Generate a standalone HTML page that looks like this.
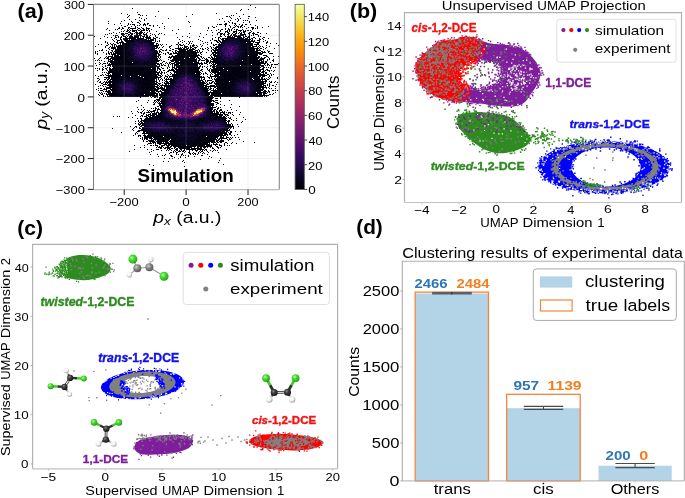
<!DOCTYPE html>
<html><head><meta charset="utf-8"><style>
html,body{margin:0;padding:0;background:#fff;overflow:hidden}
svg{display:block;filter:blur(0.35px)}
text{font-family:"Liberation Sans",sans-serif}
</style></head><body>
<svg width="685" height="498" viewBox="0 0 685 498" font-family="'Liberation Sans', sans-serif">
<rect width="685" height="498" fill="#fff"/>
<g id="densityA">
<g shape-rendering="crispEdges"><path fill="#02020e" d="M250 5h1v1h-1zM255 7h1v1h-1zM132 8h1v1h-1zM241 9h1v1h-1zM248 9h1v1h-1zM240 10h1v1h-1zM158 11h1v1h-1zM137 12h1v1h-1zM121 13h1v1h-1zM216 13h1v1h-1zM236 13h1v1h-1zM127 14h1v1h-1zM138 14h2v1h-2zM192 14h1v1h-1zM243 14h1v1h-1zM129 15h1v1h-1zM140 15h1v1h-1zM142 15h1v1h-1zM146 15h1v1h-1zM231 15h1v1h-1zM233 15h1v1h-1zM128 16h1v1h-1zM155 16h1v1h-1zM186 16h1v1h-1zM226 16h2v1h-2zM229 16h1v1h-1zM239 16h1v1h-1zM248 16h2v1h-2zM127 17h1v1h-1zM139 17h1v1h-1zM230 17h1v1h-1zM255 17h1v1h-1zM141 18h1v1h-1zM146 18h1v1h-1zM168 18h1v1h-1zM222 18h1v1h-1zM231 18h1v1h-1zM237 18h1v1h-1zM240 18h1v1h-1zM248 18h1v1h-1zM129 19h1v1h-1zM135 19h1v1h-1zM144 19h1v1h-1zM219 19h1v1h-1zM235 19h1v1h-1zM238 19h1v1h-1zM124 20h1v1h-1zM139 20h1v1h-1zM144 20h1v1h-1zM230 20h1v1h-1zM238 20h1v1h-1zM243 20h1v1h-1zM245 20h1v1h-1zM247 20h1v1h-1zM256 20h1v1h-1zM108 21h1v1h-1zM121 21h1v1h-1zM131 21h1v1h-1zM140 21h1v1h-1zM188 21h1v1h-1zM224 21h1v1h-1zM228 21h1v1h-1zM237 21h1v1h-1zM249 21h1v1h-1zM132 22h1v1h-1zM137 22h2v1h-2zM189 22h1v1h-1zM229 22h1v1h-1zM232 22h1v1h-1zM243 22h1v1h-1zM249 22h1v1h-1zM108 23h1v1h-1zM120 23h1v1h-1zM128 23h1v1h-1zM139 23h1v1h-1zM144 23h1v1h-1zM147 23h2v1h-2zM162 23h1v1h-1zM225 23h2v1h-2zM232 23h1v1h-1zM234 23h2v1h-2zM114 24h1v1h-1zM128 24h1v1h-1zM130 24h1v1h-1zM132 24h3v1h-3zM140 24h1v1h-1zM143 24h3v1h-3zM147 24h1v1h-1zM217 24h1v1h-1zM219 24h3v1h-3zM224 24h3v1h-3zM235 24h1v1h-1zM239 24h1v1h-1zM242 24h1v1h-1zM245 24h2v1h-2zM250 24h1v1h-1zM121 25h1v1h-1zM127 25h1v1h-1zM134 25h1v1h-1zM137 25h1v1h-1zM139 25h1v1h-1zM143 25h1v1h-1zM145 25h1v1h-1zM149 25h2v1h-2zM153 25h1v1h-1zM157 25h1v1h-1zM225 25h1v1h-1zM229 25h1v1h-1zM234 25h1v1h-1zM236 25h1v1h-1zM241 25h2v1h-2zM255 25h1v1h-1zM124 26h2v1h-2zM131 26h1v1h-1zM135 26h1v1h-1zM153 26h1v1h-1zM164 26h1v1h-1zM190 26h1v1h-1zM212 26h1v1h-1zM216 26h1v1h-1zM225 26h1v1h-1zM230 26h1v1h-1zM235 26h1v1h-1zM237 26h2v1h-2zM240 26h2v1h-2zM244 26h1v1h-1zM257 26h1v1h-1zM268 26h1v1h-1zM119 27h1v1h-1zM122 27h1v1h-1zM128 27h2v1h-2zM135 27h1v1h-1zM137 27h1v1h-1zM141 27h1v1h-1zM146 27h1v1h-1zM159 27h1v1h-1zM208 27h1v1h-1zM213 27h2v1h-2zM230 27h1v1h-1zM233 27h2v1h-2zM238 27h1v1h-1zM240 27h1v1h-1zM242 27h1v1h-1zM248 27h1v1h-1zM251 27h3v1h-3zM257 27h1v1h-1zM262 27h1v1h-1zM107 28h1v1h-1zM118 28h2v1h-2zM122 28h2v1h-2zM128 28h1v1h-1zM130 28h6v1h-6zM138 28h2v1h-2zM142 28h2v1h-2zM146 28h4v1h-4zM164 28h1v1h-1zM208 28h1v1h-1zM225 28h1v1h-1zM228 28h1v1h-1zM232 28h1v1h-1zM246 28h1v1h-1zM252 28h2v1h-2zM255 28h1v1h-1zM257 28h1v1h-1zM106 29h1v1h-1zM115 29h1v1h-1zM117 29h1v1h-1zM121 29h1v1h-1zM127 29h1v1h-1zM129 29h1v1h-1zM132 29h1v1h-1zM137 29h1v1h-1zM140 29h1v1h-1zM143 29h2v1h-2zM146 29h1v1h-1zM148 29h1v1h-1zM151 29h1v1h-1zM178 29h1v1h-1zM218 29h1v1h-1zM221 29h2v1h-2zM225 29h1v1h-1zM228 29h2v1h-2zM231 29h1v1h-1zM234 29h1v1h-1zM236 29h2v1h-2zM242 29h1v1h-1zM252 29h1v1h-1zM109 30h1v1h-1zM124 30h1v1h-1zM127 30h2v1h-2zM130 30h1v1h-1zM132 30h5v1h-5zM138 30h2v1h-2zM141 30h4v1h-4zM146 30h2v1h-2zM149 30h1v1h-1zM172 30h1v1h-1zM207 30h1v1h-1zM211 30h1v1h-1zM216 30h1v1h-1zM220 30h1v1h-1zM227 30h1v1h-1zM229 30h1v1h-1zM231 30h1v1h-1zM236 30h1v1h-1zM238 30h4v1h-4zM243 30h1v1h-1zM245 30h1v1h-1zM247 30h2v1h-2zM250 30h1v1h-1zM121 31h1v1h-1zM123 31h1v1h-1zM126 31h2v1h-2zM129 31h1v1h-1zM132 31h3v1h-3zM136 31h1v1h-1zM140 31h2v1h-2zM149 31h1v1h-1zM156 31h1v1h-1zM220 31h1v1h-1zM225 31h3v1h-3zM229 31h1v1h-1zM233 31h4v1h-4zM240 31h1v1h-1zM243 31h3v1h-3zM251 31h1v1h-1zM113 32h1v1h-1zM119 32h1v1h-1zM128 32h3v1h-3zM135 32h3v1h-3zM139 32h4v1h-4zM144 32h1v1h-1zM147 32h1v1h-1zM212 32h1v1h-1zM218 32h2v1h-2zM225 32h1v1h-1zM227 32h2v1h-2zM233 32h2v1h-2zM236 32h1v1h-1zM239 32h1v1h-1zM241 32h1v1h-1zM243 32h2v1h-2zM249 32h2v1h-2zM253 32h1v1h-1zM257 32h2v1h-2zM109 33h1v1h-1zM111 33h1v1h-1zM116 33h1v1h-1zM121 33h3v1h-3zM125 33h3v1h-3zM130 33h3v1h-3zM134 33h1v1h-1zM136 33h6v1h-6zM143 33h1v1h-1zM146 33h1v1h-1zM150 33h1v1h-1zM159 33h1v1h-1zM161 33h1v1h-1zM176 33h1v1h-1zM189 33h1v1h-1zM200 33h1v1h-1zM217 33h1v1h-1zM220 33h3v1h-3zM224 33h1v1h-1zM228 33h2v1h-2zM232 33h1v1h-1zM235 33h2v1h-2zM238 33h1v1h-1zM240 33h2v1h-2zM244 33h1v1h-1zM248 33h2v1h-2zM252 33h3v1h-3zM260 33h1v1h-1zM266 33h1v1h-1zM105 34h1v1h-1zM107 34h1v1h-1zM121 34h4v1h-4zM128 34h2v1h-2zM131 34h2v1h-2zM136 34h2v1h-2zM139 34h2v1h-2zM143 34h4v1h-4zM152 34h1v1h-1zM154 34h1v1h-1zM158 34h1v1h-1zM164 34h1v1h-1zM206 34h1v1h-1zM217 34h1v1h-1zM220 34h2v1h-2zM223 34h2v1h-2zM227 34h2v1h-2zM231 34h1v1h-1zM233 34h3v1h-3zM240 34h6v1h-6zM249 34h1v1h-1zM253 34h1v1h-1zM255 34h3v1h-3zM113 35h1v1h-1zM115 35h3v1h-3zM122 35h2v1h-2zM126 35h1v1h-1zM128 35h1v1h-1zM130 35h2v1h-2zM134 35h8v1h-8zM144 35h1v1h-1zM146 35h2v1h-2zM150 35h1v1h-1zM155 35h1v1h-1zM212 35h1v1h-1zM220 35h1v1h-1zM224 35h1v1h-1zM228 35h1v1h-1zM230 35h2v1h-2zM233 35h4v1h-4zM238 35h6v1h-6zM245 35h1v1h-1zM249 35h1v1h-1zM251 35h1v1h-1zM253 35h1v1h-1zM258 35h1v1h-1zM94 36h1v1h-1zM104 36h1v1h-1zM115 36h1v1h-1zM118 36h1v1h-1zM121 36h1v1h-1zM123 36h3v1h-3zM127 36h1v1h-1zM129 36h4v1h-4zM134 36h5v1h-5zM140 36h1v1h-1zM142 36h3v1h-3zM146 36h2v1h-2zM149 36h1v1h-1zM155 36h1v1h-1zM182 36h1v1h-1zM187 36h1v1h-1zM199 36h1v1h-1zM220 36h2v1h-2zM225 36h1v1h-1zM227 36h4v1h-4zM232 36h1v1h-1zM234 36h7v1h-7zM243 36h1v1h-1zM245 36h2v1h-2zM248 36h2v1h-2zM258 36h1v1h-1zM260 36h1v1h-1zM107 37h1v1h-1zM111 37h1v1h-1zM115 37h2v1h-2zM118 37h1v1h-1zM120 37h2v1h-2zM125 37h2v1h-2zM129 37h10v1h-10zM140 37h1v1h-1zM143 37h1v1h-1zM145 37h6v1h-6zM153 37h1v1h-1zM156 37h2v1h-2zM177 37h1v1h-1zM189 37h1v1h-1zM203 37h1v1h-1zM215 37h1v1h-1zM218 37h2v1h-2zM227 37h8v1h-8zM237 37h5v1h-5zM243 37h2v1h-2zM247 37h3v1h-3zM253 37h2v1h-2zM263 37h2v1h-2zM100 38h1v1h-1zM114 38h1v1h-1zM120 38h1v1h-1zM123 38h13v1h-13zM137 38h7v1h-7zM146 38h5v1h-5zM153 38h3v1h-3zM159 38h1v1h-1zM212 38h1v1h-1zM218 38h1v1h-1zM220 38h1v1h-1zM222 38h22v1h-22zM245 38h3v1h-3zM249 38h1v1h-1zM251 38h2v1h-2zM255 38h1v1h-1zM259 38h1v1h-1zM262 38h1v1h-1zM268 38h1v1h-1zM112 39h1v1h-1zM116 39h1v1h-1zM120 39h2v1h-2zM123 39h5v1h-5zM129 39h1v1h-1zM131 39h3v1h-3zM135 39h1v1h-1zM145 39h2v1h-2zM148 39h1v1h-1zM150 39h4v1h-4zM155 39h1v1h-1zM179 39h1v1h-1zM198 39h1v1h-1zM212 39h1v1h-1zM218 39h1v1h-1zM221 39h3v1h-3zM225 39h3v1h-3zM238 39h13v1h-13zM252 39h1v1h-1zM259 39h2v1h-2zM263 39h1v1h-1zM113 40h1v1h-1zM117 40h3v1h-3zM121 40h1v1h-1zM124 40h10v1h-10zM148 40h6v1h-6zM155 40h1v1h-1zM159 40h1v1h-1zM182 40h1v1h-1zM200 40h1v1h-1zM210 40h1v1h-1zM214 40h3v1h-3zM218 40h2v1h-2zM222 40h3v1h-3zM240 40h1v1h-1zM242 40h8v1h-8zM251 40h2v1h-2zM254 40h1v1h-1zM257 40h3v1h-3zM265 40h1v1h-1zM105 41h1v1h-1zM114 41h1v1h-1zM117 41h1v1h-1zM121 41h2v1h-2zM125 41h4v1h-4zM130 41h1v1h-1zM148 41h1v1h-1zM150 41h2v1h-2zM155 41h1v1h-1zM157 41h1v1h-1zM159 41h1v1h-1zM180 41h1v1h-1zM184 41h1v1h-1zM188 41h1v1h-1zM190 41h1v1h-1zM192 41h1v1h-1zM202 41h1v1h-1zM216 41h2v1h-2zM219 41h2v1h-2zM222 41h1v1h-1zM241 41h1v1h-1zM243 41h12v1h-12zM259 41h1v1h-1zM263 41h1v1h-1zM267 41h1v1h-1zM105 42h1v1h-1zM107 42h1v1h-1zM116 42h2v1h-2zM119 42h5v1h-5zM126 42h3v1h-3zM150 42h5v1h-5zM178 42h1v1h-1zM182 42h1v1h-1zM189 42h1v1h-1zM205 42h1v1h-1zM207 42h1v1h-1zM211 42h1v1h-1zM217 42h2v1h-2zM220 42h2v1h-2zM245 42h1v1h-1zM247 42h4v1h-4zM253 42h1v1h-1zM255 42h5v1h-5zM266 42h2v1h-2zM107 43h1v1h-1zM110 43h1v1h-1zM113 43h1v1h-1zM117 43h2v1h-2zM120 43h1v1h-1zM122 43h5v1h-5zM128 43h1v1h-1zM152 43h2v1h-2zM156 43h2v1h-2zM178 43h1v1h-1zM186 43h1v1h-1zM189 43h1v1h-1zM191 43h1v1h-1zM203 43h1v1h-1zM211 43h1v1h-1zM219 43h1v1h-1zM246 43h7v1h-7zM257 43h2v1h-2zM266 43h1v1h-1zM270 43h1v1h-1zM276 43h1v1h-1zM98 44h1v1h-1zM101 44h1v1h-1zM108 44h1v1h-1zM111 44h2v1h-2zM114 44h2v1h-2zM120 44h1v1h-1zM122 44h5v1h-5zM128 44h1v1h-1zM151 44h1v1h-1zM153 44h1v1h-1zM156 44h1v1h-1zM158 44h1v1h-1zM160 44h1v1h-1zM162 44h1v1h-1zM166 44h1v1h-1zM176 44h2v1h-2zM179 44h2v1h-2zM183 44h1v1h-1zM188 44h1v1h-1zM193 44h1v1h-1zM200 44h1v1h-1zM207 44h1v1h-1zM213 44h1v1h-1zM215 44h2v1h-2zM218 44h2v1h-2zM247 44h6v1h-6zM254 44h5v1h-5zM106 45h2v1h-2zM112 45h1v1h-1zM114 45h1v1h-1zM116 45h1v1h-1zM118 45h7v1h-7zM126 45h1v1h-1zM153 45h6v1h-6zM161 45h1v1h-1zM171 45h1v1h-1zM178 45h1v1h-1zM180 45h3v1h-3zM184 45h1v1h-1zM190 45h1v1h-1zM192 45h3v1h-3zM196 45h1v1h-1zM202 45h1v1h-1zM213 45h2v1h-2zM218 45h1v1h-1zM243 45h1v1h-1zM247 45h1v1h-1zM249 45h4v1h-4zM256 45h1v1h-1zM259 45h1v1h-1zM266 45h1v1h-1zM278 45h1v1h-1zM95 46h1v1h-1zM105 46h1v1h-1zM110 46h1v1h-1zM112 46h1v1h-1zM114 46h1v1h-1zM116 46h9v1h-9zM154 46h4v1h-4zM163 46h1v1h-1zM169 46h2v1h-2zM178 46h1v1h-1zM184 46h4v1h-4zM190 46h1v1h-1zM192 46h2v1h-2zM197 46h1v1h-1zM201 46h1v1h-1zM210 46h1v1h-1zM216 46h2v1h-2zM246 46h2v1h-2zM249 46h2v1h-2zM252 46h5v1h-5zM258 46h1v1h-1zM260 46h1v1h-1zM262 46h1v1h-1zM269 46h1v1h-1zM105 47h1v1h-1zM109 47h1v1h-1zM111 47h5v1h-5zM117 47h10v1h-10zM154 47h1v1h-1zM156 47h2v1h-2zM159 47h1v1h-1zM162 47h1v1h-1zM169 47h1v1h-1zM178 47h1v1h-1zM180 47h1v1h-1zM182 47h1v1h-1zM184 47h3v1h-3zM188 47h1v1h-1zM190 47h2v1h-2zM194 47h3v1h-3zM207 47h1v1h-1zM211 47h1v1h-1zM213 47h1v1h-1zM215 47h3v1h-3zM244 47h1v1h-1zM247 47h7v1h-7zM257 47h1v1h-1zM259 47h1v1h-1zM263 47h1v1h-1zM266 47h1v1h-1zM108 48h1v1h-1zM111 48h5v1h-5zM117 48h9v1h-9zM154 48h3v1h-3zM158 48h1v1h-1zM170 48h1v1h-1zM175 48h7v1h-7zM183 48h2v1h-2zM186 48h3v1h-3zM190 48h1v1h-1zM192 48h2v1h-2zM195 48h1v1h-1zM200 48h1v1h-1zM202 48h1v1h-1zM205 48h1v1h-1zM208 48h1v1h-1zM211 48h1v1h-1zM214 48h3v1h-3zM248 48h11v1h-11zM260 48h2v1h-2zM265 48h1v1h-1zM274 48h1v1h-1zM102 49h1v1h-1zM109 49h1v1h-1zM113 49h1v1h-1zM115 49h9v1h-9zM160 49h2v1h-2zM166 49h1v1h-1zM172 49h2v1h-2zM178 49h10v1h-10zM189 49h6v1h-6zM198 49h1v1h-1zM202 49h2v1h-2zM207 49h1v1h-1zM212 49h2v1h-2zM215 49h2v1h-2zM245 49h3v1h-3zM250 49h1v1h-1zM252 49h3v1h-3zM256 49h2v1h-2zM259 49h1v1h-1zM263 49h1v1h-1zM99 50h1v1h-1zM101 50h2v1h-2zM106 50h1v1h-1zM111 50h2v1h-2zM115 50h7v1h-7zM123 50h1v1h-1zM125 50h1v1h-1zM155 50h2v1h-2zM159 50h1v1h-1zM162 50h2v1h-2zM165 50h2v1h-2zM169 50h2v1h-2zM175 50h2v1h-2zM179 50h7v1h-7zM187 50h6v1h-6zM195 50h3v1h-3zM199 50h1v1h-1zM208 50h1v1h-1zM211 50h1v1h-1zM213 50h4v1h-4zM247 50h1v1h-1zM249 50h6v1h-6zM256 50h5v1h-5zM267 50h1v1h-1zM95 51h1v1h-1zM97 51h1v1h-1zM108 51h1v1h-1zM112 51h1v1h-1zM114 51h9v1h-9zM124 51h2v1h-2zM156 51h2v1h-2zM159 51h2v1h-2zM172 51h1v1h-1zM175 51h1v1h-1zM177 51h19v1h-19zM197 51h1v1h-1zM199 51h1v1h-1zM202 51h1v1h-1zM211 51h1v1h-1zM214 51h2v1h-2zM248 51h1v1h-1zM250 51h8v1h-8zM261 51h2v1h-2zM264 51h1v1h-1zM268 51h2v1h-2zM95 52h1v1h-1zM103 52h1v1h-1zM108 52h1v1h-1zM110 52h2v1h-2zM113 52h1v1h-1zM115 52h12v1h-12zM156 52h2v1h-2zM159 52h1v1h-1zM161 52h1v1h-1zM167 52h2v1h-2zM173 52h1v1h-1zM175 52h2v1h-2zM178 52h21v1h-21zM200 52h2v1h-2zM206 52h1v1h-1zM212 52h5v1h-5zM246 52h15v1h-15zM262 52h4v1h-4zM268 52h1v1h-1zM95 53h1v1h-1zM97 53h1v1h-1zM106 53h1v1h-1zM108 53h2v1h-2zM111 53h1v1h-1zM113 53h10v1h-10zM124 53h2v1h-2zM128 53h1v1h-1zM156 53h3v1h-3zM163 53h1v1h-1zM165 53h1v1h-1zM168 53h1v1h-1zM170 53h2v1h-2zM173 53h11v1h-11zM185 53h12v1h-12zM200 53h1v1h-1zM212 53h2v1h-2zM215 53h2v1h-2zM246 53h4v1h-4zM252 53h11v1h-11zM269 53h4v1h-4zM97 54h1v1h-1zM106 54h1v1h-1zM109 54h1v1h-1zM111 54h5v1h-5zM117 54h6v1h-6zM124 54h2v1h-2zM156 54h1v1h-1zM158 54h3v1h-3zM165 54h1v1h-1zM169 54h3v1h-3zM177 54h3v1h-3zM181 54h9v1h-9zM191 54h6v1h-6zM198 54h1v1h-1zM201 54h1v1h-1zM211 54h1v1h-1zM213 54h3v1h-3zM245 54h2v1h-2zM248 54h10v1h-10zM259 54h3v1h-3zM112 55h1v1h-1zM114 55h5v1h-5zM120 55h2v1h-2zM123 55h1v1h-1zM125 55h1v1h-1zM156 55h1v1h-1zM158 55h2v1h-2zM172 55h1v1h-1zM175 55h10v1h-10zM186 55h7v1h-7zM194 55h6v1h-6zM210 55h1v1h-1zM213 55h3v1h-3zM217 55h1v1h-1zM245 55h2v1h-2zM249 55h9v1h-9zM263 55h4v1h-4zM106 56h1v1h-1zM108 56h5v1h-5zM114 56h5v1h-5zM120 56h3v1h-3zM124 56h1v1h-1zM127 56h3v1h-3zM156 56h3v1h-3zM160 56h1v1h-1zM169 56h1v1h-1zM171 56h16v1h-16zM188 56h1v1h-1zM190 56h8v1h-8zM200 56h2v1h-2zM211 56h1v1h-1zM214 56h2v1h-2zM243 56h1v1h-1zM245 56h12v1h-12zM258 56h2v1h-2zM266 56h2v1h-2zM273 56h1v1h-1zM278 56h1v1h-1zM100 57h1v1h-1zM105 57h1v1h-1zM107 57h2v1h-2zM111 57h16v1h-16zM130 57h1v1h-1zM155 57h2v1h-2zM158 57h1v1h-1zM160 57h1v1h-1zM168 57h4v1h-4zM173 57h8v1h-8zM182 57h2v1h-2zM186 57h3v1h-3zM191 57h5v1h-5zM197 57h2v1h-2zM201 57h1v1h-1zM203 57h1v1h-1zM208 57h2v1h-2zM211 57h2v1h-2zM214 57h1v1h-1zM243 57h1v1h-1zM245 57h1v1h-1zM247 57h2v1h-2zM250 57h2v1h-2zM253 57h7v1h-7zM261 57h1v1h-1zM264 57h2v1h-2zM268 57h1v1h-1zM94 58h1v1h-1zM99 58h1v1h-1zM104 58h1v1h-1zM106 58h3v1h-3zM110 58h9v1h-9zM120 58h3v1h-3zM125 58h2v1h-2zM156 58h2v1h-2zM159 58h1v1h-1zM170 58h1v1h-1zM173 58h11v1h-11zM185 58h3v1h-3zM189 58h6v1h-6zM196 58h1v1h-1zM198 58h2v1h-2zM202 58h1v1h-1zM204 58h1v1h-1zM206 58h1v1h-1zM210 58h1v1h-1zM212 58h6v1h-6zM239 58h1v1h-1zM242 58h4v1h-4zM247 58h12v1h-12zM260 58h5v1h-5zM269 58h1v1h-1zM98 59h1v1h-1zM108 59h3v1h-3zM112 59h12v1h-12zM125 59h2v1h-2zM128 59h2v1h-2zM155 59h3v1h-3zM160 59h1v1h-1zM168 59h1v1h-1zM172 59h16v1h-16zM190 59h7v1h-7zM199 59h2v1h-2zM205 59h3v1h-3zM211 59h6v1h-6zM239 59h1v1h-1zM243 59h3v1h-3zM247 59h3v1h-3zM251 59h7v1h-7zM259 59h5v1h-5zM267 59h1v1h-1zM269 59h1v1h-1zM273 59h1v1h-1zM95 60h1v1h-1zM97 60h1v1h-1zM99 60h1v1h-1zM101 60h1v1h-1zM108 60h1v1h-1zM110 60h3v1h-3zM114 60h3v1h-3zM119 60h1v1h-1zM121 60h4v1h-4zM126 60h3v1h-3zM130 60h1v1h-1zM152 60h1v1h-1zM155 60h5v1h-5zM161 60h1v1h-1zM170 60h15v1h-15zM186 60h11v1h-11zM198 60h2v1h-2zM201 60h4v1h-4zM206 60h3v1h-3zM210 60h1v1h-1zM213 60h4v1h-4zM240 60h1v1h-1zM243 60h6v1h-6zM250 60h2v1h-2zM253 60h9v1h-9zM263 60h1v1h-1zM267 60h1v1h-1zM272 60h2v1h-2zM104 61h1v1h-1zM108 61h7v1h-7zM116 61h4v1h-4zM121 61h8v1h-8zM131 61h1v1h-1zM156 61h3v1h-3zM163 61h2v1h-2zM171 61h3v1h-3zM175 61h4v1h-4zM180 61h3v1h-3zM184 61h4v1h-4zM189 61h8v1h-8zM198 61h1v1h-1zM206 61h3v1h-3zM210 61h6v1h-6zM218 61h1v1h-1zM242 61h3v1h-3zM247 61h5v1h-5zM253 61h7v1h-7zM261 61h3v1h-3zM265 61h2v1h-2zM273 61h1v1h-1zM99 62h1v1h-1zM107 62h1v1h-1zM110 62h12v1h-12zM123 62h3v1h-3zM127 62h4v1h-4zM137 62h1v1h-1zM151 62h1v1h-1zM154 62h3v1h-3zM162 62h1v1h-1zM166 62h1v1h-1zM169 62h2v1h-2zM174 62h9v1h-9zM186 62h7v1h-7zM194 62h5v1h-5zM201 62h1v1h-1zM204 62h1v1h-1zM206 62h2v1h-2zM209 62h2v1h-2zM212 62h7v1h-7zM238 62h1v1h-1zM240 62h2v1h-2zM243 62h1v1h-1zM245 62h19v1h-19zM265 62h2v1h-2zM270 62h1v1h-1zM95 63h1v1h-1zM100 63h1v1h-1zM103 63h3v1h-3zM107 63h1v1h-1zM109 63h1v1h-1zM111 63h16v1h-16zM128 63h1v1h-1zM130 63h1v1h-1zM132 63h1v1h-1zM152 63h7v1h-7zM160 63h2v1h-2zM165 63h1v1h-1zM167 63h1v1h-1zM169 63h1v1h-1zM171 63h4v1h-4zM176 63h2v1h-2zM179 63h24v1h-24zM204 63h3v1h-3zM209 63h1v1h-1zM211 63h1v1h-1zM213 63h1v1h-1zM215 63h5v1h-5zM222 63h1v1h-1zM236 63h1v1h-1zM239 63h1v1h-1zM241 63h5v1h-5zM247 63h1v1h-1zM249 63h17v1h-17zM267 63h1v1h-1zM278 63h1v1h-1zM99 64h1v1h-1zM102 64h1v1h-1zM108 64h13v1h-13zM122 64h10v1h-10zM133 64h1v1h-1zM150 64h1v1h-1zM152 64h4v1h-4zM157 64h3v1h-3zM161 64h1v1h-1zM163 64h1v1h-1zM168 64h1v1h-1zM170 64h1v1h-1zM172 64h1v1h-1zM174 64h5v1h-5zM181 64h3v1h-3zM185 64h5v1h-5zM191 64h2v1h-2zM194 64h4v1h-4zM199 64h1v1h-1zM201 64h2v1h-2zM207 64h1v1h-1zM212 64h4v1h-4zM217 64h1v1h-1zM220 64h1v1h-1zM225 64h1v1h-1zM232 64h1v1h-1zM235 64h1v1h-1zM237 64h2v1h-2zM240 64h1v1h-1zM242 64h1v1h-1zM244 64h1v1h-1zM246 64h4v1h-4zM252 64h9v1h-9zM264 64h1v1h-1zM267 64h2v1h-2zM271 64h2v1h-2zM274 64h4v1h-4zM96 65h1v1h-1zM105 65h1v1h-1zM107 65h4v1h-4zM112 65h20v1h-20zM133 65h2v1h-2zM136 65h1v1h-1zM138 65h2v1h-2zM141 65h1v1h-1zM147 65h1v1h-1zM152 65h5v1h-5zM159 65h1v1h-1zM161 65h2v1h-2zM164 65h2v1h-2zM168 65h1v1h-1zM172 65h1v1h-1zM174 65h19v1h-19zM194 65h4v1h-4zM200 65h1v1h-1zM210 65h2v1h-2zM213 65h2v1h-2zM216 65h4v1h-4zM223 65h4v1h-4zM228 65h1v1h-1zM231 65h1v1h-1zM233 65h1v1h-1zM236 65h4v1h-4zM241 65h2v1h-2zM245 65h7v1h-7zM253 65h11v1h-11zM265 65h1v1h-1zM267 65h1v1h-1zM269 65h1v1h-1zM271 65h1v1h-1zM102 66h1v1h-1zM105 66h1v1h-1zM110 66h1v1h-1zM112 66h5v1h-5zM119 66h1v1h-1zM121 66h4v1h-4zM126 66h1v1h-1zM128 66h7v1h-7zM136 66h1v1h-1zM138 66h2v1h-2zM141 66h3v1h-3zM147 66h1v1h-1zM151 66h9v1h-9zM168 66h1v1h-1zM172 66h1v1h-1zM174 66h1v1h-1zM176 66h4v1h-4zM181 66h2v1h-2zM185 66h2v1h-2zM188 66h2v1h-2zM191 66h7v1h-7zM199 66h2v1h-2zM202 66h1v1h-1zM204 66h1v1h-1zM207 66h1v1h-1zM210 66h1v1h-1zM212 66h8v1h-8zM221 66h2v1h-2zM224 66h2v1h-2zM227 66h1v1h-1zM229 66h3v1h-3zM234 66h1v1h-1zM236 66h6v1h-6zM243 66h1v1h-1zM245 66h2v1h-2zM248 66h1v1h-1zM250 66h4v1h-4zM255 66h5v1h-5zM261 66h3v1h-3zM271 66h1v1h-1zM103 67h1v1h-1zM107 67h1v1h-1zM109 67h1v1h-1zM113 67h21v1h-21zM135 67h7v1h-7zM143 67h5v1h-5zM149 67h1v1h-1zM151 67h5v1h-5zM157 67h2v1h-2zM161 67h1v1h-1zM167 67h1v1h-1zM169 67h1v1h-1zM172 67h3v1h-3zM176 67h8v1h-8zM188 67h1v1h-1zM190 67h10v1h-10zM202 67h1v1h-1zM206 67h1v1h-1zM212 67h3v1h-3zM216 67h11v1h-11zM228 67h15v1h-15zM244 67h4v1h-4zM249 67h2v1h-2zM252 67h1v1h-1zM254 67h7v1h-7zM263 67h2v1h-2zM266 67h1v1h-1zM268 67h1v1h-1zM270 67h1v1h-1zM273 67h1v1h-1zM275 67h1v1h-1zM95 68h1v1h-1zM97 68h1v1h-1zM99 68h1v1h-1zM102 68h1v1h-1zM105 68h2v1h-2zM109 68h2v1h-2zM112 68h7v1h-7zM120 68h11v1h-11zM133 68h3v1h-3zM137 68h1v1h-1zM139 68h3v1h-3zM143 68h8v1h-8zM152 68h4v1h-4zM157 68h3v1h-3zM162 68h2v1h-2zM167 68h1v1h-1zM172 68h1v1h-1zM174 68h3v1h-3zM178 68h1v1h-1zM180 68h1v1h-1zM182 68h1v1h-1zM184 68h1v1h-1zM189 68h3v1h-3zM193 68h7v1h-7zM207 68h1v1h-1zM210 68h1v1h-1zM213 68h10v1h-10zM226 68h11v1h-11zM238 68h1v1h-1zM240 68h2v1h-2zM243 68h13v1h-13zM257 68h3v1h-3zM262 68h2v1h-2zM270 68h1v1h-1zM99 69h1v1h-1zM102 69h2v1h-2zM106 69h1v1h-1zM109 69h12v1h-12zM122 69h6v1h-6zM129 69h1v1h-1zM132 69h6v1h-6zM139 69h5v1h-5zM145 69h11v1h-11zM157 69h1v1h-1zM159 69h2v1h-2zM169 69h1v1h-1zM171 69h3v1h-3zM175 69h2v1h-2zM178 69h6v1h-6zM185 69h1v1h-1zM189 69h4v1h-4zM195 69h4v1h-4zM201 69h2v1h-2zM207 69h1v1h-1zM209 69h1v1h-1zM211 69h7v1h-7zM219 69h4v1h-4zM224 69h2v1h-2zM227 69h1v1h-1zM229 69h5v1h-5zM235 69h10v1h-10zM246 69h1v1h-1zM249 69h15v1h-15zM266 69h2v1h-2zM97 70h1v1h-1zM102 70h1v1h-1zM107 70h1v1h-1zM109 70h17v1h-17zM127 70h11v1h-11zM139 70h5v1h-5zM145 70h1v1h-1zM147 70h3v1h-3zM151 70h5v1h-5zM157 70h1v1h-1zM160 70h1v1h-1zM163 70h2v1h-2zM168 70h7v1h-7zM176 70h2v1h-2zM183 70h1v1h-1zM191 70h3v1h-3zM195 70h4v1h-4zM200 70h2v1h-2zM208 70h2v1h-2zM211 70h16v1h-16zM228 70h1v1h-1zM230 70h7v1h-7zM238 70h5v1h-5zM244 70h8v1h-8zM253 70h8v1h-8zM263 70h1v1h-1zM265 70h1v1h-1zM267 70h3v1h-3zM271 70h1v1h-1zM274 70h1v1h-1zM108 71h10v1h-10zM119 71h3v1h-3zM123 71h19v1h-19zM144 71h5v1h-5zM150 71h7v1h-7zM159 71h1v1h-1zM161 71h1v1h-1zM167 71h2v1h-2zM173 71h6v1h-6zM189 71h11v1h-11zM202 71h1v1h-1zM209 71h1v1h-1zM211 71h8v1h-8zM220 71h2v1h-2zM223 71h4v1h-4zM228 71h7v1h-7zM236 71h14v1h-14zM251 71h4v1h-4zM256 71h5v1h-5zM262 71h3v1h-3zM269 71h1v1h-1zM273 71h1v1h-1zM102 72h1v1h-1zM104 72h1v1h-1zM106 72h1v1h-1zM108 72h11v1h-11zM120 72h6v1h-6zM128 72h14v1h-14zM143 72h17v1h-17zM161 72h2v1h-2zM164 72h1v1h-1zM166 72h1v1h-1zM170 72h1v1h-1zM174 72h4v1h-4zM186 72h1v1h-1zM192 72h1v1h-1zM194 72h7v1h-7zM205 72h1v1h-1zM210 72h1v1h-1zM212 72h11v1h-11zM224 72h3v1h-3zM229 72h1v1h-1zM232 72h2v1h-2zM235 72h11v1h-11zM247 72h6v1h-6zM254 72h6v1h-6zM261 72h3v1h-3zM265 72h2v1h-2zM107 73h3v1h-3zM112 73h26v1h-26zM139 73h3v1h-3zM143 73h2v1h-2zM147 73h4v1h-4zM152 73h4v1h-4zM157 73h2v1h-2zM160 73h2v1h-2zM164 73h1v1h-1zM171 73h1v1h-1zM174 73h1v1h-1zM176 73h5v1h-5zM194 73h1v1h-1zM196 73h4v1h-4zM201 73h1v1h-1zM203 73h1v1h-1zM205 73h2v1h-2zM211 73h1v1h-1zM214 73h2v1h-2zM217 73h8v1h-8zM227 73h15v1h-15zM243 73h3v1h-3zM247 73h14v1h-14zM263 73h1v1h-1zM265 73h2v1h-2zM270 73h1v1h-1zM102 74h1v1h-1zM105 74h1v1h-1zM108 74h1v1h-1zM110 74h1v1h-1zM112 74h6v1h-6zM119 74h1v1h-1zM122 74h4v1h-4zM127 74h20v1h-20zM148 74h2v1h-2zM151 74h8v1h-8zM161 74h1v1h-1zM167 74h1v1h-1zM170 74h1v1h-1zM172 74h5v1h-5zM193 74h1v1h-1zM195 74h6v1h-6zM203 74h1v1h-1zM207 74h1v1h-1zM210 74h1v1h-1zM212 74h1v1h-1zM215 74h8v1h-8zM224 74h8v1h-8zM233 74h9v1h-9zM243 74h5v1h-5zM249 74h3v1h-3zM253 74h12v1h-12zM267 74h2v1h-2zM271 74h1v1h-1zM273 74h1v1h-1zM95 75h1v1h-1zM100 75h2v1h-2zM103 75h1v1h-1zM106 75h15v1h-15zM122 75h4v1h-4zM127 75h4v1h-4zM132 75h5v1h-5zM139 75h14v1h-14zM154 75h3v1h-3zM158 75h3v1h-3zM162 75h1v1h-1zM165 75h1v1h-1zM168 75h1v1h-1zM172 75h6v1h-6zM194 75h2v1h-2zM197 75h3v1h-3zM210 75h1v1h-1zM214 75h5v1h-5zM220 75h18v1h-18zM239 75h1v1h-1zM241 75h7v1h-7zM249 75h2v1h-2zM254 75h4v1h-4zM259 75h8v1h-8zM269 75h1v1h-1zM271 75h1v1h-1zM98 76h1v1h-1zM108 76h12v1h-12zM121 76h3v1h-3zM126 76h2v1h-2zM129 76h1v1h-1zM131 76h8v1h-8zM141 76h1v1h-1zM143 76h8v1h-8zM153 76h5v1h-5zM160 76h2v1h-2zM165 76h3v1h-3zM169 76h7v1h-7zM196 76h6v1h-6zM203 76h1v1h-1zM207 76h1v1h-1zM210 76h17v1h-17zM228 76h6v1h-6zM235 76h8v1h-8zM244 76h1v1h-1zM247 76h8v1h-8zM256 76h5v1h-5zM262 76h3v1h-3zM269 76h1v1h-1zM104 77h6v1h-6zM111 77h9v1h-9zM121 77h1v1h-1zM127 77h1v1h-1zM134 77h1v1h-1zM137 77h6v1h-6zM144 77h6v1h-6zM151 77h10v1h-10zM164 77h1v1h-1zM167 77h1v1h-1zM169 77h1v1h-1zM173 77h2v1h-2zM197 77h8v1h-8zM208 77h2v1h-2zM211 77h1v1h-1zM215 77h1v1h-1zM217 77h9v1h-9zM227 77h8v1h-8zM236 77h2v1h-2zM239 77h4v1h-4zM244 77h1v1h-1zM246 77h3v1h-3zM250 77h3v1h-3zM254 77h6v1h-6zM261 77h2v1h-2zM268 77h1v1h-1zM270 77h1v1h-1zM277 77h1v1h-1zM97 78h2v1h-2zM106 78h1v1h-1zM108 78h2v1h-2zM111 78h5v1h-5zM117 78h2v1h-2zM120 78h4v1h-4zM128 78h2v1h-2zM131 78h4v1h-4zM136 78h2v1h-2zM139 78h2v1h-2zM142 78h7v1h-7zM150 78h7v1h-7zM158 78h1v1h-1zM161 78h1v1h-1zM164 78h1v1h-1zM166 78h1v1h-1zM168 78h1v1h-1zM170 78h2v1h-2zM173 78h1v1h-1zM197 78h1v1h-1zM199 78h1v1h-1zM201 78h1v1h-1zM204 78h1v1h-1zM209 78h1v1h-1zM211 78h1v1h-1zM214 78h1v1h-1zM216 78h4v1h-4zM221 78h17v1h-17zM239 78h1v1h-1zM250 78h1v1h-1zM253 78h7v1h-7zM261 78h2v1h-2zM264 78h1v1h-1zM266 78h1v1h-1zM269 78h1v1h-1zM277 78h1v1h-1zM99 79h1v1h-1zM104 79h2v1h-2zM107 79h2v1h-2zM110 79h7v1h-7zM118 79h1v1h-1zM121 79h2v1h-2zM128 79h1v1h-1zM136 79h1v1h-1zM140 79h1v1h-1zM142 79h7v1h-7zM151 79h4v1h-4zM156 79h1v1h-1zM158 79h1v1h-1zM160 79h1v1h-1zM162 79h1v1h-1zM165 79h9v1h-9zM198 79h2v1h-2zM201 79h1v1h-1zM203 79h2v1h-2zM212 79h1v1h-1zM214 79h6v1h-6zM221 79h5v1h-5zM227 79h2v1h-2zM230 79h7v1h-7zM248 79h1v1h-1zM251 79h2v1h-2zM254 79h12v1h-12zM267 79h2v1h-2zM98 80h1v1h-1zM107 80h1v1h-1zM109 80h2v1h-2zM113 80h2v1h-2zM116 80h3v1h-3zM120 80h1v1h-1zM139 80h1v1h-1zM141 80h1v1h-1zM143 80h9v1h-9zM153 80h2v1h-2zM156 80h1v1h-1zM159 80h1v1h-1zM162 80h1v1h-1zM164 80h1v1h-1zM166 80h1v1h-1zM170 80h4v1h-4zM199 80h4v1h-4zM205 80h1v1h-1zM207 80h5v1h-5zM215 80h16v1h-16zM232 80h1v1h-1zM234 80h1v1h-1zM239 80h1v1h-1zM253 80h1v1h-1zM256 80h5v1h-5zM262 80h1v1h-1zM265 80h2v1h-2zM97 81h1v1h-1zM100 81h1v1h-1zM104 81h1v1h-1zM106 81h1v1h-1zM108 81h5v1h-5zM114 81h1v1h-1zM116 81h3v1h-3zM139 81h1v1h-1zM141 81h1v1h-1zM143 81h1v1h-1zM145 81h12v1h-12zM159 81h1v1h-1zM165 81h3v1h-3zM169 81h4v1h-4zM199 81h2v1h-2zM202 81h2v1h-2zM205 81h1v1h-1zM207 81h1v1h-1zM212 81h2v1h-2zM215 81h8v1h-8zM224 81h5v1h-5zM230 81h5v1h-5zM254 81h13v1h-13zM269 81h1v1h-1zM271 81h1v1h-1zM275 81h1v1h-1zM99 82h2v1h-2zM103 82h1v1h-1zM105 82h7v1h-7zM114 82h3v1h-3zM138 82h2v1h-2zM142 82h9v1h-9zM152 82h3v1h-3zM156 82h2v1h-2zM162 82h1v1h-1zM164 82h1v1h-1zM166 82h3v1h-3zM170 82h2v1h-2zM200 82h5v1h-5zM206 82h1v1h-1zM209 82h1v1h-1zM211 82h2v1h-2zM214 82h1v1h-1zM216 82h2v1h-2zM219 82h4v1h-4zM224 82h6v1h-6zM231 82h1v1h-1zM233 82h1v1h-1zM256 82h2v1h-2zM259 82h5v1h-5zM265 82h1v1h-1zM270 82h2v1h-2zM274 82h1v1h-1zM277 82h1v1h-1zM101 83h2v1h-2zM105 83h1v1h-1zM107 83h1v1h-1zM109 83h2v1h-2zM112 83h3v1h-3zM140 83h11v1h-11zM152 83h5v1h-5zM158 83h3v1h-3zM164 83h7v1h-7zM200 83h1v1h-1zM202 83h4v1h-4zM207 83h1v1h-1zM209 83h3v1h-3zM214 83h7v1h-7zM222 83h8v1h-8zM232 83h2v1h-2zM258 83h8v1h-8zM269 83h1v1h-1zM95 84h1v1h-1zM103 84h4v1h-4zM108 84h8v1h-8zM140 84h1v1h-1zM143 84h15v1h-15zM159 84h1v1h-1zM162 84h1v1h-1zM165 84h2v1h-2zM168 84h1v1h-1zM202 84h2v1h-2zM206 84h3v1h-3zM215 84h5v1h-5zM222 84h5v1h-5zM228 84h1v1h-1zM231 84h3v1h-3zM257 84h7v1h-7zM267 84h1v1h-1zM269 84h1v1h-1zM276 84h1v1h-1zM100 85h1v1h-1zM102 85h1v1h-1zM107 85h9v1h-9zM137 85h1v1h-1zM141 85h4v1h-4zM147 85h3v1h-3zM151 85h4v1h-4zM157 85h2v1h-2zM160 85h10v1h-10zM201 85h1v1h-1zM203 85h4v1h-4zM210 85h5v1h-5zM216 85h4v1h-4zM221 85h2v1h-2zM224 85h6v1h-6zM232 85h1v1h-1zM256 85h6v1h-6zM263 85h3v1h-3zM267 85h1v1h-1zM269 85h1v1h-1zM272 85h2v1h-2zM98 86h1v1h-1zM103 86h1v1h-1zM105 86h1v1h-1zM109 86h6v1h-6zM142 86h3v1h-3zM146 86h12v1h-12zM159 86h1v1h-1zM161 86h1v1h-1zM164 86h5v1h-5zM205 86h21v1h-21zM228 86h4v1h-4zM257 86h7v1h-7zM265 86h1v1h-1zM269 86h1v1h-1zM275 86h1v1h-1zM106 87h9v1h-9zM116 87h1v1h-1zM139 87h1v1h-1zM141 87h2v1h-2zM144 87h11v1h-11zM156 87h3v1h-3zM160 87h3v1h-3zM164 87h1v1h-1zM166 87h3v1h-3zM170 87h1v1h-1zM203 87h4v1h-4zM208 87h1v1h-1zM210 87h1v1h-1zM214 87h2v1h-2zM217 87h5v1h-5zM223 87h7v1h-7zM231 87h1v1h-1zM259 87h8v1h-8zM268 87h1v1h-1zM98 88h1v1h-1zM100 88h2v1h-2zM104 88h1v1h-1zM106 88h5v1h-5zM112 88h2v1h-2zM139 88h1v1h-1zM143 88h9v1h-9zM153 88h3v1h-3zM157 88h8v1h-8zM166 88h2v1h-2zM202 88h1v1h-1zM204 88h5v1h-5zM210 88h2v1h-2zM213 88h1v1h-1zM216 88h8v1h-8zM225 88h2v1h-2zM228 88h2v1h-2zM233 88h1v1h-1zM256 88h1v1h-1zM259 88h2v1h-2zM262 88h2v1h-2zM266 88h1v1h-1zM269 88h1v1h-1zM271 88h1v1h-1zM275 88h1v1h-1zM96 89h1v1h-1zM103 89h4v1h-4zM110 89h5v1h-5zM142 89h2v1h-2zM145 89h14v1h-14zM161 89h8v1h-8zM204 89h4v1h-4zM209 89h2v1h-2zM213 89h1v1h-1zM215 89h1v1h-1zM217 89h9v1h-9zM228 89h3v1h-3zM260 89h4v1h-4zM98 90h1v1h-1zM100 90h3v1h-3zM106 90h1v1h-1zM108 90h2v1h-2zM111 90h3v1h-3zM116 90h1v1h-1zM138 90h1v1h-1zM142 90h3v1h-3zM146 90h12v1h-12zM160 90h1v1h-1zM162 90h5v1h-5zM203 90h1v1h-1zM205 90h4v1h-4zM211 90h9v1h-9zM221 90h6v1h-6zM229 90h1v1h-1zM258 90h5v1h-5zM264 90h2v1h-2zM268 90h1v1h-1zM272 90h2v1h-2zM275 90h1v1h-1zM277 90h1v1h-1zM103 91h1v1h-1zM105 91h6v1h-6zM112 91h3v1h-3zM140 91h2v1h-2zM144 91h3v1h-3zM148 91h2v1h-2zM151 91h4v1h-4zM156 91h6v1h-6zM164 91h1v1h-1zM205 91h3v1h-3zM210 91h1v1h-1zM213 91h15v1h-15zM229 91h3v1h-3zM256 91h5v1h-5zM263 91h4v1h-4zM268 91h2v1h-2zM99 92h1v1h-1zM101 92h1v1h-1zM107 92h4v1h-4zM112 92h1v1h-1zM114 92h1v1h-1zM140 92h7v1h-7zM148 92h8v1h-8zM158 92h1v1h-1zM161 92h5v1h-5zM205 92h1v1h-1zM207 92h22v1h-22zM230 92h4v1h-4zM257 92h9v1h-9zM267 92h1v1h-1zM269 92h1v1h-1zM275 92h1v1h-1zM100 93h1v1h-1zM102 93h1v1h-1zM104 93h1v1h-1zM106 93h1v1h-1zM108 93h8v1h-8zM139 93h3v1h-3zM143 93h15v1h-15zM159 93h1v1h-1zM161 93h4v1h-4zM206 93h4v1h-4zM211 93h10v1h-10zM223 93h8v1h-8zM232 93h1v1h-1zM235 93h1v1h-1zM253 93h1v1h-1zM255 93h3v1h-3zM259 93h3v1h-3zM263 93h4v1h-4zM273 93h1v1h-1zM98 94h1v1h-1zM101 94h2v1h-2zM106 94h11v1h-11zM118 94h1v1h-1zM135 94h2v1h-2zM138 94h6v1h-6zM145 94h10v1h-10zM156 94h2v1h-2zM159 94h6v1h-6zM166 94h1v1h-1zM206 94h4v1h-4zM211 94h20v1h-20zM232 94h3v1h-3zM253 94h2v1h-2zM256 94h2v1h-2zM259 94h3v1h-3zM263 94h2v1h-2zM269 94h2v1h-2zM272 94h1v1h-1zM99 95h1v1h-1zM103 95h1v1h-1zM107 95h1v1h-1zM109 95h8v1h-8zM118 95h1v1h-1zM120 95h2v1h-2zM136 95h2v1h-2zM139 95h13v1h-13zM153 95h5v1h-5zM159 95h7v1h-7zM206 95h1v1h-1zM208 95h1v1h-1zM210 95h25v1h-25zM237 95h1v1h-1zM244 95h1v1h-1zM251 95h1v1h-1zM253 95h1v1h-1zM255 95h14v1h-14zM103 96h1v1h-1zM105 96h1v1h-1zM107 96h11v1h-11zM119 96h4v1h-4zM130 96h1v1h-1zM135 96h9v1h-9zM145 96h4v1h-4zM150 96h1v1h-1zM152 96h6v1h-6zM160 96h5v1h-5zM208 96h5v1h-5zM214 96h20v1h-20zM235 96h2v1h-2zM238 96h1v1h-1zM240 96h2v1h-2zM243 96h2v1h-2zM248 96h1v1h-1zM251 96h2v1h-2zM254 96h9v1h-9zM264 96h1v1h-1zM266 96h1v1h-1zM140 97h1v1h-1zM151 97h1v1h-1zM154 97h2v1h-2zM157 97h1v1h-1zM159 97h4v1h-4zM164 97h1v1h-1zM166 97h1v1h-1zM208 97h6v1h-6zM220 97h1v1h-1zM239 97h1v1h-1zM159 98h2v1h-2zM162 98h2v1h-2zM208 98h5v1h-5zM215 98h3v1h-3zM220 98h1v1h-1zM156 99h4v1h-4zM161 99h4v1h-4zM209 99h3v1h-3zM138 100h1v1h-1zM148 100h1v1h-1zM154 100h2v1h-2zM157 100h3v1h-3zM161 100h2v1h-2zM208 100h6v1h-6zM215 100h3v1h-3zM229 100h1v1h-1zM136 101h1v1h-1zM154 101h1v1h-1zM156 101h1v1h-1zM158 101h1v1h-1zM160 101h5v1h-5zM208 101h1v1h-1zM210 101h2v1h-2zM213 101h2v1h-2zM220 101h1v1h-1zM147 102h1v1h-1zM153 102h1v1h-1zM155 102h1v1h-1zM157 102h1v1h-1zM159 102h1v1h-1zM161 102h2v1h-2zM207 102h4v1h-4zM215 102h3v1h-3zM154 103h1v1h-1zM158 103h5v1h-5zM164 103h1v1h-1zM208 103h1v1h-1zM210 103h4v1h-4zM217 103h2v1h-2zM153 104h2v1h-2zM159 104h2v1h-2zM209 104h5v1h-5zM216 104h1v1h-1zM220 104h1v1h-1zM231 104h1v1h-1zM141 105h1v1h-1zM159 105h3v1h-3zM209 105h1v1h-1zM211 105h3v1h-3zM224 105h1v1h-1zM157 106h2v1h-2zM160 106h2v1h-2zM210 106h1v1h-1zM212 106h1v1h-1zM216 106h1v1h-1zM239 106h1v1h-1zM137 107h1v1h-1zM143 107h1v1h-1zM155 107h1v1h-1zM160 107h3v1h-3zM211 107h5v1h-5zM218 107h1v1h-1zM220 107h1v1h-1zM230 107h1v1h-1zM151 108h1v1h-1zM153 108h1v1h-1zM155 108h2v1h-2zM158 108h1v1h-1zM161 108h1v1h-1zM210 108h3v1h-3zM217 108h2v1h-2zM138 109h1v1h-1zM141 109h1v1h-1zM144 109h1v1h-1zM155 109h1v1h-1zM157 109h3v1h-3zM161 109h1v1h-1zM209 109h1v1h-1zM211 109h2v1h-2zM214 109h2v1h-2zM217 109h1v1h-1zM220 109h2v1h-2zM231 109h1v1h-1zM143 110h1v1h-1zM147 110h1v1h-1zM149 110h1v1h-1zM153 110h3v1h-3zM157 110h1v1h-1zM160 110h3v1h-3zM210 110h2v1h-2zM213 110h2v1h-2zM216 110h1v1h-1zM219 110h3v1h-3zM227 110h1v1h-1zM236 110h1v1h-1zM131 111h1v1h-1zM137 111h1v1h-1zM142 111h1v1h-1zM148 111h1v1h-1zM150 111h5v1h-5zM157 111h1v1h-1zM161 111h1v1h-1zM210 111h5v1h-5zM216 111h2v1h-2zM219 111h1v1h-1zM222 111h1v1h-1zM224 111h1v1h-1zM138 112h1v1h-1zM140 112h2v1h-2zM144 112h1v1h-1zM146 112h4v1h-4zM151 112h1v1h-1zM154 112h1v1h-1zM156 112h3v1h-3zM160 112h2v1h-2zM210 112h3v1h-3zM214 112h1v1h-1zM216 112h3v1h-3zM220 112h5v1h-5zM226 112h1v1h-1zM228 112h3v1h-3zM232 112h1v1h-1zM240 112h1v1h-1zM132 113h1v1h-1zM141 113h1v1h-1zM143 113h2v1h-2zM150 113h1v1h-1zM152 113h5v1h-5zM158 113h4v1h-4zM210 113h1v1h-1zM212 113h7v1h-7zM220 113h1v1h-1zM223 113h2v1h-2zM228 113h1v1h-1zM230 113h1v1h-1zM143 114h1v1h-1zM146 114h1v1h-1zM148 114h3v1h-3zM152 114h5v1h-5zM158 114h1v1h-1zM160 114h1v1h-1zM211 114h12v1h-12zM224 114h4v1h-4zM232 114h1v1h-1zM239 114h1v1h-1zM135 115h1v1h-1zM141 115h2v1h-2zM146 115h3v1h-3zM150 115h5v1h-5zM156 115h6v1h-6zM211 115h1v1h-1zM213 115h5v1h-5zM219 115h4v1h-4zM225 115h1v1h-1zM227 115h2v1h-2zM233 115h1v1h-1zM113 116h1v1h-1zM117 116h1v1h-1zM119 116h1v1h-1zM140 116h1v1h-1zM142 116h1v1h-1zM144 116h3v1h-3zM148 116h3v1h-3zM152 116h5v1h-5zM158 116h3v1h-3zM210 116h1v1h-1zM213 116h2v1h-2zM216 116h6v1h-6zM223 116h2v1h-2zM226 116h1v1h-1zM128 117h1v1h-1zM132 117h1v1h-1zM146 117h2v1h-2zM149 117h6v1h-6zM157 117h4v1h-4zM210 117h1v1h-1zM215 117h2v1h-2zM218 117h8v1h-8zM228 117h1v1h-1zM230 117h1v1h-1zM243 117h1v1h-1zM137 118h1v1h-1zM140 118h2v1h-2zM145 118h13v1h-13zM160 118h3v1h-3zM209 118h2v1h-2zM215 118h2v1h-2zM218 118h2v1h-2zM221 118h6v1h-6zM229 118h2v1h-2zM236 118h1v1h-1zM141 119h1v1h-1zM144 119h7v1h-7zM152 119h2v1h-2zM156 119h1v1h-1zM170 119h1v1h-1zM215 119h1v1h-1zM224 119h2v1h-2zM231 119h1v1h-1zM245 119h1v1h-1zM138 120h1v1h-1zM141 120h5v1h-5zM156 120h1v1h-1zM165 120h1v1h-1zM202 120h1v1h-1zM209 120h1v1h-1zM224 120h3v1h-3zM228 120h2v1h-2zM233 120h1v1h-1zM236 120h1v1h-1zM135 121h1v1h-1zM138 121h1v1h-1zM140 121h2v1h-2zM143 121h2v1h-2zM170 121h1v1h-1zM227 121h3v1h-3zM242 121h1v1h-1zM139 122h1v1h-1zM141 122h2v1h-2zM228 122h1v1h-1zM241 122h1v1h-1zM135 123h1v1h-1zM138 123h1v1h-1zM140 123h4v1h-4zM228 123h1v1h-1zM231 123h1v1h-1zM138 124h3v1h-3zM142 124h2v1h-2zM227 124h4v1h-4zM232 124h1v1h-1zM237 124h1v1h-1zM139 125h1v1h-1zM141 125h3v1h-3zM227 125h4v1h-4zM232 125h1v1h-1zM130 126h1v1h-1zM135 126h2v1h-2zM140 126h2v1h-2zM227 126h7v1h-7zM238 126h1v1h-1zM134 127h1v1h-1zM136 127h1v1h-1zM139 127h1v1h-1zM142 127h2v1h-2zM227 127h5v1h-5zM233 127h1v1h-1zM112 128h1v1h-1zM133 128h1v1h-1zM139 128h2v1h-2zM142 128h2v1h-2zM227 128h2v1h-2zM230 128h1v1h-1zM233 128h1v1h-1zM132 129h1v1h-1zM141 129h3v1h-3zM226 129h2v1h-2zM229 129h1v1h-1zM133 130h1v1h-1zM138 130h6v1h-6zM145 130h1v1h-1zM223 130h1v1h-1zM226 130h4v1h-4zM137 131h3v1h-3zM143 131h3v1h-3zM147 131h1v1h-1zM224 131h1v1h-1zM226 131h2v1h-2zM230 131h2v1h-2zM235 131h1v1h-1zM240 131h1v1h-1zM121 132h1v1h-1zM136 132h1v1h-1zM143 132h2v1h-2zM146 132h2v1h-2zM152 132h2v1h-2zM156 132h1v1h-1zM218 132h1v1h-1zM221 132h1v1h-1zM223 132h4v1h-4zM228 132h1v1h-1zM230 132h2v1h-2zM135 133h1v1h-1zM137 133h1v1h-1zM142 133h5v1h-5zM148 133h1v1h-1zM150 133h4v1h-4zM157 133h2v1h-2zM169 133h1v1h-1zM172 133h2v1h-2zM194 133h1v1h-1zM203 133h1v1h-1zM208 133h1v1h-1zM214 133h1v1h-1zM221 133h1v1h-1zM223 133h4v1h-4zM229 133h2v1h-2zM135 134h1v1h-1zM144 134h1v1h-1zM148 134h4v1h-4zM153 134h1v1h-1zM155 134h1v1h-1zM157 134h2v1h-2zM162 134h1v1h-1zM166 134h2v1h-2zM169 134h1v1h-1zM197 134h1v1h-1zM204 134h4v1h-4zM209 134h1v1h-1zM211 134h2v1h-2zM217 134h1v1h-1zM219 134h4v1h-4zM224 134h4v1h-4zM229 134h2v1h-2zM237 134h1v1h-1zM133 135h1v1h-1zM138 135h3v1h-3zM143 135h3v1h-3zM147 135h6v1h-6zM154 135h1v1h-1zM158 135h2v1h-2zM163 135h4v1h-4zM168 135h2v1h-2zM172 135h2v1h-2zM175 135h1v1h-1zM198 135h1v1h-1zM201 135h6v1h-6zM208 135h6v1h-6zM215 135h2v1h-2zM218 135h8v1h-8zM227 135h1v1h-1zM231 135h1v1h-1zM234 135h1v1h-1zM138 136h1v1h-1zM140 136h1v1h-1zM144 136h9v1h-9zM155 136h6v1h-6zM162 136h1v1h-1zM164 136h6v1h-6zM198 136h2v1h-2zM202 136h1v1h-1zM204 136h2v1h-2zM207 136h3v1h-3zM211 136h2v1h-2zM214 136h5v1h-5zM220 136h2v1h-2zM223 136h1v1h-1zM226 136h1v1h-1zM142 137h1v1h-1zM144 137h8v1h-8zM153 137h12v1h-12zM166 137h8v1h-8zM199 137h13v1h-13zM213 137h5v1h-5zM220 137h4v1h-4zM226 137h3v1h-3zM230 137h1v1h-1zM232 137h1v1h-1zM235 137h1v1h-1zM238 137h1v1h-1zM140 138h1v1h-1zM142 138h1v1h-1zM144 138h4v1h-4zM149 138h4v1h-4zM154 138h4v1h-4zM159 138h5v1h-5zM165 138h2v1h-2zM168 138h2v1h-2zM172 138h1v1h-1zM174 138h2v1h-2zM181 138h1v1h-1zM193 138h1v1h-1zM197 138h19v1h-19zM217 138h1v1h-1zM219 138h8v1h-8zM229 138h1v1h-1zM231 138h1v1h-1zM142 139h1v1h-1zM144 139h1v1h-1zM146 139h2v1h-2zM151 139h1v1h-1zM153 139h5v1h-5zM159 139h10v1h-10zM172 139h1v1h-1zM174 139h2v1h-2zM196 139h1v1h-1zM198 139h1v1h-1zM200 139h3v1h-3zM204 139h13v1h-13zM218 139h2v1h-2zM221 139h1v1h-1zM227 139h1v1h-1zM229 139h2v1h-2zM239 139h1v1h-1zM143 140h1v1h-1zM148 140h6v1h-6zM155 140h1v1h-1zM157 140h12v1h-12zM170 140h1v1h-1zM172 140h4v1h-4zM177 140h1v1h-1zM179 140h1v1h-1zM181 140h1v1h-1zM187 140h1v1h-1zM191 140h1v1h-1zM196 140h2v1h-2zM199 140h1v1h-1zM201 140h1v1h-1zM203 140h4v1h-4zM208 140h7v1h-7zM216 140h3v1h-3zM220 140h4v1h-4zM228 140h1v1h-1zM143 141h1v1h-1zM146 141h2v1h-2zM149 141h6v1h-6zM156 141h12v1h-12zM169 141h6v1h-6zM176 141h2v1h-2zM179 141h1v1h-1zM182 141h2v1h-2zM186 141h2v1h-2zM191 141h1v1h-1zM193 141h1v1h-1zM196 141h2v1h-2zM199 141h16v1h-16zM216 141h2v1h-2zM219 141h5v1h-5zM243 141h1v1h-1zM150 142h1v1h-1zM152 142h4v1h-4zM157 142h5v1h-5zM163 142h1v1h-1zM165 142h4v1h-4zM170 142h4v1h-4zM175 142h1v1h-1zM188 142h1v1h-1zM191 142h1v1h-1zM194 142h1v1h-1zM197 142h1v1h-1zM199 142h2v1h-2zM202 142h8v1h-8zM211 142h5v1h-5zM217 142h2v1h-2zM220 142h2v1h-2zM225 142h2v1h-2zM232 142h1v1h-1zM254 142h1v1h-1zM148 143h4v1h-4zM153 143h1v1h-1zM155 143h1v1h-1zM157 143h20v1h-20zM181 143h1v1h-1zM187 143h1v1h-1zM190 143h1v1h-1zM192 143h6v1h-6zM199 143h9v1h-9zM209 143h1v1h-1zM213 143h1v1h-1zM216 143h1v1h-1zM224 143h1v1h-1zM227 143h1v1h-1zM231 143h1v1h-1zM236 143h1v1h-1zM147 144h1v1h-1zM155 144h1v1h-1zM159 144h2v1h-2zM164 144h3v1h-3zM168 144h7v1h-7zM176 144h1v1h-1zM179 144h1v1h-1zM183 144h1v1h-1zM185 144h1v1h-1zM188 144h2v1h-2zM193 144h4v1h-4zM198 144h12v1h-12zM211 144h1v1h-1zM213 144h5v1h-5zM219 144h1v1h-1zM224 144h1v1h-1zM134 145h1v1h-1zM144 145h1v1h-1zM150 145h2v1h-2zM153 145h1v1h-1zM155 145h3v1h-3zM161 145h4v1h-4zM166 145h4v1h-4zM171 145h10v1h-10zM184 145h2v1h-2zM187 145h2v1h-2zM190 145h2v1h-2zM193 145h3v1h-3zM197 145h8v1h-8zM206 145h6v1h-6zM215 145h1v1h-1zM219 145h3v1h-3zM224 145h1v1h-1zM227 145h1v1h-1zM229 145h1v1h-1zM157 146h1v1h-1zM159 146h1v1h-1zM161 146h2v1h-2zM167 146h2v1h-2zM170 146h2v1h-2zM173 146h17v1h-17zM191 146h5v1h-5zM197 146h15v1h-15zM216 146h2v1h-2zM221 146h1v1h-1zM140 147h1v1h-1zM144 147h1v1h-1zM156 147h1v1h-1zM158 147h4v1h-4zM163 147h1v1h-1zM165 147h6v1h-6zM174 147h2v1h-2zM178 147h14v1h-14zM194 147h1v1h-1zM197 147h2v1h-2zM200 147h2v1h-2zM203 147h3v1h-3zM207 147h1v1h-1zM210 147h1v1h-1zM212 147h1v1h-1zM217 147h2v1h-2zM220 147h1v1h-1zM160 148h2v1h-2zM164 148h2v1h-2zM167 148h3v1h-3zM171 148h2v1h-2zM174 148h1v1h-1zM176 148h2v1h-2zM179 148h11v1h-11zM191 148h11v1h-11zM204 148h1v1h-1zM212 148h2v1h-2zM218 148h1v1h-1zM134 149h1v1h-1zM147 149h1v1h-1zM151 149h1v1h-1zM156 149h3v1h-3zM167 149h1v1h-1zM169 149h2v1h-2zM175 149h3v1h-3zM180 149h2v1h-2zM184 149h1v1h-1zM186 149h10v1h-10zM197 149h7v1h-7zM205 149h2v1h-2zM214 149h1v1h-1zM226 149h1v1h-1zM153 150h1v1h-1zM161 150h1v1h-1zM166 150h1v1h-1zM168 150h1v1h-1zM171 150h1v1h-1zM174 150h1v1h-1zM176 150h2v1h-2zM179 150h1v1h-1zM181 150h1v1h-1zM183 150h2v1h-2zM189 150h1v1h-1zM192 150h1v1h-1zM195 150h3v1h-3zM200 150h1v1h-1zM202 150h1v1h-1zM204 150h1v1h-1zM206 150h1v1h-1zM210 150h1v1h-1zM213 150h1v1h-1zM215 150h1v1h-1zM217 150h1v1h-1zM129 151h1v1h-1zM151 151h1v1h-1zM173 151h1v1h-1zM175 151h1v1h-1zM178 151h3v1h-3zM182 151h2v1h-2zM185 151h1v1h-1zM189 151h1v1h-1zM196 151h1v1h-1zM199 151h1v1h-1zM201 151h2v1h-2zM207 151h1v1h-1zM212 151h1v1h-1zM149 152h1v1h-1zM170 152h2v1h-2zM173 152h1v1h-1zM176 152h2v1h-2zM184 152h1v1h-1zM188 152h2v1h-2zM193 152h1v1h-1zM198 152h1v1h-1zM200 152h1v1h-1zM203 152h1v1h-1zM208 152h1v1h-1zM218 152h1v1h-1zM169 153h1v1h-1zM176 153h1v1h-1zM182 153h1v1h-1zM189 153h2v1h-2zM192 153h1v1h-1zM194 153h2v1h-2zM198 153h1v1h-1zM202 153h1v1h-1zM204 153h1v1h-1zM150 154h1v1h-1zM157 154h1v1h-1zM165 154h1v1h-1zM176 154h1v1h-1zM178 154h1v1h-1zM181 154h2v1h-2zM190 154h1v1h-1zM193 154h1v1h-1zM195 154h1v1h-1zM197 154h1v1h-1zM207 154h1v1h-1zM162 155h1v1h-1zM164 155h1v1h-1zM170 155h2v1h-2zM181 155h1v1h-1zM183 155h1v1h-1zM185 155h1v1h-1zM188 155h1v1h-1zM201 155h2v1h-2zM158 156h1v1h-1zM171 156h2v1h-2zM180 156h1v1h-1zM188 156h1v1h-1zM194 156h1v1h-1zM209 156h1v1h-1zM174 157h1v1h-1zM180 157h1v1h-1zM185 157h1v1h-1zM211 157h1v1h-1zM164 158h1v1h-1zM169 158h1v1h-1zM172 158h1v1h-1zM178 158h1v1h-1zM208 158h1v1h-1zM220 158h1v1h-1zM200 159h1v1h-1zM183 160h1v1h-1zM219 160h1v1h-1zM163 161h1v1h-1zM168 161h1v1h-1zM182 161h1v1h-1zM184 162h1v1h-1zM218 162h1v1h-1zM149 164h1v1h-1zM223 164h1v1h-1zM153 165h1v1h-1zM184 166h1v1h-1z"/><path fill="#08051d" d="M134 39h1v1h-1zM136 39h1v1h-1zM138 39h5v1h-5zM144 39h1v1h-1zM230 39h4v1h-4zM235 39h3v1h-3zM136 40h1v1h-1zM138 40h2v1h-2zM145 40h3v1h-3zM225 40h3v1h-3zM229 40h1v1h-1zM231 40h3v1h-3zM237 40h1v1h-1zM239 40h1v1h-1zM241 40h1v1h-1zM129 41h1v1h-1zM131 41h4v1h-4zM142 41h1v1h-1zM144 41h4v1h-4zM149 41h1v1h-1zM223 41h3v1h-3zM237 41h4v1h-4zM242 41h1v1h-1zM129 42h4v1h-4zM134 42h1v1h-1zM149 42h1v1h-1zM222 42h1v1h-1zM224 42h1v1h-1zM235 42h1v1h-1zM240 42h5v1h-5zM127 43h1v1h-1zM129 43h2v1h-2zM132 43h1v1h-1zM148 43h1v1h-1zM151 43h1v1h-1zM221 43h1v1h-1zM240 43h6v1h-6zM127 44h1v1h-1zM129 44h1v1h-1zM135 44h1v1h-1zM150 44h1v1h-1zM152 44h1v1h-1zM220 44h2v1h-2zM241 44h6v1h-6zM125 45h1v1h-1zM127 45h5v1h-5zM133 45h1v1h-1zM152 45h1v1h-1zM219 45h1v1h-1zM240 45h3v1h-3zM244 45h3v1h-3zM248 45h1v1h-1zM125 46h2v1h-2zM128 46h1v1h-1zM152 46h2v1h-2zM218 46h1v1h-1zM242 46h4v1h-4zM248 46h1v1h-1zM127 47h2v1h-2zM153 47h1v1h-1zM218 47h3v1h-3zM241 47h1v1h-1zM243 47h1v1h-1zM245 47h2v1h-2zM126 48h2v1h-2zM130 48h1v1h-1zM218 48h1v1h-1zM242 48h6v1h-6zM124 49h5v1h-5zM130 49h1v1h-1zM153 49h1v1h-1zM217 49h2v1h-2zM244 49h1v1h-1zM248 49h2v1h-2zM251 49h1v1h-1zM122 50h1v1h-1zM124 50h1v1h-1zM126 50h3v1h-3zM130 50h1v1h-1zM151 50h1v1h-1zM154 50h1v1h-1zM217 50h1v1h-1zM241 50h2v1h-2zM244 50h2v1h-2zM248 50h1v1h-1zM123 51h1v1h-1zM126 51h3v1h-3zM155 51h1v1h-1zM218 51h2v1h-2zM243 51h5v1h-5zM249 51h1v1h-1zM127 52h3v1h-3zM155 52h1v1h-1zM217 52h2v1h-2zM240 52h1v1h-1zM243 52h3v1h-3zM123 53h1v1h-1zM126 53h2v1h-2zM129 53h2v1h-2zM152 53h1v1h-1zM154 53h2v1h-2zM184 53h1v1h-1zM241 53h5v1h-5zM250 53h2v1h-2zM123 54h1v1h-1zM126 54h4v1h-4zM132 54h1v1h-1zM155 54h1v1h-1zM180 54h1v1h-1zM190 54h1v1h-1zM240 54h1v1h-1zM242 54h3v1h-3zM247 54h1v1h-1zM122 55h1v1h-1zM124 55h1v1h-1zM126 55h6v1h-6zM154 55h2v1h-2zM185 55h1v1h-1zM193 55h1v1h-1zM216 55h1v1h-1zM241 55h4v1h-4zM247 55h1v1h-1zM119 56h1v1h-1zM123 56h1v1h-1zM125 56h2v1h-2zM130 56h1v1h-1zM152 56h4v1h-4zM187 56h1v1h-1zM189 56h1v1h-1zM216 56h2v1h-2zM219 56h1v1h-1zM239 56h1v1h-1zM241 56h2v1h-2zM244 56h1v1h-1zM127 57h3v1h-3zM131 57h2v1h-2zM154 57h1v1h-1zM181 57h1v1h-1zM184 57h2v1h-2zM190 57h1v1h-1zM216 57h5v1h-5zM240 57h3v1h-3zM244 57h1v1h-1zM246 57h1v1h-1zM249 57h1v1h-1zM252 57h1v1h-1zM119 58h1v1h-1zM123 58h2v1h-2zM127 58h6v1h-6zM152 58h4v1h-4zM188 58h1v1h-1zM219 58h3v1h-3zM237 58h1v1h-1zM240 58h2v1h-2zM246 58h1v1h-1zM124 59h1v1h-1zM127 59h1v1h-1zM130 59h5v1h-5zM139 59h1v1h-1zM150 59h1v1h-1zM154 59h1v1h-1zM188 59h2v1h-2zM217 59h3v1h-3zM222 59h2v1h-2zM235 59h1v1h-1zM237 59h1v1h-1zM240 59h3v1h-3zM246 59h1v1h-1zM250 59h1v1h-1zM117 60h2v1h-2zM120 60h1v1h-1zM125 60h1v1h-1zM129 60h1v1h-1zM131 60h4v1h-4zM136 60h1v1h-1zM143 60h2v1h-2zM148 60h1v1h-1zM151 60h1v1h-1zM153 60h2v1h-2zM185 60h1v1h-1zM217 60h2v1h-2zM223 60h2v1h-2zM230 60h1v1h-1zM234 60h6v1h-6zM241 60h1v1h-1zM249 60h1v1h-1zM252 60h1v1h-1zM115 61h1v1h-1zM120 61h1v1h-1zM129 61h2v1h-2zM132 61h4v1h-4zM137 61h2v1h-2zM140 61h1v1h-1zM144 61h1v1h-1zM149 61h1v1h-1zM151 61h5v1h-5zM183 61h1v1h-1zM188 61h1v1h-1zM216 61h2v1h-2zM219 61h3v1h-3zM224 61h2v1h-2zM229 61h6v1h-6zM236 61h3v1h-3zM240 61h2v1h-2zM245 61h2v1h-2zM252 61h1v1h-1zM122 62h1v1h-1zM126 62h1v1h-1zM131 62h1v1h-1zM133 62h4v1h-4zM138 62h1v1h-1zM144 62h1v1h-1zM146 62h2v1h-2zM149 62h2v1h-2zM152 62h2v1h-2zM183 62h3v1h-3zM219 62h6v1h-6zM226 62h1v1h-1zM229 62h2v1h-2zM232 62h2v1h-2zM235 62h2v1h-2zM239 62h1v1h-1zM242 62h1v1h-1zM244 62h1v1h-1zM127 63h1v1h-1zM129 63h1v1h-1zM131 63h1v1h-1zM133 63h6v1h-6zM140 63h1v1h-1zM142 63h7v1h-7zM150 63h1v1h-1zM178 63h1v1h-1zM220 63h2v1h-2zM223 63h2v1h-2zM227 63h9v1h-9zM237 63h2v1h-2zM240 63h1v1h-1zM246 63h1v1h-1zM248 63h1v1h-1zM121 64h1v1h-1zM132 64h1v1h-1zM134 64h6v1h-6zM141 64h9v1h-9zM151 64h1v1h-1zM180 64h1v1h-1zM184 64h1v1h-1zM190 64h1v1h-1zM193 64h1v1h-1zM218 64h2v1h-2zM221 64h4v1h-4zM226 64h6v1h-6zM233 64h2v1h-2zM236 64h1v1h-1zM239 64h1v1h-1zM241 64h1v1h-1zM243 64h1v1h-1zM245 64h1v1h-1zM250 64h1v1h-1zM132 65h1v1h-1zM135 65h1v1h-1zM137 65h1v1h-1zM140 65h1v1h-1zM142 65h5v1h-5zM148 65h4v1h-4zM193 65h1v1h-1zM220 65h3v1h-3zM227 65h1v1h-1zM229 65h2v1h-2zM232 65h1v1h-1zM234 65h2v1h-2zM243 65h2v1h-2zM252 65h1v1h-1zM117 66h2v1h-2zM120 66h1v1h-1zM125 66h1v1h-1zM127 66h1v1h-1zM135 66h1v1h-1zM137 66h1v1h-1zM140 66h1v1h-1zM144 66h2v1h-2zM148 66h3v1h-3zM180 66h1v1h-1zM183 66h2v1h-2zM187 66h1v1h-1zM190 66h1v1h-1zM220 66h1v1h-1zM223 66h1v1h-1zM226 66h1v1h-1zM228 66h1v1h-1zM232 66h2v1h-2zM235 66h1v1h-1zM242 66h1v1h-1zM244 66h1v1h-1zM247 66h1v1h-1zM249 66h1v1h-1zM254 66h1v1h-1zM134 67h1v1h-1zM142 67h1v1h-1zM148 67h1v1h-1zM150 67h1v1h-1zM184 67h4v1h-4zM189 67h1v1h-1zM227 67h1v1h-1zM243 67h1v1h-1zM248 67h1v1h-1zM251 67h1v1h-1zM253 67h1v1h-1zM119 68h1v1h-1zM131 68h2v1h-2zM136 68h1v1h-1zM138 68h1v1h-1zM142 68h1v1h-1zM179 68h1v1h-1zM181 68h1v1h-1zM183 68h1v1h-1zM185 68h4v1h-4zM192 68h1v1h-1zM224 68h2v1h-2zM237 68h1v1h-1zM239 68h1v1h-1zM242 68h1v1h-1zM256 68h1v1h-1zM121 69h1v1h-1zM128 69h1v1h-1zM130 69h1v1h-1zM138 69h1v1h-1zM144 69h1v1h-1zM177 69h1v1h-1zM184 69h1v1h-1zM186 69h3v1h-3zM193 69h2v1h-2zM218 69h1v1h-1zM223 69h1v1h-1zM226 69h1v1h-1zM228 69h1v1h-1zM234 69h1v1h-1zM245 69h1v1h-1zM247 69h2v1h-2zM126 70h1v1h-1zM138 70h1v1h-1zM144 70h1v1h-1zM146 70h1v1h-1zM150 70h1v1h-1zM178 70h5v1h-5zM184 70h1v1h-1zM186 70h5v1h-5zM194 70h1v1h-1zM229 70h1v1h-1zM237 70h1v1h-1zM243 70h1v1h-1zM252 70h1v1h-1zM118 71h1v1h-1zM122 71h1v1h-1zM142 71h2v1h-2zM149 71h1v1h-1zM179 71h10v1h-10zM222 71h1v1h-1zM227 71h1v1h-1zM235 71h1v1h-1zM255 71h1v1h-1zM119 72h1v1h-1zM126 72h2v1h-2zM142 72h1v1h-1zM178 72h5v1h-5zM184 72h2v1h-2zM187 72h5v1h-5zM193 72h1v1h-1zM223 72h1v1h-1zM227 72h2v1h-2zM230 72h2v1h-2zM234 72h1v1h-1zM246 72h1v1h-1zM253 72h1v1h-1zM138 73h1v1h-1zM142 73h1v1h-1zM145 73h2v1h-2zM151 73h1v1h-1zM181 73h1v1h-1zM184 73h2v1h-2zM187 73h7v1h-7zM225 73h2v1h-2zM242 73h1v1h-1zM246 73h1v1h-1zM118 74h1v1h-1zM120 74h2v1h-2zM126 74h1v1h-1zM147 74h1v1h-1zM150 74h1v1h-1zM177 74h2v1h-2zM180 74h1v1h-1zM184 74h1v1h-1zM187 74h1v1h-1zM191 74h1v1h-1zM223 74h1v1h-1zM232 74h1v1h-1zM242 74h1v1h-1zM248 74h1v1h-1zM252 74h1v1h-1zM126 75h1v1h-1zM131 75h1v1h-1zM137 75h1v1h-1zM153 75h1v1h-1zM178 75h1v1h-1zM192 75h2v1h-2zM196 75h1v1h-1zM238 75h1v1h-1zM240 75h1v1h-1zM248 75h1v1h-1zM251 75h3v1h-3zM120 76h1v1h-1zM124 76h2v1h-2zM128 76h1v1h-1zM139 76h1v1h-1zM142 76h1v1h-1zM151 76h2v1h-2zM176 76h3v1h-3zM180 76h1v1h-1zM193 76h3v1h-3zM227 76h1v1h-1zM234 76h1v1h-1zM243 76h1v1h-1zM245 76h2v1h-2zM255 76h1v1h-1zM120 77h1v1h-1zM122 77h5v1h-5zM128 77h6v1h-6zM135 77h2v1h-2zM150 77h1v1h-1zM175 77h3v1h-3zM194 77h1v1h-1zM196 77h1v1h-1zM226 77h1v1h-1zM238 77h1v1h-1zM243 77h1v1h-1zM245 77h1v1h-1zM249 77h1v1h-1zM253 77h1v1h-1zM116 78h1v1h-1zM119 78h1v1h-1zM124 78h1v1h-1zM126 78h2v1h-2zM135 78h1v1h-1zM138 78h1v1h-1zM141 78h1v1h-1zM149 78h1v1h-1zM174 78h2v1h-2zM177 78h1v1h-1zM195 78h2v1h-2zM198 78h1v1h-1zM220 78h1v1h-1zM238 78h1v1h-1zM240 78h10v1h-10zM251 78h1v1h-1zM117 79h1v1h-1zM119 79h2v1h-2zM123 79h5v1h-5zM131 79h4v1h-4zM137 79h3v1h-3zM141 79h1v1h-1zM149 79h2v1h-2zM174 79h2v1h-2zM196 79h2v1h-2zM220 79h1v1h-1zM226 79h1v1h-1zM229 79h1v1h-1zM237 79h4v1h-4zM242 79h2v1h-2zM245 79h3v1h-3zM249 79h2v1h-2zM112 80h1v1h-1zM115 80h1v1h-1zM119 80h1v1h-1zM121 80h2v1h-2zM128 80h1v1h-1zM130 80h9v1h-9zM140 80h1v1h-1zM142 80h1v1h-1zM152 80h1v1h-1zM174 80h1v1h-1zM197 80h2v1h-2zM231 80h1v1h-1zM233 80h1v1h-1zM235 80h4v1h-4zM242 80h1v1h-1zM244 80h1v1h-1zM247 80h3v1h-3zM252 80h1v1h-1zM254 80h2v1h-2zM113 81h1v1h-1zM115 81h1v1h-1zM119 81h2v1h-2zM126 81h1v1h-1zM130 81h2v1h-2zM134 81h5v1h-5zM140 81h1v1h-1zM142 81h1v1h-1zM144 81h1v1h-1zM173 81h3v1h-3zM197 81h2v1h-2zM223 81h1v1h-1zM235 81h6v1h-6zM248 81h1v1h-1zM250 81h4v1h-4zM112 82h2v1h-2zM117 82h3v1h-3zM121 82h1v1h-1zM124 82h1v1h-1zM132 82h1v1h-1zM135 82h1v1h-1zM137 82h1v1h-1zM140 82h2v1h-2zM151 82h1v1h-1zM172 82h3v1h-3zM198 82h2v1h-2zM218 82h1v1h-1zM223 82h1v1h-1zM230 82h1v1h-1zM232 82h1v1h-1zM234 82h1v1h-1zM236 82h1v1h-1zM252 82h1v1h-1zM254 82h2v1h-2zM258 82h1v1h-1zM115 83h4v1h-4zM120 83h1v1h-1zM135 83h5v1h-5zM151 83h1v1h-1zM171 83h2v1h-2zM199 83h1v1h-1zM201 83h1v1h-1zM221 83h1v1h-1zM230 83h2v1h-2zM234 83h2v1h-2zM251 83h1v1h-1zM254 83h4v1h-4zM117 84h1v1h-1zM135 84h2v1h-2zM138 84h2v1h-2zM141 84h2v1h-2zM170 84h2v1h-2zM173 84h1v1h-1zM199 84h3v1h-3zM220 84h2v1h-2zM227 84h1v1h-1zM229 84h2v1h-2zM234 84h2v1h-2zM254 84h1v1h-1zM256 84h1v1h-1zM116 85h3v1h-3zM138 85h3v1h-3zM145 85h2v1h-2zM150 85h1v1h-1zM170 85h2v1h-2zM198 85h1v1h-1zM200 85h1v1h-1zM202 85h1v1h-1zM220 85h1v1h-1zM223 85h1v1h-1zM230 85h2v1h-2zM233 85h3v1h-3zM254 85h2v1h-2zM115 86h2v1h-2zM139 86h3v1h-3zM145 86h1v1h-1zM169 86h1v1h-1zM171 86h1v1h-1zM199 86h1v1h-1zM201 86h3v1h-3zM226 86h2v1h-2zM232 86h1v1h-1zM252 86h1v1h-1zM254 86h1v1h-1zM115 87h1v1h-1zM117 87h2v1h-2zM137 87h2v1h-2zM140 87h1v1h-1zM143 87h1v1h-1zM169 87h1v1h-1zM201 87h2v1h-2zM222 87h1v1h-1zM230 87h1v1h-1zM232 87h4v1h-4zM253 87h1v1h-1zM256 87h3v1h-3zM114 88h4v1h-4zM120 88h1v1h-1zM137 88h1v1h-1zM140 88h3v1h-3zM152 88h1v1h-1zM168 88h3v1h-3zM203 88h1v1h-1zM224 88h1v1h-1zM227 88h1v1h-1zM230 88h3v1h-3zM234 88h1v1h-1zM257 88h2v1h-2zM115 89h2v1h-2zM138 89h1v1h-1zM140 89h2v1h-2zM144 89h1v1h-1zM203 89h1v1h-1zM226 89h2v1h-2zM231 89h2v1h-2zM234 89h2v1h-2zM251 89h1v1h-1zM254 89h6v1h-6zM114 90h2v1h-2zM117 90h1v1h-1zM135 90h3v1h-3zM139 90h1v1h-1zM141 90h1v1h-1zM145 90h1v1h-1zM167 90h3v1h-3zM204 90h1v1h-1zM220 90h1v1h-1zM227 90h2v1h-2zM230 90h5v1h-5zM255 90h3v1h-3zM115 91h3v1h-3zM135 91h5v1h-5zM142 91h2v1h-2zM147 91h1v1h-1zM165 91h5v1h-5zM204 91h1v1h-1zM228 91h1v1h-1zM232 91h2v1h-2zM252 91h2v1h-2zM113 92h1v1h-1zM115 92h4v1h-4zM136 92h4v1h-4zM147 92h1v1h-1zM166 92h3v1h-3zM204 92h1v1h-1zM206 92h1v1h-1zM229 92h1v1h-1zM234 92h1v1h-1zM236 92h1v1h-1zM253 92h3v1h-3zM116 93h4v1h-4zM121 93h2v1h-2zM126 93h1v1h-1zM132 93h1v1h-1zM134 93h1v1h-1zM136 93h3v1h-3zM142 93h1v1h-1zM165 93h4v1h-4zM205 93h1v1h-1zM222 93h1v1h-1zM231 93h1v1h-1zM233 93h2v1h-2zM236 93h1v1h-1zM250 93h1v1h-1zM254 93h1v1h-1zM258 93h1v1h-1zM117 94h1v1h-1zM119 94h2v1h-2zM122 94h1v1h-1zM124 94h3v1h-3zM128 94h1v1h-1zM134 94h1v1h-1zM137 94h1v1h-1zM165 94h1v1h-1zM167 94h1v1h-1zM204 94h2v1h-2zM231 94h1v1h-1zM235 94h3v1h-3zM239 94h3v1h-3zM248 94h1v1h-1zM250 94h1v1h-1zM252 94h1v1h-1zM255 94h1v1h-1zM117 95h1v1h-1zM119 95h1v1h-1zM123 95h3v1h-3zM127 95h1v1h-1zM129 95h4v1h-4zM134 95h2v1h-2zM138 95h1v1h-1zM152 95h1v1h-1zM204 95h2v1h-2zM207 95h1v1h-1zM235 95h2v1h-2zM239 95h1v1h-1zM241 95h1v1h-1zM243 95h1v1h-1zM247 95h2v1h-2zM250 95h1v1h-1zM252 95h1v1h-1zM254 95h1v1h-1zM118 96h1v1h-1zM123 96h7v1h-7zM131 96h4v1h-4zM144 96h1v1h-1zM165 96h1v1h-1zM206 96h2v1h-2zM234 96h1v1h-1zM237 96h1v1h-1zM239 96h1v1h-1zM242 96h1v1h-1zM245 96h3v1h-3zM249 96h2v1h-2zM253 96h1v1h-1zM163 97h1v1h-1zM165 97h1v1h-1zM167 97h1v1h-1zM207 97h1v1h-1zM164 98h1v1h-1zM206 98h2v1h-2zM165 99h1v1h-1zM205 99h4v1h-4zM163 100h3v1h-3zM207 100h1v1h-1zM206 101h1v1h-1zM209 101h1v1h-1zM163 102h3v1h-3zM163 103h1v1h-1zM209 103h1v1h-1zM162 104h2v1h-2zM207 104h2v1h-2zM162 105h2v1h-2zM208 105h1v1h-1zM210 105h1v1h-1zM162 106h1v1h-1zM163 107h1v1h-1zM209 107h2v1h-2zM162 108h1v1h-1zM209 108h1v1h-1zM162 109h2v1h-2zM210 109h1v1h-1zM208 110h2v1h-2zM162 111h1v1h-1zM209 111h1v1h-1zM162 112h2v1h-2zM209 112h1v1h-1zM162 113h1v1h-1zM209 113h1v1h-1zM211 113h1v1h-1zM159 114h1v1h-1zM161 114h1v1h-1zM207 114h1v1h-1zM209 114h2v1h-2zM162 115h2v1h-2zM203 115h1v1h-1zM208 115h3v1h-3zM212 115h1v1h-1zM157 116h1v1h-1zM161 116h4v1h-4zM206 116h1v1h-1zM209 116h1v1h-1zM211 116h2v1h-2zM215 116h1v1h-1zM155 117h2v1h-2zM161 117h5v1h-5zM205 117h1v1h-1zM207 117h3v1h-3zM211 117h4v1h-4zM217 117h1v1h-1zM158 118h2v1h-2zM163 118h3v1h-3zM167 118h3v1h-3zM198 118h1v1h-1zM200 118h1v1h-1zM203 118h1v1h-1zM205 118h4v1h-4zM211 118h4v1h-4zM217 118h1v1h-1zM220 118h1v1h-1zM151 119h1v1h-1zM154 119h2v1h-2zM157 119h13v1h-13zM171 119h2v1h-2zM174 119h1v1h-1zM194 119h1v1h-1zM197 119h1v1h-1zM199 119h16v1h-16zM216 119h7v1h-7zM146 120h1v1h-1zM148 120h5v1h-5zM157 120h6v1h-6zM166 120h6v1h-6zM173 120h3v1h-3zM177 120h1v1h-1zM180 120h1v1h-1zM186 120h1v1h-1zM188 120h1v1h-1zM194 120h3v1h-3zM198 120h4v1h-4zM203 120h3v1h-3zM211 120h3v1h-3zM215 120h3v1h-3zM220 120h4v1h-4zM145 121h4v1h-4zM155 121h1v1h-1zM157 121h1v1h-1zM159 121h1v1h-1zM161 121h2v1h-2zM165 121h5v1h-5zM171 121h3v1h-3zM175 121h2v1h-2zM178 121h2v1h-2zM182 121h1v1h-1zM185 121h1v1h-1zM189 121h3v1h-3zM195 121h1v1h-1zM197 121h3v1h-3zM201 121h3v1h-3zM205 121h1v1h-1zM207 121h1v1h-1zM209 121h1v1h-1zM218 121h1v1h-1zM220 121h1v1h-1zM222 121h4v1h-4zM144 122h2v1h-2zM147 122h2v1h-2zM152 122h1v1h-1zM165 122h1v1h-1zM167 122h1v1h-1zM173 122h1v1h-1zM175 122h1v1h-1zM177 122h1v1h-1zM182 122h1v1h-1zM184 122h1v1h-1zM186 122h1v1h-1zM191 122h1v1h-1zM193 122h7v1h-7zM204 122h1v1h-1zM222 122h1v1h-1zM224 122h1v1h-1zM166 123h1v1h-1zM172 123h1v1h-1zM176 123h1v1h-1zM178 123h2v1h-2zM182 123h1v1h-1zM196 123h2v1h-2zM225 123h2v1h-2zM144 124h1v1h-1zM170 124h2v1h-2zM174 124h2v1h-2zM177 124h1v1h-1zM182 124h1v1h-1zM188 124h1v1h-1zM196 124h1v1h-1zM198 124h1v1h-1zM223 124h2v1h-2zM226 124h1v1h-1zM174 125h1v1h-1zM185 125h1v1h-1zM195 125h1v1h-1zM197 125h1v1h-1zM201 125h1v1h-1zM144 126h1v1h-1zM148 126h1v1h-1zM178 126h1v1h-1zM226 126h1v1h-1zM144 127h1v1h-1zM174 127h1v1h-1zM194 127h2v1h-2zM226 127h1v1h-1zM144 128h2v1h-2zM147 128h1v1h-1zM224 128h1v1h-1zM144 129h3v1h-3zM174 129h1v1h-1zM180 129h1v1h-1zM188 129h1v1h-1zM194 129h2v1h-2zM223 129h3v1h-3zM144 130h1v1h-1zM146 130h2v1h-2zM151 130h1v1h-1zM168 130h1v1h-1zM173 130h1v1h-1zM176 130h2v1h-2zM195 130h1v1h-1zM218 130h1v1h-1zM220 130h3v1h-3zM224 130h2v1h-2zM146 131h1v1h-1zM148 131h5v1h-5zM154 131h1v1h-1zM156 131h2v1h-2zM163 131h1v1h-1zM169 131h1v1h-1zM171 131h1v1h-1zM174 131h3v1h-3zM179 131h1v1h-1zM182 131h2v1h-2zM185 131h1v1h-1zM195 131h1v1h-1zM199 131h1v1h-1zM202 131h1v1h-1zM204 131h1v1h-1zM216 131h2v1h-2zM219 131h4v1h-4zM148 132h4v1h-4zM154 132h2v1h-2zM158 132h5v1h-5zM165 132h4v1h-4zM171 132h1v1h-1zM174 132h5v1h-5zM182 132h2v1h-2zM186 132h1v1h-1zM191 132h1v1h-1zM193 132h1v1h-1zM195 132h2v1h-2zM200 132h2v1h-2zM203 132h2v1h-2zM206 132h9v1h-9zM216 132h2v1h-2zM219 132h2v1h-2zM222 132h1v1h-1zM147 133h1v1h-1zM149 133h1v1h-1zM154 133h3v1h-3zM159 133h4v1h-4zM164 133h2v1h-2zM167 133h2v1h-2zM171 133h1v1h-1zM175 133h3v1h-3zM179 133h2v1h-2zM182 133h1v1h-1zM186 133h1v1h-1zM190 133h2v1h-2zM193 133h1v1h-1zM195 133h2v1h-2zM198 133h5v1h-5zM204 133h4v1h-4zM209 133h5v1h-5zM215 133h6v1h-6zM222 133h1v1h-1zM152 134h1v1h-1zM154 134h1v1h-1zM156 134h1v1h-1zM159 134h2v1h-2zM163 134h3v1h-3zM168 134h1v1h-1zM170 134h8v1h-8zM183 134h1v1h-1zM187 134h3v1h-3zM192 134h2v1h-2zM196 134h1v1h-1zM198 134h6v1h-6zM208 134h1v1h-1zM210 134h1v1h-1zM213 134h4v1h-4zM218 134h1v1h-1zM153 135h1v1h-1zM155 135h3v1h-3zM160 135h3v1h-3zM167 135h1v1h-1zM170 135h2v1h-2zM174 135h1v1h-1zM176 135h2v1h-2zM180 135h3v1h-3zM189 135h1v1h-1zM191 135h1v1h-1zM193 135h5v1h-5zM199 135h2v1h-2zM207 135h1v1h-1zM214 135h1v1h-1zM217 135h1v1h-1zM153 136h2v1h-2zM161 136h1v1h-1zM170 136h4v1h-4zM175 136h6v1h-6zM183 136h1v1h-1zM191 136h3v1h-3zM195 136h3v1h-3zM200 136h2v1h-2zM203 136h1v1h-1zM210 136h1v1h-1zM213 136h1v1h-1zM165 137h1v1h-1zM174 137h8v1h-8zM183 137h3v1h-3zM188 137h1v1h-1zM190 137h2v1h-2zM194 137h5v1h-5zM212 137h1v1h-1zM158 138h1v1h-1zM164 138h1v1h-1zM167 138h1v1h-1zM170 138h2v1h-2zM173 138h1v1h-1zM176 138h5v1h-5zM182 138h3v1h-3zM186 138h7v1h-7zM195 138h2v1h-2zM158 139h1v1h-1zM169 139h1v1h-1zM171 139h1v1h-1zM173 139h1v1h-1zM177 139h8v1h-8zM186 139h1v1h-1zM188 139h2v1h-2zM193 139h3v1h-3zM197 139h1v1h-1zM199 139h1v1h-1zM203 139h1v1h-1zM171 140h1v1h-1zM176 140h1v1h-1zM178 140h1v1h-1zM180 140h1v1h-1zM182 140h1v1h-1zM184 140h2v1h-2zM188 140h3v1h-3zM192 140h4v1h-4zM198 140h1v1h-1zM200 140h1v1h-1zM202 140h1v1h-1zM207 140h1v1h-1zM175 141h1v1h-1zM178 141h1v1h-1zM180 141h2v1h-2zM184 141h2v1h-2zM188 141h3v1h-3zM192 141h1v1h-1zM194 141h2v1h-2zM198 141h1v1h-1zM174 142h1v1h-1zM176 142h6v1h-6zM183 142h2v1h-2zM186 142h2v1h-2zM189 142h2v1h-2zM192 142h2v1h-2zM195 142h2v1h-2zM198 142h1v1h-1zM201 142h1v1h-1zM177 143h4v1h-4zM182 143h5v1h-5zM188 143h2v1h-2zM191 143h1v1h-1zM198 143h1v1h-1zM175 144h1v1h-1zM177 144h2v1h-2zM180 144h3v1h-3zM184 144h1v1h-1zM186 144h2v1h-2zM190 144h3v1h-3zM197 144h1v1h-1zM181 145h3v1h-3zM189 145h1v1h-1zM192 145h1v1h-1zM196 145h1v1h-1zM190 146h1v1h-1z"/><path fill="#0e092b" d="M137 39h1v1h-1zM143 39h1v1h-1zM228 39h2v1h-2zM234 39h1v1h-1zM137 40h1v1h-1zM141 40h4v1h-4zM228 40h1v1h-1zM230 40h1v1h-1zM234 40h3v1h-3zM238 40h1v1h-1zM135 41h4v1h-4zM141 41h1v1h-1zM143 41h1v1h-1zM226 41h5v1h-5zM235 41h2v1h-2zM133 42h1v1h-1zM137 42h1v1h-1zM139 42h1v1h-1zM141 42h1v1h-1zM145 42h4v1h-4zM223 42h1v1h-1zM231 42h3v1h-3zM238 42h1v1h-1zM139 43h3v1h-3zM144 43h1v1h-1zM149 43h2v1h-2zM222 43h3v1h-3zM227 43h1v1h-1zM233 43h1v1h-1zM236 43h3v1h-3zM131 44h3v1h-3zM148 44h1v1h-1zM222 44h1v1h-1zM233 44h1v1h-1zM237 44h1v1h-1zM134 45h1v1h-1zM150 45h2v1h-2zM220 45h4v1h-4zM127 46h1v1h-1zM129 46h2v1h-2zM219 46h2v1h-2zM239 46h1v1h-1zM241 46h1v1h-1zM129 47h3v1h-3zM150 47h1v1h-1zM152 47h1v1h-1zM221 47h2v1h-2zM239 47h1v1h-1zM128 48h2v1h-2zM131 48h1v1h-1zM151 48h3v1h-3zM219 48h2v1h-2zM240 48h2v1h-2zM131 49h2v1h-2zM150 49h2v1h-2zM154 49h1v1h-1zM219 49h2v1h-2zM239 49h5v1h-5zM129 50h1v1h-1zM131 50h2v1h-2zM152 50h1v1h-1zM218 50h1v1h-1zM236 50h1v1h-1zM238 50h1v1h-1zM240 50h1v1h-1zM243 50h1v1h-1zM246 50h1v1h-1zM129 51h3v1h-3zM152 51h1v1h-1zM217 51h1v1h-1zM220 51h1v1h-1zM235 51h1v1h-1zM130 52h4v1h-4zM238 52h1v1h-1zM241 52h2v1h-2zM131 53h1v1h-1zM133 53h1v1h-1zM153 53h1v1h-1zM217 53h2v1h-2zM221 53h1v1h-1zM240 53h1v1h-1zM130 54h2v1h-2zM133 54h1v1h-1zM150 54h1v1h-1zM152 54h3v1h-3zM219 54h1v1h-1zM241 54h1v1h-1zM132 55h1v1h-1zM134 55h1v1h-1zM152 55h2v1h-2zM219 55h1v1h-1zM221 55h1v1h-1zM239 55h2v1h-2zM131 56h2v1h-2zM134 56h1v1h-1zM151 56h1v1h-1zM218 56h1v1h-1zM220 56h2v1h-2zM235 56h1v1h-1zM237 56h2v1h-2zM133 57h1v1h-1zM136 57h1v1h-1zM150 57h1v1h-1zM152 57h2v1h-2zM221 57h1v1h-1zM224 57h1v1h-1zM234 57h1v1h-1zM238 57h2v1h-2zM133 58h3v1h-3zM137 58h1v1h-1zM139 58h1v1h-1zM142 58h1v1h-1zM149 58h2v1h-2zM218 58h1v1h-1zM225 58h1v1h-1zM228 58h1v1h-1zM233 58h1v1h-1zM235 58h2v1h-2zM238 58h1v1h-1zM135 59h2v1h-2zM138 59h1v1h-1zM151 59h3v1h-3zM220 59h2v1h-2zM234 59h1v1h-1zM236 59h1v1h-1zM238 59h1v1h-1zM135 60h1v1h-1zM137 60h2v1h-2zM140 60h2v1h-2zM145 60h1v1h-1zM147 60h1v1h-1zM149 60h2v1h-2zM219 60h4v1h-4zM225 60h1v1h-1zM228 60h2v1h-2zM231 60h1v1h-1zM233 60h1v1h-1zM136 61h1v1h-1zM139 61h1v1h-1zM141 61h2v1h-2zM145 61h4v1h-4zM150 61h1v1h-1zM223 61h1v1h-1zM226 61h3v1h-3zM235 61h1v1h-1zM239 61h1v1h-1zM139 62h3v1h-3zM143 62h1v1h-1zM145 62h1v1h-1zM148 62h1v1h-1zM225 62h1v1h-1zM227 62h2v1h-2zM231 62h1v1h-1zM234 62h1v1h-1zM237 62h1v1h-1zM139 63h1v1h-1zM141 63h1v1h-1zM149 63h1v1h-1zM151 63h1v1h-1zM225 63h2v1h-2zM140 64h1v1h-1zM146 66h1v1h-1zM131 69h1v1h-1zM185 70h1v1h-1zM183 72h1v1h-1zM182 73h2v1h-2zM186 73h1v1h-1zM179 74h1v1h-1zM181 74h3v1h-3zM188 74h3v1h-3zM192 74h1v1h-1zM194 74h1v1h-1zM179 75h2v1h-2zM184 75h3v1h-3zM188 75h3v1h-3zM179 76h1v1h-1zM182 76h1v1h-1zM189 76h1v1h-1zM191 76h2v1h-2zM178 77h3v1h-3zM187 77h1v1h-1zM192 77h2v1h-2zM195 77h1v1h-1zM235 77h1v1h-1zM125 78h1v1h-1zM130 78h1v1h-1zM176 78h1v1h-1zM188 78h1v1h-1zM193 78h2v1h-2zM129 79h2v1h-2zM135 79h1v1h-1zM176 79h1v1h-1zM195 79h1v1h-1zM241 79h1v1h-1zM244 79h1v1h-1zM124 80h4v1h-4zM129 80h1v1h-1zM176 80h1v1h-1zM195 80h2v1h-2zM240 80h2v1h-2zM243 80h1v1h-1zM245 80h2v1h-2zM250 80h2v1h-2zM121 81h5v1h-5zM128 81h2v1h-2zM132 81h2v1h-2zM196 81h1v1h-1zM242 81h1v1h-1zM245 81h3v1h-3zM249 81h1v1h-1zM120 82h1v1h-1zM122 82h2v1h-2zM125 82h1v1h-1zM127 82h2v1h-2zM133 82h2v1h-2zM136 82h1v1h-1zM175 82h1v1h-1zM195 82h1v1h-1zM197 82h1v1h-1zM235 82h1v1h-1zM237 82h1v1h-1zM239 82h1v1h-1zM241 82h2v1h-2zM244 82h1v1h-1zM248 82h4v1h-4zM253 82h1v1h-1zM119 83h1v1h-1zM121 83h1v1h-1zM132 83h3v1h-3zM175 83h1v1h-1zM193 83h1v1h-1zM197 83h2v1h-2zM236 83h2v1h-2zM240 83h1v1h-1zM244 83h1v1h-1zM252 83h2v1h-2zM116 84h1v1h-1zM118 84h1v1h-1zM121 84h2v1h-2zM134 84h1v1h-1zM137 84h1v1h-1zM172 84h1v1h-1zM197 84h1v1h-1zM242 84h1v1h-1zM251 84h3v1h-3zM255 84h1v1h-1zM119 85h1v1h-1zM135 85h1v1h-1zM173 85h2v1h-2zM199 85h1v1h-1zM236 85h3v1h-3zM252 85h2v1h-2zM118 86h1v1h-1zM135 86h1v1h-1zM137 86h2v1h-2zM170 86h1v1h-1zM172 86h1v1h-1zM200 86h1v1h-1zM233 86h3v1h-3zM250 86h1v1h-1zM253 86h1v1h-1zM255 86h2v1h-2zM119 87h1v1h-1zM121 87h1v1h-1zM136 87h1v1h-1zM171 87h2v1h-2zM200 87h1v1h-1zM236 87h1v1h-1zM238 87h1v1h-1zM254 87h2v1h-2zM119 88h1v1h-1zM134 88h2v1h-2zM138 88h1v1h-1zM172 88h1v1h-1zM200 88h2v1h-2zM236 88h1v1h-1zM251 88h1v1h-1zM254 88h2v1h-2zM117 89h3v1h-3zM134 89h1v1h-1zM136 89h2v1h-2zM139 89h1v1h-1zM169 89h2v1h-2zM200 89h3v1h-3zM233 89h1v1h-1zM236 89h2v1h-2zM239 89h1v1h-1zM252 89h1v1h-1zM118 90h4v1h-4zM134 90h1v1h-1zM140 90h1v1h-1zM197 90h1v1h-1zM202 90h1v1h-1zM235 90h2v1h-2zM239 90h1v1h-1zM253 90h2v1h-2zM118 91h1v1h-1zM122 91h2v1h-2zM132 91h2v1h-2zM202 91h2v1h-2zM234 91h2v1h-2zM254 91h2v1h-2zM119 92h2v1h-2zM122 92h2v1h-2zM134 92h2v1h-2zM201 92h1v1h-1zM203 92h1v1h-1zM235 92h1v1h-1zM237 92h2v1h-2zM240 92h1v1h-1zM245 92h1v1h-1zM248 92h1v1h-1zM251 92h2v1h-2zM120 93h1v1h-1zM125 93h1v1h-1zM127 93h1v1h-1zM129 93h1v1h-1zM135 93h1v1h-1zM202 93h1v1h-1zM204 93h1v1h-1zM237 93h3v1h-3zM247 93h2v1h-2zM251 93h2v1h-2zM121 94h1v1h-1zM123 94h1v1h-1zM129 94h4v1h-4zM174 94h1v1h-1zM202 94h1v1h-1zM238 94h1v1h-1zM242 94h5v1h-5zM249 94h1v1h-1zM251 94h1v1h-1zM122 95h1v1h-1zM126 95h1v1h-1zM128 95h1v1h-1zM133 95h1v1h-1zM166 95h1v1h-1zM238 95h1v1h-1zM240 95h1v1h-1zM242 95h1v1h-1zM246 95h1v1h-1zM249 95h1v1h-1zM166 96h2v1h-2zM204 96h2v1h-2zM205 97h2v1h-2zM165 98h1v1h-1zM204 98h1v1h-1zM166 100h1v1h-1zM204 100h1v1h-1zM165 101h1v1h-1zM205 101h1v1h-1zM207 101h1v1h-1zM206 102h1v1h-1zM165 103h1v1h-1zM204 103h4v1h-4zM164 104h2v1h-2zM164 105h1v1h-1zM207 105h1v1h-1zM163 106h3v1h-3zM209 106h1v1h-1zM208 107h1v1h-1zM163 108h1v1h-1zM208 108h1v1h-1zM208 109h1v1h-1zM163 110h2v1h-2zM164 111h1v1h-1zM166 111h1v1h-1zM207 111h2v1h-2zM164 112h1v1h-1zM166 112h1v1h-1zM207 112h2v1h-2zM163 113h3v1h-3zM162 114h2v1h-2zM165 114h1v1h-1zM206 114h1v1h-1zM208 114h1v1h-1zM164 115h1v1h-1zM204 115h1v1h-1zM206 115h2v1h-2zM165 116h1v1h-1zM168 116h1v1h-1zM207 116h2v1h-2zM166 117h1v1h-1zM168 117h1v1h-1zM203 117h2v1h-2zM166 118h1v1h-1zM170 118h3v1h-3zM196 118h1v1h-1zM199 118h1v1h-1zM201 118h2v1h-2zM204 118h1v1h-1zM176 119h2v1h-2zM179 119h1v1h-1zM182 119h1v1h-1zM195 119h2v1h-2zM198 119h1v1h-1zM223 119h1v1h-1zM147 120h1v1h-1zM153 120h3v1h-3zM163 120h2v1h-2zM172 120h1v1h-1zM176 120h1v1h-1zM178 120h2v1h-2zM181 120h1v1h-1zM183 120h1v1h-1zM189 120h5v1h-5zM197 120h1v1h-1zM206 120h2v1h-2zM210 120h1v1h-1zM214 120h1v1h-1zM218 120h2v1h-2zM149 121h6v1h-6zM156 121h1v1h-1zM160 121h1v1h-1zM163 121h2v1h-2zM174 121h1v1h-1zM177 121h1v1h-1zM183 121h2v1h-2zM186 121h3v1h-3zM192 121h2v1h-2zM200 121h1v1h-1zM204 121h1v1h-1zM206 121h1v1h-1zM208 121h1v1h-1zM210 121h5v1h-5zM219 121h1v1h-1zM221 121h1v1h-1zM151 122h1v1h-1zM154 122h1v1h-1zM156 122h1v1h-1zM162 122h1v1h-1zM164 122h1v1h-1zM168 122h5v1h-5zM174 122h1v1h-1zM176 122h1v1h-1zM178 122h4v1h-4zM183 122h1v1h-1zM187 122h2v1h-2zM190 122h1v1h-1zM192 122h1v1h-1zM200 122h4v1h-4zM205 122h5v1h-5zM211 122h3v1h-3zM215 122h1v1h-1zM217 122h1v1h-1zM221 122h1v1h-1zM225 122h2v1h-2zM144 123h3v1h-3zM148 123h1v1h-1zM164 123h1v1h-1zM167 123h5v1h-5zM173 123h3v1h-3zM180 123h2v1h-2zM184 123h2v1h-2zM189 123h1v1h-1zM191 123h2v1h-2zM194 123h2v1h-2zM198 123h3v1h-3zM202 123h1v1h-1zM204 123h1v1h-1zM206 123h2v1h-2zM224 123h1v1h-1zM165 124h3v1h-3zM169 124h1v1h-1zM172 124h1v1h-1zM176 124h1v1h-1zM179 124h3v1h-3zM183 124h2v1h-2zM186 124h1v1h-1zM189 124h1v1h-1zM192 124h4v1h-4zM197 124h1v1h-1zM199 124h3v1h-3zM203 124h1v1h-1zM205 124h1v1h-1zM210 124h1v1h-1zM222 124h1v1h-1zM144 125h2v1h-2zM147 125h1v1h-1zM149 125h1v1h-1zM170 125h1v1h-1zM172 125h2v1h-2zM178 125h3v1h-3zM184 125h1v1h-1zM190 125h1v1h-1zM193 125h1v1h-1zM196 125h1v1h-1zM198 125h1v1h-1zM202 125h1v1h-1zM225 125h2v1h-2zM145 126h1v1h-1zM147 126h1v1h-1zM160 126h1v1h-1zM169 126h1v1h-1zM175 126h1v1h-1zM177 126h1v1h-1zM179 126h1v1h-1zM181 126h2v1h-2zM184 126h2v1h-2zM188 126h1v1h-1zM191 126h3v1h-3zM197 126h1v1h-1zM199 126h1v1h-1zM202 126h1v1h-1zM225 126h1v1h-1zM145 127h4v1h-4zM167 127h1v1h-1zM171 127h3v1h-3zM175 127h1v1h-1zM177 127h1v1h-1zM179 127h2v1h-2zM182 127h2v1h-2zM185 127h1v1h-1zM187 127h1v1h-1zM189 127h2v1h-2zM192 127h1v1h-1zM197 127h2v1h-2zM201 127h1v1h-1zM209 127h1v1h-1zM224 127h2v1h-2zM146 128h1v1h-1zM148 128h2v1h-2zM155 128h1v1h-1zM168 128h1v1h-1zM172 128h2v1h-2zM175 128h3v1h-3zM179 128h2v1h-2zM182 128h1v1h-1zM185 128h3v1h-3zM190 128h2v1h-2zM193 128h2v1h-2zM198 128h1v1h-1zM201 128h1v1h-1zM222 128h2v1h-2zM225 128h1v1h-1zM147 129h6v1h-6zM165 129h1v1h-1zM168 129h1v1h-1zM175 129h2v1h-2zM178 129h2v1h-2zM181 129h1v1h-1zM183 129h2v1h-2zM187 129h1v1h-1zM196 129h2v1h-2zM202 129h1v1h-1zM209 129h1v1h-1zM218 129h1v1h-1zM220 129h3v1h-3zM149 130h2v1h-2zM152 130h1v1h-1zM155 130h2v1h-2zM158 130h1v1h-1zM160 130h2v1h-2zM163 130h3v1h-3zM169 130h1v1h-1zM171 130h1v1h-1zM174 130h2v1h-2zM178 130h5v1h-5zM186 130h1v1h-1zM189 130h1v1h-1zM191 130h1v1h-1zM194 130h1v1h-1zM197 130h1v1h-1zM199 130h1v1h-1zM201 130h1v1h-1zM203 130h3v1h-3zM207 130h2v1h-2zM210 130h1v1h-1zM215 130h1v1h-1zM158 131h1v1h-1zM160 131h3v1h-3zM164 131h2v1h-2zM168 131h1v1h-1zM170 131h1v1h-1zM177 131h1v1h-1zM180 131h2v1h-2zM188 131h2v1h-2zM191 131h4v1h-4zM196 131h3v1h-3zM200 131h2v1h-2zM203 131h1v1h-1zM206 131h5v1h-5zM213 131h3v1h-3zM218 131h1v1h-1zM223 131h1v1h-1zM157 132h1v1h-1zM163 132h2v1h-2zM169 132h2v1h-2zM172 132h2v1h-2zM179 132h1v1h-1zM181 132h1v1h-1zM184 132h2v1h-2zM188 132h3v1h-3zM192 132h1v1h-1zM197 132h3v1h-3zM202 132h1v1h-1zM205 132h1v1h-1zM215 132h1v1h-1zM163 133h1v1h-1zM166 133h1v1h-1zM174 133h1v1h-1zM178 133h1v1h-1zM181 133h1v1h-1zM183 133h2v1h-2zM187 133h3v1h-3zM192 133h1v1h-1zM197 133h1v1h-1zM161 134h1v1h-1zM178 134h4v1h-4zM184 134h1v1h-1zM186 134h1v1h-1zM190 134h2v1h-2zM194 134h2v1h-2zM178 135h2v1h-2zM184 135h2v1h-2zM187 135h2v1h-2zM190 135h1v1h-1zM174 136h1v1h-1zM181 136h2v1h-2zM184 136h5v1h-5zM190 136h1v1h-1zM194 136h1v1h-1zM182 137h1v1h-1zM186 137h2v1h-2zM192 137h2v1h-2zM185 138h1v1h-1zM194 138h1v1h-1zM176 139h1v1h-1zM185 139h1v1h-1zM187 139h1v1h-1zM190 139h3v1h-3zM183 140h1v1h-1zM186 140h1v1h-1zM182 142h1v1h-1zM185 142h1v1h-1z"/><path fill="#180c3c" d="M134 40h2v1h-2zM140 40h1v1h-1zM139 41h2v1h-2zM231 41h4v1h-4zM138 42h1v1h-1zM143 42h2v1h-2zM225 42h6v1h-6zM234 42h1v1h-1zM236 42h2v1h-2zM239 42h1v1h-1zM133 43h3v1h-3zM137 43h1v1h-1zM142 43h1v1h-1zM146 43h2v1h-2zM225 43h2v1h-2zM228 43h2v1h-2zM231 43h1v1h-1zM234 43h2v1h-2zM239 43h1v1h-1zM130 44h1v1h-1zM134 44h1v1h-1zM139 44h1v1h-1zM145 44h1v1h-1zM147 44h1v1h-1zM149 44h1v1h-1zM228 44h1v1h-1zM235 44h2v1h-2zM238 44h3v1h-3zM132 45h1v1h-1zM136 45h3v1h-3zM142 45h1v1h-1zM144 45h1v1h-1zM146 45h2v1h-2zM149 45h1v1h-1zM238 45h2v1h-2zM131 46h3v1h-3zM142 46h1v1h-1zM144 46h1v1h-1zM147 46h5v1h-5zM221 46h1v1h-1zM238 46h1v1h-1zM240 46h1v1h-1zM132 47h1v1h-1zM149 47h1v1h-1zM151 47h1v1h-1zM240 47h1v1h-1zM242 47h1v1h-1zM136 48h1v1h-1zM224 48h1v1h-1zM239 48h1v1h-1zM129 49h1v1h-1zM148 49h2v1h-2zM152 49h1v1h-1zM221 49h1v1h-1zM236 49h1v1h-1zM150 50h1v1h-1zM153 50h1v1h-1zM219 50h2v1h-2zM239 50h1v1h-1zM133 51h1v1h-1zM151 51h1v1h-1zM153 51h2v1h-2zM239 51h1v1h-1zM241 51h2v1h-2zM143 52h1v1h-1zM152 52h3v1h-3zM220 52h3v1h-3zM236 52h2v1h-2zM239 52h1v1h-1zM132 53h1v1h-1zM135 53h1v1h-1zM138 53h1v1h-1zM150 53h1v1h-1zM219 53h1v1h-1zM223 53h1v1h-1zM237 53h1v1h-1zM239 53h1v1h-1zM151 54h1v1h-1zM217 54h2v1h-2zM220 54h3v1h-3zM236 54h4v1h-4zM133 55h1v1h-1zM145 55h1v1h-1zM148 55h3v1h-3zM218 55h1v1h-1zM220 55h1v1h-1zM228 55h1v1h-1zM235 55h1v1h-1zM237 55h2v1h-2zM133 56h1v1h-1zM135 56h3v1h-3zM139 56h1v1h-1zM141 56h1v1h-1zM147 56h2v1h-2zM222 56h1v1h-1zM224 56h1v1h-1zM236 56h1v1h-1zM240 56h1v1h-1zM134 57h2v1h-2zM146 57h4v1h-4zM151 57h1v1h-1zM222 57h2v1h-2zM225 57h1v1h-1zM227 57h2v1h-2zM230 57h1v1h-1zM232 57h1v1h-1zM235 57h1v1h-1zM237 57h1v1h-1zM136 58h1v1h-1zM140 58h1v1h-1zM144 58h1v1h-1zM146 58h2v1h-2zM151 58h1v1h-1zM223 58h2v1h-2zM226 58h1v1h-1zM232 58h1v1h-1zM234 58h1v1h-1zM140 59h4v1h-4zM145 59h5v1h-5zM227 59h2v1h-2zM230 59h4v1h-4zM139 60h1v1h-1zM146 60h1v1h-1zM226 60h2v1h-2zM232 60h1v1h-1zM143 61h1v1h-1zM222 61h1v1h-1zM142 62h1v1h-1zM185 74h2v1h-2zM181 75h1v1h-1zM183 75h1v1h-1zM187 75h1v1h-1zM191 75h1v1h-1zM183 76h1v1h-1zM185 76h2v1h-2zM190 76h1v1h-1zM182 77h3v1h-3zM191 77h1v1h-1zM178 78h1v1h-1zM177 79h3v1h-3zM193 79h2v1h-2zM123 80h1v1h-1zM175 80h1v1h-1zM180 80h1v1h-1zM194 80h1v1h-1zM127 81h1v1h-1zM177 81h2v1h-2zM187 81h1v1h-1zM194 81h1v1h-1zM241 81h1v1h-1zM243 81h2v1h-2zM126 82h1v1h-1zM130 82h1v1h-1zM193 82h2v1h-2zM196 82h1v1h-1zM238 82h1v1h-1zM240 82h1v1h-1zM243 82h1v1h-1zM245 82h2v1h-2zM122 83h1v1h-1zM124 83h2v1h-2zM129 83h1v1h-1zM131 83h1v1h-1zM173 83h1v1h-1zM238 83h2v1h-2zM241 83h1v1h-1zM245 83h1v1h-1zM248 83h1v1h-1zM250 83h1v1h-1zM124 84h1v1h-1zM194 84h1v1h-1zM196 84h1v1h-1zM198 84h1v1h-1zM236 84h5v1h-5zM246 84h2v1h-2zM250 84h1v1h-1zM121 85h2v1h-2zM134 85h1v1h-1zM136 85h1v1h-1zM172 85h1v1h-1zM178 85h1v1h-1zM197 85h1v1h-1zM246 85h1v1h-1zM248 85h1v1h-1zM251 85h1v1h-1zM117 86h1v1h-1zM119 86h2v1h-2zM134 86h1v1h-1zM136 86h1v1h-1zM177 86h1v1h-1zM179 86h1v1h-1zM197 86h2v1h-2zM236 86h2v1h-2zM239 86h1v1h-1zM248 86h2v1h-2zM120 87h1v1h-1zM133 87h1v1h-1zM135 87h1v1h-1zM173 87h1v1h-1zM178 87h1v1h-1zM197 87h3v1h-3zM237 87h1v1h-1zM240 87h1v1h-1zM251 87h2v1h-2zM118 88h1v1h-1zM136 88h1v1h-1zM171 88h1v1h-1zM173 88h1v1h-1zM235 88h1v1h-1zM237 88h2v1h-2zM240 88h1v1h-1zM250 88h1v1h-1zM252 88h2v1h-2zM120 89h1v1h-1zM133 89h1v1h-1zM135 89h1v1h-1zM171 89h2v1h-2zM194 89h1v1h-1zM199 89h1v1h-1zM242 89h1v1h-1zM249 89h1v1h-1zM253 89h1v1h-1zM122 90h1v1h-1zM124 90h2v1h-2zM130 90h1v1h-1zM133 90h1v1h-1zM170 90h1v1h-1zM198 90h1v1h-1zM201 90h1v1h-1zM237 90h2v1h-2zM240 90h1v1h-1zM250 90h3v1h-3zM119 91h3v1h-3zM126 91h2v1h-2zM131 91h1v1h-1zM134 91h1v1h-1zM170 91h1v1h-1zM172 91h1v1h-1zM178 91h1v1h-1zM197 91h4v1h-4zM236 91h2v1h-2zM239 91h3v1h-3zM243 91h2v1h-2zM246 91h1v1h-1zM250 91h2v1h-2zM121 92h1v1h-1zM124 92h2v1h-2zM129 92h4v1h-4zM169 92h1v1h-1zM172 92h1v1h-1zM202 92h1v1h-1zM239 92h1v1h-1zM241 92h1v1h-1zM243 92h1v1h-1zM247 92h1v1h-1zM250 92h1v1h-1zM128 93h1v1h-1zM130 93h2v1h-2zM169 93h1v1h-1zM171 93h1v1h-1zM240 93h1v1h-1zM243 93h2v1h-2zM246 93h1v1h-1zM249 93h1v1h-1zM127 94h1v1h-1zM133 94h1v1h-1zM168 94h1v1h-1zM172 94h1v1h-1zM247 94h1v1h-1zM167 95h1v1h-1zM170 95h1v1h-1zM202 95h2v1h-2zM245 95h1v1h-1zM203 96h1v1h-1zM169 97h1v1h-1zM177 97h1v1h-1zM202 97h1v1h-1zM204 97h1v1h-1zM166 98h2v1h-2zM203 98h1v1h-1zM205 98h1v1h-1zM166 99h2v1h-2zM171 99h1v1h-1zM198 99h1v1h-1zM204 99h1v1h-1zM167 100h1v1h-1zM172 100h1v1h-1zM206 100h1v1h-1zM166 101h1v1h-1zM168 101h1v1h-1zM204 101h1v1h-1zM166 102h1v1h-1zM202 102h4v1h-4zM175 103h1v1h-1zM167 104h1v1h-1zM205 104h2v1h-2zM165 105h1v1h-1zM172 105h1v1h-1zM206 105h1v1h-1zM207 106h1v1h-1zM164 108h1v1h-1zM164 109h1v1h-1zM206 109h2v1h-2zM207 110h1v1h-1zM163 111h1v1h-1zM206 111h1v1h-1zM165 112h1v1h-1zM204 112h3v1h-3zM168 113h1v1h-1zM206 113h3v1h-3zM166 114h1v1h-1zM168 114h1v1h-1zM165 115h1v1h-1zM168 115h2v1h-2zM205 115h1v1h-1zM198 116h1v1h-1zM201 116h1v1h-1zM203 116h3v1h-3zM167 117h1v1h-1zM170 117h2v1h-2zM174 117h1v1h-1zM199 117h1v1h-1zM201 117h2v1h-2zM206 117h1v1h-1zM173 118h3v1h-3zM177 118h1v1h-1zM180 118h1v1h-1zM184 118h1v1h-1zM193 118h1v1h-1zM195 118h1v1h-1zM197 118h1v1h-1zM173 119h1v1h-1zM175 119h1v1h-1zM180 119h2v1h-2zM183 119h9v1h-9zM193 119h1v1h-1zM182 120h1v1h-1zM184 120h2v1h-2zM187 120h1v1h-1zM208 120h1v1h-1zM158 121h1v1h-1zM180 121h2v1h-2zM194 121h1v1h-1zM196 121h1v1h-1zM215 121h1v1h-1zM217 121h1v1h-1zM149 122h2v1h-2zM153 122h1v1h-1zM155 122h1v1h-1zM160 122h2v1h-2zM163 122h1v1h-1zM166 122h1v1h-1zM185 122h1v1h-1zM189 122h1v1h-1zM210 122h1v1h-1zM214 122h1v1h-1zM218 122h3v1h-3zM223 122h1v1h-1zM149 123h2v1h-2zM152 123h2v1h-2zM156 123h2v1h-2zM160 123h2v1h-2zM165 123h1v1h-1zM177 123h1v1h-1zM183 123h1v1h-1zM186 123h3v1h-3zM190 123h1v1h-1zM193 123h1v1h-1zM201 123h1v1h-1zM203 123h1v1h-1zM205 123h1v1h-1zM210 123h1v1h-1zM212 123h1v1h-1zM215 123h1v1h-1zM218 123h3v1h-3zM222 123h2v1h-2zM145 124h3v1h-3zM149 124h1v1h-1zM151 124h2v1h-2zM168 124h1v1h-1zM173 124h1v1h-1zM178 124h1v1h-1zM191 124h1v1h-1zM202 124h1v1h-1zM204 124h1v1h-1zM206 124h3v1h-3zM212 124h1v1h-1zM214 124h1v1h-1zM219 124h3v1h-3zM225 124h1v1h-1zM146 125h1v1h-1zM150 125h1v1h-1zM155 125h1v1h-1zM161 125h1v1h-1zM165 125h1v1h-1zM171 125h1v1h-1zM175 125h3v1h-3zM181 125h3v1h-3zM187 125h2v1h-2zM191 125h2v1h-2zM194 125h1v1h-1zM199 125h2v1h-2zM205 125h1v1h-1zM209 125h1v1h-1zM224 125h1v1h-1zM149 126h2v1h-2zM155 126h1v1h-1zM159 126h1v1h-1zM164 126h1v1h-1zM167 126h1v1h-1zM170 126h3v1h-3zM174 126h1v1h-1zM180 126h1v1h-1zM186 126h2v1h-2zM189 126h2v1h-2zM194 126h1v1h-1zM196 126h1v1h-1zM198 126h1v1h-1zM200 126h2v1h-2zM217 126h2v1h-2zM222 126h1v1h-1zM224 126h1v1h-1zM150 127h1v1h-1zM157 127h1v1h-1zM164 127h1v1h-1zM166 127h1v1h-1zM169 127h2v1h-2zM184 127h1v1h-1zM186 127h1v1h-1zM188 127h1v1h-1zM191 127h1v1h-1zM193 127h1v1h-1zM196 127h1v1h-1zM199 127h2v1h-2zM202 127h1v1h-1zM205 127h1v1h-1zM207 127h1v1h-1zM210 127h1v1h-1zM212 127h2v1h-2zM218 127h1v1h-1zM223 127h1v1h-1zM150 128h2v1h-2zM162 128h1v1h-1zM164 128h1v1h-1zM167 128h1v1h-1zM169 128h3v1h-3zM174 128h1v1h-1zM178 128h1v1h-1zM183 128h2v1h-2zM188 128h2v1h-2zM192 128h1v1h-1zM195 128h3v1h-3zM199 128h2v1h-2zM202 128h1v1h-1zM205 128h1v1h-1zM207 128h1v1h-1zM212 128h2v1h-2zM221 128h1v1h-1zM226 128h1v1h-1zM155 129h1v1h-1zM157 129h2v1h-2zM160 129h1v1h-1zM164 129h1v1h-1zM169 129h4v1h-4zM177 129h1v1h-1zM182 129h1v1h-1zM185 129h2v1h-2zM190 129h4v1h-4zM198 129h4v1h-4zM203 129h4v1h-4zM210 129h1v1h-1zM148 130h1v1h-1zM153 130h2v1h-2zM157 130h1v1h-1zM162 130h1v1h-1zM166 130h2v1h-2zM170 130h1v1h-1zM172 130h1v1h-1zM183 130h1v1h-1zM187 130h2v1h-2zM193 130h1v1h-1zM196 130h1v1h-1zM198 130h1v1h-1zM200 130h1v1h-1zM202 130h1v1h-1zM206 130h1v1h-1zM212 130h3v1h-3zM216 130h2v1h-2zM219 130h1v1h-1zM153 131h1v1h-1zM155 131h1v1h-1zM159 131h1v1h-1zM166 131h2v1h-2zM172 131h2v1h-2zM178 131h1v1h-1zM186 131h1v1h-1zM190 131h1v1h-1zM205 131h1v1h-1zM211 131h2v1h-2zM180 132h1v1h-1zM187 132h1v1h-1zM194 132h1v1h-1zM170 133h1v1h-1zM185 133h1v1h-1zM182 134h1v1h-1zM185 134h1v1h-1zM183 135h1v1h-1zM186 135h1v1h-1zM192 135h1v1h-1zM189 136h1v1h-1zM189 137h1v1h-1z"/><path fill="#210c4a" d="M135 42h2v1h-2zM140 42h1v1h-1zM142 42h1v1h-1zM131 43h1v1h-1zM136 43h1v1h-1zM143 43h1v1h-1zM145 43h1v1h-1zM230 43h1v1h-1zM232 43h1v1h-1zM136 44h3v1h-3zM141 44h2v1h-2zM146 44h1v1h-1zM223 44h3v1h-3zM229 44h1v1h-1zM231 44h2v1h-2zM135 45h1v1h-1zM139 45h1v1h-1zM145 45h1v1h-1zM148 45h1v1h-1zM224 45h3v1h-3zM228 45h2v1h-2zM232 45h3v1h-3zM236 45h1v1h-1zM134 46h1v1h-1zM136 46h2v1h-2zM146 46h1v1h-1zM222 46h3v1h-3zM133 47h2v1h-2zM146 47h1v1h-1zM225 47h1v1h-1zM234 47h2v1h-2zM237 47h1v1h-1zM132 48h1v1h-1zM148 48h1v1h-1zM221 48h1v1h-1zM226 48h1v1h-1zM234 48h1v1h-1zM237 48h1v1h-1zM133 49h2v1h-2zM223 49h2v1h-2zM237 49h2v1h-2zM133 50h3v1h-3zM141 50h1v1h-1zM147 50h1v1h-1zM221 50h1v1h-1zM237 50h1v1h-1zM132 51h1v1h-1zM136 51h1v1h-1zM147 51h1v1h-1zM221 51h4v1h-4zM236 51h1v1h-1zM238 51h1v1h-1zM240 51h1v1h-1zM134 52h1v1h-1zM148 52h4v1h-4zM219 52h1v1h-1zM234 52h1v1h-1zM134 53h1v1h-1zM143 53h1v1h-1zM146 53h1v1h-1zM148 53h1v1h-1zM151 53h1v1h-1zM220 53h1v1h-1zM224 53h1v1h-1zM234 53h1v1h-1zM238 53h1v1h-1zM135 54h3v1h-3zM149 54h1v1h-1zM223 54h1v1h-1zM226 54h1v1h-1zM228 54h1v1h-1zM139 55h1v1h-1zM142 55h1v1h-1zM146 55h2v1h-2zM151 55h1v1h-1zM222 55h2v1h-2zM225 55h1v1h-1zM229 55h1v1h-1zM234 55h1v1h-1zM236 55h1v1h-1zM142 56h1v1h-1zM144 56h1v1h-1zM150 56h1v1h-1zM223 56h1v1h-1zM225 56h1v1h-1zM234 56h1v1h-1zM137 57h4v1h-4zM144 57h1v1h-1zM229 57h1v1h-1zM231 57h1v1h-1zM233 57h1v1h-1zM236 57h1v1h-1zM138 58h1v1h-1zM143 58h1v1h-1zM145 58h1v1h-1zM148 58h1v1h-1zM222 58h1v1h-1zM227 58h1v1h-1zM229 58h1v1h-1zM231 58h1v1h-1zM137 59h1v1h-1zM224 59h3v1h-3zM229 59h1v1h-1zM142 60h1v1h-1zM182 75h1v1h-1zM181 76h1v1h-1zM184 76h1v1h-1zM181 77h1v1h-1zM186 77h1v1h-1zM189 77h2v1h-2zM179 78h1v1h-1zM181 78h2v1h-2zM190 78h1v1h-1zM192 78h1v1h-1zM182 79h1v1h-1zM187 79h1v1h-1zM192 79h1v1h-1zM177 80h1v1h-1zM179 80h1v1h-1zM192 80h2v1h-2zM176 81h1v1h-1zM182 81h1v1h-1zM191 81h1v1h-1zM193 81h1v1h-1zM195 81h1v1h-1zM129 82h1v1h-1zM131 82h1v1h-1zM176 82h2v1h-2zM180 82h2v1h-2zM192 82h1v1h-1zM247 82h1v1h-1zM123 83h1v1h-1zM126 83h1v1h-1zM128 83h1v1h-1zM130 83h1v1h-1zM174 83h1v1h-1zM176 83h2v1h-2zM179 83h1v1h-1zM242 83h2v1h-2zM246 83h2v1h-2zM119 84h1v1h-1zM125 84h1v1h-1zM129 84h3v1h-3zM133 84h1v1h-1zM174 84h1v1h-1zM195 84h1v1h-1zM245 84h1v1h-1zM248 84h2v1h-2zM123 85h1v1h-1zM125 85h3v1h-3zM132 85h2v1h-2zM175 85h2v1h-2zM194 85h2v1h-2zM239 85h1v1h-1zM242 85h1v1h-1zM244 85h2v1h-2zM247 85h1v1h-1zM250 85h1v1h-1zM125 86h2v1h-2zM133 86h1v1h-1zM173 86h1v1h-1zM175 86h2v1h-2zM180 86h1v1h-1zM196 86h1v1h-1zM238 86h1v1h-1zM241 86h1v1h-1zM244 86h1v1h-1zM251 86h1v1h-1zM123 87h1v1h-1zM126 87h1v1h-1zM131 87h1v1h-1zM134 87h1v1h-1zM176 87h1v1h-1zM193 87h1v1h-1zM195 87h1v1h-1zM249 87h2v1h-2zM123 88h1v1h-1zM131 88h3v1h-3zM174 88h2v1h-2zM180 88h1v1h-1zM196 88h1v1h-1zM198 88h1v1h-1zM241 88h2v1h-2zM248 88h1v1h-1zM121 89h2v1h-2zM124 89h1v1h-1zM127 89h2v1h-2zM132 89h1v1h-1zM173 89h1v1h-1zM177 89h2v1h-2zM197 89h1v1h-1zM238 89h1v1h-1zM240 89h2v1h-2zM243 89h1v1h-1zM250 89h1v1h-1zM123 90h1v1h-1zM127 90h1v1h-1zM132 90h1v1h-1zM191 90h1v1h-1zM196 90h1v1h-1zM200 90h1v1h-1zM245 90h1v1h-1zM249 90h1v1h-1zM125 91h1v1h-1zM128 91h1v1h-1zM174 91h3v1h-3zM179 91h1v1h-1zM184 91h1v1h-1zM238 91h1v1h-1zM242 91h1v1h-1zM248 91h2v1h-2zM133 92h1v1h-1zM170 92h2v1h-2zM177 92h1v1h-1zM189 92h1v1h-1zM194 92h1v1h-1zM198 92h1v1h-1zM200 92h1v1h-1zM242 92h1v1h-1zM244 92h1v1h-1zM249 92h1v1h-1zM123 93h2v1h-2zM133 93h1v1h-1zM170 93h1v1h-1zM175 93h1v1h-1zM194 93h1v1h-1zM200 93h2v1h-2zM203 93h1v1h-1zM241 93h2v1h-2zM245 93h1v1h-1zM169 94h2v1h-2zM180 94h1v1h-1zM186 94h1v1h-1zM189 94h2v1h-2zM193 94h1v1h-1zM195 94h1v1h-1zM198 94h2v1h-2zM201 94h1v1h-1zM203 94h1v1h-1zM168 95h2v1h-2zM171 95h1v1h-1zM192 95h1v1h-1zM199 95h1v1h-1zM201 95h1v1h-1zM169 96h2v1h-2zM179 96h1v1h-1zM198 96h1v1h-1zM201 96h1v1h-1zM168 97h1v1h-1zM170 97h1v1h-1zM173 97h1v1h-1zM181 97h1v1h-1zM200 97h2v1h-2zM203 97h1v1h-1zM168 98h1v1h-1zM173 98h1v1h-1zM193 98h1v1h-1zM196 98h1v1h-1zM200 98h3v1h-3zM168 99h2v1h-2zM201 99h1v1h-1zM170 100h1v1h-1zM193 100h1v1h-1zM199 100h1v1h-1zM203 100h1v1h-1zM205 100h1v1h-1zM167 101h1v1h-1zM172 101h1v1h-1zM174 101h1v1h-1zM199 101h3v1h-3zM203 101h1v1h-1zM167 102h1v1h-1zM169 102h1v1h-1zM177 102h1v1h-1zM196 102h1v1h-1zM199 102h1v1h-1zM166 103h2v1h-2zM169 103h1v1h-1zM195 103h2v1h-2zM203 103h1v1h-1zM173 104h1v1h-1zM175 104h1v1h-1zM199 104h2v1h-2zM167 105h1v1h-1zM173 105h1v1h-1zM175 105h1v1h-1zM205 105h1v1h-1zM172 106h1v1h-1zM178 106h1v1h-1zM194 106h1v1h-1zM208 106h1v1h-1zM164 107h2v1h-2zM177 107h1v1h-1zM194 107h1v1h-1zM207 107h1v1h-1zM195 108h1v1h-1zM207 108h1v1h-1zM178 109h1v1h-1zM165 110h1v1h-1zM183 110h1v1h-1zM205 110h2v1h-2zM165 111h1v1h-1zM180 111h1v1h-1zM167 112h1v1h-1zM187 112h1v1h-1zM166 113h2v1h-2zM204 113h2v1h-2zM164 114h1v1h-1zM202 114h1v1h-1zM166 115h2v1h-2zM200 115h1v1h-1zM166 116h2v1h-2zM169 116h1v1h-1zM169 117h1v1h-1zM197 117h1v1h-1zM178 118h1v1h-1zM181 118h2v1h-2zM186 118h1v1h-1zM192 118h1v1h-1zM178 119h1v1h-1zM192 119h1v1h-1zM216 121h1v1h-1zM146 122h1v1h-1zM157 122h3v1h-3zM216 122h1v1h-1zM147 123h1v1h-1zM151 123h1v1h-1zM154 123h2v1h-2zM158 123h1v1h-1zM162 123h1v1h-1zM208 123h2v1h-2zM214 123h1v1h-1zM217 123h1v1h-1zM148 124h1v1h-1zM150 124h1v1h-1zM153 124h2v1h-2zM157 124h1v1h-1zM159 124h1v1h-1zM161 124h2v1h-2zM164 124h1v1h-1zM185 124h1v1h-1zM187 124h1v1h-1zM211 124h1v1h-1zM156 125h1v1h-1zM160 125h1v1h-1zM163 125h2v1h-2zM166 125h2v1h-2zM169 125h1v1h-1zM186 125h1v1h-1zM189 125h1v1h-1zM207 125h1v1h-1zM210 125h2v1h-2zM213 125h3v1h-3zM220 125h4v1h-4zM146 126h1v1h-1zM151 126h1v1h-1zM153 126h2v1h-2zM156 126h1v1h-1zM158 126h1v1h-1zM168 126h1v1h-1zM173 126h1v1h-1zM183 126h1v1h-1zM195 126h1v1h-1zM214 126h1v1h-1zM220 126h1v1h-1zM223 126h1v1h-1zM151 127h2v1h-2zM155 127h1v1h-1zM162 127h2v1h-2zM168 127h1v1h-1zM178 127h1v1h-1zM203 127h1v1h-1zM215 127h1v1h-1zM220 127h2v1h-2zM152 128h3v1h-3zM157 128h2v1h-2zM166 128h1v1h-1zM181 128h1v1h-1zM203 128h1v1h-1zM208 128h1v1h-1zM210 128h1v1h-1zM215 128h1v1h-1zM218 128h1v1h-1zM220 128h1v1h-1zM153 129h2v1h-2zM156 129h1v1h-1zM161 129h3v1h-3zM167 129h1v1h-1zM173 129h1v1h-1zM217 129h1v1h-1zM219 129h1v1h-1zM159 130h1v1h-1zM184 130h2v1h-2zM190 130h1v1h-1zM192 130h1v1h-1zM211 130h1v1h-1zM187 131h1v1h-1z"/><path fill="#2d0b59" d="M138 43h1v1h-1zM140 44h1v1h-1zM143 44h2v1h-2zM226 44h1v1h-1zM230 44h1v1h-1zM234 44h1v1h-1zM141 45h1v1h-1zM227 45h1v1h-1zM230 45h2v1h-2zM235 45h1v1h-1zM237 45h1v1h-1zM135 46h1v1h-1zM138 46h2v1h-2zM141 46h1v1h-1zM143 46h1v1h-1zM227 46h1v1h-1zM231 46h1v1h-1zM233 46h1v1h-1zM237 46h1v1h-1zM135 47h2v1h-2zM139 47h1v1h-1zM147 47h2v1h-2zM226 47h1v1h-1zM229 47h1v1h-1zM236 47h1v1h-1zM238 47h1v1h-1zM133 48h2v1h-2zM137 48h1v1h-1zM145 48h1v1h-1zM149 48h2v1h-2zM222 48h2v1h-2zM238 48h1v1h-1zM135 49h2v1h-2zM139 49h1v1h-1zM142 49h1v1h-1zM146 49h1v1h-1zM228 49h1v1h-1zM233 49h2v1h-2zM136 50h1v1h-1zM139 50h1v1h-1zM148 50h2v1h-2zM223 50h1v1h-1zM230 50h1v1h-1zM233 50h1v1h-1zM235 50h1v1h-1zM134 51h2v1h-2zM137 51h1v1h-1zM146 51h1v1h-1zM149 51h2v1h-2zM229 51h1v1h-1zM231 51h1v1h-1zM135 52h2v1h-2zM223 52h2v1h-2zM235 52h1v1h-1zM136 53h1v1h-1zM142 53h1v1h-1zM144 53h1v1h-1zM222 53h1v1h-1zM233 53h1v1h-1zM235 53h1v1h-1zM134 54h1v1h-1zM141 54h1v1h-1zM146 54h1v1h-1zM148 54h1v1h-1zM234 54h2v1h-2zM137 55h1v1h-1zM143 55h2v1h-2zM230 55h1v1h-1zM233 55h1v1h-1zM143 56h1v1h-1zM145 56h1v1h-1zM149 56h1v1h-1zM230 56h3v1h-3zM141 57h1v1h-1zM143 57h1v1h-1zM145 57h1v1h-1zM226 57h1v1h-1zM141 58h1v1h-1zM144 59h1v1h-1zM188 76h1v1h-1zM188 77h1v1h-1zM180 78h1v1h-1zM184 78h1v1h-1zM189 78h1v1h-1zM180 79h2v1h-2zM188 79h1v1h-1zM190 79h2v1h-2zM183 80h1v1h-1zM190 80h1v1h-1zM179 81h1v1h-1zM181 81h1v1h-1zM189 81h1v1h-1zM192 81h1v1h-1zM178 82h1v1h-1zM190 82h1v1h-1zM178 83h1v1h-1zM180 83h1v1h-1zM182 83h1v1h-1zM192 83h1v1h-1zM195 83h2v1h-2zM120 84h1v1h-1zM123 84h1v1h-1zM126 84h1v1h-1zM128 84h1v1h-1zM132 84h1v1h-1zM175 84h1v1h-1zM177 84h1v1h-1zM180 84h1v1h-1zM183 84h1v1h-1zM187 84h1v1h-1zM241 84h1v1h-1zM243 84h2v1h-2zM128 85h1v1h-1zM179 85h1v1h-1zM184 85h2v1h-2zM188 85h1v1h-1zM191 85h1v1h-1zM243 85h1v1h-1zM249 85h1v1h-1zM121 86h2v1h-2zM124 86h1v1h-1zM128 86h1v1h-1zM130 86h3v1h-3zM174 86h1v1h-1zM178 86h1v1h-1zM190 86h1v1h-1zM192 86h1v1h-1zM194 86h2v1h-2zM240 86h1v1h-1zM243 86h1v1h-1zM125 87h1v1h-1zM127 87h2v1h-2zM130 87h1v1h-1zM132 87h1v1h-1zM174 87h2v1h-2zM177 87h1v1h-1zM180 87h1v1h-1zM185 87h1v1h-1zM239 87h1v1h-1zM243 87h1v1h-1zM247 87h1v1h-1zM121 88h1v1h-1zM130 88h1v1h-1zM176 88h1v1h-1zM181 88h1v1h-1zM183 88h1v1h-1zM197 88h1v1h-1zM199 88h1v1h-1zM239 88h1v1h-1zM245 88h1v1h-1zM247 88h1v1h-1zM249 88h1v1h-1zM174 89h1v1h-1zM176 89h1v1h-1zM181 89h1v1h-1zM186 89h1v1h-1zM189 89h1v1h-1zM195 89h1v1h-1zM171 90h3v1h-3zM175 90h1v1h-1zM178 90h1v1h-1zM182 90h4v1h-4zM194 90h1v1h-1zM199 90h1v1h-1zM241 90h2v1h-2zM247 90h2v1h-2zM124 91h1v1h-1zM129 91h2v1h-2zM171 91h1v1h-1zM181 91h1v1h-1zM186 91h1v1h-1zM188 91h2v1h-2zM191 91h2v1h-2zM195 91h2v1h-2zM245 91h1v1h-1zM247 91h1v1h-1zM126 92h2v1h-2zM173 92h3v1h-3zM185 92h1v1h-1zM197 92h1v1h-1zM246 92h1v1h-1zM173 93h1v1h-1zM177 93h2v1h-2zM182 93h1v1h-1zM188 93h1v1h-1zM192 93h1v1h-1zM195 93h1v1h-1zM197 93h1v1h-1zM199 93h1v1h-1zM171 94h1v1h-1zM181 94h2v1h-2zM191 94h1v1h-1zM196 94h1v1h-1zM173 95h2v1h-2zM176 95h1v1h-1zM178 95h1v1h-1zM184 95h1v1h-1zM186 95h1v1h-1zM190 95h1v1h-1zM196 95h1v1h-1zM200 95h1v1h-1zM168 96h1v1h-1zM176 96h1v1h-1zM178 96h1v1h-1zM181 96h1v1h-1zM183 96h1v1h-1zM189 96h1v1h-1zM191 96h1v1h-1zM202 96h1v1h-1zM171 97h1v1h-1zM179 97h2v1h-2zM191 97h1v1h-1zM194 97h1v1h-1zM199 97h1v1h-1zM169 98h2v1h-2zM175 98h1v1h-1zM188 98h1v1h-1zM192 98h1v1h-1zM197 98h1v1h-1zM199 98h1v1h-1zM172 99h1v1h-1zM191 99h2v1h-2zM194 99h2v1h-2zM197 99h1v1h-1zM199 99h2v1h-2zM202 99h1v1h-1zM169 100h1v1h-1zM171 100h1v1h-1zM174 100h1v1h-1zM177 100h1v1h-1zM183 100h1v1h-1zM196 100h1v1h-1zM198 100h1v1h-1zM200 100h1v1h-1zM169 101h1v1h-1zM173 101h1v1h-1zM177 101h1v1h-1zM192 101h2v1h-2zM196 101h2v1h-2zM168 102h1v1h-1zM173 102h1v1h-1zM179 102h1v1h-1zM184 102h2v1h-2zM192 102h1v1h-1zM197 102h1v1h-1zM200 102h1v1h-1zM168 103h1v1h-1zM170 103h1v1h-1zM173 103h2v1h-2zM177 103h1v1h-1zM181 103h1v1h-1zM191 103h4v1h-4zM197 103h1v1h-1zM200 103h3v1h-3zM168 104h3v1h-3zM185 104h1v1h-1zM187 104h1v1h-1zM191 104h2v1h-2zM196 104h2v1h-2zM166 105h1v1h-1zM168 105h1v1h-1zM174 105h1v1h-1zM179 105h1v1h-1zM183 105h1v1h-1zM192 105h2v1h-2zM198 105h1v1h-1zM200 105h4v1h-4zM175 106h1v1h-1zM177 106h1v1h-1zM181 106h1v1h-1zM183 106h1v1h-1zM188 106h3v1h-3zM195 106h2v1h-2zM198 106h1v1h-1zM201 106h1v1h-1zM206 106h1v1h-1zM175 107h1v1h-1zM182 107h1v1h-1zM184 107h1v1h-1zM190 107h1v1h-1zM192 107h1v1h-1zM192 108h1v1h-1zM196 108h1v1h-1zM179 109h1v1h-1zM181 109h1v1h-1zM183 109h1v1h-1zM187 109h1v1h-1zM190 109h1v1h-1zM190 110h1v1h-1zM192 110h1v1h-1zM167 111h1v1h-1zM183 111h1v1h-1zM204 111h1v1h-1zM191 112h1v1h-1zM203 114h3v1h-3zM170 115h2v1h-2zM170 116h1v1h-1zM172 116h2v1h-2zM200 116h1v1h-1zM202 116h1v1h-1zM172 117h2v1h-2zM175 117h1v1h-1zM178 117h1v1h-1zM183 117h1v1h-1zM196 117h1v1h-1zM198 117h1v1h-1zM200 117h1v1h-1zM176 118h1v1h-1zM179 118h1v1h-1zM185 118h1v1h-1zM187 118h2v1h-2zM194 118h1v1h-1zM159 123h1v1h-1zM163 123h1v1h-1zM216 123h1v1h-1zM221 123h1v1h-1zM155 124h2v1h-2zM158 124h1v1h-1zM160 124h1v1h-1zM209 124h1v1h-1zM213 124h1v1h-1zM216 124h1v1h-1zM148 125h1v1h-1zM151 125h1v1h-1zM153 125h1v1h-1zM158 125h1v1h-1zM168 125h1v1h-1zM203 125h2v1h-2zM206 125h1v1h-1zM218 125h1v1h-1zM152 126h1v1h-1zM163 126h1v1h-1zM165 126h2v1h-2zM176 126h1v1h-1zM203 126h2v1h-2zM206 126h4v1h-4zM211 126h1v1h-1zM213 126h1v1h-1zM216 126h1v1h-1zM219 126h1v1h-1zM221 126h1v1h-1zM153 127h2v1h-2zM160 127h2v1h-2zM181 127h1v1h-1zM204 127h1v1h-1zM206 127h1v1h-1zM214 127h1v1h-1zM216 127h1v1h-1zM222 127h1v1h-1zM156 128h1v1h-1zM159 128h3v1h-3zM163 128h1v1h-1zM165 128h1v1h-1zM211 128h1v1h-1zM217 128h1v1h-1zM159 129h1v1h-1zM166 129h1v1h-1zM189 129h1v1h-1zM207 129h2v1h-2zM211 129h6v1h-6zM209 130h1v1h-1zM184 131h1v1h-1z"/><path fill="#380962" d="M227 44h1v1h-1zM140 46h1v1h-1zM225 46h1v1h-1zM229 46h1v1h-1zM234 46h1v1h-1zM236 46h1v1h-1zM137 47h1v1h-1zM144 47h1v1h-1zM224 47h1v1h-1zM227 47h1v1h-1zM230 47h1v1h-1zM135 48h1v1h-1zM138 48h2v1h-2zM146 48h2v1h-2zM225 48h1v1h-1zM233 48h1v1h-1zM236 48h1v1h-1zM144 49h1v1h-1zM222 49h1v1h-1zM225 49h3v1h-3zM230 49h1v1h-1zM232 49h1v1h-1zM142 50h1v1h-1zM222 50h1v1h-1zM224 50h3v1h-3zM234 50h1v1h-1zM144 51h1v1h-1zM148 51h1v1h-1zM226 51h2v1h-2zM138 52h1v1h-1zM146 52h2v1h-2zM227 52h2v1h-2zM141 53h1v1h-1zM147 53h1v1h-1zM149 53h1v1h-1zM227 53h2v1h-2zM236 53h1v1h-1zM144 54h1v1h-1zM224 54h1v1h-1zM231 54h2v1h-2zM136 55h1v1h-1zM224 55h1v1h-1zM232 55h1v1h-1zM138 56h1v1h-1zM146 56h1v1h-1zM226 56h4v1h-4zM233 56h1v1h-1zM142 57h1v1h-1zM230 58h1v1h-1zM186 78h1v1h-1zM191 78h1v1h-1zM183 79h1v1h-1zM186 79h1v1h-1zM189 79h1v1h-1zM178 80h1v1h-1zM185 80h2v1h-2zM180 81h1v1h-1zM183 81h3v1h-3zM188 81h1v1h-1zM190 81h1v1h-1zM179 82h1v1h-1zM188 82h1v1h-1zM191 82h1v1h-1zM127 83h1v1h-1zM181 83h1v1h-1zM184 83h1v1h-1zM190 83h2v1h-2zM249 83h1v1h-1zM127 84h1v1h-1zM178 84h1v1h-1zM184 84h1v1h-1zM186 84h1v1h-1zM190 84h1v1h-1zM192 84h1v1h-1zM120 85h1v1h-1zM124 85h1v1h-1zM130 85h2v1h-2zM183 85h1v1h-1zM196 85h1v1h-1zM240 85h2v1h-2zM129 86h1v1h-1zM181 86h2v1h-2zM185 86h2v1h-2zM188 86h1v1h-1zM193 86h1v1h-1zM242 86h1v1h-1zM245 86h3v1h-3zM122 87h1v1h-1zM124 87h1v1h-1zM129 87h1v1h-1zM186 87h1v1h-1zM191 87h1v1h-1zM194 87h1v1h-1zM196 87h1v1h-1zM241 87h2v1h-2zM244 87h2v1h-2zM122 88h1v1h-1zM125 88h1v1h-1zM186 88h2v1h-2zM189 88h1v1h-1zM192 88h1v1h-1zM244 88h1v1h-1zM123 89h1v1h-1zM126 89h1v1h-1zM129 89h1v1h-1zM175 89h1v1h-1zM183 89h1v1h-1zM187 89h1v1h-1zM198 89h1v1h-1zM245 89h2v1h-2zM128 90h1v1h-1zM131 90h1v1h-1zM174 90h1v1h-1zM179 90h1v1h-1zM243 90h1v1h-1zM246 90h1v1h-1zM183 91h1v1h-1zM201 91h1v1h-1zM128 92h1v1h-1zM178 92h1v1h-1zM181 92h1v1h-1zM183 92h1v1h-1zM188 92h1v1h-1zM174 93h1v1h-1zM180 93h1v1h-1zM183 93h1v1h-1zM190 93h1v1h-1zM196 93h1v1h-1zM198 93h1v1h-1zM178 94h1v1h-1zM183 94h2v1h-2zM188 94h1v1h-1zM172 95h1v1h-1zM175 95h1v1h-1zM177 95h1v1h-1zM179 95h1v1h-1zM182 95h2v1h-2zM193 95h1v1h-1zM197 95h1v1h-1zM172 96h1v1h-1zM175 96h1v1h-1zM177 96h1v1h-1zM188 96h1v1h-1zM195 96h2v1h-2zM200 96h1v1h-1zM172 97h1v1h-1zM174 97h1v1h-1zM176 97h1v1h-1zM178 97h1v1h-1zM187 97h1v1h-1zM196 97h1v1h-1zM171 98h2v1h-2zM178 98h3v1h-3zM189 98h2v1h-2zM198 98h1v1h-1zM170 99h1v1h-1zM173 99h2v1h-2zM179 99h1v1h-1zM189 99h1v1h-1zM196 99h1v1h-1zM203 99h1v1h-1zM178 100h1v1h-1zM194 100h1v1h-1zM202 100h1v1h-1zM176 101h1v1h-1zM180 101h1v1h-1zM187 101h1v1h-1zM190 101h1v1h-1zM194 101h1v1h-1zM198 101h1v1h-1zM202 101h1v1h-1zM171 102h1v1h-1zM174 102h1v1h-1zM190 102h1v1h-1zM193 102h3v1h-3zM201 102h1v1h-1zM184 103h2v1h-2zM189 103h1v1h-1zM198 103h1v1h-1zM166 104h1v1h-1zM171 104h2v1h-2zM174 104h1v1h-1zM177 104h4v1h-4zM183 104h1v1h-1zM188 104h1v1h-1zM193 104h1v1h-1zM195 104h1v1h-1zM202 104h1v1h-1zM169 105h3v1h-3zM180 105h1v1h-1zM196 105h2v1h-2zM199 105h1v1h-1zM166 106h1v1h-1zM173 106h2v1h-2zM176 106h1v1h-1zM185 106h1v1h-1zM193 106h1v1h-1zM197 106h1v1h-1zM200 106h1v1h-1zM202 106h1v1h-1zM166 107h1v1h-1zM173 107h2v1h-2zM185 107h1v1h-1zM188 107h1v1h-1zM191 107h1v1h-1zM195 107h2v1h-2zM205 107h2v1h-2zM165 108h1v1h-1zM177 108h1v1h-1zM187 108h1v1h-1zM191 108h1v1h-1zM193 108h2v1h-2zM184 109h1v1h-1zM186 109h1v1h-1zM188 109h2v1h-2zM178 110h1v1h-1zM180 110h1v1h-1zM187 110h1v1h-1zM191 110h1v1h-1zM188 111h1v1h-1zM188 112h2v1h-2zM203 112h1v1h-1zM169 113h1v1h-1zM189 113h1v1h-1zM203 113h1v1h-1zM169 114h1v1h-1zM182 114h1v1h-1zM201 114h1v1h-1zM201 115h1v1h-1zM171 116h1v1h-1zM185 116h1v1h-1zM199 116h1v1h-1zM176 117h1v1h-1zM179 117h1v1h-1zM188 117h1v1h-1zM193 117h3v1h-3zM183 118h1v1h-1zM190 118h2v1h-2zM213 123h1v1h-1zM190 124h1v1h-1zM215 124h1v1h-1zM217 124h2v1h-2zM152 125h1v1h-1zM157 125h1v1h-1zM162 125h1v1h-1zM212 125h1v1h-1zM217 125h1v1h-1zM219 125h1v1h-1zM157 126h1v1h-1zM162 126h1v1h-1zM215 126h1v1h-1zM149 127h1v1h-1zM158 127h1v1h-1zM165 127h1v1h-1zM176 127h1v1h-1zM219 127h1v1h-1zM206 128h1v1h-1zM209 128h1v1h-1zM214 128h1v1h-1zM219 128h1v1h-1z"/><path fill="#440a68" d="M140 45h1v1h-1zM145 46h1v1h-1zM226 46h1v1h-1zM228 46h1v1h-1zM235 46h1v1h-1zM138 47h1v1h-1zM140 47h1v1h-1zM142 47h2v1h-2zM145 47h1v1h-1zM223 47h1v1h-1zM233 47h1v1h-1zM142 48h1v1h-1zM227 48h1v1h-1zM232 48h1v1h-1zM235 48h1v1h-1zM137 49h2v1h-2zM141 49h1v1h-1zM143 49h1v1h-1zM147 49h1v1h-1zM235 49h1v1h-1zM137 50h2v1h-2zM145 50h2v1h-2zM231 50h2v1h-2zM140 51h2v1h-2zM228 51h1v1h-1zM232 51h1v1h-1zM234 51h1v1h-1zM137 52h1v1h-1zM140 52h3v1h-3zM145 52h1v1h-1zM225 52h2v1h-2zM230 52h2v1h-2zM145 53h1v1h-1zM229 53h2v1h-2zM232 53h1v1h-1zM138 54h2v1h-2zM142 54h2v1h-2zM147 54h1v1h-1zM225 54h1v1h-1zM230 54h1v1h-1zM233 54h1v1h-1zM138 55h1v1h-1zM140 55h2v1h-2zM226 55h2v1h-2zM140 56h1v1h-1zM187 76h1v1h-1zM184 79h2v1h-2zM181 80h2v1h-2zM187 80h1v1h-1zM183 83h1v1h-1zM176 84h1v1h-1zM182 84h1v1h-1zM185 84h1v1h-1zM193 84h1v1h-1zM129 85h1v1h-1zM177 85h1v1h-1zM181 85h1v1h-1zM187 85h1v1h-1zM193 85h1v1h-1zM123 86h1v1h-1zM127 86h1v1h-1zM183 86h1v1h-1zM189 86h1v1h-1zM179 87h1v1h-1zM183 87h1v1h-1zM189 87h2v1h-2zM192 87h1v1h-1zM246 87h1v1h-1zM248 87h1v1h-1zM124 88h1v1h-1zM126 88h2v1h-2zM129 88h1v1h-1zM177 88h2v1h-2zM184 88h2v1h-2zM193 88h3v1h-3zM243 88h1v1h-1zM246 88h1v1h-1zM125 89h1v1h-1zM130 89h2v1h-2zM179 89h2v1h-2zM185 89h1v1h-1zM191 89h1v1h-1zM193 89h1v1h-1zM196 89h1v1h-1zM244 89h1v1h-1zM248 89h1v1h-1zM129 90h1v1h-1zM176 90h2v1h-2zM187 90h1v1h-1zM189 90h1v1h-1zM192 90h2v1h-2zM244 90h1v1h-1zM173 91h1v1h-1zM182 91h1v1h-1zM187 91h1v1h-1zM194 91h1v1h-1zM176 92h1v1h-1zM192 92h2v1h-2zM195 92h2v1h-2zM199 92h1v1h-1zM172 93h1v1h-1zM176 93h1v1h-1zM179 93h1v1h-1zM181 93h1v1h-1zM185 93h1v1h-1zM187 93h1v1h-1zM193 93h1v1h-1zM173 94h1v1h-1zM177 94h1v1h-1zM179 94h1v1h-1zM192 94h1v1h-1zM200 94h1v1h-1zM185 95h1v1h-1zM189 95h1v1h-1zM191 95h1v1h-1zM195 95h1v1h-1zM198 95h1v1h-1zM173 96h2v1h-2zM180 96h1v1h-1zM185 96h3v1h-3zM192 96h1v1h-1zM194 96h1v1h-1zM197 96h1v1h-1zM175 97h1v1h-1zM186 97h1v1h-1zM190 97h1v1h-1zM193 97h1v1h-1zM197 97h2v1h-2zM176 98h2v1h-2zM182 98h2v1h-2zM186 98h1v1h-1zM194 98h2v1h-2zM178 99h1v1h-1zM180 99h1v1h-1zM182 99h1v1h-1zM187 99h1v1h-1zM193 99h1v1h-1zM168 100h1v1h-1zM175 100h1v1h-1zM182 100h1v1h-1zM185 100h2v1h-2zM195 100h1v1h-1zM171 101h1v1h-1zM178 101h1v1h-1zM182 101h1v1h-1zM185 101h1v1h-1zM188 101h1v1h-1zM170 102h1v1h-1zM172 102h1v1h-1zM176 102h1v1h-1zM178 102h1v1h-1zM180 102h4v1h-4zM186 102h1v1h-1zM188 102h2v1h-2zM191 102h1v1h-1zM171 103h2v1h-2zM178 103h1v1h-1zM183 103h1v1h-1zM188 103h1v1h-1zM190 103h1v1h-1zM176 104h1v1h-1zM182 104h1v1h-1zM186 104h1v1h-1zM189 104h2v1h-2zM194 104h1v1h-1zM198 104h1v1h-1zM201 104h1v1h-1zM203 104h2v1h-2zM176 105h1v1h-1zM178 105h1v1h-1zM181 105h1v1h-1zM185 105h1v1h-1zM189 105h2v1h-2zM194 105h1v1h-1zM204 105h1v1h-1zM167 106h1v1h-1zM180 106h1v1h-1zM184 106h1v1h-1zM187 106h1v1h-1zM192 106h1v1h-1zM199 106h1v1h-1zM203 106h3v1h-3zM178 107h2v1h-2zM178 108h1v1h-1zM180 108h1v1h-1zM182 108h2v1h-2zM185 108h1v1h-1zM188 108h1v1h-1zM206 108h1v1h-1zM166 109h1v1h-1zM193 109h1v1h-1zM181 110h2v1h-2zM189 110h1v1h-1zM194 110h1v1h-1zM168 111h1v1h-1zM182 111h1v1h-1zM184 111h3v1h-3zM189 111h2v1h-2zM181 112h2v1h-2zM187 113h2v1h-2zM167 114h1v1h-1zM171 114h1v1h-1zM185 114h1v1h-1zM200 114h1v1h-1zM199 115h1v1h-1zM202 115h1v1h-1zM174 116h1v1h-1zM177 116h1v1h-1zM193 116h1v1h-1zM196 116h1v1h-1zM186 117h1v1h-1zM192 117h1v1h-1zM189 118h1v1h-1zM163 124h1v1h-1zM154 125h1v1h-1zM159 125h1v1h-1zM208 125h1v1h-1zM216 125h1v1h-1zM205 126h1v1h-1zM210 126h1v1h-1zM212 126h1v1h-1zM156 127h1v1h-1zM159 127h1v1h-1zM208 127h1v1h-1zM217 127h1v1h-1zM204 128h1v1h-1zM216 128h1v1h-1z"/><path fill="#4f0d6c" d="M143 45h1v1h-1zM230 46h1v1h-1zM232 46h1v1h-1zM141 47h1v1h-1zM228 47h1v1h-1zM231 47h2v1h-2zM143 48h2v1h-2zM228 48h1v1h-1zM230 48h1v1h-1zM140 49h1v1h-1zM145 49h1v1h-1zM143 50h1v1h-1zM227 50h2v1h-2zM225 51h1v1h-1zM237 51h1v1h-1zM229 52h1v1h-1zM232 52h2v1h-2zM137 53h1v1h-1zM140 53h1v1h-1zM225 53h1v1h-1zM140 54h1v1h-1zM145 54h1v1h-1zM229 54h1v1h-1zM135 55h1v1h-1zM185 78h1v1h-1zM184 80h1v1h-1zM188 80h2v1h-2zM186 81h1v1h-1zM182 82h2v1h-2zM187 82h1v1h-1zM189 82h1v1h-1zM185 83h1v1h-1zM189 83h1v1h-1zM179 84h1v1h-1zM180 85h1v1h-1zM184 86h1v1h-1zM128 88h1v1h-1zM179 88h1v1h-1zM182 88h1v1h-1zM188 88h1v1h-1zM190 88h1v1h-1zM184 89h1v1h-1zM192 89h1v1h-1zM126 90h1v1h-1zM186 90h1v1h-1zM188 90h1v1h-1zM190 90h1v1h-1zM195 90h1v1h-1zM180 91h1v1h-1zM185 91h1v1h-1zM190 91h1v1h-1zM193 91h1v1h-1zM180 92h1v1h-1zM182 92h1v1h-1zM191 92h1v1h-1zM185 94h1v1h-1zM197 94h1v1h-1zM171 96h1v1h-1zM182 96h1v1h-1zM184 96h1v1h-1zM190 96h1v1h-1zM193 96h1v1h-1zM199 96h1v1h-1zM185 97h1v1h-1zM195 97h1v1h-1zM174 98h1v1h-1zM185 98h1v1h-1zM191 98h1v1h-1zM177 99h1v1h-1zM181 99h1v1h-1zM186 99h1v1h-1zM188 99h1v1h-1zM173 100h1v1h-1zM176 100h1v1h-1zM184 100h1v1h-1zM187 100h2v1h-2zM191 100h2v1h-2zM197 100h1v1h-1zM201 100h1v1h-1zM170 101h1v1h-1zM175 101h1v1h-1zM179 101h1v1h-1zM181 101h1v1h-1zM184 101h1v1h-1zM186 101h1v1h-1zM189 101h1v1h-1zM191 101h1v1h-1zM195 101h1v1h-1zM175 102h1v1h-1zM187 102h1v1h-1zM198 102h1v1h-1zM176 103h1v1h-1zM199 103h1v1h-1zM177 105h1v1h-1zM182 105h1v1h-1zM184 105h1v1h-1zM188 105h1v1h-1zM171 106h1v1h-1zM169 107h1v1h-1zM176 107h1v1h-1zM181 107h1v1h-1zM186 107h2v1h-2zM200 107h1v1h-1zM175 108h1v1h-1zM179 108h1v1h-1zM181 108h1v1h-1zM184 108h1v1h-1zM186 108h1v1h-1zM197 108h1v1h-1zM165 109h1v1h-1zM176 109h1v1h-1zM180 109h1v1h-1zM182 109h1v1h-1zM185 109h1v1h-1zM192 109h1v1h-1zM194 109h1v1h-1zM205 109h1v1h-1zM166 110h1v1h-1zM186 110h1v1h-1zM188 110h1v1h-1zM178 111h2v1h-2zM191 111h1v1h-1zM205 111h1v1h-1zM168 112h1v1h-1zM186 112h1v1h-1zM181 113h1v1h-1zM183 113h1v1h-1zM202 113h1v1h-1zM188 114h1v1h-1zM172 115h1v1h-1zM176 116h1v1h-1zM182 117h1v1h-1zM187 117h1v1h-1zM189 117h2v1h-2zM211 123h1v1h-1zM161 126h1v1h-1z"/><path fill="#59106e" d="M141 48h1v1h-1zM229 48h1v1h-1zM231 48h1v1h-1zM229 49h1v1h-1zM144 50h1v1h-1zM229 50h1v1h-1zM138 51h2v1h-2zM143 51h1v1h-1zM230 51h1v1h-1zM233 51h1v1h-1zM139 52h1v1h-1zM144 52h1v1h-1zM139 53h1v1h-1zM226 53h1v1h-1zM231 55h1v1h-1zM183 78h1v1h-1zM187 78h1v1h-1zM191 80h1v1h-1zM186 82h1v1h-1zM186 83h2v1h-2zM194 83h1v1h-1zM188 84h1v1h-1zM182 85h1v1h-1zM186 85h1v1h-1zM192 85h1v1h-1zM187 86h1v1h-1zM181 87h2v1h-2zM187 87h2v1h-2zM190 89h1v1h-1zM247 89h1v1h-1zM180 90h1v1h-1zM179 92h1v1h-1zM186 92h2v1h-2zM190 92h1v1h-1zM184 93h1v1h-1zM186 93h1v1h-1zM191 93h1v1h-1zM175 94h2v1h-2zM187 94h1v1h-1zM194 94h1v1h-1zM181 95h1v1h-1zM187 95h2v1h-2zM194 95h1v1h-1zM183 97h2v1h-2zM188 97h2v1h-2zM192 97h1v1h-1zM181 98h1v1h-1zM184 98h1v1h-1zM187 98h1v1h-1zM175 99h1v1h-1zM179 100h2v1h-2zM190 100h1v1h-1zM186 103h1v1h-1zM181 104h1v1h-1zM184 104h1v1h-1zM187 105h1v1h-1zM168 106h2v1h-2zM182 106h1v1h-1zM191 106h1v1h-1zM170 107h2v1h-2zM180 107h1v1h-1zM183 107h1v1h-1zM197 107h2v1h-2zM167 108h1v1h-1zM176 108h1v1h-1zM189 108h2v1h-2zM167 109h1v1h-1zM191 109h1v1h-1zM179 110h1v1h-1zM193 110h1v1h-1zM187 111h1v1h-1zM192 111h1v1h-1zM169 112h1v1h-1zM190 112h1v1h-1zM170 113h1v1h-1zM182 113h1v1h-1zM186 113h1v1h-1zM182 115h1v1h-1zM180 116h3v1h-3zM184 116h1v1h-1zM186 116h4v1h-4zM181 117h1v1h-1zM184 117h1v1h-1zM191 117h1v1h-1zM211 127h1v1h-1z"/><path fill="#64156e" d="M188 83h1v1h-1zM189 84h1v1h-1zM191 84h1v1h-1zM191 86h1v1h-1zM184 87h1v1h-1zM191 88h1v1h-1zM182 89h1v1h-1zM181 90h1v1h-1zM177 91h1v1h-1zM189 93h1v1h-1zM180 95h1v1h-1zM182 97h1v1h-1zM183 99h3v1h-3zM183 101h1v1h-1zM179 103h2v1h-2zM186 105h1v1h-1zM191 105h1v1h-1zM195 105h1v1h-1zM170 106h1v1h-1zM179 106h1v1h-1zM167 107h1v1h-1zM189 107h1v1h-1zM199 107h1v1h-1zM202 107h1v1h-1zM166 108h1v1h-1zM174 108h1v1h-1zM198 108h1v1h-1zM205 108h1v1h-1zM177 109h1v1h-1zM195 109h1v1h-1zM167 110h1v1h-1zM177 110h1v1h-1zM184 110h1v1h-1zM181 111h1v1h-1zM203 111h1v1h-1zM183 112h2v1h-2zM180 113h1v1h-1zM185 113h1v1h-1zM172 114h1v1h-1zM187 114h1v1h-1zM189 114h1v1h-1zM173 115h1v1h-1zM185 115h1v1h-1zM190 115h1v1h-1zM192 115h1v1h-1zM175 116h1v1h-1zM194 116h2v1h-2zM177 117h1v1h-1zM180 117h1v1h-1zM185 117h1v1h-1z"/><path fill="#6d186e" d="M140 48h1v1h-1zM140 50h1v1h-1zM145 51h1v1h-1zM231 53h1v1h-1zM227 54h1v1h-1zM185 77h1v1h-1zM184 82h2v1h-2zM189 85h1v1h-1zM181 100h1v1h-1zM189 100h1v1h-1zM203 107h2v1h-2zM199 108h1v1h-1zM196 109h1v1h-1zM185 110h1v1h-1zM193 111h1v1h-1zM179 112h1v1h-1zM184 113h1v1h-1zM190 113h1v1h-1zM192 113h1v1h-1zM201 113h1v1h-1zM170 114h1v1h-1zM181 114h1v1h-1zM190 114h2v1h-2zM177 115h1v1h-1zM183 115h1v1h-1zM179 116h1v1h-1zM183 116h1v1h-1zM197 116h1v1h-1z"/><path fill="#781c6d" d="M181 84h1v1h-1zM190 99h1v1h-1zM186 106h1v1h-1zM193 107h1v1h-1zM201 107h1v1h-1zM168 108h1v1h-1zM200 108h1v1h-1zM204 109h1v1h-1zM176 110h1v1h-1zM195 110h1v1h-1zM194 111h1v1h-1zM185 112h1v1h-1zM179 113h1v1h-1zM183 114h2v1h-2zM199 114h1v1h-1zM186 115h2v1h-2zM189 115h1v1h-1zM191 115h1v1h-1zM178 116h1v1h-1z"/><path fill="#82206c" d="M231 49h1v1h-1zM142 51h1v1h-1zM188 89h1v1h-1zM182 103h1v1h-1zM187 103h1v1h-1zM172 107h1v1h-1zM172 108h1v1h-1zM203 108h1v1h-1zM174 115h1v1h-1zM181 115h1v1h-1z"/><path fill="#8d2369" d="M190 85h1v1h-1zM175 109h1v1h-1zM169 111h1v1h-1zM178 112h1v1h-1zM180 112h1v1h-1zM186 114h1v1h-1zM184 115h1v1h-1zM188 115h1v1h-1zM197 115h1v1h-1zM190 116h2v1h-2z"/><path fill="#982766" d="M184 92h1v1h-1zM193 112h1v1h-1zM202 112h1v1h-1zM178 113h1v1h-1zM191 113h1v1h-1zM193 113h1v1h-1zM180 115h1v1h-1zM198 115h1v1h-1zM192 116h1v1h-1z"/><path fill="#a22b62" d="M168 107h1v1h-1zM176 111h2v1h-2zM177 112h1v1h-1zM192 112h1v1h-1zM201 112h1v1h-1zM171 113h1v1h-1zM199 113h2v1h-2zM177 114h1v1h-1zM195 115h1v1h-1z"/><path fill="#ad305d" d="M176 99h1v1h-1zM173 108h1v1h-1zM178 114h1v1h-1zM193 114h1v1h-1zM198 114h1v1h-1z"/><path fill="#b63458" d="M169 108h1v1h-1zM203 109h1v1h-1zM204 110h1v1h-1zM170 112h1v1h-1zM197 114h1v1h-1zM194 115h1v1h-1zM196 115h1v1h-1z"/><path fill="#c03a51" d="M171 108h1v1h-1zM168 109h1v1h-1zM169 110h1v1h-1zM202 111h1v1h-1zM179 114h1v1h-1zM192 114h1v1h-1zM178 115h2v1h-2z"/><path fill="#c83f4b" d="M202 108h1v1h-1zM204 108h1v1h-1zM174 109h1v1h-1zM203 110h1v1h-1zM175 115h2v1h-2z"/><path fill="#d24644" d="M201 108h1v1h-1zM202 109h1v1h-1zM195 111h1v1h-1zM200 112h1v1h-1zM172 113h1v1h-1zM173 114h1v1h-1zM180 114h1v1h-1zM196 114h1v1h-1z"/><path fill="#d94d3d" d="M170 109h1v1h-1zM197 109h1v1h-1zM168 110h1v1h-1zM196 110h1v1h-1zM202 110h1v1h-1zM176 113h1v1h-1zM198 113h1v1h-1z"/><path fill="#e15635" d="M172 109h2v1h-2zM173 113h1v1h-1zM177 113h1v1h-1zM176 114h1v1h-1z"/><path fill="#e8602d" d="M170 108h1v1h-1zM170 111h1v1h-1z"/><path fill="#ed6925" d="M194 112h1v1h-1z"/><path fill="#f2741c" d="M199 109h3v1h-3zM174 114h1v1h-1z"/><path fill="#f67e14" d="M198 109h1v1h-1zM195 114h1v1h-1z"/><path fill="#f98b0b" d="M173 110h2v1h-2zM196 113h1v1h-1z"/><path fill="#fb9606" d="M198 110h1v1h-1zM195 112h1v1h-1z"/><path fill="#fca309" d="M197 110h1v1h-1z"/><path fill="#fcb014" d="M169 109h1v1h-1zM171 112h1v1h-1zM194 114h1v1h-1z"/><path fill="#fbbc21" d="M199 110h1v1h-1zM193 115h1v1h-1z"/><path fill="#f9c932" d="M200 110h2v1h-2zM173 111h1v1h-1zM176 112h1v1h-1z"/><path fill="#f6d543" d="M172 110h1v1h-1zM199 112h1v1h-1zM175 114h1v1h-1z"/><path fill="#f3e35a" d="M171 109h1v1h-1zM175 110h1v1h-1zM196 112h1v1h-1z"/><path fill="#f1ed71" d="M196 111h1v1h-1zM197 113h1v1h-1z"/><path fill="#fcffa4" d="M170 110h2v1h-2zM171 111h2v1h-2zM174 111h2v1h-2zM197 111h5v1h-5zM172 112h4v1h-4zM197 112h2v1h-2zM174 113h2v1h-2zM194 113h2v1h-2z"/></g>
</g>
<line x1="124.20" y1="4.4" x2="124.20" y2="189.6" stroke="#b0b0b0" stroke-opacity="0.3" stroke-width="0.6"/>
<line x1="186.10" y1="4.4" x2="186.10" y2="189.6" stroke="#b0b0b0" stroke-opacity="0.3" stroke-width="0.6"/>
<line x1="248.00" y1="4.4" x2="248.00" y2="189.6" stroke="#b0b0b0" stroke-opacity="0.3" stroke-width="0.6"/>
<line x1="93.5" y1="35.24" x2="279.3" y2="35.24" stroke="#b0b0b0" stroke-opacity="0.3" stroke-width="0.6"/>
<line x1="93.5" y1="66.07" x2="279.3" y2="66.07" stroke="#b0b0b0" stroke-opacity="0.3" stroke-width="0.6"/>
<line x1="93.5" y1="96.90" x2="279.3" y2="96.90" stroke="#b0b0b0" stroke-opacity="0.3" stroke-width="0.6"/>
<line x1="93.5" y1="127.73" x2="279.3" y2="127.73" stroke="#b0b0b0" stroke-opacity="0.3" stroke-width="0.6"/>
<line x1="93.5" y1="158.56" x2="279.3" y2="158.56" stroke="#b0b0b0" stroke-opacity="0.3" stroke-width="0.6"/>
<line x1="93.5" y1="4.4" x2="93.5" y2="189.6" stroke="#808080" stroke-width="1.1"/>
<line x1="93.5" y1="4.4" x2="279.3" y2="4.4" stroke="#8a8a8a" stroke-width="1.1"/>
<line x1="279.3" y1="4.4" x2="279.3" y2="189.6" stroke="#8a8a8a" stroke-width="1.1"/>
<line x1="93.5" y1="189.6" x2="279.3" y2="189.6" stroke="#bdbdbd" stroke-width="1.1"/>
<line x1="87.8" y1="4.41" x2="93.5" y2="4.41" stroke="#222" stroke-width="1"/>
<line x1="87.8" y1="35.24" x2="93.5" y2="35.24" stroke="#222" stroke-width="1"/>
<line x1="87.8" y1="66.07" x2="93.5" y2="66.07" stroke="#222" stroke-width="1"/>
<line x1="87.8" y1="96.90" x2="93.5" y2="96.90" stroke="#222" stroke-width="1"/>
<line x1="87.8" y1="127.73" x2="93.5" y2="127.73" stroke="#222" stroke-width="1"/>
<line x1="87.8" y1="158.56" x2="93.5" y2="158.56" stroke="#222" stroke-width="1"/>
<line x1="87.8" y1="189.39" x2="93.5" y2="189.39" stroke="#222" stroke-width="1"/>
<line x1="124.20" y1="189.6" x2="124.20" y2="195.1" stroke="#222" stroke-width="1"/>
<line x1="186.10" y1="189.6" x2="186.10" y2="195.1" stroke="#222" stroke-width="1"/>
<line x1="248.00" y1="189.6" x2="248.00" y2="195.1" stroke="#222" stroke-width="1"/>
<defs><linearGradient id="infg" x1="0" y1="0" x2="0" y2="1"><stop offset="0.00" stop-color="#fcfea4"/><stop offset="0.05" stop-color="#f1ee74"/><stop offset="0.10" stop-color="#f5d745"/><stop offset="0.15" stop-color="#fabd23"/><stop offset="0.20" stop-color="#fba40a"/><stop offset="0.25" stop-color="#f98e08"/><stop offset="0.30" stop-color="#f37719"/><stop offset="0.35" stop-color="#e9622a"/><stop offset="0.40" stop-color="#dc5039"/><stop offset="0.45" stop-color="#cc4148"/><stop offset="0.50" stop-color="#bb3754"/><stop offset="0.55" stop-color="#a72d5f"/><stop offset="0.60" stop-color="#932567"/><stop offset="0.65" stop-color="#7e1e6c"/><stop offset="0.70" stop-color="#6a176e"/><stop offset="0.75" stop-color="#570f6d"/><stop offset="0.80" stop-color="#410967"/><stop offset="0.85" stop-color="#2b0a56"/><stop offset="0.90" stop-color="#160b39"/><stop offset="0.95" stop-color="#06041b"/><stop offset="1.00" stop-color="#000003"/></linearGradient></defs>
<rect x="295.1" y="4.3" width="9.20" height="185.10" fill="url(#infg)" stroke="#555" stroke-width="0.8"/>
<line x1="304.3" y1="189.40" x2="307.1" y2="189.40" stroke="#333" stroke-width="0.9"/>
<line x1="304.3" y1="164.72" x2="307.1" y2="164.72" stroke="#333" stroke-width="0.9"/>
<line x1="304.3" y1="140.04" x2="307.1" y2="140.04" stroke="#333" stroke-width="0.9"/>
<line x1="304.3" y1="115.36" x2="307.1" y2="115.36" stroke="#333" stroke-width="0.9"/>
<line x1="304.3" y1="90.68" x2="307.1" y2="90.68" stroke="#333" stroke-width="0.9"/>
<line x1="304.3" y1="66.00" x2="307.1" y2="66.00" stroke="#333" stroke-width="0.9"/>
<line x1="304.3" y1="41.32" x2="307.1" y2="41.32" stroke="#333" stroke-width="0.9"/>
<line x1="304.3" y1="16.64" x2="307.1" y2="16.64" stroke="#333" stroke-width="0.9"/>
<g id="scatterB"><path d="M476.2 34.2h1.4v1.4h-1.4zM451.0 37.0h1.4v1.4h-1.4zM453.5 37.2h1.4v1.4h-1.4zM458.8 37.3h1.4v1.4h-1.4zM475.4 36.5h1.4v1.4h-1.4zM482.0 38.0h1.4v1.4h-1.4zM478.8 38.4h1.4v1.4h-1.4zM442.1 39.8h1.4v1.4h-1.4zM443.1 39.4h1.4v1.4h-1.4zM487.9 39.9h1.4v1.4h-1.4zM434.8 40.8h1.4v1.4h-1.4zM438.1 40.4h1.4v1.4h-1.4zM489.9 40.8h1.4v1.4h-1.4zM436.8 41.7h1.4v1.4h-1.4zM438.5 42.2h1.4v1.4h-1.4zM497.1 41.9h1.4v1.4h-1.4zM508.2 41.9h1.4v1.4h-1.4zM499.6 42.8h1.4v1.4h-1.4zM507.6 42.6h1.4v1.4h-1.4zM517.2 42.8h1.4v1.4h-1.4zM434.4 44.3h1.4v1.4h-1.4zM501.6 43.5h1.4v1.4h-1.4zM503.3 44.0h1.4v1.4h-1.4zM509.2 43.2h1.4v1.4h-1.4zM509.4 44.4h1.4v1.4h-1.4zM513.2 43.6h1.4v1.4h-1.4zM513.5 43.3h1.4v1.4h-1.4zM432.0 45.0h1.4v1.4h-1.4zM518.1 45.0h1.4v1.4h-1.4zM426.0 46.4h1.4v1.4h-1.4zM520.1 46.3h1.4v1.4h-1.4zM524.3 46.7h1.4v1.4h-1.4zM521.1 47.5h1.4v1.4h-1.4zM428.9 48.4h1.4v1.4h-1.4zM525.0 49.7h1.4v1.4h-1.4zM525.3 51.3h1.4v1.4h-1.4zM526.7 51.5h1.4v1.4h-1.4zM527.8 52.2h1.4v1.4h-1.4zM421.6 52.3h1.4v1.4h-1.4zM529.2 53.6h1.4v1.4h-1.4zM419.4 54.4h1.4v1.4h-1.4zM421.1 54.4h1.4v1.4h-1.4zM417.2 58.1h1.4v1.4h-1.4zM418.4 57.9h1.4v1.4h-1.4zM417.3 61.1h1.4v1.4h-1.4zM415.8 62.2h1.4v1.4h-1.4zM416.3 64.3h1.4v1.4h-1.4zM538.2 64.3h1.4v1.4h-1.4zM416.1 66.2h1.4v1.4h-1.4zM416.1 67.1h1.4v1.4h-1.4zM538.9 67.0h1.4v1.4h-1.4zM540.4 67.1h1.4v1.4h-1.4zM414.0 68.0h1.4v1.4h-1.4zM415.7 68.8h1.4v1.4h-1.4zM541.3 70.0h1.4v1.4h-1.4zM414.9 70.4h1.4v1.4h-1.4zM416.2 71.3h1.4v1.4h-1.4zM416.2 72.5h1.4v1.4h-1.4zM541.2 72.4h1.4v1.4h-1.4zM542.1 72.3h1.4v1.4h-1.4zM540.9 74.4h1.4v1.4h-1.4zM539.4 74.3h1.4v1.4h-1.4zM542.9 74.2h1.4v1.4h-1.4zM412.3 78.1h1.4v1.4h-1.4zM415.4 79.6h1.4v1.4h-1.4zM418.3 80.1h1.4v1.4h-1.4zM538.2 81.4h1.4v1.4h-1.4zM538.3 82.3h1.4v1.4h-1.4zM536.4 83.7h1.4v1.4h-1.4zM419.3 84.4h1.4v1.4h-1.4zM537.2 85.0h1.4v1.4h-1.4zM539.1 84.3h1.4v1.4h-1.4zM421.7 86.2h1.4v1.4h-1.4zM421.9 87.0h1.4v1.4h-1.4zM537.6 86.5h1.4v1.4h-1.4zM536.2 87.7h1.4v1.4h-1.4zM423.4 89.5h1.4v1.4h-1.4zM425.6 90.4h1.4v1.4h-1.4zM532.4 91.9h1.4v1.4h-1.4zM432.4 93.4h1.4v1.4h-1.4zM531.3 93.7h1.4v1.4h-1.4zM532.0 95.1h1.4v1.4h-1.4zM431.2 96.3h1.4v1.4h-1.4zM435.0 95.4h1.4v1.4h-1.4zM429.8 96.8h1.4v1.4h-1.4zM438.3 96.2h1.4v1.4h-1.4zM527.5 96.3h1.4v1.4h-1.4zM528.3 96.3h1.4v1.4h-1.4zM529.6 97.6h1.4v1.4h-1.4zM438.8 99.1h1.4v1.4h-1.4zM442.9 98.2h1.4v1.4h-1.4zM445.8 99.4h1.4v1.4h-1.4zM451.3 101.3h1.4v1.4h-1.4zM452.2 101.1h1.4v1.4h-1.4zM453.6 101.0h1.4v1.4h-1.4zM447.0 101.2h1.4v1.4h-1.4zM455.6 102.3h1.4v1.4h-1.4zM458.7 102.1h1.4v1.4h-1.4zM467.5 101.9h1.4v1.4h-1.4zM449.0 103.4h1.4v1.4h-1.4zM468.8 103.0h1.4v1.4h-1.4zM469.8 102.7h1.4v1.4h-1.4zM471.3 102.9h1.4v1.4h-1.4zM473.3 102.2h1.4v1.4h-1.4zM476.7 102.5h1.4v1.4h-1.4zM477.4 102.9h1.4v1.4h-1.4zM448.2 104.3h1.4v1.4h-1.4zM475.3 103.4h1.4v1.4h-1.4zM521.0 104.3h1.4v1.4h-1.4zM469.3 104.5h1.4v1.4h-1.4zM479.3 104.9h1.4v1.4h-1.4zM489.7 105.2h1.4v1.4h-1.4zM526.2 105.1h1.4v1.4h-1.4zM487.8 105.6h1.4v1.4h-1.4zM493.6 105.4h1.4v1.4h-1.4zM495.7 106.2h1.4v1.4h-1.4zM500.6 106.3h1.4v1.4h-1.4zM472.4 106.6h1.4v1.4h-1.4zM474.7 107.3h1.4v1.4h-1.4zM489.8 106.9h1.4v1.4h-1.4zM510.6 106.5h1.4v1.4h-1.4zM497.3 107.9h1.4v1.4h-1.4zM512.6 109.9h1.4v1.4h-1.4zM492.4 111.2h1.4v1.4h-1.4z" fill="#7e1e9c"/><path d="M459.5 31.5h1.4v1.4h-1.4zM438.3 33.4h1.4v1.4h-1.4zM461.5 35.3h1.4v1.4h-1.4zM465.3 35.5h1.4v1.4h-1.4zM465.6 35.8h1.4v1.4h-1.4zM459.8 37.0h1.4v1.4h-1.4zM472.6 36.6h1.4v1.4h-1.4zM474.2 37.0h1.4v1.4h-1.4zM476.3 36.2h1.4v1.4h-1.4zM447.4 38.1h1.4v1.4h-1.4zM477.9 38.3h1.4v1.4h-1.4zM449.6 38.7h1.4v1.4h-1.4zM440.2 40.0h1.4v1.4h-1.4zM440.9 40.2h1.4v1.4h-1.4zM444.0 39.3h1.4v1.4h-1.4zM440.8 40.4h1.4v1.4h-1.4zM437.1 41.5h1.4v1.4h-1.4zM435.6 42.7h1.4v1.4h-1.4zM430.2 47.5h1.4v1.4h-1.4zM427.2 48.6h1.4v1.4h-1.4zM421.9 53.3h1.4v1.4h-1.4zM422.6 53.0h1.4v1.4h-1.4zM415.4 56.3h1.4v1.4h-1.4zM418.1 58.1h1.4v1.4h-1.4zM417.2 59.8h1.4v1.4h-1.4zM417.4 61.0h1.4v1.4h-1.4zM415.5 62.2h1.4v1.4h-1.4zM417.3 63.0h1.4v1.4h-1.4zM415.3 63.5h1.4v1.4h-1.4zM414.4 65.3h1.4v1.4h-1.4zM415.7 64.4h1.4v1.4h-1.4zM414.8 67.2h1.4v1.4h-1.4zM415.8 69.6h1.4v1.4h-1.4zM412.4 70.5h1.4v1.4h-1.4zM415.2 72.1h1.4v1.4h-1.4zM416.4 75.3h1.4v1.4h-1.4zM417.3 79.0h1.4v1.4h-1.4zM418.0 78.7h1.4v1.4h-1.4zM417.8 79.4h1.4v1.4h-1.4zM419.7 83.0h1.4v1.4h-1.4zM421.2 84.4h1.4v1.4h-1.4zM422.2 86.3h1.4v1.4h-1.4zM426.2 91.3h1.4v1.4h-1.4zM428.3 92.3h1.4v1.4h-1.4zM426.5 93.1h1.4v1.4h-1.4zM427.5 93.3h1.4v1.4h-1.4zM429.7 93.1h1.4v1.4h-1.4zM433.2 95.1h1.4v1.4h-1.4zM436.3 96.2h1.4v1.4h-1.4zM431.3 96.2h1.4v1.4h-1.4zM443.1 98.2h1.4v1.4h-1.4zM448.1 99.9h1.4v1.4h-1.4zM455.7 100.9h1.4v1.4h-1.4zM443.1 102.2h1.4v1.4h-1.4zM453.5 101.9h1.4v1.4h-1.4zM457.4 101.3h1.4v1.4h-1.4zM459.4 101.8h1.4v1.4h-1.4z" fill="#ff0000"/><path d="M416.7 67.7L416.6 66.4L416.8 65.5L417.0 64.8L417.3 64.2L417.7 63.7L418.0 63.0L418.3 62.2L418.5 61.4L418.8 60.6L419.1 59.7L419.5 58.9L420.0 58.1L420.7 57.3L421.4 56.4L422.3 55.5L423.2 54.7L424.1 53.9L425.0 53.1L425.8 52.4L426.6 51.7L427.4 51.1L428.3 50.4L429.1 49.8L430.0 49.1L430.9 48.3L431.9 47.5L432.9 46.7L434.0 45.9L435.0 45.1L436.1 44.4L437.2 43.8L438.4 43.1L439.5 42.6L440.7 42.1L441.9 41.6L443.1 41.2L444.3 40.9L445.5 40.7L446.7 40.5L447.8 40.4L449.0 40.2L450.1 40.1L451.2 40.0L452.2 39.8L453.3 39.7L454.3 39.6L455.3 39.5L456.2 39.3L457.1 39.1L457.9 38.8L458.8 38.5L459.6 38.1L460.4 37.9L461.2 37.6L462.0 37.4L462.7 37.1L463.4 36.9L464.2 36.7L465.1 36.6L466.2 36.6L467.5 36.7L469.0 36.9L470.6 37.2L472.3 37.6L474.1 38.0L476.0 38.5L478.0 39.2L480.1 40.0L482.3 40.9L484.5 41.8L486.8 42.6L489.0 43.2L491.2 43.6L493.5 43.9L495.8 44.0L498.1 44.2L500.4 44.3L502.7 44.5L505.0 44.7L507.4 44.9L509.8 45.1L512.1 45.3L514.3 45.7L516.4 46.2L518.3 46.9L520.1 47.8L521.8 48.8L523.5 49.9L525.0 51.0L526.6 52.2L528.2 53.5L529.7 54.8L531.2 56.2L532.6 57.6L533.9 59.2L535.1 60.7L536.2 62.3L537.3 64.1L538.3 65.9L539.1 67.6L539.8 69.4L540.3 71.0L540.5 72.5L540.6 74.0L540.4 75.4L540.2 76.7L539.8 78.1L539.4 79.5L538.9 80.9L538.2 82.4L537.5 83.8L536.7 85.3L535.9 86.7L535.1 88.0L534.3 89.3L533.4 90.5L532.5 91.7L531.6 92.8L530.8 93.9L530.0 95.0L529.3 96.1L528.7 97.1L528.1 98.2L527.4 99.2L526.8 100.1L526.0 101.0L525.2 101.8L524.3 102.6L523.3 103.3L522.3 103.9L521.2 104.5L520.0 105.0L518.8 105.4L517.5 105.8L516.2 106.1L514.7 106.3L513.0 106.4L511.0 106.5L508.6 106.5L505.8 106.4L502.8 106.2L499.7 106.0L496.8 105.8L494.0 105.5L491.4 105.2L489.0 104.9L486.6 104.5L484.3 104.1L482.1 103.8L480.0 103.5L478.1 103.3L476.4 103.1L474.8 102.9L473.2 102.8L471.6 102.7L470.0 102.5L468.3 102.3L466.6 102.2L464.9 102.0L463.2 101.8L461.6 101.6L460.0 101.5L458.6 101.4L457.3 101.3L456.0 101.3L454.7 101.2L453.3 101.1L451.7 100.8L449.8 100.4L447.7 100.0L445.5 99.5L443.2 98.9L441.0 98.2L438.9 97.4L436.9 96.5L434.9 95.6L433.0 94.6L431.1 93.5L429.3 92.3L427.7 91.0L426.2 89.6L424.7 88.2L423.4 86.7L422.1 85.0L421.0 83.3L420.0 81.4L419.1 79.2L418.4 76.8L417.8 74.2L417.3 71.8L416.9 69.5ZM507.4 72.3L507.4 74.4L506.9 76.6L506.0 78.7L504.7 80.8L503.0 82.7L501.0 84.6L498.6 86.2L495.9 87.6L493.0 88.8L490.0 89.8L486.7 90.5L483.4 90.9L480.1 91.1L476.8 91.0L473.6 90.5L470.5 89.8L467.7 88.9L465.1 87.7L462.7 86.3L460.7 84.6L459.1 82.8L457.8 80.9L457.0 78.8L456.6 76.7L456.6 74.6L457.1 72.4L458.0 70.3L459.3 68.2L461.0 66.3L463.0 64.4L465.4 62.8L468.1 61.4L471.0 60.2L474.0 59.2L477.3 58.5L480.6 58.1L483.9 57.9L487.2 58.0L490.4 58.5L493.5 59.2L496.3 60.1L498.9 61.3L501.3 62.7L503.3 64.4L504.9 66.2L506.2 68.1L507.0 70.2Z" fill="#7e1e9c" fill-rule="evenodd"/><clipPath id="cisclip"><path d="M400 0L487 30L462 108L400 108Z"/></clipPath><path d="M416.7 67.7L416.6 66.4L416.8 65.5L417.0 64.8L417.3 64.2L417.7 63.7L418.0 63.0L418.3 62.2L418.5 61.4L418.8 60.6L419.1 59.7L419.5 58.9L420.0 58.1L420.7 57.3L421.4 56.4L422.3 55.5L423.2 54.7L424.1 53.9L425.0 53.1L425.8 52.4L426.6 51.7L427.4 51.1L428.3 50.4L429.1 49.8L430.0 49.1L430.9 48.3L431.9 47.5L432.9 46.7L434.0 45.9L435.0 45.1L436.1 44.4L437.2 43.8L438.4 43.1L439.5 42.6L440.7 42.1L441.9 41.6L443.1 41.2L444.3 40.9L445.5 40.7L446.7 40.5L447.8 40.4L449.0 40.2L450.1 40.1L451.2 40.0L452.2 39.8L453.3 39.7L454.3 39.6L455.3 39.5L456.2 39.3L457.1 39.1L457.9 38.8L458.8 38.5L459.6 38.1L460.4 37.9L461.2 37.6L462.0 37.4L462.7 37.1L463.4 36.9L464.2 36.7L465.1 36.6L466.2 36.6L467.5 36.7L469.0 36.9L470.6 37.2L472.3 37.6L474.1 38.0L476.0 38.5L478.0 39.2L480.1 40.0L482.3 40.9L484.5 41.8L486.8 42.6L489.0 43.2L491.2 43.6L493.5 43.9L495.8 44.0L498.1 44.2L500.4 44.3L502.7 44.5L505.0 44.7L507.4 44.9L509.8 45.1L512.1 45.3L514.3 45.7L516.4 46.2L518.3 46.9L520.1 47.8L521.8 48.8L523.5 49.9L525.0 51.0L526.6 52.2L528.2 53.5L529.7 54.8L531.2 56.2L532.6 57.6L533.9 59.2L535.1 60.7L536.2 62.3L537.3 64.1L538.3 65.9L539.1 67.6L539.8 69.4L540.3 71.0L540.5 72.5L540.6 74.0L540.4 75.4L540.2 76.7L539.8 78.1L539.4 79.5L538.9 80.9L538.2 82.4L537.5 83.8L536.7 85.3L535.9 86.7L535.1 88.0L534.3 89.3L533.4 90.5L532.5 91.7L531.6 92.8L530.8 93.9L530.0 95.0L529.3 96.1L528.7 97.1L528.1 98.2L527.4 99.2L526.8 100.1L526.0 101.0L525.2 101.8L524.3 102.6L523.3 103.3L522.3 103.9L521.2 104.5L520.0 105.0L518.8 105.4L517.5 105.8L516.2 106.1L514.7 106.3L513.0 106.4L511.0 106.5L508.6 106.5L505.8 106.4L502.8 106.2L499.7 106.0L496.8 105.8L494.0 105.5L491.4 105.2L489.0 104.9L486.6 104.5L484.3 104.1L482.1 103.8L480.0 103.5L478.1 103.3L476.4 103.1L474.8 102.9L473.2 102.8L471.6 102.7L470.0 102.5L468.3 102.3L466.6 102.2L464.9 102.0L463.2 101.8L461.6 101.6L460.0 101.5L458.6 101.4L457.3 101.3L456.0 101.3L454.7 101.2L453.3 101.1L451.7 100.8L449.8 100.4L447.7 100.0L445.5 99.5L443.2 98.9L441.0 98.2L438.9 97.4L436.9 96.5L434.9 95.6L433.0 94.6L431.1 93.5L429.3 92.3L427.7 91.0L426.2 89.6L424.7 88.2L423.4 86.7L422.1 85.0L421.0 83.3L420.0 81.4L419.1 79.2L418.4 76.8L417.8 74.2L417.3 71.8L416.9 69.5ZM507.4 72.3L507.4 74.4L506.9 76.6L506.0 78.7L504.7 80.8L503.0 82.7L501.0 84.6L498.6 86.2L495.9 87.6L493.0 88.8L490.0 89.8L486.7 90.5L483.4 90.9L480.1 91.1L476.8 91.0L473.6 90.5L470.5 89.8L467.7 88.9L465.1 87.7L462.7 86.3L460.7 84.6L459.1 82.8L457.8 80.9L457.0 78.8L456.6 76.7L456.6 74.6L457.1 72.4L458.0 70.3L459.3 68.2L461.0 66.3L463.0 64.4L465.4 62.8L468.1 61.4L471.0 60.2L474.0 59.2L477.3 58.5L480.6 58.1L483.9 57.9L487.2 58.0L490.4 58.5L493.5 59.2L496.3 60.1L498.9 61.3L501.3 62.7L503.3 64.4L504.9 66.2L506.2 68.1L507.0 70.2Z" fill="#ff0000" fill-rule="evenodd" clip-path="url(#cisclip)"/><path d="M477.8 57.9h1.5v1.5h-1.5zM478.4 58.3h1.5v1.5h-1.5zM479.9 57.2h1.5v1.5h-1.5zM480.3 57.2h1.5v1.5h-1.5zM482.3 57.7h1.5v1.5h-1.5zM482.6 58.3h1.5v1.5h-1.5zM483.6 57.9h1.5v1.5h-1.5zM484.7 57.6h1.5v1.5h-1.5zM485.8 57.8h1.5v1.5h-1.5zM487.1 57.4h1.5v1.5h-1.5zM488.1 57.7h1.5v1.5h-1.5zM489.2 57.9h1.5v1.5h-1.5zM477.8 58.2h1.5v1.5h-1.5zM478.7 59.3h1.5v1.5h-1.5zM481.2 58.9h1.5v1.5h-1.5zM482.0 59.0h1.5v1.5h-1.5zM483.8 59.1h1.5v1.5h-1.5zM485.1 58.4h1.5v1.5h-1.5zM486.1 58.2h1.5v1.5h-1.5zM487.3 58.8h1.5v1.5h-1.5zM487.6 58.9h1.5v1.5h-1.5zM489.1 59.1h1.5v1.5h-1.5zM489.5 58.6h1.5v1.5h-1.5zM491.0 59.3h1.5v1.5h-1.5zM491.3 58.8h1.5v1.5h-1.5zM492.7 58.4h1.5v1.5h-1.5zM494.0 58.5h1.5v1.5h-1.5zM476.7 60.2h1.5v1.5h-1.5zM477.4 60.1h1.5v1.5h-1.5zM483.9 59.3h1.5v1.5h-1.5zM485.4 60.3h1.5v1.5h-1.5zM487.1 59.6h1.5v1.5h-1.5zM487.7 60.1h1.5v1.5h-1.5zM488.8 60.2h1.5v1.5h-1.5zM489.8 60.0h1.5v1.5h-1.5zM490.2 59.6h1.5v1.5h-1.5zM492.3 60.0h1.5v1.5h-1.5zM493.5 59.5h1.5v1.5h-1.5zM494.9 60.0h1.5v1.5h-1.5zM496.2 59.4h1.5v1.5h-1.5zM476.5 61.0h1.5v1.5h-1.5zM478.3 60.3h1.5v1.5h-1.5zM478.6 60.2h1.5v1.5h-1.5zM479.3 60.6h1.5v1.5h-1.5zM487.9 60.5h1.5v1.5h-1.5zM488.9 60.5h1.5v1.5h-1.5zM491.8 60.6h1.5v1.5h-1.5zM493.5 61.3h1.5v1.5h-1.5zM494.3 61.3h1.5v1.5h-1.5zM495.2 61.2h1.5v1.5h-1.5zM496.8 61.2h1.5v1.5h-1.5zM497.4 61.1h1.5v1.5h-1.5zM481.2 61.9h1.5v1.5h-1.5zM484.0 61.5h1.5v1.5h-1.5zM484.7 61.5h1.5v1.5h-1.5zM485.9 61.3h1.5v1.5h-1.5zM489.0 61.2h1.5v1.5h-1.5zM489.6 61.6h1.5v1.5h-1.5zM493.1 61.9h1.5v1.5h-1.5zM495.5 62.0h1.5v1.5h-1.5zM498.0 61.3h1.5v1.5h-1.5zM498.7 62.2h1.5v1.5h-1.5zM499.3 61.6h1.5v1.5h-1.5zM477.4 62.4h1.5v1.5h-1.5zM492.9 62.5h1.5v1.5h-1.5zM496.2 62.7h1.5v1.5h-1.5zM496.6 62.5h1.5v1.5h-1.5zM499.1 63.1h1.5v1.5h-1.5zM499.7 63.2h1.5v1.5h-1.5zM501.0 62.5h1.5v1.5h-1.5zM502.0 62.6h1.5v1.5h-1.5zM476.5 64.2h1.5v1.5h-1.5zM495.7 63.7h1.5v1.5h-1.5zM498.9 63.8h1.5v1.5h-1.5zM499.4 63.5h1.5v1.5h-1.5zM500.8 63.3h1.5v1.5h-1.5zM502.2 64.2h1.5v1.5h-1.5zM502.3 63.2h1.5v1.5h-1.5zM493.7 65.2h1.5v1.5h-1.5zM494.6 64.8h1.5v1.5h-1.5zM498.2 64.3h1.5v1.5h-1.5zM499.6 64.4h1.5v1.5h-1.5zM500.5 64.5h1.5v1.5h-1.5zM501.9 65.0h1.5v1.5h-1.5zM502.8 64.3h1.5v1.5h-1.5zM479.9 65.7h1.5v1.5h-1.5zM501.3 65.6h1.5v1.5h-1.5zM501.8 65.6h1.5v1.5h-1.5zM502.9 65.7h1.5v1.5h-1.5zM504.1 65.4h1.5v1.5h-1.5zM495.8 66.4h1.5v1.5h-1.5zM497.2 67.2h1.5v1.5h-1.5zM499.5 66.6h1.5v1.5h-1.5zM500.6 66.8h1.5v1.5h-1.5zM502.2 66.6h1.5v1.5h-1.5zM503.3 66.7h1.5v1.5h-1.5zM504.5 67.2h1.5v1.5h-1.5zM500.3 68.3h1.5v1.5h-1.5zM502.9 67.6h1.5v1.5h-1.5zM503.6 67.8h1.5v1.5h-1.5zM505.2 67.8h1.5v1.5h-1.5zM478.6 68.2h1.5v1.5h-1.5zM492.0 69.2h1.5v1.5h-1.5zM501.2 68.6h1.5v1.5h-1.5zM501.8 68.4h1.5v1.5h-1.5zM503.2 69.3h1.5v1.5h-1.5zM503.5 68.9h1.5v1.5h-1.5zM504.4 69.3h1.5v1.5h-1.5zM505.6 68.9h1.5v1.5h-1.5zM479.8 69.8h1.5v1.5h-1.5zM496.4 69.3h1.5v1.5h-1.5zM498.0 70.1h1.5v1.5h-1.5zM500.3 70.0h1.5v1.5h-1.5zM502.6 69.4h1.5v1.5h-1.5zM503.2 70.1h1.5v1.5h-1.5zM505.1 69.2h1.5v1.5h-1.5zM505.2 69.2h1.5v1.5h-1.5zM500.6 70.7h1.5v1.5h-1.5zM502.4 71.0h1.5v1.5h-1.5zM504.2 70.8h1.5v1.5h-1.5zM506.1 70.6h1.5v1.5h-1.5zM487.8 71.4h1.5v1.5h-1.5zM491.3 71.7h1.5v1.5h-1.5zM500.5 71.5h1.5v1.5h-1.5zM504.0 71.7h1.5v1.5h-1.5zM504.5 71.7h1.5v1.5h-1.5zM505.6 72.0h1.5v1.5h-1.5zM488.1 72.7h1.5v1.5h-1.5zM497.7 72.5h1.5v1.5h-1.5zM500.5 72.3h1.5v1.5h-1.5zM501.9 72.4h1.5v1.5h-1.5zM503.1 72.5h1.5v1.5h-1.5zM503.8 73.0h1.5v1.5h-1.5zM504.3 72.2h1.5v1.5h-1.5zM505.6 72.6h1.5v1.5h-1.5zM476.4 73.8h1.5v1.5h-1.5zM484.0 74.0h1.5v1.5h-1.5zM494.3 73.7h1.5v1.5h-1.5zM497.8 73.3h1.5v1.5h-1.5zM499.7 73.4h1.5v1.5h-1.5zM501.4 73.9h1.5v1.5h-1.5zM505.1 74.2h1.5v1.5h-1.5zM506.1 73.9h1.5v1.5h-1.5zM474.1 74.9h1.5v1.5h-1.5zM481.7 74.3h1.5v1.5h-1.5zM495.3 74.3h1.5v1.5h-1.5zM498.7 74.9h1.5v1.5h-1.5zM501.6 74.3h1.5v1.5h-1.5zM502.5 74.5h1.5v1.5h-1.5zM506.0 74.4h1.5v1.5h-1.5zM480.0 75.2h1.5v1.5h-1.5zM488.5 76.1h1.5v1.5h-1.5zM497.0 75.4h1.5v1.5h-1.5zM501.2 76.1h1.5v1.5h-1.5zM503.3 75.2h1.5v1.5h-1.5zM505.7 75.9h1.5v1.5h-1.5zM476.3 77.1h1.5v1.5h-1.5zM476.6 76.6h1.5v1.5h-1.5zM494.2 77.1h1.5v1.5h-1.5zM499.5 76.7h1.5v1.5h-1.5zM504.3 76.8h1.5v1.5h-1.5zM504.9 76.5h1.5v1.5h-1.5zM506.0 77.2h1.5v1.5h-1.5zM489.9 78.2h1.5v1.5h-1.5zM499.9 78.0h1.5v1.5h-1.5zM500.4 77.8h1.5v1.5h-1.5zM501.3 77.9h1.5v1.5h-1.5zM502.2 77.6h1.5v1.5h-1.5zM503.5 78.3h1.5v1.5h-1.5zM505.2 78.2h1.5v1.5h-1.5zM500.4 79.2h1.5v1.5h-1.5zM502.1 78.2h1.5v1.5h-1.5zM503.3 79.3h1.5v1.5h-1.5zM503.8 79.0h1.5v1.5h-1.5zM505.1 78.4h1.5v1.5h-1.5zM472.3 80.1h1.5v1.5h-1.5zM472.4 79.4h1.5v1.5h-1.5zM492.0 79.6h1.5v1.5h-1.5zM493.4 79.2h1.5v1.5h-1.5zM495.3 80.1h1.5v1.5h-1.5zM497.6 79.2h1.5v1.5h-1.5zM500.7 79.6h1.5v1.5h-1.5zM501.4 80.2h1.5v1.5h-1.5zM502.6 79.9h1.5v1.5h-1.5zM503.8 80.1h1.5v1.5h-1.5zM491.9 80.6h1.5v1.5h-1.5zM497.6 80.4h1.5v1.5h-1.5zM499.2 80.7h1.5v1.5h-1.5zM501.2 80.7h1.5v1.5h-1.5zM502.7 80.8h1.5v1.5h-1.5zM488.8 81.5h1.5v1.5h-1.5zM496.4 81.4h1.5v1.5h-1.5zM499.1 81.6h1.5v1.5h-1.5zM500.4 81.8h1.5v1.5h-1.5zM502.1 81.6h1.5v1.5h-1.5zM471.2 83.1h1.5v1.5h-1.5zM488.5 82.9h1.5v1.5h-1.5zM494.6 83.2h1.5v1.5h-1.5zM497.9 83.3h1.5v1.5h-1.5zM498.5 82.8h1.5v1.5h-1.5zM500.5 82.7h1.5v1.5h-1.5zM472.3 83.5h1.5v1.5h-1.5zM474.9 83.3h1.5v1.5h-1.5zM480.3 83.9h1.5v1.5h-1.5zM491.8 84.1h1.5v1.5h-1.5zM492.5 83.7h1.5v1.5h-1.5zM494.3 83.6h1.5v1.5h-1.5zM495.6 83.4h1.5v1.5h-1.5zM496.5 83.5h1.5v1.5h-1.5zM497.8 83.7h1.5v1.5h-1.5zM499.3 84.1h1.5v1.5h-1.5zM499.3 83.7h1.5v1.5h-1.5zM469.7 85.3h1.5v1.5h-1.5zM472.6 85.0h1.5v1.5h-1.5zM480.2 85.2h1.5v1.5h-1.5zM486.0 84.5h1.5v1.5h-1.5zM486.9 84.3h1.5v1.5h-1.5zM489.8 85.1h1.5v1.5h-1.5zM493.3 84.2h1.5v1.5h-1.5zM493.5 84.4h1.5v1.5h-1.5zM495.7 84.4h1.5v1.5h-1.5zM496.6 85.0h1.5v1.5h-1.5zM497.6 85.0h1.5v1.5h-1.5zM499.0 85.3h1.5v1.5h-1.5zM484.2 86.2h1.5v1.5h-1.5zM488.2 86.0h1.5v1.5h-1.5zM489.7 86.0h1.5v1.5h-1.5zM491.3 86.1h1.5v1.5h-1.5zM492.7 85.8h1.5v1.5h-1.5zM494.5 85.4h1.5v1.5h-1.5zM495.5 85.6h1.5v1.5h-1.5zM496.3 86.2h1.5v1.5h-1.5zM468.2 87.0h1.5v1.5h-1.5zM470.3 86.2h1.5v1.5h-1.5zM471.0 87.2h1.5v1.5h-1.5zM471.6 86.5h1.5v1.5h-1.5zM474.6 86.6h1.5v1.5h-1.5zM481.1 87.1h1.5v1.5h-1.5zM482.5 86.3h1.5v1.5h-1.5zM484.6 86.7h1.5v1.5h-1.5zM486.7 86.4h1.5v1.5h-1.5zM488.7 86.7h1.5v1.5h-1.5zM489.8 86.8h1.5v1.5h-1.5zM491.9 86.4h1.5v1.5h-1.5zM493.2 86.3h1.5v1.5h-1.5zM494.3 86.5h1.5v1.5h-1.5zM494.9 86.6h1.5v1.5h-1.5zM468.3 88.0h1.5v1.5h-1.5zM468.7 87.2h1.5v1.5h-1.5zM471.2 87.8h1.5v1.5h-1.5zM472.8 88.0h1.5v1.5h-1.5zM474.3 87.6h1.5v1.5h-1.5zM475.5 88.3h1.5v1.5h-1.5zM477.9 88.3h1.5v1.5h-1.5zM480.2 87.6h1.5v1.5h-1.5zM483.3 88.2h1.5v1.5h-1.5zM484.0 88.2h1.5v1.5h-1.5zM484.9 87.9h1.5v1.5h-1.5zM488.3 87.8h1.5v1.5h-1.5zM488.9 87.7h1.5v1.5h-1.5zM489.8 87.3h1.5v1.5h-1.5zM490.6 88.2h1.5v1.5h-1.5zM491.6 88.0h1.5v1.5h-1.5zM493.2 87.4h1.5v1.5h-1.5zM468.2 88.3h1.5v1.5h-1.5zM469.8 88.2h1.5v1.5h-1.5zM470.4 88.3h1.5v1.5h-1.5zM472.5 88.9h1.5v1.5h-1.5zM474.0 88.5h1.5v1.5h-1.5zM474.8 88.2h1.5v1.5h-1.5zM481.0 89.0h1.5v1.5h-1.5zM482.6 88.3h1.5v1.5h-1.5zM484.3 88.3h1.5v1.5h-1.5zM485.3 88.8h1.5v1.5h-1.5zM486.8 88.2h1.5v1.5h-1.5zM487.2 88.4h1.5v1.5h-1.5zM488.2 88.3h1.5v1.5h-1.5zM489.7 88.5h1.5v1.5h-1.5zM472.5 89.7h1.5v1.5h-1.5zM474.2 89.6h1.5v1.5h-1.5zM474.9 89.2h1.5v1.5h-1.5zM476.2 90.0h1.5v1.5h-1.5zM477.3 90.0h1.5v1.5h-1.5zM478.6 90.3h1.5v1.5h-1.5zM479.4 89.7h1.5v1.5h-1.5zM482.2 89.4h1.5v1.5h-1.5zM485.7 90.0h1.5v1.5h-1.5zM486.6 89.5h1.5v1.5h-1.5z" fill="#7e1e9c"/><path d="M475.9 57.3h1.5v1.5h-1.5zM477.3 57.9h1.5v1.5h-1.5zM473.3 58.5h1.5v1.5h-1.5zM474.3 58.9h1.5v1.5h-1.5zM475.3 58.9h1.5v1.5h-1.5zM476.2 59.2h1.5v1.5h-1.5zM469.6 59.2h1.5v1.5h-1.5zM470.2 59.5h1.5v1.5h-1.5zM471.2 59.6h1.5v1.5h-1.5zM473.3 59.5h1.5v1.5h-1.5zM474.6 59.6h1.5v1.5h-1.5zM475.3 59.4h1.5v1.5h-1.5zM468.4 60.6h1.5v1.5h-1.5zM471.3 60.8h1.5v1.5h-1.5zM472.3 61.1h1.5v1.5h-1.5zM473.5 60.5h1.5v1.5h-1.5zM475.2 61.0h1.5v1.5h-1.5zM465.4 61.2h1.5v1.5h-1.5zM467.3 61.7h1.5v1.5h-1.5zM469.2 62.1h1.5v1.5h-1.5zM469.3 61.9h1.5v1.5h-1.5zM471.2 62.1h1.5v1.5h-1.5zM475.2 61.2h1.5v1.5h-1.5zM475.2 62.3h1.5v1.5h-1.5zM464.0 63.0h1.5v1.5h-1.5zM465.0 63.3h1.5v1.5h-1.5zM467.3 63.2h1.5v1.5h-1.5zM470.5 62.5h1.5v1.5h-1.5zM473.3 62.6h1.5v1.5h-1.5zM474.4 62.9h1.5v1.5h-1.5zM462.6 63.5h1.5v1.5h-1.5zM464.1 63.7h1.5v1.5h-1.5zM465.2 64.1h1.5v1.5h-1.5zM465.9 63.8h1.5v1.5h-1.5zM468.5 64.3h1.5v1.5h-1.5zM461.7 65.1h1.5v1.5h-1.5zM462.2 65.0h1.5v1.5h-1.5zM463.3 64.6h1.5v1.5h-1.5zM467.2 64.5h1.5v1.5h-1.5zM470.3 64.5h1.5v1.5h-1.5zM461.3 66.3h1.5v1.5h-1.5zM472.7 66.0h1.5v1.5h-1.5zM459.2 66.6h1.5v1.5h-1.5zM460.6 67.1h1.5v1.5h-1.5zM463.0 66.2h1.5v1.5h-1.5zM466.2 66.3h1.5v1.5h-1.5zM470.0 67.3h1.5v1.5h-1.5zM459.8 67.4h1.5v1.5h-1.5zM461.4 67.8h1.5v1.5h-1.5zM463.5 67.9h1.5v1.5h-1.5zM465.3 68.2h1.5v1.5h-1.5zM466.1 68.1h1.5v1.5h-1.5zM467.6 67.6h1.5v1.5h-1.5zM470.9 67.8h1.5v1.5h-1.5zM458.3 69.0h1.5v1.5h-1.5zM458.6 68.4h1.5v1.5h-1.5zM462.4 69.2h1.5v1.5h-1.5zM464.3 68.2h1.5v1.5h-1.5zM464.3 69.0h1.5v1.5h-1.5zM457.3 70.2h1.5v1.5h-1.5zM458.7 69.6h1.5v1.5h-1.5zM459.8 69.4h1.5v1.5h-1.5zM456.5 70.8h1.5v1.5h-1.5zM457.5 70.2h1.5v1.5h-1.5zM458.2 70.7h1.5v1.5h-1.5zM462.2 70.9h1.5v1.5h-1.5zM457.2 72.1h1.5v1.5h-1.5zM457.4 71.2h1.5v1.5h-1.5zM460.2 72.2h1.5v1.5h-1.5zM462.2 71.5h1.5v1.5h-1.5zM465.0 72.1h1.5v1.5h-1.5zM457.1 73.0h1.5v1.5h-1.5zM458.3 72.3h1.5v1.5h-1.5zM459.0 72.4h1.5v1.5h-1.5zM460.3 73.1h1.5v1.5h-1.5zM460.9 72.9h1.5v1.5h-1.5zM465.3 73.0h1.5v1.5h-1.5zM467.2 72.7h1.5v1.5h-1.5zM457.3 73.8h1.5v1.5h-1.5zM458.2 73.7h1.5v1.5h-1.5zM459.2 74.0h1.5v1.5h-1.5zM457.2 74.4h1.5v1.5h-1.5zM457.3 74.5h1.5v1.5h-1.5zM460.3 74.9h1.5v1.5h-1.5zM462.1 75.2h1.5v1.5h-1.5zM463.4 74.7h1.5v1.5h-1.5zM456.8 76.0h1.5v1.5h-1.5zM457.4 76.3h1.5v1.5h-1.5zM458.5 75.4h1.5v1.5h-1.5zM459.4 75.5h1.5v1.5h-1.5zM460.6 75.8h1.5v1.5h-1.5zM456.2 76.9h1.5v1.5h-1.5zM459.8 77.1h1.5v1.5h-1.5zM456.8 77.5h1.5v1.5h-1.5zM457.2 77.6h1.5v1.5h-1.5zM458.8 78.0h1.5v1.5h-1.5zM461.2 78.0h1.5v1.5h-1.5zM457.0 79.1h1.5v1.5h-1.5zM458.2 78.6h1.5v1.5h-1.5zM460.0 78.8h1.5v1.5h-1.5zM458.5 79.3h1.5v1.5h-1.5zM460.0 79.3h1.5v1.5h-1.5zM463.6 79.8h1.5v1.5h-1.5zM458.3 80.9h1.5v1.5h-1.5zM459.3 81.1h1.5v1.5h-1.5zM463.3 80.9h1.5v1.5h-1.5zM465.3 81.2h1.5v1.5h-1.5zM459.0 81.9h1.5v1.5h-1.5zM460.2 82.0h1.5v1.5h-1.5zM463.2 81.5h1.5v1.5h-1.5zM460.3 82.2h1.5v1.5h-1.5zM462.3 83.2h1.5v1.5h-1.5zM465.6 82.9h1.5v1.5h-1.5zM459.5 84.3h1.5v1.5h-1.5zM460.8 83.4h1.5v1.5h-1.5zM463.5 84.0h1.5v1.5h-1.5zM464.5 83.8h1.5v1.5h-1.5zM466.1 83.2h1.5v1.5h-1.5zM461.8 84.9h1.5v1.5h-1.5zM462.5 84.5h1.5v1.5h-1.5zM463.9 84.4h1.5v1.5h-1.5zM466.2 84.2h1.5v1.5h-1.5zM467.1 84.6h1.5v1.5h-1.5zM468.0 85.2h1.5v1.5h-1.5zM463.4 86.1h1.5v1.5h-1.5zM464.2 85.3h1.5v1.5h-1.5zM467.2 85.7h1.5v1.5h-1.5zM465.1 87.3h1.5v1.5h-1.5zM466.1 86.2h1.5v1.5h-1.5zM468.2 86.6h1.5v1.5h-1.5zM466.2 88.3h1.5v1.5h-1.5z" fill="#ff0000"/><path d="M496.4 62.0h1.5v1.5h-1.5zM483.6 62.8h1.5v1.5h-1.5zM493.6 62.8h1.5v1.5h-1.5zM466.2 64.3h1.5v1.5h-1.5zM483.6 66.1h1.5v1.5h-1.5zM474.3 68.2h1.5v1.5h-1.5zM470.3 68.2h1.5v1.5h-1.5zM479.1 69.9h1.5v1.5h-1.5zM467.3 70.9h1.5v1.5h-1.5zM502.4 70.4h1.5v1.5h-1.5zM480.0 72.1h1.5v1.5h-1.5zM480.9 73.7h1.5v1.5h-1.5zM460.7 74.9h1.5v1.5h-1.5zM475.3 79.0h1.5v1.5h-1.5zM499.0 78.8h1.5v1.5h-1.5zM473.2 82.7h1.5v1.5h-1.5zM474.6 83.1h1.5v1.5h-1.5zM481.3 89.5h1.5v1.5h-1.5z" fill="#2e8b20"/><path d="M468.9 62.3h1.5v1.5h-1.5zM461.3 64.2h1.5v1.5h-1.5zM461.7 65.4h1.5v1.5h-1.5zM473.9 65.4h1.5v1.5h-1.5zM463.0 71.4h1.5v1.5h-1.5zM469.3 78.1h1.5v1.5h-1.5zM463.2 82.5h1.5v1.5h-1.5z" fill="#808080"/><path d="M479.3 39.2h1.6v1.6h-1.6zM479.2 41.3h1.6v1.6h-1.6zM481.2 40.5h1.6v1.6h-1.6zM477.3 43.2h1.6v1.6h-1.6zM479.0 43.7h1.6v1.6h-1.6zM479.6 43.3h1.6v1.6h-1.6zM479.4 44.2h1.6v1.6h-1.6zM477.2 48.6h1.6v1.6h-1.6zM478.2 48.5h1.6v1.6h-1.6zM475.5 49.4h1.6v1.6h-1.6zM477.7 49.6h1.6v1.6h-1.6zM477.2 50.3h1.6v1.6h-1.6zM479.2 51.1h1.6v1.6h-1.6zM474.6 52.2h1.6v1.6h-1.6zM475.8 51.8h1.6v1.6h-1.6zM477.3 52.1h1.6v1.6h-1.6zM475.3 53.2h1.6v1.6h-1.6zM478.0 54.9h1.6v1.6h-1.6zM476.6 55.6h1.6v1.6h-1.6zM474.1 56.7h1.6v1.6h-1.6zM465.0 87.6h1.6v1.6h-1.6zM463.8 89.3h1.6v1.6h-1.6zM464.3 89.9h1.6v1.6h-1.6zM463.9 91.2h1.6v1.6h-1.6zM465.1 90.6h1.6v1.6h-1.6zM465.6 90.9h1.6v1.6h-1.6zM461.5 92.3h1.6v1.6h-1.6zM463.5 92.5h1.6v1.6h-1.6zM462.2 93.1h1.6v1.6h-1.6zM461.0 95.0h1.6v1.6h-1.6zM464.5 95.2h1.6v1.6h-1.6zM464.4 95.3h1.6v1.6h-1.6zM460.1 96.4h1.6v1.6h-1.6zM462.2 96.8h1.6v1.6h-1.6zM461.6 98.1h1.6v1.6h-1.6zM460.2 99.3h1.6v1.6h-1.6zM463.9 99.0h1.6v1.6h-1.6zM461.8 100.0h1.6v1.6h-1.6zM459.7 100.1h1.6v1.6h-1.6z" fill="#7e1e9c"/><path d="M482.9 42.7h1.6v1.6h-1.6zM484.1 42.8h1.6v1.6h-1.6zM481.5 44.5h1.6v1.6h-1.6zM482.3 48.1h1.6v1.6h-1.6zM484.6 49.1h1.6v1.6h-1.6zM481.2 49.6h1.6v1.6h-1.6zM483.1 50.1h1.6v1.6h-1.6zM482.6 50.2h1.6v1.6h-1.6zM482.1 51.6h1.6v1.6h-1.6zM482.8 51.6h1.6v1.6h-1.6zM479.0 53.4h1.6v1.6h-1.6zM479.1 53.5h1.6v1.6h-1.6zM481.1 53.4h1.6v1.6h-1.6zM481.0 54.8h1.6v1.6h-1.6zM480.3 57.3h1.6v1.6h-1.6zM468.0 88.7h1.6v1.6h-1.6zM467.4 89.5h1.6v1.6h-1.6zM469.1 90.2h1.6v1.6h-1.6zM468.1 91.5h1.6v1.6h-1.6zM468.4 91.8h1.6v1.6h-1.6zM465.6 94.8h1.6v1.6h-1.6zM466.3 94.9h1.6v1.6h-1.6zM468.7 94.1h1.6v1.6h-1.6zM465.6 95.2h1.6v1.6h-1.6zM465.3 98.1h1.6v1.6h-1.6zM468.2 99.7h1.6v1.6h-1.6z" fill="#ff0000"/><path d="M464.7 37.2h1.5v1.5h-1.5zM466.3 37.0h1.5v1.5h-1.5zM468.7 36.3h1.5v1.5h-1.5zM459.3 38.0h1.5v1.5h-1.5zM464.2 38.1h1.5v1.5h-1.5zM469.5 38.0h1.5v1.5h-1.5zM474.3 37.9h1.5v1.5h-1.5zM458.3 38.9h1.5v1.5h-1.5zM461.3 39.0h1.5v1.5h-1.5zM466.7 39.0h1.5v1.5h-1.5zM469.8 39.0h1.5v1.5h-1.5zM476.6 38.9h1.5v1.5h-1.5zM449.5 39.4h1.5v1.5h-1.5zM454.3 39.3h1.5v1.5h-1.5zM458.2 40.1h1.5v1.5h-1.5zM459.6 39.2h1.5v1.5h-1.5zM463.8 39.8h1.5v1.5h-1.5zM470.2 39.5h1.5v1.5h-1.5zM473.2 39.6h1.5v1.5h-1.5zM477.4 39.5h1.5v1.5h-1.5zM479.6 40.2h1.5v1.5h-1.5zM480.4 39.4h1.5v1.5h-1.5zM441.5 40.4h1.5v1.5h-1.5zM447.2 41.1h1.5v1.5h-1.5zM448.2 41.3h1.5v1.5h-1.5zM450.8 40.5h1.5v1.5h-1.5zM451.7 41.3h1.5v1.5h-1.5zM453.9 41.1h1.5v1.5h-1.5zM459.3 40.2h1.5v1.5h-1.5zM459.2 40.8h1.5v1.5h-1.5zM460.2 40.4h1.5v1.5h-1.5zM462.0 40.8h1.5v1.5h-1.5zM466.1 41.3h1.5v1.5h-1.5zM467.6 41.3h1.5v1.5h-1.5zM473.2 40.3h1.5v1.5h-1.5zM481.8 41.3h1.5v1.5h-1.5zM447.3 41.8h1.5v1.5h-1.5zM448.3 42.1h1.5v1.5h-1.5zM455.1 42.3h1.5v1.5h-1.5zM456.6 41.7h1.5v1.5h-1.5zM459.2 41.4h1.5v1.5h-1.5zM461.8 41.6h1.5v1.5h-1.5zM463.9 41.3h1.5v1.5h-1.5zM471.0 41.6h1.5v1.5h-1.5zM473.5 41.2h1.5v1.5h-1.5zM475.6 42.2h1.5v1.5h-1.5zM479.4 41.9h1.5v1.5h-1.5zM481.9 41.8h1.5v1.5h-1.5zM437.6 43.1h1.5v1.5h-1.5zM439.2 42.6h1.5v1.5h-1.5zM443.3 42.7h1.5v1.5h-1.5zM446.0 42.5h1.5v1.5h-1.5zM448.1 42.4h1.5v1.5h-1.5zM451.2 43.3h1.5v1.5h-1.5zM457.1 43.3h1.5v1.5h-1.5zM457.6 43.2h1.5v1.5h-1.5zM466.0 42.9h1.5v1.5h-1.5zM466.6 42.9h1.5v1.5h-1.5zM480.0 42.8h1.5v1.5h-1.5zM436.3 44.1h1.5v1.5h-1.5zM437.3 44.2h1.5v1.5h-1.5zM441.3 44.2h1.5v1.5h-1.5zM442.0 43.6h1.5v1.5h-1.5zM442.2 43.2h1.5v1.5h-1.5zM444.7 43.5h1.5v1.5h-1.5zM445.7 44.0h1.5v1.5h-1.5zM446.2 43.2h1.5v1.5h-1.5zM448.3 43.4h1.5v1.5h-1.5zM449.1 43.8h1.5v1.5h-1.5zM455.1 43.5h1.5v1.5h-1.5zM455.9 43.3h1.5v1.5h-1.5zM461.2 43.9h1.5v1.5h-1.5zM463.7 43.6h1.5v1.5h-1.5zM464.7 43.6h1.5v1.5h-1.5zM481.3 43.5h1.5v1.5h-1.5zM435.6 44.3h1.5v1.5h-1.5zM439.4 45.2h1.5v1.5h-1.5zM441.0 44.5h1.5v1.5h-1.5zM441.7 44.8h1.5v1.5h-1.5zM444.0 44.5h1.5v1.5h-1.5zM445.2 44.3h1.5v1.5h-1.5zM447.2 45.2h1.5v1.5h-1.5zM447.7 44.7h1.5v1.5h-1.5zM452.4 45.1h1.5v1.5h-1.5zM453.3 44.3h1.5v1.5h-1.5zM455.8 44.2h1.5v1.5h-1.5zM459.1 45.1h1.5v1.5h-1.5zM462.3 44.3h1.5v1.5h-1.5zM470.3 44.2h1.5v1.5h-1.5zM475.6 44.9h1.5v1.5h-1.5zM477.7 44.5h1.5v1.5h-1.5zM434.2 45.8h1.5v1.5h-1.5zM436.2 45.4h1.5v1.5h-1.5zM439.5 45.5h1.5v1.5h-1.5zM440.9 45.7h1.5v1.5h-1.5zM442.8 45.2h1.5v1.5h-1.5zM444.5 45.8h1.5v1.5h-1.5zM446.8 45.3h1.5v1.5h-1.5zM449.8 45.7h1.5v1.5h-1.5zM457.2 46.3h1.5v1.5h-1.5zM458.5 45.2h1.5v1.5h-1.5zM471.2 46.0h1.5v1.5h-1.5zM472.4 46.3h1.5v1.5h-1.5zM478.7 45.5h1.5v1.5h-1.5zM479.5 46.0h1.5v1.5h-1.5zM431.6 46.9h1.5v1.5h-1.5zM434.4 46.6h1.5v1.5h-1.5zM437.1 47.0h1.5v1.5h-1.5zM438.2 46.7h1.5v1.5h-1.5zM440.0 46.7h1.5v1.5h-1.5zM440.3 47.2h1.5v1.5h-1.5zM446.3 46.2h1.5v1.5h-1.5zM448.1 46.6h1.5v1.5h-1.5zM448.6 46.8h1.5v1.5h-1.5zM455.1 46.5h1.5v1.5h-1.5zM455.7 47.3h1.5v1.5h-1.5zM456.9 47.1h1.5v1.5h-1.5zM462.3 46.6h1.5v1.5h-1.5zM465.0 46.8h1.5v1.5h-1.5zM465.5 47.3h1.5v1.5h-1.5zM469.3 47.1h1.5v1.5h-1.5zM473.3 46.7h1.5v1.5h-1.5zM475.3 46.8h1.5v1.5h-1.5zM475.5 47.2h1.5v1.5h-1.5zM478.3 46.6h1.5v1.5h-1.5zM430.6 47.6h1.5v1.5h-1.5zM431.7 48.1h1.5v1.5h-1.5zM433.5 47.4h1.5v1.5h-1.5zM435.5 47.4h1.5v1.5h-1.5zM439.9 47.7h1.5v1.5h-1.5zM441.2 48.3h1.5v1.5h-1.5zM447.3 47.7h1.5v1.5h-1.5zM448.1 48.3h1.5v1.5h-1.5zM449.5 47.7h1.5v1.5h-1.5zM450.2 47.7h1.5v1.5h-1.5zM451.4 48.1h1.5v1.5h-1.5zM457.1 48.3h1.5v1.5h-1.5zM457.9 48.1h1.5v1.5h-1.5zM464.1 48.1h1.5v1.5h-1.5zM465.3 48.2h1.5v1.5h-1.5zM478.1 48.1h1.5v1.5h-1.5zM430.3 48.6h1.5v1.5h-1.5zM432.2 49.1h1.5v1.5h-1.5zM432.9 48.4h1.5v1.5h-1.5zM433.5 48.6h1.5v1.5h-1.5zM434.6 48.3h1.5v1.5h-1.5zM436.2 48.3h1.5v1.5h-1.5zM437.3 48.3h1.5v1.5h-1.5zM440.7 48.7h1.5v1.5h-1.5zM442.1 48.3h1.5v1.5h-1.5zM445.2 48.7h1.5v1.5h-1.5zM448.3 48.3h1.5v1.5h-1.5zM452.9 48.8h1.5v1.5h-1.5zM454.1 49.1h1.5v1.5h-1.5zM454.8 49.0h1.5v1.5h-1.5zM464.2 49.1h1.5v1.5h-1.5zM466.2 48.9h1.5v1.5h-1.5zM473.1 48.7h1.5v1.5h-1.5zM475.8 48.9h1.5v1.5h-1.5zM476.5 49.3h1.5v1.5h-1.5zM427.2 49.5h1.5v1.5h-1.5zM428.3 50.2h1.5v1.5h-1.5zM431.0 50.3h1.5v1.5h-1.5zM432.6 50.0h1.5v1.5h-1.5zM436.2 49.7h1.5v1.5h-1.5zM436.4 49.8h1.5v1.5h-1.5zM439.5 50.3h1.5v1.5h-1.5zM440.2 49.5h1.5v1.5h-1.5zM441.8 49.4h1.5v1.5h-1.5zM442.8 50.1h1.5v1.5h-1.5zM443.6 49.7h1.5v1.5h-1.5zM446.3 49.9h1.5v1.5h-1.5zM449.2 49.4h1.5v1.5h-1.5zM450.2 49.5h1.5v1.5h-1.5zM452.2 50.0h1.5v1.5h-1.5zM452.5 49.9h1.5v1.5h-1.5zM455.0 49.4h1.5v1.5h-1.5zM456.2 49.9h1.5v1.5h-1.5zM459.2 49.8h1.5v1.5h-1.5zM460.1 50.0h1.5v1.5h-1.5zM462.2 50.3h1.5v1.5h-1.5zM469.2 49.3h1.5v1.5h-1.5zM471.0 49.4h1.5v1.5h-1.5zM426.5 51.2h1.5v1.5h-1.5zM428.2 51.1h1.5v1.5h-1.5zM430.1 51.1h1.5v1.5h-1.5zM430.5 50.9h1.5v1.5h-1.5zM431.6 50.9h1.5v1.5h-1.5zM432.3 50.4h1.5v1.5h-1.5zM434.5 51.1h1.5v1.5h-1.5zM438.3 50.4h1.5v1.5h-1.5zM438.3 50.2h1.5v1.5h-1.5zM440.2 51.2h1.5v1.5h-1.5zM441.9 50.7h1.5v1.5h-1.5zM443.2 50.4h1.5v1.5h-1.5zM445.2 51.3h1.5v1.5h-1.5zM445.6 51.1h1.5v1.5h-1.5zM448.0 51.3h1.5v1.5h-1.5zM449.1 51.0h1.5v1.5h-1.5zM454.7 50.5h1.5v1.5h-1.5zM456.4 50.9h1.5v1.5h-1.5zM463.2 50.2h1.5v1.5h-1.5zM464.4 50.5h1.5v1.5h-1.5zM467.8 50.8h1.5v1.5h-1.5zM469.0 51.3h1.5v1.5h-1.5zM473.3 50.8h1.5v1.5h-1.5zM479.2 50.8h1.5v1.5h-1.5zM426.1 52.3h1.5v1.5h-1.5zM426.2 51.4h1.5v1.5h-1.5zM428.0 52.1h1.5v1.5h-1.5zM428.4 52.2h1.5v1.5h-1.5zM431.0 52.0h1.5v1.5h-1.5zM432.3 51.3h1.5v1.5h-1.5zM433.3 51.8h1.5v1.5h-1.5zM434.1 51.3h1.5v1.5h-1.5zM434.2 51.9h1.5v1.5h-1.5zM435.6 51.6h1.5v1.5h-1.5zM437.4 51.2h1.5v1.5h-1.5zM439.4 52.1h1.5v1.5h-1.5zM441.0 51.4h1.5v1.5h-1.5zM442.3 52.3h1.5v1.5h-1.5zM444.3 51.3h1.5v1.5h-1.5zM454.3 52.0h1.5v1.5h-1.5zM458.7 51.9h1.5v1.5h-1.5zM465.6 51.2h1.5v1.5h-1.5zM468.8 52.0h1.5v1.5h-1.5zM469.9 51.5h1.5v1.5h-1.5zM474.4 51.4h1.5v1.5h-1.5zM478.0 51.6h1.5v1.5h-1.5zM425.4 52.3h1.5v1.5h-1.5zM426.7 52.2h1.5v1.5h-1.5zM428.2 52.6h1.5v1.5h-1.5zM428.5 52.9h1.5v1.5h-1.5zM430.9 52.8h1.5v1.5h-1.5zM434.7 52.8h1.5v1.5h-1.5zM435.2 53.3h1.5v1.5h-1.5zM436.5 52.2h1.5v1.5h-1.5zM440.2 52.7h1.5v1.5h-1.5zM440.3 52.6h1.5v1.5h-1.5zM442.1 52.7h1.5v1.5h-1.5zM443.0 52.9h1.5v1.5h-1.5zM444.1 53.2h1.5v1.5h-1.5zM447.2 53.1h1.5v1.5h-1.5zM448.2 53.0h1.5v1.5h-1.5zM449.2 53.2h1.5v1.5h-1.5zM449.2 52.9h1.5v1.5h-1.5zM450.5 53.1h1.5v1.5h-1.5zM457.7 53.2h1.5v1.5h-1.5zM460.0 52.9h1.5v1.5h-1.5zM461.1 53.0h1.5v1.5h-1.5zM464.6 52.9h1.5v1.5h-1.5zM472.0 53.0h1.5v1.5h-1.5zM475.2 52.3h1.5v1.5h-1.5zM475.9 52.8h1.5v1.5h-1.5zM478.3 52.5h1.5v1.5h-1.5zM425.3 53.4h1.5v1.5h-1.5zM427.9 54.0h1.5v1.5h-1.5zM428.3 54.3h1.5v1.5h-1.5zM429.6 53.2h1.5v1.5h-1.5zM434.4 53.3h1.5v1.5h-1.5zM435.2 53.4h1.5v1.5h-1.5zM437.2 53.3h1.5v1.5h-1.5zM437.6 53.8h1.5v1.5h-1.5zM439.1 53.7h1.5v1.5h-1.5zM445.9 53.4h1.5v1.5h-1.5zM447.3 53.5h1.5v1.5h-1.5zM447.6 53.5h1.5v1.5h-1.5zM448.9 54.3h1.5v1.5h-1.5zM449.6 53.7h1.5v1.5h-1.5zM450.3 53.6h1.5v1.5h-1.5zM451.3 53.8h1.5v1.5h-1.5zM453.0 54.2h1.5v1.5h-1.5zM456.0 53.2h1.5v1.5h-1.5zM456.4 53.6h1.5v1.5h-1.5zM459.3 53.4h1.5v1.5h-1.5zM459.6 54.2h1.5v1.5h-1.5zM462.0 53.3h1.5v1.5h-1.5zM463.7 54.3h1.5v1.5h-1.5zM468.7 53.4h1.5v1.5h-1.5zM470.3 54.1h1.5v1.5h-1.5zM473.4 54.0h1.5v1.5h-1.5zM476.0 53.7h1.5v1.5h-1.5zM477.2 53.7h1.5v1.5h-1.5zM424.4 55.3h1.5v1.5h-1.5zM426.0 55.2h1.5v1.5h-1.5zM426.5 54.2h1.5v1.5h-1.5zM427.5 54.6h1.5v1.5h-1.5zM428.6 54.8h1.5v1.5h-1.5zM429.7 55.2h1.5v1.5h-1.5zM430.7 55.2h1.5v1.5h-1.5zM432.2 54.6h1.5v1.5h-1.5zM434.4 55.3h1.5v1.5h-1.5zM436.2 54.9h1.5v1.5h-1.5zM438.2 54.4h1.5v1.5h-1.5zM438.3 54.8h1.5v1.5h-1.5zM441.3 55.1h1.5v1.5h-1.5zM441.7 54.4h1.5v1.5h-1.5zM442.8 54.9h1.5v1.5h-1.5zM443.3 54.6h1.5v1.5h-1.5zM444.9 55.0h1.5v1.5h-1.5zM446.5 55.3h1.5v1.5h-1.5zM450.5 54.9h1.5v1.5h-1.5zM455.6 54.7h1.5v1.5h-1.5zM466.2 55.1h1.5v1.5h-1.5zM467.4 54.6h1.5v1.5h-1.5zM474.0 54.6h1.5v1.5h-1.5zM476.9 55.0h1.5v1.5h-1.5zM477.6 54.2h1.5v1.5h-1.5zM423.3 55.2h1.5v1.5h-1.5zM424.2 55.3h1.5v1.5h-1.5zM425.3 55.6h1.5v1.5h-1.5zM426.2 56.3h1.5v1.5h-1.5zM428.3 55.9h1.5v1.5h-1.5zM429.1 55.6h1.5v1.5h-1.5zM431.4 55.4h1.5v1.5h-1.5zM433.1 56.0h1.5v1.5h-1.5zM436.3 55.3h1.5v1.5h-1.5zM436.3 55.3h1.5v1.5h-1.5zM438.3 55.8h1.5v1.5h-1.5zM439.5 55.7h1.5v1.5h-1.5zM441.2 56.1h1.5v1.5h-1.5zM442.2 55.8h1.5v1.5h-1.5zM445.8 55.5h1.5v1.5h-1.5zM449.4 55.2h1.5v1.5h-1.5zM451.2 55.6h1.5v1.5h-1.5zM452.6 55.4h1.5v1.5h-1.5zM453.8 55.4h1.5v1.5h-1.5zM455.2 55.9h1.5v1.5h-1.5zM456.0 55.3h1.5v1.5h-1.5zM460.7 56.1h1.5v1.5h-1.5zM462.5 56.3h1.5v1.5h-1.5zM463.7 56.1h1.5v1.5h-1.5zM470.2 55.2h1.5v1.5h-1.5zM471.8 55.7h1.5v1.5h-1.5zM477.7 56.0h1.5v1.5h-1.5zM421.2 57.3h1.5v1.5h-1.5zM423.7 56.2h1.5v1.5h-1.5zM424.5 56.4h1.5v1.5h-1.5zM425.9 56.3h1.5v1.5h-1.5zM428.2 56.3h1.5v1.5h-1.5zM429.0 56.6h1.5v1.5h-1.5zM429.9 56.8h1.5v1.5h-1.5zM430.6 56.8h1.5v1.5h-1.5zM431.2 56.2h1.5v1.5h-1.5zM436.3 56.3h1.5v1.5h-1.5zM436.4 57.0h1.5v1.5h-1.5zM437.3 57.0h1.5v1.5h-1.5zM441.1 57.0h1.5v1.5h-1.5zM442.2 56.2h1.5v1.5h-1.5zM443.3 56.8h1.5v1.5h-1.5zM443.8 56.2h1.5v1.5h-1.5zM445.3 57.0h1.5v1.5h-1.5zM448.1 57.2h1.5v1.5h-1.5zM451.3 57.0h1.5v1.5h-1.5zM451.5 56.6h1.5v1.5h-1.5zM452.8 56.9h1.5v1.5h-1.5zM458.3 56.3h1.5v1.5h-1.5zM458.6 56.8h1.5v1.5h-1.5zM459.8 56.7h1.5v1.5h-1.5zM462.2 56.7h1.5v1.5h-1.5zM419.5 57.3h1.5v1.5h-1.5zM420.2 57.4h1.5v1.5h-1.5zM421.9 58.1h1.5v1.5h-1.5zM423.1 58.0h1.5v1.5h-1.5zM423.2 58.3h1.5v1.5h-1.5zM424.5 57.2h1.5v1.5h-1.5zM426.9 58.2h1.5v1.5h-1.5zM428.2 57.3h1.5v1.5h-1.5zM431.2 57.8h1.5v1.5h-1.5zM434.2 57.2h1.5v1.5h-1.5zM435.1 57.8h1.5v1.5h-1.5zM435.4 58.1h1.5v1.5h-1.5zM436.2 57.3h1.5v1.5h-1.5zM438.2 58.2h1.5v1.5h-1.5zM443.0 57.8h1.5v1.5h-1.5zM443.4 58.3h1.5v1.5h-1.5zM445.0 57.5h1.5v1.5h-1.5zM445.8 57.9h1.5v1.5h-1.5zM447.7 58.0h1.5v1.5h-1.5zM450.8 58.1h1.5v1.5h-1.5zM454.8 57.6h1.5v1.5h-1.5zM456.3 57.3h1.5v1.5h-1.5zM458.8 57.5h1.5v1.5h-1.5zM463.0 57.3h1.5v1.5h-1.5zM464.4 57.6h1.5v1.5h-1.5zM467.3 57.6h1.5v1.5h-1.5zM473.1 57.5h1.5v1.5h-1.5zM423.5 58.2h1.5v1.5h-1.5zM426.3 58.8h1.5v1.5h-1.5zM429.2 59.1h1.5v1.5h-1.5zM435.3 58.6h1.5v1.5h-1.5zM438.3 58.4h1.5v1.5h-1.5zM441.2 58.9h1.5v1.5h-1.5zM441.2 58.6h1.5v1.5h-1.5zM442.8 58.9h1.5v1.5h-1.5zM444.2 59.3h1.5v1.5h-1.5zM446.1 59.2h1.5v1.5h-1.5zM446.2 58.9h1.5v1.5h-1.5zM447.3 58.9h1.5v1.5h-1.5zM448.6 59.0h1.5v1.5h-1.5zM451.8 58.5h1.5v1.5h-1.5zM454.2 59.0h1.5v1.5h-1.5zM455.2 58.8h1.5v1.5h-1.5zM458.3 58.2h1.5v1.5h-1.5zM464.1 59.3h1.5v1.5h-1.5zM464.3 59.3h1.5v1.5h-1.5zM418.2 59.6h1.5v1.5h-1.5zM419.4 60.0h1.5v1.5h-1.5zM420.4 60.2h1.5v1.5h-1.5zM423.9 59.2h1.5v1.5h-1.5zM424.7 59.4h1.5v1.5h-1.5zM427.2 59.7h1.5v1.5h-1.5zM428.4 60.3h1.5v1.5h-1.5zM429.2 59.9h1.5v1.5h-1.5zM435.1 59.3h1.5v1.5h-1.5zM436.1 59.2h1.5v1.5h-1.5zM437.3 59.3h1.5v1.5h-1.5zM437.4 59.6h1.5v1.5h-1.5zM439.3 60.2h1.5v1.5h-1.5zM441.4 59.7h1.5v1.5h-1.5zM443.7 60.3h1.5v1.5h-1.5zM445.1 60.1h1.5v1.5h-1.5zM449.1 60.2h1.5v1.5h-1.5zM449.9 60.0h1.5v1.5h-1.5zM452.3 59.6h1.5v1.5h-1.5zM454.0 60.3h1.5v1.5h-1.5zM455.5 59.5h1.5v1.5h-1.5zM458.7 60.0h1.5v1.5h-1.5zM465.4 59.9h1.5v1.5h-1.5zM467.2 59.3h1.5v1.5h-1.5zM421.0 60.2h1.5v1.5h-1.5zM422.6 60.5h1.5v1.5h-1.5zM423.6 60.8h1.5v1.5h-1.5zM424.3 60.5h1.5v1.5h-1.5zM426.2 60.8h1.5v1.5h-1.5zM432.0 61.2h1.5v1.5h-1.5zM436.7 61.0h1.5v1.5h-1.5zM441.3 60.2h1.5v1.5h-1.5zM443.6 60.2h1.5v1.5h-1.5zM448.1 60.9h1.5v1.5h-1.5zM450.3 61.0h1.5v1.5h-1.5zM452.3 60.6h1.5v1.5h-1.5zM452.4 61.0h1.5v1.5h-1.5zM453.3 61.2h1.5v1.5h-1.5zM458.2 60.2h1.5v1.5h-1.5zM465.7 60.8h1.5v1.5h-1.5zM418.1 62.3h1.5v1.5h-1.5zM420.1 62.3h1.5v1.5h-1.5zM422.5 61.9h1.5v1.5h-1.5zM430.7 62.3h1.5v1.5h-1.5zM431.6 62.3h1.5v1.5h-1.5zM433.4 61.5h1.5v1.5h-1.5zM434.9 61.3h1.5v1.5h-1.5zM437.4 61.6h1.5v1.5h-1.5zM438.9 62.3h1.5v1.5h-1.5zM439.8 61.8h1.5v1.5h-1.5zM442.3 61.6h1.5v1.5h-1.5zM443.3 62.0h1.5v1.5h-1.5zM445.4 62.1h1.5v1.5h-1.5zM447.2 61.5h1.5v1.5h-1.5zM450.1 62.3h1.5v1.5h-1.5zM450.2 62.0h1.5v1.5h-1.5zM452.2 62.2h1.5v1.5h-1.5zM422.3 63.3h1.5v1.5h-1.5zM424.3 62.2h1.5v1.5h-1.5zM428.2 62.6h1.5v1.5h-1.5zM429.0 63.3h1.5v1.5h-1.5zM430.2 62.2h1.5v1.5h-1.5zM433.2 62.6h1.5v1.5h-1.5zM434.5 62.2h1.5v1.5h-1.5zM436.3 62.3h1.5v1.5h-1.5zM438.2 62.3h1.5v1.5h-1.5zM448.2 62.2h1.5v1.5h-1.5zM450.2 62.2h1.5v1.5h-1.5zM457.2 62.8h1.5v1.5h-1.5zM459.9 63.3h1.5v1.5h-1.5zM460.5 62.8h1.5v1.5h-1.5zM417.3 63.9h1.5v1.5h-1.5zM419.7 64.1h1.5v1.5h-1.5zM424.6 64.2h1.5v1.5h-1.5zM425.2 63.2h1.5v1.5h-1.5zM427.4 63.9h1.5v1.5h-1.5zM429.5 63.5h1.5v1.5h-1.5zM435.3 63.7h1.5v1.5h-1.5zM439.6 63.8h1.5v1.5h-1.5zM444.2 63.4h1.5v1.5h-1.5zM446.3 63.8h1.5v1.5h-1.5zM456.5 63.3h1.5v1.5h-1.5zM459.9 64.0h1.5v1.5h-1.5zM416.3 64.9h1.5v1.5h-1.5zM419.6 64.5h1.5v1.5h-1.5zM422.2 64.5h1.5v1.5h-1.5zM426.4 64.4h1.5v1.5h-1.5zM432.8 64.8h1.5v1.5h-1.5zM434.3 64.4h1.5v1.5h-1.5zM435.1 64.4h1.5v1.5h-1.5zM436.4 65.2h1.5v1.5h-1.5zM441.8 65.3h1.5v1.5h-1.5zM443.8 64.3h1.5v1.5h-1.5zM444.9 64.9h1.5v1.5h-1.5zM450.5 64.7h1.5v1.5h-1.5zM456.6 65.0h1.5v1.5h-1.5zM460.6 64.6h1.5v1.5h-1.5zM418.3 65.5h1.5v1.5h-1.5zM420.3 65.7h1.5v1.5h-1.5zM423.2 65.9h1.5v1.5h-1.5zM429.4 65.2h1.5v1.5h-1.5zM431.2 65.9h1.5v1.5h-1.5zM432.9 65.9h1.5v1.5h-1.5zM434.7 66.2h1.5v1.5h-1.5zM437.4 65.2h1.5v1.5h-1.5zM438.5 65.8h1.5v1.5h-1.5zM441.0 65.5h1.5v1.5h-1.5zM441.3 65.5h1.5v1.5h-1.5zM445.5 65.9h1.5v1.5h-1.5zM446.6 65.2h1.5v1.5h-1.5zM448.7 65.3h1.5v1.5h-1.5zM451.3 65.5h1.5v1.5h-1.5zM451.6 65.7h1.5v1.5h-1.5zM452.5 65.2h1.5v1.5h-1.5zM456.7 65.2h1.5v1.5h-1.5zM459.2 65.6h1.5v1.5h-1.5zM416.8 67.2h1.5v1.5h-1.5zM417.5 67.0h1.5v1.5h-1.5zM419.2 66.8h1.5v1.5h-1.5zM420.2 66.3h1.5v1.5h-1.5zM423.7 67.2h1.5v1.5h-1.5zM425.8 66.4h1.5v1.5h-1.5zM426.3 67.0h1.5v1.5h-1.5zM430.4 66.7h1.5v1.5h-1.5zM438.2 66.8h1.5v1.5h-1.5zM441.6 66.9h1.5v1.5h-1.5zM444.9 67.3h1.5v1.5h-1.5zM448.2 67.0h1.5v1.5h-1.5zM450.4 67.1h1.5v1.5h-1.5zM454.3 67.3h1.5v1.5h-1.5zM457.4 66.4h1.5v1.5h-1.5zM458.8 67.1h1.5v1.5h-1.5zM418.1 67.3h1.5v1.5h-1.5zM421.3 68.1h1.5v1.5h-1.5zM421.2 67.7h1.5v1.5h-1.5zM425.2 67.4h1.5v1.5h-1.5zM427.2 68.2h1.5v1.5h-1.5zM429.0 67.2h1.5v1.5h-1.5zM429.9 67.3h1.5v1.5h-1.5zM430.5 67.2h1.5v1.5h-1.5zM437.3 67.5h1.5v1.5h-1.5zM438.6 68.2h1.5v1.5h-1.5zM444.3 67.8h1.5v1.5h-1.5zM445.3 67.5h1.5v1.5h-1.5zM449.2 67.4h1.5v1.5h-1.5zM454.1 67.7h1.5v1.5h-1.5zM418.3 68.8h1.5v1.5h-1.5zM429.8 68.4h1.5v1.5h-1.5zM432.0 68.6h1.5v1.5h-1.5zM434.0 69.1h1.5v1.5h-1.5zM436.2 69.1h1.5v1.5h-1.5zM436.4 68.5h1.5v1.5h-1.5zM439.6 68.2h1.5v1.5h-1.5zM442.5 68.3h1.5v1.5h-1.5zM447.4 68.5h1.5v1.5h-1.5zM449.2 69.2h1.5v1.5h-1.5zM452.1 69.3h1.5v1.5h-1.5zM456.7 68.4h1.5v1.5h-1.5zM419.2 70.2h1.5v1.5h-1.5zM420.8 70.0h1.5v1.5h-1.5zM422.2 69.5h1.5v1.5h-1.5zM429.6 69.8h1.5v1.5h-1.5zM432.5 69.6h1.5v1.5h-1.5zM438.1 69.8h1.5v1.5h-1.5zM438.6 70.0h1.5v1.5h-1.5zM440.6 70.1h1.5v1.5h-1.5zM442.8 70.2h1.5v1.5h-1.5zM446.6 70.2h1.5v1.5h-1.5zM454.3 69.6h1.5v1.5h-1.5zM425.2 70.3h1.5v1.5h-1.5zM429.9 71.2h1.5v1.5h-1.5zM432.0 70.3h1.5v1.5h-1.5zM435.6 70.5h1.5v1.5h-1.5zM447.0 70.3h1.5v1.5h-1.5zM448.6 70.2h1.5v1.5h-1.5zM453.3 70.9h1.5v1.5h-1.5zM453.9 71.1h1.5v1.5h-1.5zM423.8 71.8h1.5v1.5h-1.5zM426.2 71.4h1.5v1.5h-1.5zM427.8 71.7h1.5v1.5h-1.5zM428.7 71.6h1.5v1.5h-1.5zM429.3 71.4h1.5v1.5h-1.5zM431.3 71.7h1.5v1.5h-1.5zM431.5 71.3h1.5v1.5h-1.5zM434.9 71.2h1.5v1.5h-1.5zM437.7 72.2h1.5v1.5h-1.5zM439.6 71.6h1.5v1.5h-1.5zM441.5 71.6h1.5v1.5h-1.5zM443.9 71.6h1.5v1.5h-1.5zM447.2 72.3h1.5v1.5h-1.5zM450.4 71.4h1.5v1.5h-1.5zM453.0 71.9h1.5v1.5h-1.5zM418.2 73.1h1.5v1.5h-1.5zM419.2 72.9h1.5v1.5h-1.5zM421.2 72.3h1.5v1.5h-1.5zM422.2 73.0h1.5v1.5h-1.5zM431.1 73.2h1.5v1.5h-1.5zM434.2 72.3h1.5v1.5h-1.5zM435.7 72.6h1.5v1.5h-1.5zM442.8 73.0h1.5v1.5h-1.5zM446.5 73.2h1.5v1.5h-1.5zM448.8 72.3h1.5v1.5h-1.5zM417.2 73.5h1.5v1.5h-1.5zM418.4 73.9h1.5v1.5h-1.5zM421.1 74.3h1.5v1.5h-1.5zM430.3 73.6h1.5v1.5h-1.5zM432.0 73.2h1.5v1.5h-1.5zM432.4 74.2h1.5v1.5h-1.5zM435.5 73.8h1.5v1.5h-1.5zM440.2 73.4h1.5v1.5h-1.5zM442.0 73.4h1.5v1.5h-1.5zM444.1 73.6h1.5v1.5h-1.5zM447.0 74.1h1.5v1.5h-1.5zM447.8 74.0h1.5v1.5h-1.5zM448.2 73.5h1.5v1.5h-1.5zM451.8 74.1h1.5v1.5h-1.5zM452.2 74.1h1.5v1.5h-1.5zM453.8 73.7h1.5v1.5h-1.5zM417.9 74.9h1.5v1.5h-1.5zM425.6 74.8h1.5v1.5h-1.5zM438.5 74.4h1.5v1.5h-1.5zM446.3 74.7h1.5v1.5h-1.5zM449.2 75.0h1.5v1.5h-1.5zM418.7 76.3h1.5v1.5h-1.5zM425.8 75.4h1.5v1.5h-1.5zM426.2 75.7h1.5v1.5h-1.5zM431.8 75.5h1.5v1.5h-1.5zM432.4 76.2h1.5v1.5h-1.5zM437.9 75.8h1.5v1.5h-1.5zM438.8 75.3h1.5v1.5h-1.5zM441.8 76.0h1.5v1.5h-1.5zM445.8 76.0h1.5v1.5h-1.5zM446.3 75.2h1.5v1.5h-1.5zM454.1 76.3h1.5v1.5h-1.5zM417.4 76.9h1.5v1.5h-1.5zM421.1 77.3h1.5v1.5h-1.5zM422.3 77.1h1.5v1.5h-1.5zM429.8 76.7h1.5v1.5h-1.5zM431.4 76.6h1.5v1.5h-1.5zM445.6 76.3h1.5v1.5h-1.5zM451.3 76.5h1.5v1.5h-1.5zM454.0 76.3h1.5v1.5h-1.5zM421.8 77.4h1.5v1.5h-1.5zM426.2 78.3h1.5v1.5h-1.5zM434.2 78.0h1.5v1.5h-1.5zM444.1 78.3h1.5v1.5h-1.5zM446.2 77.9h1.5v1.5h-1.5zM451.2 77.3h1.5v1.5h-1.5zM422.9 78.7h1.5v1.5h-1.5zM426.3 78.4h1.5v1.5h-1.5zM428.9 79.1h1.5v1.5h-1.5zM430.3 79.3h1.5v1.5h-1.5zM432.7 78.4h1.5v1.5h-1.5zM435.8 78.9h1.5v1.5h-1.5zM437.3 78.5h1.5v1.5h-1.5zM454.1 78.2h1.5v1.5h-1.5zM455.2 78.3h1.5v1.5h-1.5zM425.9 79.9h1.5v1.5h-1.5zM439.2 80.0h1.5v1.5h-1.5zM440.5 79.8h1.5v1.5h-1.5zM443.2 80.1h1.5v1.5h-1.5zM454.9 80.2h1.5v1.5h-1.5zM421.5 80.8h1.5v1.5h-1.5zM430.9 80.2h1.5v1.5h-1.5zM432.5 81.0h1.5v1.5h-1.5zM433.7 81.0h1.5v1.5h-1.5zM436.1 81.0h1.5v1.5h-1.5zM440.2 81.3h1.5v1.5h-1.5zM440.7 80.5h1.5v1.5h-1.5zM442.2 80.6h1.5v1.5h-1.5zM444.6 80.5h1.5v1.5h-1.5zM446.6 80.9h1.5v1.5h-1.5zM448.4 80.4h1.5v1.5h-1.5zM452.1 80.9h1.5v1.5h-1.5zM419.8 81.7h1.5v1.5h-1.5zM420.6 81.6h1.5v1.5h-1.5zM422.0 81.7h1.5v1.5h-1.5zM422.9 81.8h1.5v1.5h-1.5zM424.4 81.5h1.5v1.5h-1.5zM426.8 81.2h1.5v1.5h-1.5zM428.2 81.2h1.5v1.5h-1.5zM429.8 81.9h1.5v1.5h-1.5zM433.2 82.1h1.5v1.5h-1.5zM433.2 82.3h1.5v1.5h-1.5zM447.0 81.7h1.5v1.5h-1.5zM448.5 81.8h1.5v1.5h-1.5zM451.6 81.5h1.5v1.5h-1.5zM454.1 81.4h1.5v1.5h-1.5zM454.3 81.2h1.5v1.5h-1.5zM424.6 82.2h1.5v1.5h-1.5zM425.2 82.9h1.5v1.5h-1.5zM427.3 83.3h1.5v1.5h-1.5zM435.8 82.2h1.5v1.5h-1.5zM439.5 82.9h1.5v1.5h-1.5zM445.5 82.6h1.5v1.5h-1.5zM446.4 82.5h1.5v1.5h-1.5zM456.4 82.3h1.5v1.5h-1.5zM457.4 82.8h1.5v1.5h-1.5zM459.2 83.2h1.5v1.5h-1.5zM429.6 84.0h1.5v1.5h-1.5zM431.9 83.4h1.5v1.5h-1.5zM436.2 84.1h1.5v1.5h-1.5zM438.4 83.4h1.5v1.5h-1.5zM443.0 83.3h1.5v1.5h-1.5zM444.2 84.3h1.5v1.5h-1.5zM447.5 84.2h1.5v1.5h-1.5zM450.5 83.4h1.5v1.5h-1.5zM453.2 83.5h1.5v1.5h-1.5zM456.3 84.3h1.5v1.5h-1.5zM422.1 84.2h1.5v1.5h-1.5zM427.2 84.6h1.5v1.5h-1.5zM428.6 84.6h1.5v1.5h-1.5zM429.8 84.5h1.5v1.5h-1.5zM433.1 84.3h1.5v1.5h-1.5zM445.9 84.3h1.5v1.5h-1.5zM449.5 85.2h1.5v1.5h-1.5zM453.0 84.6h1.5v1.5h-1.5zM458.2 84.6h1.5v1.5h-1.5zM424.8 86.2h1.5v1.5h-1.5zM426.3 85.7h1.5v1.5h-1.5zM427.3 85.7h1.5v1.5h-1.5zM437.8 85.5h1.5v1.5h-1.5zM440.3 85.5h1.5v1.5h-1.5zM441.4 85.6h1.5v1.5h-1.5zM448.4 85.8h1.5v1.5h-1.5zM450.2 86.0h1.5v1.5h-1.5zM452.1 85.7h1.5v1.5h-1.5zM454.1 86.2h1.5v1.5h-1.5zM457.3 85.2h1.5v1.5h-1.5zM459.3 86.1h1.5v1.5h-1.5zM425.2 86.8h1.5v1.5h-1.5zM432.3 87.2h1.5v1.5h-1.5zM432.7 87.3h1.5v1.5h-1.5zM436.5 87.3h1.5v1.5h-1.5zM438.2 87.1h1.5v1.5h-1.5zM442.4 86.8h1.5v1.5h-1.5zM445.4 87.3h1.5v1.5h-1.5zM450.1 87.3h1.5v1.5h-1.5zM451.2 86.8h1.5v1.5h-1.5zM453.7 86.6h1.5v1.5h-1.5zM454.6 87.1h1.5v1.5h-1.5zM458.2 86.4h1.5v1.5h-1.5zM426.5 87.3h1.5v1.5h-1.5zM431.6 87.6h1.5v1.5h-1.5zM433.6 87.6h1.5v1.5h-1.5zM434.2 87.2h1.5v1.5h-1.5zM437.7 87.6h1.5v1.5h-1.5zM444.7 88.2h1.5v1.5h-1.5zM454.6 88.2h1.5v1.5h-1.5zM463.9 87.2h1.5v1.5h-1.5zM465.3 87.2h1.5v1.5h-1.5zM465.3 87.5h1.5v1.5h-1.5zM426.3 88.9h1.5v1.5h-1.5zM428.3 88.8h1.5v1.5h-1.5zM429.2 89.2h1.5v1.5h-1.5zM433.9 88.9h1.5v1.5h-1.5zM436.4 88.5h1.5v1.5h-1.5zM439.4 88.6h1.5v1.5h-1.5zM440.9 88.9h1.5v1.5h-1.5zM445.1 88.9h1.5v1.5h-1.5zM447.0 88.7h1.5v1.5h-1.5zM447.8 88.6h1.5v1.5h-1.5zM455.2 89.2h1.5v1.5h-1.5zM456.0 89.0h1.5v1.5h-1.5zM459.1 88.2h1.5v1.5h-1.5zM460.2 88.8h1.5v1.5h-1.5zM466.2 88.4h1.5v1.5h-1.5zM427.2 89.9h1.5v1.5h-1.5zM428.8 90.0h1.5v1.5h-1.5zM429.8 89.9h1.5v1.5h-1.5zM432.1 89.4h1.5v1.5h-1.5zM440.2 89.9h1.5v1.5h-1.5zM443.1 90.1h1.5v1.5h-1.5zM447.9 89.2h1.5v1.5h-1.5zM449.2 89.5h1.5v1.5h-1.5zM453.9 89.8h1.5v1.5h-1.5zM454.4 90.3h1.5v1.5h-1.5zM456.9 89.3h1.5v1.5h-1.5zM459.0 89.3h1.5v1.5h-1.5zM462.2 89.7h1.5v1.5h-1.5zM467.2 89.3h1.5v1.5h-1.5zM427.5 90.5h1.5v1.5h-1.5zM429.0 91.1h1.5v1.5h-1.5zM430.9 90.7h1.5v1.5h-1.5zM461.7 91.1h1.5v1.5h-1.5zM462.9 90.5h1.5v1.5h-1.5zM429.3 91.8h1.5v1.5h-1.5zM439.2 91.9h1.5v1.5h-1.5zM441.2 92.3h1.5v1.5h-1.5zM443.4 91.3h1.5v1.5h-1.5zM445.0 91.8h1.5v1.5h-1.5zM446.3 91.6h1.5v1.5h-1.5zM452.3 91.6h1.5v1.5h-1.5zM453.3 91.6h1.5v1.5h-1.5zM455.2 91.5h1.5v1.5h-1.5zM459.1 92.3h1.5v1.5h-1.5zM461.1 91.9h1.5v1.5h-1.5zM462.5 91.9h1.5v1.5h-1.5zM434.0 92.3h1.5v1.5h-1.5zM435.1 93.3h1.5v1.5h-1.5zM439.0 93.3h1.5v1.5h-1.5zM455.9 92.7h1.5v1.5h-1.5zM458.3 92.7h1.5v1.5h-1.5zM436.0 93.3h1.5v1.5h-1.5zM437.3 93.4h1.5v1.5h-1.5zM443.3 93.9h1.5v1.5h-1.5zM445.7 93.5h1.5v1.5h-1.5zM454.0 94.2h1.5v1.5h-1.5zM461.0 93.2h1.5v1.5h-1.5zM434.5 95.2h1.5v1.5h-1.5zM437.8 94.6h1.5v1.5h-1.5zM457.7 95.1h1.5v1.5h-1.5zM459.3 94.8h1.5v1.5h-1.5zM462.7 94.9h1.5v1.5h-1.5zM464.4 95.2h1.5v1.5h-1.5zM447.1 96.2h1.5v1.5h-1.5zM453.6 95.2h1.5v1.5h-1.5zM455.1 95.9h1.5v1.5h-1.5zM450.0 97.1h1.5v1.5h-1.5zM451.2 96.4h1.5v1.5h-1.5zM453.2 96.8h1.5v1.5h-1.5zM455.9 96.8h1.5v1.5h-1.5zM460.3 96.8h1.5v1.5h-1.5zM441.9 98.1h1.5v1.5h-1.5zM443.2 97.9h1.5v1.5h-1.5zM444.2 97.8h1.5v1.5h-1.5zM449.4 97.5h1.5v1.5h-1.5zM456.1 98.3h1.5v1.5h-1.5zM458.4 97.5h1.5v1.5h-1.5zM460.0 98.2h1.5v1.5h-1.5zM447.2 98.2h1.5v1.5h-1.5zM451.2 98.2h1.5v1.5h-1.5zM455.8 99.3h1.5v1.5h-1.5zM449.5 99.7h1.5v1.5h-1.5zM454.5 99.6h1.5v1.5h-1.5zM459.3 101.3h1.5v1.5h-1.5zM459.7 101.2h1.5v1.5h-1.5zM461.1 100.7h1.5v1.5h-1.5z" fill="#808080"/><path d="M467.2 37.1h1.5v1.5h-1.5zM460.2 38.3h1.5v1.5h-1.5zM463.0 37.9h1.5v1.5h-1.5zM470.4 37.2h1.5v1.5h-1.5zM455.0 40.1h1.5v1.5h-1.5zM461.4 39.7h1.5v1.5h-1.5zM471.9 39.5h1.5v1.5h-1.5zM446.5 40.7h1.5v1.5h-1.5zM451.5 41.1h1.5v1.5h-1.5zM461.6 41.1h1.5v1.5h-1.5zM467.2 40.7h1.5v1.5h-1.5zM470.5 40.7h1.5v1.5h-1.5zM441.0 41.2h1.5v1.5h-1.5zM448.0 41.8h1.5v1.5h-1.5zM465.4 41.6h1.5v1.5h-1.5zM469.3 41.9h1.5v1.5h-1.5zM439.3 43.3h1.5v1.5h-1.5zM446.3 43.3h1.5v1.5h-1.5zM462.6 42.5h1.5v1.5h-1.5zM481.8 42.3h1.5v1.5h-1.5zM435.5 43.7h1.5v1.5h-1.5zM462.2 43.7h1.5v1.5h-1.5zM464.1 44.1h1.5v1.5h-1.5zM472.3 44.2h1.5v1.5h-1.5zM433.4 44.2h1.5v1.5h-1.5zM451.3 45.0h1.5v1.5h-1.5zM468.3 44.2h1.5v1.5h-1.5zM475.7 44.6h1.5v1.5h-1.5zM479.0 44.4h1.5v1.5h-1.5zM437.9 46.3h1.5v1.5h-1.5zM438.8 45.9h1.5v1.5h-1.5zM452.1 45.8h1.5v1.5h-1.5zM478.3 45.6h1.5v1.5h-1.5zM443.2 46.5h1.5v1.5h-1.5zM447.7 47.2h1.5v1.5h-1.5zM458.0 46.6h1.5v1.5h-1.5zM460.3 47.0h1.5v1.5h-1.5zM463.3 46.8h1.5v1.5h-1.5zM472.6 47.2h1.5v1.5h-1.5zM444.1 47.9h1.5v1.5h-1.5zM456.5 48.0h1.5v1.5h-1.5zM458.7 47.5h1.5v1.5h-1.5zM466.4 47.4h1.5v1.5h-1.5zM442.9 49.1h1.5v1.5h-1.5zM455.9 48.9h1.5v1.5h-1.5zM432.9 49.7h1.5v1.5h-1.5zM435.0 49.7h1.5v1.5h-1.5zM474.8 49.3h1.5v1.5h-1.5zM477.9 49.6h1.5v1.5h-1.5zM435.2 50.2h1.5v1.5h-1.5zM453.0 50.7h1.5v1.5h-1.5zM463.6 50.3h1.5v1.5h-1.5zM472.3 50.3h1.5v1.5h-1.5zM473.2 50.2h1.5v1.5h-1.5zM439.3 51.9h1.5v1.5h-1.5zM450.2 51.5h1.5v1.5h-1.5zM452.9 51.3h1.5v1.5h-1.5zM454.7 52.1h1.5v1.5h-1.5zM424.2 53.1h1.5v1.5h-1.5zM457.9 52.4h1.5v1.5h-1.5zM459.2 53.2h1.5v1.5h-1.5zM465.4 53.0h1.5v1.5h-1.5zM426.3 54.3h1.5v1.5h-1.5zM437.2 53.7h1.5v1.5h-1.5zM448.0 53.5h1.5v1.5h-1.5zM451.1 53.9h1.5v1.5h-1.5zM455.3 53.9h1.5v1.5h-1.5zM459.3 54.0h1.5v1.5h-1.5zM423.8 54.2h1.5v1.5h-1.5zM438.2 54.4h1.5v1.5h-1.5zM441.3 54.5h1.5v1.5h-1.5zM453.0 54.2h1.5v1.5h-1.5zM460.6 54.4h1.5v1.5h-1.5zM463.0 55.2h1.5v1.5h-1.5zM472.4 54.3h1.5v1.5h-1.5zM423.2 55.5h1.5v1.5h-1.5zM460.7 55.6h1.5v1.5h-1.5zM463.3 56.1h1.5v1.5h-1.5zM464.5 56.2h1.5v1.5h-1.5zM468.4 55.9h1.5v1.5h-1.5zM477.7 55.2h1.5v1.5h-1.5zM440.5 56.3h1.5v1.5h-1.5zM447.1 56.4h1.5v1.5h-1.5zM449.3 56.5h1.5v1.5h-1.5zM453.5 56.3h1.5v1.5h-1.5zM455.6 56.8h1.5v1.5h-1.5zM473.6 56.2h1.5v1.5h-1.5zM420.9 57.2h1.5v1.5h-1.5zM426.2 57.2h1.5v1.5h-1.5zM451.0 57.5h1.5v1.5h-1.5zM423.7 58.7h1.5v1.5h-1.5zM425.2 58.6h1.5v1.5h-1.5zM434.2 58.2h1.5v1.5h-1.5zM447.2 58.2h1.5v1.5h-1.5zM454.6 58.8h1.5v1.5h-1.5zM458.8 58.6h1.5v1.5h-1.5zM423.0 59.3h1.5v1.5h-1.5zM425.9 60.0h1.5v1.5h-1.5zM438.3 59.3h1.5v1.5h-1.5zM442.4 59.3h1.5v1.5h-1.5zM447.2 59.8h1.5v1.5h-1.5zM430.2 61.0h1.5v1.5h-1.5zM457.7 61.1h1.5v1.5h-1.5zM466.8 60.7h1.5v1.5h-1.5zM447.4 62.3h1.5v1.5h-1.5zM458.2 61.9h1.5v1.5h-1.5zM462.2 61.7h1.5v1.5h-1.5zM424.3 62.2h1.5v1.5h-1.5zM425.2 62.6h1.5v1.5h-1.5zM427.5 62.9h1.5v1.5h-1.5zM447.3 62.4h1.5v1.5h-1.5zM456.3 62.2h1.5v1.5h-1.5zM417.3 63.9h1.5v1.5h-1.5zM419.2 64.2h1.5v1.5h-1.5zM425.2 63.2h1.5v1.5h-1.5zM425.4 63.2h1.5v1.5h-1.5zM441.2 64.3h1.5v1.5h-1.5zM416.5 65.3h1.5v1.5h-1.5zM434.8 65.1h1.5v1.5h-1.5zM441.7 64.7h1.5v1.5h-1.5zM450.3 64.4h1.5v1.5h-1.5zM417.1 66.3h1.5v1.5h-1.5zM417.7 65.7h1.5v1.5h-1.5zM425.1 66.2h1.5v1.5h-1.5zM433.3 65.5h1.5v1.5h-1.5zM442.0 65.7h1.5v1.5h-1.5zM443.4 65.8h1.5v1.5h-1.5zM449.3 65.2h1.5v1.5h-1.5zM417.1 66.2h1.5v1.5h-1.5zM428.0 66.9h1.5v1.5h-1.5zM433.4 66.9h1.5v1.5h-1.5zM439.2 67.0h1.5v1.5h-1.5zM447.9 66.9h1.5v1.5h-1.5zM418.2 67.9h1.5v1.5h-1.5zM421.2 68.3h1.5v1.5h-1.5zM432.8 67.6h1.5v1.5h-1.5zM434.9 67.9h1.5v1.5h-1.5zM426.9 68.7h1.5v1.5h-1.5zM428.3 69.0h1.5v1.5h-1.5zM433.4 68.4h1.5v1.5h-1.5zM437.3 68.7h1.5v1.5h-1.5zM439.4 68.6h1.5v1.5h-1.5zM444.8 68.9h1.5v1.5h-1.5zM448.3 68.3h1.5v1.5h-1.5zM447.3 70.0h1.5v1.5h-1.5zM449.8 70.2h1.5v1.5h-1.5zM453.0 69.9h1.5v1.5h-1.5zM417.2 71.3h1.5v1.5h-1.5zM449.0 71.0h1.5v1.5h-1.5zM437.3 71.9h1.5v1.5h-1.5zM449.9 71.6h1.5v1.5h-1.5zM453.9 71.4h1.5v1.5h-1.5zM423.2 73.0h1.5v1.5h-1.5zM447.6 72.4h1.5v1.5h-1.5zM454.2 73.0h1.5v1.5h-1.5zM428.7 73.8h1.5v1.5h-1.5zM436.3 73.8h1.5v1.5h-1.5zM440.3 73.4h1.5v1.5h-1.5zM443.3 73.9h1.5v1.5h-1.5zM448.2 73.5h1.5v1.5h-1.5zM418.1 74.3h1.5v1.5h-1.5zM434.5 75.0h1.5v1.5h-1.5zM452.2 74.3h1.5v1.5h-1.5zM455.0 75.2h1.5v1.5h-1.5zM432.3 76.1h1.5v1.5h-1.5zM442.2 75.4h1.5v1.5h-1.5zM445.3 75.5h1.5v1.5h-1.5zM450.7 75.8h1.5v1.5h-1.5zM445.5 76.5h1.5v1.5h-1.5zM447.1 76.8h1.5v1.5h-1.5zM453.8 77.0h1.5v1.5h-1.5zM418.6 77.8h1.5v1.5h-1.5zM420.4 77.3h1.5v1.5h-1.5zM422.7 77.5h1.5v1.5h-1.5zM426.0 77.7h1.5v1.5h-1.5zM435.0 77.9h1.5v1.5h-1.5zM443.5 77.6h1.5v1.5h-1.5zM454.3 77.8h1.5v1.5h-1.5zM456.3 79.4h1.5v1.5h-1.5zM422.1 80.9h1.5v1.5h-1.5zM433.6 80.8h1.5v1.5h-1.5zM437.2 80.9h1.5v1.5h-1.5zM419.9 81.6h1.5v1.5h-1.5zM421.4 82.1h1.5v1.5h-1.5zM427.5 81.3h1.5v1.5h-1.5zM429.1 81.3h1.5v1.5h-1.5zM442.3 81.3h1.5v1.5h-1.5zM451.9 82.2h1.5v1.5h-1.5zM428.9 82.7h1.5v1.5h-1.5zM430.6 82.6h1.5v1.5h-1.5zM452.8 82.6h1.5v1.5h-1.5zM457.3 82.9h1.5v1.5h-1.5zM423.7 83.5h1.5v1.5h-1.5zM437.3 83.5h1.5v1.5h-1.5zM448.8 84.3h1.5v1.5h-1.5zM457.3 83.9h1.5v1.5h-1.5zM437.1 84.7h1.5v1.5h-1.5zM437.7 84.4h1.5v1.5h-1.5zM460.8 85.3h1.5v1.5h-1.5zM437.5 85.4h1.5v1.5h-1.5zM443.7 86.2h1.5v1.5h-1.5zM447.3 85.3h1.5v1.5h-1.5zM458.6 85.4h1.5v1.5h-1.5zM461.1 85.4h1.5v1.5h-1.5zM431.5 87.3h1.5v1.5h-1.5zM438.0 86.9h1.5v1.5h-1.5zM438.3 86.8h1.5v1.5h-1.5zM455.6 87.3h1.5v1.5h-1.5zM435.7 88.0h1.5v1.5h-1.5zM465.2 88.3h1.5v1.5h-1.5zM428.9 88.7h1.5v1.5h-1.5zM431.3 88.9h1.5v1.5h-1.5zM458.7 88.7h1.5v1.5h-1.5zM461.3 89.3h1.5v1.5h-1.5zM439.6 89.6h1.5v1.5h-1.5zM443.0 89.8h1.5v1.5h-1.5zM435.7 91.1h1.5v1.5h-1.5zM461.1 90.9h1.5v1.5h-1.5zM466.2 90.7h1.5v1.5h-1.5zM434.3 91.5h1.5v1.5h-1.5zM455.7 91.8h1.5v1.5h-1.5zM456.8 91.9h1.5v1.5h-1.5zM458.3 91.9h1.5v1.5h-1.5zM432.4 92.5h1.5v1.5h-1.5zM456.9 93.3h1.5v1.5h-1.5zM451.5 93.4h1.5v1.5h-1.5zM455.2 93.5h1.5v1.5h-1.5zM438.6 94.4h1.5v1.5h-1.5zM439.2 96.3h1.5v1.5h-1.5zM441.9 95.8h1.5v1.5h-1.5zM450.2 96.3h1.5v1.5h-1.5zM450.6 95.6h1.5v1.5h-1.5zM454.2 95.7h1.5v1.5h-1.5zM443.1 96.4h1.5v1.5h-1.5zM447.0 97.2h1.5v1.5h-1.5zM441.6 97.8h1.5v1.5h-1.5zM456.1 97.9h1.5v1.5h-1.5zM462.4 98.3h1.5v1.5h-1.5z" fill="#ff0000"/><path d="M486.1 45.3h1.3v1.3h-1.3zM512.9 46.0h1.3v1.3h-1.3zM483.6 48.5h1.3v1.3h-1.3zM505.7 48.4h1.3v1.3h-1.3zM480.8 52.5h1.3v1.3h-1.3zM514.7 54.3h1.3v1.3h-1.3zM496.4 57.1h1.3v1.3h-1.3zM496.6 56.6h1.3v1.3h-1.3zM499.0 56.7h1.3v1.3h-1.3zM512.4 58.7h1.3v1.3h-1.3zM526.0 59.4h1.3v1.3h-1.3zM522.7 60.0h1.3v1.3h-1.3zM506.2 61.4h1.3v1.3h-1.3zM529.5 62.3h1.3v1.3h-1.3zM511.0 62.5h1.3v1.3h-1.3zM518.4 64.3h1.3v1.3h-1.3zM513.4 64.8h1.3v1.3h-1.3zM515.0 65.2h1.3v1.3h-1.3zM522.2 64.5h1.3v1.3h-1.3zM523.2 64.8h1.3v1.3h-1.3zM513.7 65.6h1.3v1.3h-1.3zM515.2 65.4h1.3v1.3h-1.3zM516.9 65.4h1.3v1.3h-1.3zM520.1 66.0h1.3v1.3h-1.3zM537.7 66.2h1.3v1.3h-1.3zM510.5 67.3h1.3v1.3h-1.3zM512.2 66.6h1.3v1.3h-1.3zM515.4 67.1h1.3v1.3h-1.3zM508.4 67.6h1.3v1.3h-1.3zM512.5 67.5h1.3v1.3h-1.3zM524.8 67.5h1.3v1.3h-1.3zM529.4 67.6h1.3v1.3h-1.3zM530.4 68.2h1.3v1.3h-1.3zM531.4 68.4h1.3v1.3h-1.3zM508.0 68.6h1.3v1.3h-1.3zM509.0 68.6h1.3v1.3h-1.3zM512.3 68.7h1.3v1.3h-1.3zM516.1 68.6h1.3v1.3h-1.3zM529.3 69.2h1.3v1.3h-1.3zM511.4 69.7h1.3v1.3h-1.3zM514.4 70.1h1.3v1.3h-1.3zM518.0 70.2h1.3v1.3h-1.3zM510.1 70.8h1.3v1.3h-1.3zM520.3 70.6h1.3v1.3h-1.3zM520.8 70.9h1.3v1.3h-1.3zM520.6 71.3h1.3v1.3h-1.3zM523.3 71.6h1.3v1.3h-1.3zM510.5 72.3h1.3v1.3h-1.3zM513.4 73.0h1.3v1.3h-1.3zM519.0 72.5h1.3v1.3h-1.3zM520.7 73.4h1.3v1.3h-1.3zM530.4 73.4h1.3v1.3h-1.3zM538.1 73.3h1.3v1.3h-1.3zM507.3 74.3h1.3v1.3h-1.3zM515.0 74.3h1.3v1.3h-1.3zM516.1 73.3h1.3v1.3h-1.3zM519.4 74.3h1.3v1.3h-1.3zM527.0 74.4h1.3v1.3h-1.3zM528.7 74.2h1.3v1.3h-1.3zM507.4 75.0h1.3v1.3h-1.3zM514.8 74.9h1.3v1.3h-1.3zM516.3 75.1h1.3v1.3h-1.3zM523.3 74.6h1.3v1.3h-1.3zM531.4 75.0h1.3v1.3h-1.3zM506.9 75.9h1.3v1.3h-1.3zM509.4 75.4h1.3v1.3h-1.3zM516.4 76.0h1.3v1.3h-1.3zM510.0 76.8h1.3v1.3h-1.3zM521.8 77.2h1.3v1.3h-1.3zM530.3 76.6h1.3v1.3h-1.3zM532.9 76.9h1.3v1.3h-1.3zM511.3 77.3h1.3v1.3h-1.3zM514.7 78.4h1.3v1.3h-1.3zM516.3 78.4h1.3v1.3h-1.3zM518.5 77.8h1.3v1.3h-1.3zM521.3 78.0h1.3v1.3h-1.3zM523.1 77.8h1.3v1.3h-1.3zM523.8 77.5h1.3v1.3h-1.3zM535.3 77.3h1.3v1.3h-1.3zM508.3 79.1h1.3v1.3h-1.3zM517.4 78.7h1.3v1.3h-1.3zM520.3 78.3h1.3v1.3h-1.3zM523.2 79.2h1.3v1.3h-1.3zM529.4 79.4h1.3v1.3h-1.3zM512.4 80.0h1.3v1.3h-1.3zM518.5 79.6h1.3v1.3h-1.3zM520.6 79.3h1.3v1.3h-1.3zM507.3 80.3h1.3v1.3h-1.3zM509.4 81.2h1.3v1.3h-1.3zM509.4 80.8h1.3v1.3h-1.3zM512.2 80.5h1.3v1.3h-1.3zM522.8 80.9h1.3v1.3h-1.3zM526.0 80.7h1.3v1.3h-1.3zM509.3 82.1h1.3v1.3h-1.3zM511.0 82.1h1.3v1.3h-1.3zM523.0 82.1h1.3v1.3h-1.3zM523.7 82.2h1.3v1.3h-1.3zM506.4 82.9h1.3v1.3h-1.3zM512.4 82.3h1.3v1.3h-1.3zM517.2 82.4h1.3v1.3h-1.3zM517.7 83.3h1.3v1.3h-1.3zM520.7 83.0h1.3v1.3h-1.3zM523.5 83.2h1.3v1.3h-1.3zM524.7 82.6h1.3v1.3h-1.3zM529.0 82.5h1.3v1.3h-1.3zM511.3 83.6h1.3v1.3h-1.3zM521.0 84.0h1.3v1.3h-1.3zM523.6 83.4h1.3v1.3h-1.3zM507.0 85.0h1.3v1.3h-1.3zM510.4 84.6h1.3v1.3h-1.3zM514.3 84.3h1.3v1.3h-1.3zM516.2 84.6h1.3v1.3h-1.3zM517.3 84.3h1.3v1.3h-1.3zM501.9 86.0h1.3v1.3h-1.3zM514.4 85.7h1.3v1.3h-1.3zM515.5 86.4h1.3v1.3h-1.3zM526.4 85.5h1.3v1.3h-1.3zM516.3 87.2h1.3v1.3h-1.3zM522.4 86.8h1.3v1.3h-1.3zM499.4 87.9h1.3v1.3h-1.3zM510.7 87.6h1.3v1.3h-1.3zM515.4 88.4h1.3v1.3h-1.3zM490.4 89.2h1.3v1.3h-1.3zM512.2 88.4h1.3v1.3h-1.3zM514.3 88.3h1.3v1.3h-1.3zM518.4 89.0h1.3v1.3h-1.3zM521.3 88.4h1.3v1.3h-1.3zM488.3 90.1h1.3v1.3h-1.3zM501.9 90.4h1.3v1.3h-1.3zM511.6 89.6h1.3v1.3h-1.3zM479.6 90.8h1.3v1.3h-1.3zM491.8 90.7h1.3v1.3h-1.3zM509.5 91.4h1.3v1.3h-1.3zM520.5 91.2h1.3v1.3h-1.3zM482.0 92.9h1.3v1.3h-1.3zM508.8 93.2h1.3v1.3h-1.3zM494.5 95.6h1.3v1.3h-1.3zM503.3 96.7h1.3v1.3h-1.3zM475.9 97.8h1.3v1.3h-1.3zM470.1 99.3h1.3v1.3h-1.3zM482.2 98.7h1.3v1.3h-1.3zM482.8 99.4h1.3v1.3h-1.3zM504.4 99.4h1.3v1.3h-1.3zM506.1 100.0h1.3v1.3h-1.3zM465.7 100.5h1.3v1.3h-1.3zM496.1 100.4h1.3v1.3h-1.3zM517.3 103.7h1.3v1.3h-1.3zM511.5 104.8h1.3v1.3h-1.3z" fill="#ffffff"/><path d="M510.4 45.1h1.4v1.4h-1.4zM489.4 45.6h1.4v1.4h-1.4zM509.4 45.4h1.4v1.4h-1.4zM514.9 46.5h1.4v1.4h-1.4zM504.3 48.8h1.4v1.4h-1.4zM504.0 51.4h1.4v1.4h-1.4zM486.4 52.3h1.4v1.4h-1.4zM500.0 51.4h1.4v1.4h-1.4zM511.2 53.2h1.4v1.4h-1.4zM500.5 53.6h1.4v1.4h-1.4zM481.3 54.4h1.4v1.4h-1.4zM493.1 54.9h1.4v1.4h-1.4zM519.0 54.9h1.4v1.4h-1.4zM480.3 55.7h1.4v1.4h-1.4zM499.3 55.9h1.4v1.4h-1.4zM526.3 57.0h1.4v1.4h-1.4zM502.9 59.4h1.4v1.4h-1.4zM501.4 60.1h1.4v1.4h-1.4zM529.5 61.6h1.4v1.4h-1.4zM521.2 64.9h1.4v1.4h-1.4zM514.0 66.2h1.4v1.4h-1.4zM525.1 65.3h1.4v1.4h-1.4zM525.9 71.5h1.4v1.4h-1.4zM509.4 72.9h1.4v1.4h-1.4zM540.1 72.6h1.4v1.4h-1.4zM518.2 76.1h1.4v1.4h-1.4zM521.9 75.7h1.4v1.4h-1.4zM537.6 76.2h1.4v1.4h-1.4zM517.6 78.3h1.4v1.4h-1.4zM509.8 78.9h1.4v1.4h-1.4zM533.0 78.2h1.4v1.4h-1.4zM519.6 79.3h1.4v1.4h-1.4zM525.6 79.7h1.4v1.4h-1.4zM527.3 79.8h1.4v1.4h-1.4zM534.3 80.1h1.4v1.4h-1.4zM520.9 81.2h1.4v1.4h-1.4zM532.0 82.4h1.4v1.4h-1.4zM513.2 84.9h1.4v1.4h-1.4zM504.8 86.1h1.4v1.4h-1.4zM498.8 87.3h1.4v1.4h-1.4zM494.3 89.3h1.4v1.4h-1.4zM516.9 88.5h1.4v1.4h-1.4zM494.8 90.1h1.4v1.4h-1.4zM514.7 89.8h1.4v1.4h-1.4zM486.7 90.4h1.4v1.4h-1.4zM496.3 90.6h1.4v1.4h-1.4zM516.2 90.7h1.4v1.4h-1.4zM519.9 90.7h1.4v1.4h-1.4zM522.6 90.5h1.4v1.4h-1.4zM523.9 91.4h1.4v1.4h-1.4zM494.2 92.2h1.4v1.4h-1.4zM501.3 92.1h1.4v1.4h-1.4zM508.6 92.2h1.4v1.4h-1.4zM466.4 93.2h1.4v1.4h-1.4zM467.7 92.4h1.4v1.4h-1.4zM500.0 95.4h1.4v1.4h-1.4zM523.4 94.5h1.4v1.4h-1.4zM484.8 96.2h1.4v1.4h-1.4zM526.6 95.4h1.4v1.4h-1.4zM468.3 96.4h1.4v1.4h-1.4zM515.4 97.2h1.4v1.4h-1.4zM526.3 96.5h1.4v1.4h-1.4zM468.7 97.4h1.4v1.4h-1.4zM496.3 98.5h1.4v1.4h-1.4zM511.1 100.3h1.4v1.4h-1.4zM466.0 101.1h1.4v1.4h-1.4zM508.6 100.8h1.4v1.4h-1.4zM479.6 102.5h1.4v1.4h-1.4zM501.2 103.1h1.4v1.4h-1.4z" fill="#808080"/><path d="M487.5 45.2h1.5v1.5h-1.5zM487.2 45.5h1.5v1.5h-1.5zM493.2 45.2h1.5v1.5h-1.5zM487.3 47.4h1.5v1.5h-1.5zM493.0 51.2h1.5v1.5h-1.5zM501.0 51.7h1.5v1.5h-1.5zM518.9 53.2h1.5v1.5h-1.5zM529.9 54.2h1.5v1.5h-1.5zM505.0 56.3h1.5v1.5h-1.5zM493.1 59.2h1.5v1.5h-1.5zM518.3 60.6h1.5v1.5h-1.5zM535.1 62.5h1.5v1.5h-1.5zM496.4 66.3h1.5v1.5h-1.5zM487.5 68.2h1.5v1.5h-1.5zM514.5 67.4h1.5v1.5h-1.5zM512.3 71.0h1.5v1.5h-1.5zM484.7 74.9h1.5v1.5h-1.5zM499.0 78.3h1.5v1.5h-1.5zM503.1 78.0h1.5v1.5h-1.5zM507.8 85.2h1.5v1.5h-1.5zM476.2 88.3h1.5v1.5h-1.5zM518.2 88.2h1.5v1.5h-1.5zM483.6 89.8h1.5v1.5h-1.5zM526.4 91.8h1.5v1.5h-1.5zM525.5 97.6h1.5v1.5h-1.5zM499.2 98.4h1.5v1.5h-1.5zM490.0 99.4h1.5v1.5h-1.5zM499.0 104.1h1.5v1.5h-1.5z" fill="#2e8b20"/><path d="M449.2 41.0h1.5v1.5h-1.5zM441.1 42.3h1.5v1.5h-1.5zM459.7 42.2h1.5v1.5h-1.5zM460.4 42.6h1.5v1.5h-1.5zM467.0 42.9h1.5v1.5h-1.5zM478.9 44.3h1.5v1.5h-1.5zM473.2 47.3h1.5v1.5h-1.5zM471.0 50.7h1.5v1.5h-1.5zM462.7 52.1h1.5v1.5h-1.5zM436.5 56.9h1.5v1.5h-1.5zM473.0 56.2h1.5v1.5h-1.5zM420.7 64.6h1.5v1.5h-1.5zM420.4 65.7h1.5v1.5h-1.5zM471.2 66.2h1.5v1.5h-1.5zM418.5 68.8h1.5v1.5h-1.5zM434.4 71.2h1.5v1.5h-1.5zM442.6 71.6h1.5v1.5h-1.5zM426.1 72.7h1.5v1.5h-1.5zM426.0 75.2h1.5v1.5h-1.5zM439.0 79.2h1.5v1.5h-1.5zM445.6 78.6h1.5v1.5h-1.5zM469.2 78.4h1.5v1.5h-1.5zM426.5 79.8h1.5v1.5h-1.5zM453.1 79.4h1.5v1.5h-1.5zM438.9 81.2h1.5v1.5h-1.5zM457.6 91.2h1.5v1.5h-1.5zM441.2 94.2h1.5v1.5h-1.5zM458.6 93.7h1.5v1.5h-1.5z" fill="#2e8b20"/><path d="M489.1 99.4h1.6v1.6h-1.6zM495.3 100.4h1.6v1.6h-1.6zM506.9 100.7h1.6v1.6h-1.6zM460.8 101.3h1.6v1.6h-1.6zM491.5 101.5h1.6v1.6h-1.6zM504.5 101.4h1.6v1.6h-1.6zM466.5 103.1h1.6v1.6h-1.6zM496.2 104.8h1.6v1.6h-1.6zM512.7 105.0h1.6v1.6h-1.6zM467.2 105.6h1.6v1.6h-1.6zM487.8 105.8h1.6v1.6h-1.6zM491.5 106.8h1.6v1.6h-1.6zM496.5 106.9h1.6v1.6h-1.6zM526.3 106.7h1.6v1.6h-1.6zM444.2 108.4h1.6v1.6h-1.6zM458.0 109.6h1.6v1.6h-1.6zM465.3 109.5h1.6v1.6h-1.6zM505.1 110.7h1.6v1.6h-1.6zM511.0 110.4h1.6v1.6h-1.6zM512.3 111.3h1.6v1.6h-1.6zM465.7 111.8h1.6v1.6h-1.6zM514.0 111.9h1.6v1.6h-1.6z" fill="#2e8b20"/><path d="M519.9 100.7h1.4v1.4h-1.4zM493.3 102.3h1.4v1.4h-1.4zM519.9 102.3h1.4v1.4h-1.4zM488.7 105.3h1.4v1.4h-1.4z" fill="#7e1e9c"/><path d="M457.6 108.9h1.4v1.4h-1.4zM464.1 109.6h1.4v1.4h-1.4zM465.8 109.2h1.4v1.4h-1.4zM473.4 109.3h1.4v1.4h-1.4zM475.2 110.3h1.4v1.4h-1.4zM475.2 110.4h1.4v1.4h-1.4zM488.7 109.7h1.4v1.4h-1.4zM456.4 110.5h1.4v1.4h-1.4zM466.1 111.3h1.4v1.4h-1.4zM468.5 110.4h1.4v1.4h-1.4zM474.2 110.8h1.4v1.4h-1.4zM475.7 110.9h1.4v1.4h-1.4zM462.9 112.2h1.4v1.4h-1.4zM465.8 111.8h1.4v1.4h-1.4zM468.9 111.3h1.4v1.4h-1.4zM488.5 111.6h1.4v1.4h-1.4zM491.5 111.3h1.4v1.4h-1.4zM495.4 111.4h1.4v1.4h-1.4zM498.2 112.3h1.4v1.4h-1.4zM503.6 111.4h1.4v1.4h-1.4zM461.9 113.2h1.4v1.4h-1.4zM501.0 112.9h1.4v1.4h-1.4zM458.0 113.9h1.4v1.4h-1.4zM508.9 113.9h1.4v1.4h-1.4zM506.0 114.3h1.4v1.4h-1.4zM455.1 116.1h1.4v1.4h-1.4zM511.7 116.0h1.4v1.4h-1.4zM515.9 115.6h1.4v1.4h-1.4zM454.7 116.7h1.4v1.4h-1.4zM514.2 116.2h1.4v1.4h-1.4zM456.3 118.3h1.4v1.4h-1.4zM511.9 117.7h1.4v1.4h-1.4zM513.2 118.2h1.4v1.4h-1.4zM453.9 119.2h1.4v1.4h-1.4zM518.5 122.1h1.4v1.4h-1.4zM455.5 122.5h1.4v1.4h-1.4zM520.2 122.2h1.4v1.4h-1.4zM455.3 123.5h1.4v1.4h-1.4zM519.7 123.6h1.4v1.4h-1.4zM522.4 125.0h1.4v1.4h-1.4zM455.6 126.4h1.4v1.4h-1.4zM522.2 125.6h1.4v1.4h-1.4zM523.4 127.3h1.4v1.4h-1.4zM456.6 127.5h1.4v1.4h-1.4zM525.3 128.9h1.4v1.4h-1.4zM526.6 132.3h1.4v1.4h-1.4zM461.0 133.0h1.4v1.4h-1.4zM461.5 134.2h1.4v1.4h-1.4zM463.7 133.3h1.4v1.4h-1.4zM528.3 134.4h1.4v1.4h-1.4zM529.1 134.7h1.4v1.4h-1.4zM464.7 135.9h1.4v1.4h-1.4zM465.8 135.4h1.4v1.4h-1.4zM467.0 137.2h1.4v1.4h-1.4zM531.1 136.6h1.4v1.4h-1.4zM468.1 137.6h1.4v1.4h-1.4zM469.1 138.8h1.4v1.4h-1.4zM529.6 138.7h1.4v1.4h-1.4zM529.5 139.3h1.4v1.4h-1.4zM471.5 140.6h1.4v1.4h-1.4zM472.0 142.4h1.4v1.4h-1.4zM472.2 143.1h1.4v1.4h-1.4zM469.4 143.9h1.4v1.4h-1.4zM473.5 144.1h1.4v1.4h-1.4zM482.1 147.8h1.4v1.4h-1.4zM525.1 148.0h1.4v1.4h-1.4zM483.2 148.3h1.4v1.4h-1.4zM521.0 148.7h1.4v1.4h-1.4zM521.8 149.4h1.4v1.4h-1.4zM481.3 149.2h1.4v1.4h-1.4zM523.8 149.6h1.4v1.4h-1.4zM478.8 151.0h1.4v1.4h-1.4zM513.0 150.4h1.4v1.4h-1.4zM513.5 150.2h1.4v1.4h-1.4zM519.8 151.2h1.4v1.4h-1.4zM487.6 151.9h1.4v1.4h-1.4zM489.2 151.5h1.4v1.4h-1.4zM509.6 152.4h1.4v1.4h-1.4zM511.3 152.4h1.4v1.4h-1.4zM514.0 152.4h1.4v1.4h-1.4zM520.0 151.6h1.4v1.4h-1.4zM485.6 152.4h1.4v1.4h-1.4zM494.3 153.1h1.4v1.4h-1.4zM495.0 152.4h1.4v1.4h-1.4zM497.0 152.2h1.4v1.4h-1.4zM510.5 152.9h1.4v1.4h-1.4zM496.7 154.2h1.4v1.4h-1.4zM496.0 154.4h1.4v1.4h-1.4z" fill="#2e8b20"/><path d="M457.2 120.3L457.2 119.2L457.3 118.2L457.4 117.1L457.8 116.2L458.5 115.3L459.6 114.6L461.3 114.0L463.4 113.4L465.9 113.0L468.6 112.6L471.4 112.4L474.1 112.2L476.9 112.1L479.8 112.1L482.9 112.3L485.9 112.4L488.9 112.7L491.8 113.0L494.6 113.4L497.5 113.8L500.3 114.2L503.0 114.8L505.5 115.4L507.8 116.2L509.8 117.1L511.5 118.1L513.1 119.2L514.5 120.3L516.0 121.5L517.4 122.7L518.9 123.9L520.3 125.3L521.8 126.6L523.1 128.0L524.4 129.3L525.5 130.7L526.6 132.1L527.6 133.4L528.6 134.8L529.4 136.2L530.0 137.5L530.3 138.7L530.3 139.9L530.1 141.0L529.6 142.1L528.9 143.1L528.1 144.1L527.1 145.1L525.9 146.0L524.5 146.9L523.0 147.8L521.2 148.5L519.4 149.3L517.4 150.0L515.3 150.7L512.9 151.4L510.4 152.0L507.9 152.6L505.4 153.0L503.0 153.2L500.8 153.3L498.6 153.2L496.4 153.0L494.3 152.7L492.2 152.2L490.1 151.6L487.9 150.8L485.8 149.9L483.6 148.8L481.4 147.7L479.3 146.4L477.3 145.1L475.3 143.7L473.3 142.1L471.4 140.4L469.5 138.7L467.7 137.0L466.1 135.5L464.6 134.1L463.2 132.7L461.9 131.3L460.7 130.0L459.6 128.8L458.8 127.5L458.2 126.2L457.7 125.0L457.4 123.8L457.2 122.6L457.2 121.4Z" fill="#2e8b20"/><path d="M532.5 134.9h1.4v1.4h-1.4zM542.5 134.5h1.4v1.4h-1.4zM533.4 136.0h1.4v1.4h-1.4zM534.6 135.8h1.4v1.4h-1.4zM529.4 136.5h1.4v1.4h-1.4zM530.4 138.2h1.4v1.4h-1.4zM529.8 138.3h1.4v1.4h-1.4zM534.6 138.7h1.4v1.4h-1.4zM536.7 138.2h1.4v1.4h-1.4zM530.3 140.3h1.4v1.4h-1.4zM545.3 140.1h1.4v1.4h-1.4zM534.6 140.9h1.4v1.4h-1.4zM537.3 140.5h1.4v1.4h-1.4zM538.0 141.2h1.4v1.4h-1.4zM533.1 142.1h1.4v1.4h-1.4zM548.9 141.9h1.4v1.4h-1.4zM528.7 142.8h1.4v1.4h-1.4zM535.1 143.0h1.4v1.4h-1.4zM537.4 142.7h1.4v1.4h-1.4zM542.2 142.9h1.4v1.4h-1.4zM547.2 142.3h1.4v1.4h-1.4zM548.3 143.9h1.4v1.4h-1.4zM551.6 143.5h1.4v1.4h-1.4zM548.6 145.2h1.4v1.4h-1.4zM568.7 145.0h1.4v1.4h-1.4zM543.5 146.8h1.4v1.4h-1.4zM555.4 146.8h1.4v1.4h-1.4z" fill="#2e8b20"/><path d="M487.2 111.6h1.5v1.5h-1.5zM481.0 112.6h1.5v1.5h-1.5zM492.9 113.1h1.5v1.5h-1.5zM475.5 113.8h1.5v1.5h-1.5zM478.0 113.7h1.5v1.5h-1.5zM487.2 113.5h1.5v1.5h-1.5zM488.0 113.6h1.5v1.5h-1.5zM496.2 113.8h1.5v1.5h-1.5zM478.2 114.7h1.5v1.5h-1.5zM480.2 114.4h1.5v1.5h-1.5zM462.9 116.3h1.5v1.5h-1.5zM469.5 115.6h1.5v1.5h-1.5zM479.0 115.2h1.5v1.5h-1.5zM482.3 115.2h1.5v1.5h-1.5zM487.5 115.2h1.5v1.5h-1.5zM495.7 115.2h1.5v1.5h-1.5zM497.6 115.5h1.5v1.5h-1.5zM503.1 115.3h1.5v1.5h-1.5zM458.0 116.8h1.5v1.5h-1.5zM475.4 116.6h1.5v1.5h-1.5zM476.8 116.4h1.5v1.5h-1.5zM482.5 117.2h1.5v1.5h-1.5zM485.5 116.2h1.5v1.5h-1.5zM491.9 117.2h1.5v1.5h-1.5zM505.4 117.3h1.5v1.5h-1.5zM463.7 117.2h1.5v1.5h-1.5zM492.2 117.8h1.5v1.5h-1.5zM464.4 118.6h1.5v1.5h-1.5zM476.9 118.2h1.5v1.5h-1.5zM486.6 119.0h1.5v1.5h-1.5zM492.6 119.0h1.5v1.5h-1.5zM503.8 119.1h1.5v1.5h-1.5zM467.4 119.6h1.5v1.5h-1.5zM478.8 119.3h1.5v1.5h-1.5zM504.3 119.3h1.5v1.5h-1.5zM509.3 119.4h1.5v1.5h-1.5zM512.2 120.3h1.5v1.5h-1.5zM459.8 120.3h1.5v1.5h-1.5zM487.9 120.4h1.5v1.5h-1.5zM496.2 120.3h1.5v1.5h-1.5zM506.2 121.0h1.5v1.5h-1.5zM508.2 120.6h1.5v1.5h-1.5zM468.8 122.0h1.5v1.5h-1.5zM480.7 121.7h1.5v1.5h-1.5zM496.3 121.4h1.5v1.5h-1.5zM506.0 122.0h1.5v1.5h-1.5zM473.4 122.2h1.5v1.5h-1.5zM483.2 122.8h1.5v1.5h-1.5zM491.6 123.3h1.5v1.5h-1.5zM457.0 123.5h1.5v1.5h-1.5zM465.3 124.3h1.5v1.5h-1.5zM484.7 123.4h1.5v1.5h-1.5zM466.2 124.5h1.5v1.5h-1.5zM506.2 125.3h1.5v1.5h-1.5zM512.9 124.2h1.5v1.5h-1.5zM459.6 125.3h1.5v1.5h-1.5zM485.5 125.4h1.5v1.5h-1.5zM510.3 125.6h1.5v1.5h-1.5zM515.9 126.1h1.5v1.5h-1.5zM519.7 125.9h1.5v1.5h-1.5zM518.3 126.5h1.5v1.5h-1.5zM458.8 127.2h1.5v1.5h-1.5zM477.2 128.1h1.5v1.5h-1.5zM484.6 127.3h1.5v1.5h-1.5zM500.1 127.2h1.5v1.5h-1.5zM506.0 128.2h1.5v1.5h-1.5zM464.4 128.4h1.5v1.5h-1.5zM468.7 129.0h1.5v1.5h-1.5zM489.3 129.2h1.5v1.5h-1.5zM519.4 129.1h1.5v1.5h-1.5zM461.9 129.4h1.5v1.5h-1.5zM465.4 130.0h1.5v1.5h-1.5zM471.3 130.3h1.5v1.5h-1.5zM474.7 129.3h1.5v1.5h-1.5zM496.9 129.3h1.5v1.5h-1.5zM467.8 131.2h1.5v1.5h-1.5zM469.1 130.9h1.5v1.5h-1.5zM495.6 131.3h1.5v1.5h-1.5zM523.5 130.5h1.5v1.5h-1.5z" fill="#7e1e9c"/><path d="M481.4 113.4h1.4v1.4h-1.4zM486.5 112.5h1.4v1.4h-1.4zM486.1 113.9h1.4v1.4h-1.4zM491.5 113.6h1.4v1.4h-1.4zM497.5 113.8h1.4v1.4h-1.4zM484.8 115.2h1.4v1.4h-1.4zM467.7 116.8h1.4v1.4h-1.4zM485.4 116.7h1.4v1.4h-1.4zM457.9 117.9h1.4v1.4h-1.4zM483.3 118.0h1.4v1.4h-1.4zM485.7 117.7h1.4v1.4h-1.4zM470.0 119.1h1.4v1.4h-1.4zM500.7 118.8h1.4v1.4h-1.4zM468.1 119.6h1.4v1.4h-1.4zM499.8 119.6h1.4v1.4h-1.4zM490.2 121.3h1.4v1.4h-1.4zM507.7 121.4h1.4v1.4h-1.4zM461.8 122.4h1.4v1.4h-1.4zM472.4 121.6h1.4v1.4h-1.4zM493.6 121.2h1.4v1.4h-1.4zM490.9 122.4h1.4v1.4h-1.4zM502.1 122.6h1.4v1.4h-1.4zM461.4 123.3h1.4v1.4h-1.4zM487.5 124.0h1.4v1.4h-1.4zM491.7 123.6h1.4v1.4h-1.4zM517.9 124.3h1.4v1.4h-1.4zM516.1 124.6h1.4v1.4h-1.4zM518.8 124.9h1.4v1.4h-1.4zM464.8 127.2h1.4v1.4h-1.4zM476.2 126.6h1.4v1.4h-1.4zM494.3 126.7h1.4v1.4h-1.4zM495.7 126.9h1.4v1.4h-1.4zM484.2 127.2h1.4v1.4h-1.4zM495.9 127.5h1.4v1.4h-1.4zM462.2 129.1h1.4v1.4h-1.4zM467.8 128.5h1.4v1.4h-1.4zM498.3 129.1h1.4v1.4h-1.4zM489.9 129.3h1.4v1.4h-1.4zM473.3 130.8h1.4v1.4h-1.4zM480.7 130.9h1.4v1.4h-1.4zM517.4 131.3h1.4v1.4h-1.4zM524.4 132.6h1.4v1.4h-1.4zM524.7 134.0h1.4v1.4h-1.4zM506.1 134.8h1.4v1.4h-1.4zM476.8 136.0h1.4v1.4h-1.4zM517.3 136.3h1.4v1.4h-1.4zM479.1 138.1h1.4v1.4h-1.4zM500.4 137.6h1.4v1.4h-1.4zM507.4 137.7h1.4v1.4h-1.4zM510.7 138.3h1.4v1.4h-1.4zM470.9 138.6h1.4v1.4h-1.4zM474.2 138.7h1.4v1.4h-1.4zM484.8 139.2h1.4v1.4h-1.4zM494.8 138.8h1.4v1.4h-1.4zM505.6 138.3h1.4v1.4h-1.4zM486.0 140.3h1.4v1.4h-1.4zM489.3 141.1h1.4v1.4h-1.4zM494.3 140.3h1.4v1.4h-1.4zM500.8 140.5h1.4v1.4h-1.4zM502.1 140.7h1.4v1.4h-1.4zM518.2 140.7h1.4v1.4h-1.4zM478.4 141.2h1.4v1.4h-1.4zM495.4 142.1h1.4v1.4h-1.4zM515.1 141.8h1.4v1.4h-1.4zM490.4 142.8h1.4v1.4h-1.4zM486.1 144.9h1.4v1.4h-1.4zM486.3 146.3h1.4v1.4h-1.4zM491.8 147.4h1.4v1.4h-1.4zM501.5 148.6h1.4v1.4h-1.4zM498.8 150.8h1.4v1.4h-1.4z" fill="#808080"/><path d="M476.9 113.9h1.2v1.2h-1.2zM480.6 115.6h1.2v1.2h-1.2zM481.5 116.8h1.2v1.2h-1.2zM510.3 116.5h1.2v1.2h-1.2zM469.5 120.6h1.2v1.2h-1.2zM504.4 121.4h1.2v1.2h-1.2zM487.9 124.0h1.2v1.2h-1.2zM484.3 125.2h1.2v1.2h-1.2zM503.5 128.3h1.2v1.2h-1.2zM473.3 129.4h1.2v1.2h-1.2zM483.9 129.9h1.2v1.2h-1.2zM510.3 130.3h1.2v1.2h-1.2zM493.4 132.6h1.2v1.2h-1.2zM498.3 133.3h1.2v1.2h-1.2zM501.8 133.3h1.2v1.2h-1.2zM521.1 135.7h1.2v1.2h-1.2zM491.4 137.7h1.2v1.2h-1.2zM526.3 138.4h1.2v1.2h-1.2zM479.4 140.2h1.2v1.2h-1.2zM482.5 140.4h1.2v1.2h-1.2zM524.5 141.9h1.2v1.2h-1.2z" fill="#ffffff"/><path d="M580.3 136.8h1.4v1.4h-1.4zM610.1 136.6h1.4v1.4h-1.4zM619.6 138.1h1.4v1.4h-1.4zM595.1 138.8h1.4v1.4h-1.4zM603.3 139.1h1.4v1.4h-1.4zM607.4 139.3h1.4v1.4h-1.4zM608.7 139.4h1.4v1.4h-1.4zM591.3 140.2h1.4v1.4h-1.4zM593.9 140.4h1.4v1.4h-1.4zM594.4 139.4h1.4v1.4h-1.4zM600.1 140.3h1.4v1.4h-1.4zM603.7 139.7h1.4v1.4h-1.4zM606.6 139.6h1.4v1.4h-1.4zM608.0 140.2h1.4v1.4h-1.4zM608.8 139.4h1.4v1.4h-1.4zM626.2 140.3h1.4v1.4h-1.4zM634.2 140.0h1.4v1.4h-1.4zM584.8 141.1h1.4v1.4h-1.4zM588.9 141.4h1.4v1.4h-1.4zM589.6 140.9h1.4v1.4h-1.4zM614.6 141.1h1.4v1.4h-1.4zM620.3 141.3h1.4v1.4h-1.4zM633.4 141.0h1.4v1.4h-1.4zM636.6 140.4h1.4v1.4h-1.4zM571.3 141.4h1.4v1.4h-1.4zM573.5 141.5h1.4v1.4h-1.4zM575.2 141.7h1.4v1.4h-1.4zM629.5 141.5h1.4v1.4h-1.4zM630.5 141.3h1.4v1.4h-1.4zM634.7 141.2h1.4v1.4h-1.4zM561.6 143.3h1.4v1.4h-1.4zM570.4 143.2h1.4v1.4h-1.4zM632.0 142.4h1.4v1.4h-1.4zM636.6 143.8h1.4v1.4h-1.4zM638.8 143.6h1.4v1.4h-1.4zM640.1 143.6h1.4v1.4h-1.4zM642.0 143.8h1.4v1.4h-1.4zM559.8 147.1h1.4v1.4h-1.4zM647.0 146.5h1.4v1.4h-1.4zM647.7 146.3h1.4v1.4h-1.4zM648.5 147.0h1.4v1.4h-1.4zM550.0 148.0h1.4v1.4h-1.4zM555.7 147.7h1.4v1.4h-1.4zM557.1 147.6h1.4v1.4h-1.4zM659.1 148.3h1.4v1.4h-1.4zM553.4 149.1h1.4v1.4h-1.4zM659.0 149.9h1.4v1.4h-1.4zM546.1 150.4h1.4v1.4h-1.4zM659.3 150.4h1.4v1.4h-1.4zM544.9 153.2h1.4v1.4h-1.4zM665.1 153.4h1.4v1.4h-1.4zM541.0 156.0h1.4v1.4h-1.4zM539.3 157.4h1.4v1.4h-1.4zM541.4 157.9h1.4v1.4h-1.4zM666.6 158.1h1.4v1.4h-1.4zM540.3 159.0h1.4v1.4h-1.4zM539.1 159.8h1.4v1.4h-1.4zM667.6 160.1h1.4v1.4h-1.4zM537.1 162.2h1.4v1.4h-1.4zM669.9 162.3h1.4v1.4h-1.4zM668.9 163.6h1.4v1.4h-1.4zM669.8 164.3h1.4v1.4h-1.4zM537.3 166.2h1.4v1.4h-1.4zM535.4 167.1h1.4v1.4h-1.4zM669.4 168.0h1.4v1.4h-1.4zM671.4 168.1h1.4v1.4h-1.4zM537.9 169.6h1.4v1.4h-1.4zM671.1 169.5h1.4v1.4h-1.4zM666.7 175.0h1.4v1.4h-1.4zM540.3 176.4h1.4v1.4h-1.4zM665.6 175.2h1.4v1.4h-1.4zM664.8 176.2h1.4v1.4h-1.4zM543.6 178.3h1.4v1.4h-1.4zM541.9 179.2h1.4v1.4h-1.4zM545.2 178.3h1.4v1.4h-1.4zM661.6 179.2h1.4v1.4h-1.4zM544.4 179.5h1.4v1.4h-1.4zM547.8 180.9h1.4v1.4h-1.4zM662.3 180.7h1.4v1.4h-1.4zM550.0 182.1h1.4v1.4h-1.4zM657.2 183.2h1.4v1.4h-1.4zM552.5 183.3h1.4v1.4h-1.4zM555.2 184.7h1.4v1.4h-1.4zM656.5 184.5h1.4v1.4h-1.4zM649.9 185.5h1.4v1.4h-1.4zM556.9 187.0h1.4v1.4h-1.4zM561.9 187.3h1.4v1.4h-1.4zM645.7 187.3h1.4v1.4h-1.4zM651.9 186.3h1.4v1.4h-1.4zM643.4 188.3h1.4v1.4h-1.4zM647.4 187.5h1.4v1.4h-1.4zM565.9 189.3h1.4v1.4h-1.4zM567.7 189.0h1.4v1.4h-1.4zM569.3 188.6h1.4v1.4h-1.4zM648.3 189.3h1.4v1.4h-1.4zM633.6 189.9h1.4v1.4h-1.4zM638.0 190.3h1.4v1.4h-1.4zM640.6 190.2h1.4v1.4h-1.4zM578.2 191.0h1.4v1.4h-1.4zM630.3 191.2h1.4v1.4h-1.4zM579.9 192.4h1.4v1.4h-1.4zM584.2 191.9h1.4v1.4h-1.4zM586.5 192.0h1.4v1.4h-1.4zM619.4 191.3h1.4v1.4h-1.4zM621.2 191.6h1.4v1.4h-1.4zM622.3 192.1h1.4v1.4h-1.4zM630.4 191.5h1.4v1.4h-1.4zM633.3 191.8h1.4v1.4h-1.4zM587.8 192.9h1.4v1.4h-1.4zM588.4 193.1h1.4v1.4h-1.4zM594.7 192.6h1.4v1.4h-1.4zM595.8 192.2h1.4v1.4h-1.4zM597.3 192.6h1.4v1.4h-1.4zM602.1 192.2h1.4v1.4h-1.4zM604.2 192.9h1.4v1.4h-1.4zM607.2 193.3h1.4v1.4h-1.4zM611.8 193.2h1.4v1.4h-1.4zM615.4 192.8h1.4v1.4h-1.4zM620.6 192.6h1.4v1.4h-1.4zM611.0 193.8h1.4v1.4h-1.4zM612.3 193.4h1.4v1.4h-1.4zM617.2 193.2h1.4v1.4h-1.4zM572.2 195.1h1.4v1.4h-1.4zM642.3 194.7h1.4v1.4h-1.4zM608.2 197.2h1.4v1.4h-1.4z" fill="#0000ff"/><path d="M669.8 167.2L669.6 169.0L669.2 170.8L668.4 172.6L667.3 174.4L665.8 176.1L664.1 177.8L662.1 179.4L659.8 181.0L657.2 182.5L654.4 183.9L651.3 185.3L648.0 186.5L644.5 187.7L640.8 188.8L636.9 189.7L632.8 190.6L628.6 191.3L624.3 191.9L619.9 192.4L615.4 192.8L610.9 193.1L606.3 193.2L601.7 193.2L597.1 193.1L592.6 192.8L588.1 192.4L583.7 191.9L579.4 191.3L575.2 190.6L571.1 189.7L567.2 188.8L563.5 187.7L560.0 186.5L556.7 185.3L553.6 183.9L550.8 182.5L548.2 181.0L545.9 179.4L543.9 177.8L542.2 176.1L540.7 174.4L539.6 172.6L538.8 170.8L538.4 169.0L538.2 167.2L538.4 165.4L538.8 163.6L539.6 161.8L540.7 160.0L542.2 158.3L543.9 156.6L545.9 155.0L548.2 153.4L550.8 151.9L553.6 150.5L556.7 149.1L560.0 147.9L563.5 146.7L567.2 145.6L571.1 144.7L575.2 143.8L579.4 143.1L583.7 142.5L588.1 142.0L592.6 141.6L597.1 141.3L601.7 141.2L606.3 141.2L610.9 141.3L615.4 141.6L619.9 142.0L624.3 142.5L628.6 143.1L632.8 143.8L636.9 144.7L640.8 145.6L644.5 146.7L648.0 147.9L651.3 149.1L654.4 150.5L657.2 151.9L659.8 153.4L662.1 155.0L664.1 156.6L665.8 158.3L667.3 160.0L668.4 161.8L669.2 163.6L669.6 165.4ZM640.6 167.0L640.5 168.7L640.1 170.4L639.4 172.1L638.5 173.7L637.4 175.3L636.0 176.8L634.4 178.2L632.5 179.6L630.5 180.9L628.3 182.0L625.9 183.1L623.4 184.0L620.7 184.8L617.9 185.4L615.0 185.9L612.1 186.3L609.1 186.5L606.1 186.6L603.1 186.5L600.1 186.3L597.2 185.9L594.3 185.4L591.5 184.8L588.9 184.0L586.3 183.1L583.9 182.0L581.7 180.9L579.7 179.6L577.8 178.2L576.2 176.8L574.8 175.3L573.7 173.7L572.8 172.1L572.1 170.4L571.7 168.7L571.6 167.0L571.7 165.3L572.1 163.6L572.8 161.9L573.7 160.3L574.8 158.7L576.2 157.2L577.8 155.8L579.7 154.4L581.7 153.1L583.9 152.0L586.3 150.9L588.9 150.0L591.5 149.2L594.3 148.6L597.2 148.1L600.1 147.7L603.1 147.5L606.1 147.4L609.1 147.5L612.1 147.7L615.0 148.1L617.9 148.6L620.7 149.2L623.4 150.0L625.9 150.9L628.3 152.0L630.5 153.1L632.5 154.4L634.4 155.8L636.0 157.2L637.4 158.7L638.5 160.3L639.4 161.9L640.1 163.6L640.5 165.3Z" fill="#0000ff" fill-rule="evenodd"/><path d="M595.4 140.5h1.3v1.3h-1.3zM597.0 140.7h1.3v1.3h-1.3zM599.1 141.0h1.3v1.3h-1.3zM600.0 141.2h1.3v1.3h-1.3zM601.2 140.5h1.3v1.3h-1.3zM603.7 140.7h1.3v1.3h-1.3zM605.9 141.0h1.3v1.3h-1.3zM610.9 140.4h1.3v1.3h-1.3zM583.0 142.0h1.3v1.3h-1.3zM586.9 142.3h1.3v1.3h-1.3zM595.1 141.6h1.3v1.3h-1.3zM597.1 142.2h1.3v1.3h-1.3zM598.7 141.6h1.3v1.3h-1.3zM612.4 141.7h1.3v1.3h-1.3zM613.6 141.8h1.3v1.3h-1.3zM615.0 141.4h1.3v1.3h-1.3zM620.3 141.8h1.3v1.3h-1.3zM620.4 142.0h1.3v1.3h-1.3zM623.3 141.7h1.3v1.3h-1.3zM580.5 142.8h1.3v1.3h-1.3zM584.0 143.3h1.3v1.3h-1.3zM585.6 142.4h1.3v1.3h-1.3zM589.8 142.3h1.3v1.3h-1.3zM592.3 143.2h1.3v1.3h-1.3zM594.3 142.6h1.3v1.3h-1.3zM597.9 142.9h1.3v1.3h-1.3zM607.3 143.1h1.3v1.3h-1.3zM623.5 142.6h1.3v1.3h-1.3zM624.6 143.4h1.3v1.3h-1.3zM626.4 142.8h1.3v1.3h-1.3zM627.3 142.8h1.3v1.3h-1.3zM578.3 143.5h1.3v1.3h-1.3zM584.1 144.2h1.3v1.3h-1.3zM607.6 143.5h1.3v1.3h-1.3zM622.5 144.2h1.3v1.3h-1.3zM632.8 144.3h1.3v1.3h-1.3zM566.9 144.6h1.3v1.3h-1.3zM637.6 144.3h1.3v1.3h-1.3zM562.6 146.0h1.3v1.3h-1.3zM564.8 145.9h1.3v1.3h-1.3zM566.6 146.1h1.3v1.3h-1.3zM569.4 146.0h1.3v1.3h-1.3zM580.2 146.2h1.3v1.3h-1.3zM586.3 145.4h1.3v1.3h-1.3zM637.8 145.3h1.3v1.3h-1.3zM560.0 148.3h1.3v1.3h-1.3zM569.4 147.8h1.3v1.3h-1.3zM570.4 147.3h1.3v1.3h-1.3zM622.3 148.1h1.3v1.3h-1.3zM631.1 147.6h1.3v1.3h-1.3zM644.4 147.5h1.3v1.3h-1.3zM648.4 148.0h1.3v1.3h-1.3zM555.8 149.3h1.3v1.3h-1.3zM557.1 148.7h1.3v1.3h-1.3zM607.9 149.3h1.3v1.3h-1.3zM642.4 149.2h1.3v1.3h-1.3zM646.5 148.8h1.3v1.3h-1.3zM554.9 150.1h1.3v1.3h-1.3zM579.0 149.4h1.3v1.3h-1.3zM654.1 149.4h1.3v1.3h-1.3zM555.5 150.6h1.3v1.3h-1.3zM551.8 151.9h1.3v1.3h-1.3zM576.2 152.3h1.3v1.3h-1.3zM653.3 152.1h1.3v1.3h-1.3zM656.4 153.0h1.3v1.3h-1.3zM549.3 153.7h1.3v1.3h-1.3zM544.7 155.3h1.3v1.3h-1.3zM546.2 155.4h1.3v1.3h-1.3zM658.3 154.4h1.3v1.3h-1.3zM661.9 154.7h1.3v1.3h-1.3zM656.5 156.0h1.3v1.3h-1.3zM546.8 156.5h1.3v1.3h-1.3zM658.6 157.1h1.3v1.3h-1.3zM662.4 157.1h1.3v1.3h-1.3zM542.1 157.5h1.3v1.3h-1.3zM552.0 157.8h1.3v1.3h-1.3zM664.6 157.4h1.3v1.3h-1.3zM541.9 158.7h1.3v1.3h-1.3zM542.3 160.4h1.3v1.3h-1.3zM545.7 159.5h1.3v1.3h-1.3zM544.3 161.1h1.3v1.3h-1.3zM664.0 160.4h1.3v1.3h-1.3zM624.8 162.1h1.3v1.3h-1.3zM667.7 161.5h1.3v1.3h-1.3zM543.3 163.2h1.3v1.3h-1.3zM665.4 162.5h1.3v1.3h-1.3zM538.4 163.3h1.3v1.3h-1.3zM541.5 163.3h1.3v1.3h-1.3zM542.9 164.7h1.3v1.3h-1.3zM666.9 164.8h1.3v1.3h-1.3zM668.7 165.1h1.3v1.3h-1.3zM537.4 167.2h1.3v1.3h-1.3zM669.3 166.7h1.3v1.3h-1.3zM537.3 168.3h1.3v1.3h-1.3zM540.7 168.4h1.3v1.3h-1.3zM663.3 167.6h1.3v1.3h-1.3zM668.4 167.4h1.3v1.3h-1.3zM539.2 169.3h1.3v1.3h-1.3zM666.6 168.7h1.3v1.3h-1.3zM539.1 169.7h1.3v1.3h-1.3zM540.3 169.4h1.3v1.3h-1.3zM667.8 169.5h1.3v1.3h-1.3zM667.3 170.4h1.3v1.3h-1.3zM660.9 172.2h1.3v1.3h-1.3zM540.1 172.9h1.3v1.3h-1.3zM543.2 173.4h1.3v1.3h-1.3zM544.2 172.9h1.3v1.3h-1.3zM660.3 173.9h1.3v1.3h-1.3zM664.5 174.4h1.3v1.3h-1.3zM665.4 173.3h1.3v1.3h-1.3zM541.6 175.4h1.3v1.3h-1.3zM543.0 174.4h1.3v1.3h-1.3zM640.6 174.5h1.3v1.3h-1.3zM664.1 174.6h1.3v1.3h-1.3zM545.6 178.1h1.3v1.3h-1.3zM552.9 178.0h1.3v1.3h-1.3zM658.4 178.4h1.3v1.3h-1.3zM547.0 180.4h1.3v1.3h-1.3zM551.3 180.3h1.3v1.3h-1.3zM650.0 179.9h1.3v1.3h-1.3zM650.5 179.3h1.3v1.3h-1.3zM659.2 179.9h1.3v1.3h-1.3zM552.4 180.5h1.3v1.3h-1.3zM558.3 180.5h1.3v1.3h-1.3zM551.4 181.5h1.3v1.3h-1.3zM551.7 182.0h1.3v1.3h-1.3zM558.8 181.4h1.3v1.3h-1.3zM655.3 182.4h1.3v1.3h-1.3zM552.4 182.7h1.3v1.3h-1.3zM556.1 183.3h1.3v1.3h-1.3zM645.9 183.1h1.3v1.3h-1.3zM647.3 182.5h1.3v1.3h-1.3zM649.2 182.8h1.3v1.3h-1.3zM650.3 182.7h1.3v1.3h-1.3zM642.6 183.8h1.3v1.3h-1.3zM644.5 184.3h1.3v1.3h-1.3zM648.8 184.1h1.3v1.3h-1.3zM649.5 183.4h1.3v1.3h-1.3zM650.7 183.4h1.3v1.3h-1.3zM556.5 184.9h1.3v1.3h-1.3zM565.4 184.3h1.3v1.3h-1.3zM567.0 184.6h1.3v1.3h-1.3zM571.0 185.1h1.3v1.3h-1.3zM627.7 185.1h1.3v1.3h-1.3zM559.5 185.9h1.3v1.3h-1.3zM561.0 185.4h1.3v1.3h-1.3zM580.2 185.9h1.3v1.3h-1.3zM600.9 185.5h1.3v1.3h-1.3zM603.6 185.4h1.3v1.3h-1.3zM622.5 185.5h1.3v1.3h-1.3zM634.0 186.3h1.3v1.3h-1.3zM635.4 186.1h1.3v1.3h-1.3zM637.4 185.4h1.3v1.3h-1.3zM639.2 186.1h1.3v1.3h-1.3zM639.9 186.4h1.3v1.3h-1.3zM646.1 185.3h1.3v1.3h-1.3zM566.6 187.3h1.3v1.3h-1.3zM568.5 187.0h1.3v1.3h-1.3zM569.3 186.7h1.3v1.3h-1.3zM572.3 187.2h1.3v1.3h-1.3zM596.4 186.6h1.3v1.3h-1.3zM624.8 187.4h1.3v1.3h-1.3zM635.2 187.0h1.3v1.3h-1.3zM635.6 186.9h1.3v1.3h-1.3zM638.4 186.8h1.3v1.3h-1.3zM640.1 186.5h1.3v1.3h-1.3zM643.1 187.4h1.3v1.3h-1.3zM572.0 188.3h1.3v1.3h-1.3zM572.6 187.9h1.3v1.3h-1.3zM575.1 188.4h1.3v1.3h-1.3zM586.4 188.2h1.3v1.3h-1.3zM599.4 188.1h1.3v1.3h-1.3zM614.4 187.7h1.3v1.3h-1.3zM621.9 187.5h1.3v1.3h-1.3zM626.6 188.3h1.3v1.3h-1.3zM628.0 188.2h1.3v1.3h-1.3zM638.0 188.0h1.3v1.3h-1.3zM639.3 188.0h1.3v1.3h-1.3zM639.4 188.2h1.3v1.3h-1.3zM641.1 188.0h1.3v1.3h-1.3zM580.0 188.8h1.3v1.3h-1.3zM581.3 188.6h1.3v1.3h-1.3zM584.1 188.4h1.3v1.3h-1.3zM588.5 188.3h1.3v1.3h-1.3zM600.8 188.3h1.3v1.3h-1.3zM616.3 188.5h1.3v1.3h-1.3zM620.3 188.3h1.3v1.3h-1.3zM629.6 189.4h1.3v1.3h-1.3zM634.5 188.8h1.3v1.3h-1.3zM635.8 188.6h1.3v1.3h-1.3zM574.8 190.4h1.3v1.3h-1.3zM576.3 190.1h1.3v1.3h-1.3zM576.8 190.4h1.3v1.3h-1.3zM577.6 190.3h1.3v1.3h-1.3zM585.8 189.3h1.3v1.3h-1.3zM588.3 189.8h1.3v1.3h-1.3zM590.0 189.4h1.3v1.3h-1.3zM591.8 189.7h1.3v1.3h-1.3zM595.4 190.4h1.3v1.3h-1.3zM599.4 190.4h1.3v1.3h-1.3zM606.4 190.0h1.3v1.3h-1.3zM607.3 190.4h1.3v1.3h-1.3zM612.3 190.3h1.3v1.3h-1.3zM624.4 189.7h1.3v1.3h-1.3zM627.9 190.1h1.3v1.3h-1.3zM629.5 189.8h1.3v1.3h-1.3zM631.3 189.3h1.3v1.3h-1.3zM632.9 189.7h1.3v1.3h-1.3zM581.7 190.7h1.3v1.3h-1.3zM589.3 191.3h1.3v1.3h-1.3zM590.5 190.8h1.3v1.3h-1.3zM593.5 190.7h1.3v1.3h-1.3zM595.3 191.2h1.3v1.3h-1.3zM598.1 190.4h1.3v1.3h-1.3zM600.3 190.5h1.3v1.3h-1.3zM615.4 190.8h1.3v1.3h-1.3zM617.8 191.0h1.3v1.3h-1.3zM619.1 191.1h1.3v1.3h-1.3zM590.5 191.8h1.3v1.3h-1.3zM596.4 192.4h1.3v1.3h-1.3zM597.7 191.7h1.3v1.3h-1.3zM607.0 191.7h1.3v1.3h-1.3zM609.5 191.8h1.3v1.3h-1.3zM611.3 192.3h1.3v1.3h-1.3zM618.4 192.0h1.3v1.3h-1.3z" fill="#ffffff"/><path d="M658.5 166.9L658.4 168.5L658.0 170.1L657.3 171.7L656.5 173.2L655.3 174.8L653.9 176.3L652.3 177.7L650.5 179.1L648.4 180.4L646.1 181.7L643.7 182.9L641.0 184.0L638.2 185.0L635.2 186.0L632.1 186.8L628.8 187.6L625.4 188.2L621.9 188.8L618.4 189.2L614.8 189.6L611.1 189.8L607.4 189.9L603.8 189.9L600.1 189.8L596.4 189.6L592.8 189.2L589.3 188.8L585.8 188.2L582.4 187.6L579.2 186.8L576.0 186.0L573.0 185.0L570.2 184.0L567.5 182.9L565.1 181.7L562.8 180.4L560.7 179.1L558.9 177.7L557.3 176.3L555.9 174.8L554.7 173.2L553.9 171.7L553.2 170.1L552.8 168.5L552.7 166.9L552.8 165.3L553.2 163.7L553.9 162.1L554.7 160.6L555.9 159.0L557.3 157.5L558.9 156.1L560.7 154.7L562.8 153.4L565.1 152.1L567.5 150.9L570.2 149.8L573.0 148.8L576.0 147.8L579.1 147.0L582.4 146.2L585.8 145.6L589.3 145.0L592.8 144.6L596.4 144.2L600.1 144.0L603.8 143.9L607.4 143.9L611.1 144.0L614.8 144.2L618.4 144.6L621.9 145.0L625.4 145.6L628.8 146.2L632.1 147.0L635.2 147.8L638.2 148.8L641.0 149.8L643.7 150.9L646.1 152.1L648.4 153.4L650.5 154.7L652.3 156.1L653.9 157.5L655.3 159.0L656.5 160.6L657.3 162.1L658.0 163.7L658.4 165.3ZM652.4 166.9L652.3 168.4L651.9 169.8L651.4 171.2L650.6 172.5L649.6 173.9L648.3 175.2L646.9 176.5L645.3 177.7L643.4 178.9L641.4 180.0L639.2 181.1L636.9 182.0L634.4 182.9L631.7 183.8L629.0 184.5L626.1 185.2L623.1 185.8L620.0 186.3L616.8 186.6L613.6 186.9L610.4 187.1L607.1 187.2L603.9 187.2L600.6 187.1L597.4 186.9L594.2 186.6L591.0 186.3L587.9 185.8L584.9 185.2L582.0 184.5L579.3 183.8L576.6 182.9L574.1 182.0L571.8 181.1L569.6 180.0L567.6 178.9L565.7 177.7L564.1 176.5L562.7 175.2L561.4 173.9L560.4 172.5L559.6 171.2L559.1 169.8L558.7 168.4L558.6 166.9L558.7 165.5L559.1 164.1L559.6 162.7L560.4 161.4L561.4 160.0L562.7 158.7L564.1 157.4L565.7 156.2L567.6 155.0L569.6 153.9L571.8 152.8L574.1 151.9L576.6 151.0L579.3 150.1L582.0 149.4L584.9 148.7L587.9 148.1L591.0 147.6L594.2 147.3L597.4 147.0L600.6 146.8L603.9 146.7L607.1 146.7L610.4 146.8L613.6 147.0L616.8 147.3L620.0 147.6L623.1 148.1L626.1 148.7L629.0 149.4L631.7 150.1L634.4 151.0L636.9 151.9L639.2 152.8L641.4 153.9L643.4 155.0L645.3 156.2L646.9 157.4L648.3 158.7L649.6 160.0L650.6 161.4L651.4 162.7L651.9 164.1L652.3 165.5Z" fill="#808080" fill-rule="evenodd"/><path d="M604.2 140.7h1.5v1.5h-1.5zM585.8 141.8h1.5v1.5h-1.5zM593.3 141.7h1.5v1.5h-1.5zM604.2 141.8h1.5v1.5h-1.5zM607.9 141.5h1.5v1.5h-1.5zM608.2 141.5h1.5v1.5h-1.5zM593.2 142.9h1.5v1.5h-1.5zM595.1 142.9h1.5v1.5h-1.5zM602.3 142.9h1.5v1.5h-1.5zM604.3 143.0h1.5v1.5h-1.5zM605.0 142.4h1.5v1.5h-1.5zM605.4 142.3h1.5v1.5h-1.5zM607.4 143.3h1.5v1.5h-1.5zM610.8 142.5h1.5v1.5h-1.5zM617.1 142.4h1.5v1.5h-1.5zM626.0 142.6h1.5v1.5h-1.5zM579.4 144.0h1.5v1.5h-1.5zM583.3 144.3h1.5v1.5h-1.5zM588.2 144.2h1.5v1.5h-1.5zM590.0 143.8h1.5v1.5h-1.5zM619.3 143.7h1.5v1.5h-1.5zM620.6 143.7h1.5v1.5h-1.5zM567.3 144.9h1.5v1.5h-1.5zM574.3 144.3h1.5v1.5h-1.5zM576.8 145.1h1.5v1.5h-1.5zM579.9 144.4h1.5v1.5h-1.5zM580.6 145.0h1.5v1.5h-1.5zM582.0 145.2h1.5v1.5h-1.5zM625.3 145.2h1.5v1.5h-1.5zM630.2 144.5h1.5v1.5h-1.5zM630.9 145.8h1.5v1.5h-1.5zM632.9 145.5h1.5v1.5h-1.5zM569.9 147.3h1.5v1.5h-1.5zM574.5 147.2h1.5v1.5h-1.5zM576.2 147.2h1.5v1.5h-1.5zM563.2 147.7h1.5v1.5h-1.5zM565.3 147.9h1.5v1.5h-1.5zM571.2 148.0h1.5v1.5h-1.5zM572.6 147.5h1.5v1.5h-1.5zM636.4 148.1h1.5v1.5h-1.5zM562.2 148.5h1.5v1.5h-1.5zM564.5 148.2h1.5v1.5h-1.5zM566.4 148.2h1.5v1.5h-1.5zM646.7 149.0h1.5v1.5h-1.5zM562.8 149.6h1.5v1.5h-1.5zM643.3 149.6h1.5v1.5h-1.5zM563.0 150.8h1.5v1.5h-1.5zM644.8 151.0h1.5v1.5h-1.5zM646.6 150.4h1.5v1.5h-1.5zM561.4 152.1h1.5v1.5h-1.5zM648.2 151.7h1.5v1.5h-1.5zM652.7 152.1h1.5v1.5h-1.5zM556.7 152.7h1.5v1.5h-1.5zM650.1 152.8h1.5v1.5h-1.5zM557.7 154.3h1.5v1.5h-1.5zM559.2 154.3h1.5v1.5h-1.5zM552.5 154.3h1.5v1.5h-1.5zM652.6 154.9h1.5v1.5h-1.5zM653.4 155.2h1.5v1.5h-1.5zM555.1 156.0h1.5v1.5h-1.5zM555.9 156.0h1.5v1.5h-1.5zM652.7 155.7h1.5v1.5h-1.5zM653.8 156.1h1.5v1.5h-1.5zM654.9 156.6h1.5v1.5h-1.5zM658.6 157.1h1.5v1.5h-1.5zM654.3 157.9h1.5v1.5h-1.5zM657.8 157.7h1.5v1.5h-1.5zM550.3 159.1h1.5v1.5h-1.5zM655.4 158.8h1.5v1.5h-1.5zM553.3 159.8h1.5v1.5h-1.5zM551.7 160.4h1.5v1.5h-1.5zM551.6 163.6h1.5v1.5h-1.5zM551.6 165.1h1.5v1.5h-1.5zM658.1 164.3h1.5v1.5h-1.5zM551.7 167.8h1.5v1.5h-1.5zM550.6 168.5h1.5v1.5h-1.5zM551.6 168.4h1.5v1.5h-1.5zM658.0 168.6h1.5v1.5h-1.5zM551.3 169.3h1.5v1.5h-1.5zM658.0 170.0h1.5v1.5h-1.5zM553.2 171.2h1.5v1.5h-1.5zM552.2 172.1h1.5v1.5h-1.5zM552.3 172.7h1.5v1.5h-1.5zM656.2 172.3h1.5v1.5h-1.5zM656.0 173.2h1.5v1.5h-1.5zM655.2 175.1h1.5v1.5h-1.5zM555.3 175.6h1.5v1.5h-1.5zM552.5 176.4h1.5v1.5h-1.5zM652.1 177.5h1.5v1.5h-1.5zM659.4 177.3h1.5v1.5h-1.5zM560.2 178.6h1.5v1.5h-1.5zM649.7 178.7h1.5v1.5h-1.5zM560.0 179.8h1.5v1.5h-1.5zM561.8 179.6h1.5v1.5h-1.5zM648.7 179.6h1.5v1.5h-1.5zM562.7 180.9h1.5v1.5h-1.5zM645.9 180.9h1.5v1.5h-1.5zM646.3 181.9h1.5v1.5h-1.5zM563.2 182.7h1.5v1.5h-1.5zM566.7 183.1h1.5v1.5h-1.5zM642.6 182.8h1.5v1.5h-1.5zM644.0 182.2h1.5v1.5h-1.5zM565.3 184.1h1.5v1.5h-1.5zM567.1 183.6h1.5v1.5h-1.5zM641.4 184.2h1.5v1.5h-1.5zM567.7 184.8h1.5v1.5h-1.5zM570.1 185.0h1.5v1.5h-1.5zM637.2 185.1h1.5v1.5h-1.5zM637.9 184.6h1.5v1.5h-1.5zM638.3 184.2h1.5v1.5h-1.5zM572.3 185.4h1.5v1.5h-1.5zM576.3 186.1h1.5v1.5h-1.5zM634.6 186.1h1.5v1.5h-1.5zM577.0 187.2h1.5v1.5h-1.5zM630.4 187.2h1.5v1.5h-1.5zM632.2 186.9h1.5v1.5h-1.5zM635.5 186.5h1.5v1.5h-1.5zM636.9 186.4h1.5v1.5h-1.5zM568.7 188.2h1.5v1.5h-1.5zM573.3 188.1h1.5v1.5h-1.5zM582.1 187.4h1.5v1.5h-1.5zM623.7 187.9h1.5v1.5h-1.5zM625.9 188.3h1.5v1.5h-1.5zM628.2 187.9h1.5v1.5h-1.5zM632.1 187.6h1.5v1.5h-1.5zM592.8 188.6h1.5v1.5h-1.5zM622.1 189.2h1.5v1.5h-1.5zM586.2 189.2h1.5v1.5h-1.5zM594.6 189.5h1.5v1.5h-1.5zM598.2 190.0h1.5v1.5h-1.5zM604.4 189.2h1.5v1.5h-1.5zM613.0 190.3h1.5v1.5h-1.5zM618.2 189.7h1.5v1.5h-1.5zM619.3 189.2h1.5v1.5h-1.5zM584.2 190.4h1.5v1.5h-1.5zM596.2 190.8h1.5v1.5h-1.5zM598.7 190.7h1.5v1.5h-1.5zM605.1 190.5h1.5v1.5h-1.5zM608.2 190.2h1.5v1.5h-1.5zM612.2 190.7h1.5v1.5h-1.5zM624.2 190.7h1.5v1.5h-1.5zM602.7 191.4h1.5v1.5h-1.5z" fill="#808080"/><path d="M593.2 146.3h1.5v1.5h-1.5zM596.6 146.8h1.5v1.5h-1.5zM615.3 146.2h1.5v1.5h-1.5zM615.9 146.7h1.5v1.5h-1.5zM584.3 147.7h1.5v1.5h-1.5zM586.7 147.8h1.5v1.5h-1.5zM588.2 147.8h1.5v1.5h-1.5zM589.9 147.2h1.5v1.5h-1.5zM581.6 149.0h1.5v1.5h-1.5zM582.8 148.7h1.5v1.5h-1.5zM584.6 149.3h1.5v1.5h-1.5zM585.4 148.5h1.5v1.5h-1.5zM587.6 149.1h1.5v1.5h-1.5zM623.2 148.4h1.5v1.5h-1.5zM628.1 149.2h1.5v1.5h-1.5zM585.8 149.3h1.5v1.5h-1.5zM627.1 150.2h1.5v1.5h-1.5zM572.5 151.8h1.5v1.5h-1.5zM574.1 151.4h1.5v1.5h-1.5zM635.2 153.2h1.5v1.5h-1.5zM637.1 152.5h1.5v1.5h-1.5zM570.1 153.7h1.5v1.5h-1.5zM638.5 154.7h1.5v1.5h-1.5zM640.4 154.2h1.5v1.5h-1.5zM641.5 155.2h1.5v1.5h-1.5zM642.2 155.1h1.5v1.5h-1.5zM564.2 156.7h1.5v1.5h-1.5zM643.4 157.2h1.5v1.5h-1.5zM567.2 158.2h1.5v1.5h-1.5zM648.2 161.2h1.5v1.5h-1.5zM650.9 162.6h1.5v1.5h-1.5zM559.1 164.8h1.5v1.5h-1.5zM648.7 164.3h1.5v1.5h-1.5zM650.9 166.7h1.5v1.5h-1.5zM562.4 170.1h1.5v1.5h-1.5zM650.8 170.3h1.5v1.5h-1.5zM650.1 171.1h1.5v1.5h-1.5zM559.5 171.4h1.5v1.5h-1.5zM648.3 172.2h1.5v1.5h-1.5zM647.3 173.4h1.5v1.5h-1.5zM645.2 174.6h1.5v1.5h-1.5zM647.2 174.9h1.5v1.5h-1.5zM565.2 177.1h1.5v1.5h-1.5zM570.1 177.5h1.5v1.5h-1.5zM637.6 177.7h1.5v1.5h-1.5zM641.2 178.1h1.5v1.5h-1.5zM642.8 177.6h1.5v1.5h-1.5zM636.7 180.2h1.5v1.5h-1.5zM573.0 181.1h1.5v1.5h-1.5zM575.5 180.7h1.5v1.5h-1.5zM575.3 182.2h1.5v1.5h-1.5zM575.4 182.2h1.5v1.5h-1.5zM579.9 181.3h1.5v1.5h-1.5zM631.4 182.9h1.5v1.5h-1.5zM585.3 184.1h1.5v1.5h-1.5zM587.7 185.1h1.5v1.5h-1.5zM622.2 185.1h1.5v1.5h-1.5zM613.6 185.8h1.5v1.5h-1.5z" fill="#808080"/><path d="M615.0 143.7h1.4v1.4h-1.4zM594.5 144.3h1.4v1.4h-1.4zM614.9 145.4h1.4v1.4h-1.4zM626.6 147.3h1.4v1.4h-1.4zM574.2 147.5h1.4v1.4h-1.4zM632.2 149.3h1.4v1.4h-1.4zM642.7 153.7h1.4v1.4h-1.4zM563.4 154.9h1.4v1.4h-1.4zM556.2 160.8h1.4v1.4h-1.4zM652.9 161.1h1.4v1.4h-1.4zM555.9 164.2h1.4v1.4h-1.4zM552.5 165.6h1.4v1.4h-1.4zM656.8 170.4h1.4v1.4h-1.4zM558.3 170.8h1.4v1.4h-1.4zM557.4 174.0h1.4v1.4h-1.4zM646.9 177.4h1.4v1.4h-1.4zM564.5 178.1h1.4v1.4h-1.4zM645.0 179.3h1.4v1.4h-1.4zM571.3 181.6h1.4v1.4h-1.4zM633.6 182.7h1.4v1.4h-1.4zM573.1 183.9h1.4v1.4h-1.4zM629.9 183.4h1.4v1.4h-1.4zM633.0 183.3h1.4v1.4h-1.4zM635.5 185.2h1.4v1.4h-1.4zM580.6 185.7h1.4v1.4h-1.4zM618.2 185.4h1.4v1.4h-1.4zM585.4 186.5h1.4v1.4h-1.4z" fill="#0000ff"/><path d="M599.8 147.2h1.5v1.5h-1.5zM615.6 148.3h1.5v1.5h-1.5zM589.8 148.9h1.5v1.5h-1.5zM595.2 148.3h1.5v1.5h-1.5zM608.9 148.2h1.5v1.5h-1.5zM613.6 149.2h1.5v1.5h-1.5zM620.6 148.9h1.5v1.5h-1.5zM586.4 150.1h1.5v1.5h-1.5zM599.7 150.2h1.5v1.5h-1.5zM619.8 150.1h1.5v1.5h-1.5zM621.8 149.9h1.5v1.5h-1.5zM625.6 151.2h1.5v1.5h-1.5zM629.2 151.6h1.5v1.5h-1.5zM628.3 153.2h1.5v1.5h-1.5zM627.3 156.3h1.5v1.5h-1.5zM575.0 158.2h1.5v1.5h-1.5zM633.3 159.0h1.5v1.5h-1.5zM573.3 160.1h1.5v1.5h-1.5zM639.0 161.8h1.5v1.5h-1.5zM572.3 164.1h1.5v1.5h-1.5zM638.3 164.9h1.5v1.5h-1.5zM571.8 166.1h1.5v1.5h-1.5zM572.5 168.0h1.5v1.5h-1.5zM638.0 171.4h1.5v1.5h-1.5zM574.1 172.4h1.5v1.5h-1.5zM636.4 172.6h1.5v1.5h-1.5zM635.3 173.3h1.5v1.5h-1.5zM635.3 174.7h1.5v1.5h-1.5zM635.3 175.2h1.5v1.5h-1.5zM580.3 177.7h1.5v1.5h-1.5zM632.5 177.7h1.5v1.5h-1.5zM624.1 181.0h1.5v1.5h-1.5zM628.7 180.6h1.5v1.5h-1.5zM619.3 181.2h1.5v1.5h-1.5zM620.6 182.8h1.5v1.5h-1.5zM589.4 183.4h1.5v1.5h-1.5zM593.1 183.9h1.5v1.5h-1.5zM596.4 183.4h1.5v1.5h-1.5zM599.3 184.4h1.5v1.5h-1.5zM611.8 184.7h1.5v1.5h-1.5zM614.4 184.3h1.5v1.5h-1.5zM602.3 185.5h1.5v1.5h-1.5z" fill="#0000ff"/><path d="M612.1 151.2h1.5v1.5h-1.5zM585.3 154.5h1.5v1.5h-1.5zM596.0 157.3h1.5v1.5h-1.5zM612.3 157.2h1.5v1.5h-1.5zM611.9 159.5h1.5v1.5h-1.5zM593.2 167.3h1.5v1.5h-1.5zM604.2 169.2h1.5v1.5h-1.5zM589.3 177.8h1.5v1.5h-1.5zM592.0 179.0h1.5v1.5h-1.5zM582.7 180.3h1.5v1.5h-1.5z" fill="#808080"/><path d="M582.5 180.2h1.5v1.5h-1.5zM584.1 180.4h1.5v1.5h-1.5zM584.9 181.7h1.5v1.5h-1.5zM586.8 182.1h1.5v1.5h-1.5zM603.8 181.3h1.5v1.5h-1.5zM583.6 182.6h1.5v1.5h-1.5zM593.3 183.2h1.5v1.5h-1.5zM596.2 182.9h1.5v1.5h-1.5zM587.1 183.5h1.5v1.5h-1.5zM588.1 183.5h1.5v1.5h-1.5zM590.0 183.6h1.5v1.5h-1.5zM591.0 183.2h1.5v1.5h-1.5zM592.4 183.7h1.5v1.5h-1.5zM595.3 184.0h1.5v1.5h-1.5zM597.6 183.9h1.5v1.5h-1.5zM585.1 184.4h1.5v1.5h-1.5zM585.5 184.6h1.5v1.5h-1.5zM586.3 184.4h1.5v1.5h-1.5zM588.8 185.2h1.5v1.5h-1.5zM590.1 185.2h1.5v1.5h-1.5zM591.9 184.8h1.5v1.5h-1.5zM592.7 184.5h1.5v1.5h-1.5zM594.1 184.7h1.5v1.5h-1.5zM596.7 184.5h1.5v1.5h-1.5zM598.5 185.0h1.5v1.5h-1.5zM601.4 184.7h1.5v1.5h-1.5zM590.2 185.5h1.5v1.5h-1.5zM591.0 185.7h1.5v1.5h-1.5zM592.5 185.6h1.5v1.5h-1.5zM583.1 186.5h1.5v1.5h-1.5zM587.0 186.2h1.5v1.5h-1.5z" fill="#2e8b20"/><path d="M567.7 137.4h1.5v1.5h-1.5zM582.2 137.6h1.5v1.5h-1.5zM566.7 138.7h1.5v1.5h-1.5zM573.2 138.6h1.5v1.5h-1.5zM575.8 138.8h1.5v1.5h-1.5zM576.3 139.1h1.5v1.5h-1.5zM581.7 139.2h1.5v1.5h-1.5zM582.7 139.1h1.5v1.5h-1.5zM558.3 139.9h1.5v1.5h-1.5zM561.8 139.5h1.5v1.5h-1.5zM565.2 140.2h1.5v1.5h-1.5zM565.5 139.4h1.5v1.5h-1.5zM566.2 140.2h1.5v1.5h-1.5zM569.8 139.6h1.5v1.5h-1.5zM575.3 139.2h1.5v1.5h-1.5zM576.7 139.7h1.5v1.5h-1.5zM577.8 140.3h1.5v1.5h-1.5zM578.9 140.3h1.5v1.5h-1.5zM585.1 139.4h1.5v1.5h-1.5zM589.6 139.6h1.5v1.5h-1.5zM553.3 140.8h1.5v1.5h-1.5zM567.3 140.8h1.5v1.5h-1.5zM567.2 140.3h1.5v1.5h-1.5zM570.7 140.6h1.5v1.5h-1.5zM574.9 140.5h1.5v1.5h-1.5zM578.5 140.7h1.5v1.5h-1.5zM581.3 140.4h1.5v1.5h-1.5zM581.6 140.8h1.5v1.5h-1.5zM588.1 140.9h1.5v1.5h-1.5zM602.2 140.5h1.5v1.5h-1.5zM567.5 142.1h1.5v1.5h-1.5zM575.9 141.3h1.5v1.5h-1.5zM577.5 142.2h1.5v1.5h-1.5zM579.7 141.9h1.5v1.5h-1.5zM582.5 141.3h1.5v1.5h-1.5zM599.4 142.1h1.5v1.5h-1.5zM575.1 142.8h1.5v1.5h-1.5zM581.9 143.3h1.5v1.5h-1.5z" fill="#2e8b20"/><path d="M536.2 127.0h1.5v1.5h-1.5zM537.1 127.9h1.5v1.5h-1.5zM543.8 127.5h1.5v1.5h-1.5zM546.4 129.3h1.5v1.5h-1.5zM534.9 131.0h1.5v1.5h-1.5zM536.4 130.7h1.5v1.5h-1.5zM541.2 131.1h1.5v1.5h-1.5zM546.9 130.5h1.5v1.5h-1.5zM550.8 131.0h1.5v1.5h-1.5zM552.3 130.7h1.5v1.5h-1.5zM554.3 131.2h1.5v1.5h-1.5zM541.6 132.4h1.5v1.5h-1.5zM542.5 132.4h1.5v1.5h-1.5zM551.3 132.8h1.5v1.5h-1.5zM531.6 134.3h1.5v1.5h-1.5zM537.0 134.2h1.5v1.5h-1.5zM541.0 133.3h1.5v1.5h-1.5zM541.8 133.6h1.5v1.5h-1.5zM543.9 133.9h1.5v1.5h-1.5zM548.4 133.6h1.5v1.5h-1.5zM524.7 135.2h1.5v1.5h-1.5zM532.5 134.4h1.5v1.5h-1.5zM533.3 134.5h1.5v1.5h-1.5zM540.4 135.0h1.5v1.5h-1.5zM542.5 135.2h1.5v1.5h-1.5zM543.8 134.2h1.5v1.5h-1.5zM544.9 135.2h1.5v1.5h-1.5zM546.5 134.2h1.5v1.5h-1.5zM550.1 134.2h1.5v1.5h-1.5zM552.2 134.6h1.5v1.5h-1.5zM532.0 135.4h1.5v1.5h-1.5zM539.8 136.3h1.5v1.5h-1.5zM541.4 135.7h1.5v1.5h-1.5zM543.1 136.2h1.5v1.5h-1.5zM545.4 135.3h1.5v1.5h-1.5zM554.0 136.1h1.5v1.5h-1.5zM521.4 136.7h1.5v1.5h-1.5zM537.1 137.2h1.5v1.5h-1.5zM539.3 136.8h1.5v1.5h-1.5zM539.6 136.5h1.5v1.5h-1.5zM540.4 137.3h1.5v1.5h-1.5zM543.5 136.3h1.5v1.5h-1.5zM546.1 137.3h1.5v1.5h-1.5zM546.8 137.3h1.5v1.5h-1.5zM535.3 138.1h1.5v1.5h-1.5zM536.7 138.1h1.5v1.5h-1.5zM537.5 137.2h1.5v1.5h-1.5zM548.3 137.9h1.5v1.5h-1.5zM550.7 138.3h1.5v1.5h-1.5zM558.2 137.9h1.5v1.5h-1.5zM541.8 139.0h1.5v1.5h-1.5zM542.9 139.3h1.5v1.5h-1.5zM543.6 138.6h1.5v1.5h-1.5zM546.0 138.5h1.5v1.5h-1.5zM547.0 138.3h1.5v1.5h-1.5zM542.2 139.2h1.5v1.5h-1.5zM544.2 139.9h1.5v1.5h-1.5zM537.8 141.3h1.5v1.5h-1.5zM542.3 142.1h1.5v1.5h-1.5z" fill="#2e8b20"/><path d="M631.5 183.9h1.5v1.5h-1.5zM647.9 184.3h1.5v1.5h-1.5zM633.5 186.3h1.5v1.5h-1.5zM620.2 186.8h1.5v1.5h-1.5zM637.9 186.3h1.5v1.5h-1.5zM646.2 186.3h1.5v1.5h-1.5zM633.0 187.6h1.5v1.5h-1.5zM636.3 188.0h1.5v1.5h-1.5zM639.0 187.5h1.5v1.5h-1.5zM648.2 187.7h1.5v1.5h-1.5zM636.7 188.6h1.5v1.5h-1.5zM637.3 189.0h1.5v1.5h-1.5zM636.0 190.1h1.5v1.5h-1.5zM635.2 191.3h1.5v1.5h-1.5z" fill="#2e8b20"/><path d="M622.0 131.2h1.2v1.2h-1.2zM654.5 133.4h1.2v1.2h-1.2zM547.9 134.2h1.2v1.2h-1.2zM596.7 136.5h1.2v1.2h-1.2zM640.9 136.3h1.2v1.2h-1.2zM652.5 137.6h1.2v1.2h-1.2zM602.6 140.2h1.2v1.2h-1.2zM600.4 141.6h1.2v1.2h-1.2zM660.2 141.5h1.2v1.2h-1.2zM599.4 142.8h1.2v1.2h-1.2zM574.9 144.0h1.2v1.2h-1.2zM589.9 143.9h1.2v1.2h-1.2zM568.6 146.5h1.2v1.2h-1.2zM628.7 146.2h1.2v1.2h-1.2zM589.7 146.5h1.2v1.2h-1.2zM550.5 148.3h1.2v1.2h-1.2zM563.3 148.5h1.2v1.2h-1.2zM582.5 148.0h1.2v1.2h-1.2zM585.3 149.0h1.2v1.2h-1.2zM634.6 148.3h1.2v1.2h-1.2zM636.2 149.5h1.2v1.2h-1.2zM555.1 149.9h1.2v1.2h-1.2zM558.6 149.3h1.2v1.2h-1.2zM556.8 154.3h1.2v1.2h-1.2zM672.1 154.4h1.2v1.2h-1.2zM547.1 155.5h1.2v1.2h-1.2zM564.9 155.9h1.2v1.2h-1.2zM637.8 155.4h1.2v1.2h-1.2zM557.6 156.8h1.2v1.2h-1.2zM638.0 158.1h1.2v1.2h-1.2zM640.6 157.7h1.2v1.2h-1.2zM568.7 158.9h1.2v1.2h-1.2zM641.3 158.9h1.2v1.2h-1.2zM572.3 160.3h1.2v1.2h-1.2zM645.4 162.3h1.2v1.2h-1.2zM664.1 164.1h1.2v1.2h-1.2zM675.1 164.5h1.2v1.2h-1.2zM659.4 165.5h1.2v1.2h-1.2zM643.7 167.2h1.2v1.2h-1.2zM678.9 167.2h1.2v1.2h-1.2zM559.0 167.9h1.2v1.2h-1.2zM642.3 168.2h1.2v1.2h-1.2zM569.5 169.2h1.2v1.2h-1.2zM571.3 169.0h1.2v1.2h-1.2zM641.4 169.0h1.2v1.2h-1.2zM541.8 170.7h1.2v1.2h-1.2zM663.4 173.4h1.2v1.2h-1.2zM654.9 177.3h1.2v1.2h-1.2zM657.0 177.3h1.2v1.2h-1.2zM547.0 177.4h1.2v1.2h-1.2zM558.3 181.1h1.2v1.2h-1.2zM578.7 182.4h1.2v1.2h-1.2zM581.4 182.5h1.2v1.2h-1.2zM642.2 182.2h1.2v1.2h-1.2zM667.8 182.7h1.2v1.2h-1.2zM561.5 184.9h1.2v1.2h-1.2zM657.5 186.7h1.2v1.2h-1.2zM599.9 188.1h1.2v1.2h-1.2zM601.0 188.2h1.2v1.2h-1.2zM622.1 187.6h1.2v1.2h-1.2zM624.7 188.1h1.2v1.2h-1.2zM555.4 188.3h1.2v1.2h-1.2zM558.5 188.7h1.2v1.2h-1.2zM609.2 188.4h1.2v1.2h-1.2zM628.2 189.2h1.2v1.2h-1.2zM614.4 191.2h1.2v1.2h-1.2zM564.9 191.8h1.2v1.2h-1.2zM550.8 192.9h1.2v1.2h-1.2zM580.9 194.0h1.2v1.2h-1.2zM633.9 193.4h1.2v1.2h-1.2zM582.2 194.6h1.2v1.2h-1.2zM610.4 195.4h1.2v1.2h-1.2zM624.3 198.2h1.2v1.2h-1.2zM601.9 200.3h1.2v1.2h-1.2zM643.0 199.5h1.2v1.2h-1.2z" fill="#ffffff"/></g>
<path d="M404.5 202.5V12.6H681.5V202.5" fill="none" stroke="#b0b0b0" stroke-width="1.15"/>
<line x1="404.5" y1="202.5" x2="681.5" y2="202.5" stroke="#c2c2c2" stroke-width="1.2"/>
<line x1="402.5" y1="179.40" x2="404.5" y2="179.40" stroke="#999" stroke-width="0.8"/>
<line x1="402.5" y1="153.75" x2="404.5" y2="153.75" stroke="#999" stroke-width="0.8"/>
<line x1="402.5" y1="128.10" x2="404.5" y2="128.10" stroke="#999" stroke-width="0.8"/>
<line x1="402.5" y1="102.45" x2="404.5" y2="102.45" stroke="#999" stroke-width="0.8"/>
<line x1="402.5" y1="76.80" x2="404.5" y2="76.80" stroke="#999" stroke-width="0.8"/>
<line x1="402.5" y1="51.15" x2="404.5" y2="51.15" stroke="#999" stroke-width="0.8"/>
<line x1="402.5" y1="25.50" x2="404.5" y2="25.50" stroke="#999" stroke-width="0.8"/>
<line x1="421.90" y1="202.5" x2="421.90" y2="204.5" stroke="#bbb" stroke-width="0.8"/>
<line x1="459.10" y1="202.5" x2="459.10" y2="204.5" stroke="#bbb" stroke-width="0.8"/>
<line x1="496.30" y1="202.5" x2="496.30" y2="204.5" stroke="#bbb" stroke-width="0.8"/>
<line x1="533.50" y1="202.5" x2="533.50" y2="204.5" stroke="#bbb" stroke-width="0.8"/>
<line x1="570.70" y1="202.5" x2="570.70" y2="204.5" stroke="#bbb" stroke-width="0.8"/>
<line x1="607.90" y1="202.5" x2="607.90" y2="204.5" stroke="#bbb" stroke-width="0.8"/>
<line x1="645.10" y1="202.5" x2="645.10" y2="204.5" stroke="#bbb" stroke-width="0.8"/>
<rect x="556.9" y="19.3" width="119.2" height="42.9" rx="2.5" fill="#fff" fill-opacity="0.85" stroke="#dcdcdc" stroke-width="0.9"/>
<circle cx="563.4" cy="30.1" r="2.1" fill="#7e1e9c"/>
<circle cx="571.3" cy="30.1" r="2.1" fill="#ff0000"/>
<circle cx="579.2" cy="30.1" r="2.1" fill="#0000ff"/>
<circle cx="587.0" cy="30.1" r="2.1" fill="#2e8b20"/>
<circle cx="575.2" cy="49.8" r="2.1" fill="#808080"/>
<g id="scatterC"><path d="M92.3 253.4h1.3v1.3h-1.3zM89.7 255.1h1.3v1.3h-1.3zM95.1 255.9h1.3v1.3h-1.3zM96.9 256.3h1.3v1.3h-1.3zM64.0 257.3h1.3v1.3h-1.3zM66.0 257.4h1.3v1.3h-1.3zM100.3 257.3h1.3v1.3h-1.3zM100.8 258.4h1.3v1.3h-1.3zM63.4 259.3h1.3v1.3h-1.3zM104.0 258.4h1.3v1.3h-1.3zM60.4 261.3h1.3v1.3h-1.3zM109.3 263.1h1.3v1.3h-1.3zM109.4 263.8h1.3v1.3h-1.3zM56.1 266.3h1.3v1.3h-1.3zM45.4 266.5h1.3v1.3h-1.3zM52.1 268.4h1.3v1.3h-1.3zM111.5 268.7h1.3v1.3h-1.3zM109.7 271.4h1.3v1.3h-1.3zM44.4 272.3h1.3v1.3h-1.3zM44.3 273.4h1.3v1.3h-1.3zM57.3 277.4h1.3v1.3h-1.3zM58.6 276.8h1.3v1.3h-1.3zM65.1 277.4h1.3v1.3h-1.3zM68.7 278.8h1.3v1.3h-1.3zM93.2 278.3h1.3v1.3h-1.3zM94.3 278.6h1.3v1.3h-1.3zM75.9 280.8h1.3v1.3h-1.3zM77.9 281.3h1.3v1.3h-1.3z" fill="#2e8b20"/><path d="M68.0 274.3L68.0 273.5L68.0 272.5L68.0 271.4L68.0 270.3L68.0 269.1L68.0 267.9L68.0 266.7L68.0 265.5L68.0 264.2L68.0 263.0L68.0 261.8L68.0 260.8L68.0 259.9L68.0 259.2L68.0 258.5L68.0 257.9L69.0 257.3L70.4 256.8L71.9 256.3L73.6 255.9L75.4 255.6L77.2 255.3L79.0 255.1L80.9 255.0L82.8 255.0L84.8 255.1L86.8 255.3L88.8 255.5L90.8 255.8L92.6 256.2L94.3 256.6L96.0 257.1L97.5 257.7L99.1 258.3L100.5 259.0L101.9 259.7L103.3 260.5L104.6 261.3L105.9 262.3L107.0 263.2L108.1 264.1L108.9 264.9L109.6 265.6L110.1 266.3L110.4 267.0L110.6 267.6L110.7 268.3L110.7 269.0L110.6 269.8L110.3 270.5L109.9 271.3L109.3 272.2L108.6 272.9L107.7 273.7L106.5 274.4L105.2 275.2L103.6 275.9L101.9 276.6L100.2 277.2L98.4 277.8L96.6 278.3L94.7 278.8L92.7 279.2L90.7 279.6L88.7 279.9L86.7 280.1L84.7 280.2L82.8 280.2L80.8 280.1L78.9 279.9L76.9 279.7L75.0 279.5L73.0 279.2L71.0 278.8L69.1 278.4L68.0 277.9L68.0 277.5L68.0 277.2L68.0 276.9L68.0 276.7L68.0 276.6L68.0 276.4L68.0 276.2L68.0 276.0L68.0 275.8L68.0 275.6L68.0 275.5L68.0 275.2L68.0 274.9Z" fill="#2e8b20"/><path d="M67.3 257.8h1.4v1.4h-1.4zM65.7 259.3h1.4v1.4h-1.4zM66.9 258.7h1.4v1.4h-1.4zM67.6 259.4h1.4v1.4h-1.4zM64.1 259.9h1.4v1.4h-1.4zM64.9 260.0h1.4v1.4h-1.4zM65.4 259.6h1.4v1.4h-1.4zM68.3 259.9h1.4v1.4h-1.4zM61.4 260.6h1.4v1.4h-1.4zM62.8 261.0h1.4v1.4h-1.4zM64.4 260.9h1.4v1.4h-1.4zM64.6 261.1h1.4v1.4h-1.4zM66.7 260.3h1.4v1.4h-1.4zM62.6 261.5h1.4v1.4h-1.4zM65.5 261.9h1.4v1.4h-1.4zM67.4 262.0h1.4v1.4h-1.4zM59.8 262.3h1.4v1.4h-1.4zM60.5 262.6h1.4v1.4h-1.4zM62.0 262.4h1.4v1.4h-1.4zM64.2 262.4h1.4v1.4h-1.4zM64.9 262.4h1.4v1.4h-1.4zM66.4 262.5h1.4v1.4h-1.4zM66.6 263.1h1.4v1.4h-1.4zM67.7 263.2h1.4v1.4h-1.4zM58.6 263.7h1.4v1.4h-1.4zM60.3 263.8h1.4v1.4h-1.4zM60.4 264.1h1.4v1.4h-1.4zM62.5 263.4h1.4v1.4h-1.4zM64.2 264.0h1.4v1.4h-1.4zM64.4 263.5h1.4v1.4h-1.4zM66.8 263.7h1.4v1.4h-1.4zM60.1 265.1h1.4v1.4h-1.4zM60.8 265.3h1.4v1.4h-1.4zM62.3 264.2h1.4v1.4h-1.4zM64.0 264.5h1.4v1.4h-1.4zM66.2 264.7h1.4v1.4h-1.4zM66.9 265.1h1.4v1.4h-1.4zM56.6 266.0h1.4v1.4h-1.4zM59.3 265.2h1.4v1.4h-1.4zM60.9 265.6h1.4v1.4h-1.4zM61.6 265.8h1.4v1.4h-1.4zM63.2 265.5h1.4v1.4h-1.4zM63.6 266.2h1.4v1.4h-1.4zM64.5 266.0h1.4v1.4h-1.4zM67.2 265.2h1.4v1.4h-1.4zM67.4 265.7h1.4v1.4h-1.4zM54.2 266.5h1.4v1.4h-1.4zM58.0 266.9h1.4v1.4h-1.4zM60.0 266.8h1.4v1.4h-1.4zM61.4 266.9h1.4v1.4h-1.4zM63.1 266.9h1.4v1.4h-1.4zM64.0 266.7h1.4v1.4h-1.4zM65.1 266.7h1.4v1.4h-1.4zM65.3 266.4h1.4v1.4h-1.4zM67.1 266.3h1.4v1.4h-1.4zM54.4 267.4h1.4v1.4h-1.4zM55.3 268.4h1.4v1.4h-1.4zM57.4 267.4h1.4v1.4h-1.4zM62.5 267.4h1.4v1.4h-1.4zM64.1 267.3h1.4v1.4h-1.4zM64.7 268.1h1.4v1.4h-1.4zM67.2 267.5h1.4v1.4h-1.4zM56.2 268.4h1.4v1.4h-1.4zM58.2 268.4h1.4v1.4h-1.4zM59.3 268.6h1.4v1.4h-1.4zM61.4 269.3h1.4v1.4h-1.4zM61.5 268.2h1.4v1.4h-1.4zM62.7 269.3h1.4v1.4h-1.4zM63.9 269.3h1.4v1.4h-1.4zM64.5 269.1h1.4v1.4h-1.4zM67.3 268.5h1.4v1.4h-1.4zM67.5 269.2h1.4v1.4h-1.4zM52.6 270.0h1.4v1.4h-1.4zM55.9 269.2h1.4v1.4h-1.4zM56.4 269.6h1.4v1.4h-1.4zM58.8 269.3h1.4v1.4h-1.4zM60.3 269.7h1.4v1.4h-1.4zM60.4 269.8h1.4v1.4h-1.4zM62.2 269.7h1.4v1.4h-1.4zM62.2 269.8h1.4v1.4h-1.4zM64.2 269.3h1.4v1.4h-1.4zM65.1 269.6h1.4v1.4h-1.4zM65.3 269.3h1.4v1.4h-1.4zM66.8 270.0h1.4v1.4h-1.4zM67.9 269.8h1.4v1.4h-1.4zM52.8 270.5h1.4v1.4h-1.4zM55.0 270.3h1.4v1.4h-1.4zM57.2 270.8h1.4v1.4h-1.4zM57.5 271.2h1.4v1.4h-1.4zM59.3 270.5h1.4v1.4h-1.4zM59.6 270.7h1.4v1.4h-1.4zM61.3 270.9h1.4v1.4h-1.4zM62.2 270.4h1.4v1.4h-1.4zM63.8 270.9h1.4v1.4h-1.4zM65.6 271.1h1.4v1.4h-1.4zM68.1 270.6h1.4v1.4h-1.4zM48.5 271.5h1.4v1.4h-1.4zM51.7 272.3h1.4v1.4h-1.4zM58.8 272.3h1.4v1.4h-1.4zM60.2 272.1h1.4v1.4h-1.4zM61.3 271.7h1.4v1.4h-1.4zM61.5 271.9h1.4v1.4h-1.4zM65.1 271.7h1.4v1.4h-1.4zM65.6 272.3h1.4v1.4h-1.4zM68.3 272.0h1.4v1.4h-1.4zM48.6 273.3h1.4v1.4h-1.4zM51.9 272.4h1.4v1.4h-1.4zM56.4 272.7h1.4v1.4h-1.4zM60.5 273.0h1.4v1.4h-1.4zM61.8 273.2h1.4v1.4h-1.4zM63.4 272.4h1.4v1.4h-1.4zM63.8 273.3h1.4v1.4h-1.4zM66.2 272.4h1.4v1.4h-1.4zM66.6 272.2h1.4v1.4h-1.4zM67.6 273.3h1.4v1.4h-1.4zM46.2 273.5h1.4v1.4h-1.4zM48.1 273.8h1.4v1.4h-1.4zM50.4 273.4h1.4v1.4h-1.4zM54.3 273.6h1.4v1.4h-1.4zM57.5 273.2h1.4v1.4h-1.4zM59.2 274.0h1.4v1.4h-1.4zM62.3 273.3h1.4v1.4h-1.4zM63.2 273.6h1.4v1.4h-1.4zM65.1 273.4h1.4v1.4h-1.4zM66.1 273.9h1.4v1.4h-1.4zM66.5 274.3h1.4v1.4h-1.4zM67.5 274.0h1.4v1.4h-1.4zM52.5 275.2h1.4v1.4h-1.4zM53.6 275.4h1.4v1.4h-1.4zM56.1 275.2h1.4v1.4h-1.4zM56.6 275.1h1.4v1.4h-1.4zM60.5 274.7h1.4v1.4h-1.4zM63.0 274.5h1.4v1.4h-1.4zM64.6 274.8h1.4v1.4h-1.4zM66.3 274.4h1.4v1.4h-1.4zM67.2 274.6h1.4v1.4h-1.4zM58.0 276.1h1.4v1.4h-1.4zM59.3 275.6h1.4v1.4h-1.4zM60.0 275.6h1.4v1.4h-1.4zM60.7 276.1h1.4v1.4h-1.4zM61.5 276.2h1.4v1.4h-1.4zM65.1 275.7h1.4v1.4h-1.4zM66.1 275.5h1.4v1.4h-1.4zM66.9 275.9h1.4v1.4h-1.4zM68.2 275.9h1.4v1.4h-1.4zM64.3 276.8h1.4v1.4h-1.4zM64.3 276.3h1.4v1.4h-1.4zM65.3 276.6h1.4v1.4h-1.4zM66.8 277.3h1.4v1.4h-1.4z" fill="#2e8b20"/><path d="M84.1 255.2h1.5v1.5h-1.5zM70.8 257.1h1.5v1.5h-1.5zM86.3 256.4h1.5v1.5h-1.5zM82.0 258.0h1.5v1.5h-1.5zM93.7 257.4h1.5v1.5h-1.5zM71.9 258.4h1.5v1.5h-1.5zM75.6 258.6h1.5v1.5h-1.5zM72.2 260.0h1.5v1.5h-1.5zM76.1 260.3h1.5v1.5h-1.5zM103.3 260.2h1.5v1.5h-1.5zM83.3 261.4h1.5v1.5h-1.5zM69.6 262.9h1.5v1.5h-1.5zM90.7 262.8h1.5v1.5h-1.5zM70.3 264.9h1.5v1.5h-1.5zM95.5 264.3h1.5v1.5h-1.5zM104.1 264.2h1.5v1.5h-1.5zM74.3 265.6h1.5v1.5h-1.5zM91.6 266.9h1.5v1.5h-1.5zM103.4 266.3h1.5v1.5h-1.5zM77.9 267.2h1.5v1.5h-1.5zM79.2 267.4h1.5v1.5h-1.5zM79.9 267.9h1.5v1.5h-1.5zM82.2 267.4h1.5v1.5h-1.5zM102.6 267.2h1.5v1.5h-1.5zM106.5 267.9h1.5v1.5h-1.5zM70.5 268.9h1.5v1.5h-1.5zM107.2 268.2h1.5v1.5h-1.5zM80.7 271.0h1.5v1.5h-1.5zM91.3 271.1h1.5v1.5h-1.5zM98.7 271.5h1.5v1.5h-1.5zM78.9 272.7h1.5v1.5h-1.5zM91.2 272.3h1.5v1.5h-1.5zM95.2 272.5h1.5v1.5h-1.5zM87.0 274.5h1.5v1.5h-1.5zM89.4 275.0h1.5v1.5h-1.5zM104.1 274.8h1.5v1.5h-1.5zM82.1 275.4h1.5v1.5h-1.5zM85.6 275.3h1.5v1.5h-1.5zM83.4 277.5h1.5v1.5h-1.5zM78.1 278.2h1.5v1.5h-1.5z" fill="#808080"/><path d="M112.2 262.7h1.4v1.4h-1.4zM108.6 264.6h1.4v1.4h-1.4zM108.0 268.2h1.4v1.4h-1.4zM110.8 268.6h1.4v1.4h-1.4zM113.5 269.3h1.4v1.4h-1.4zM112.9 270.9h1.4v1.4h-1.4z" fill="#808080"/><path d="M139.3 366.7h1.2v1.2h-1.2zM153.8 367.7h1.2v1.2h-1.2zM155.4 368.3h1.2v1.2h-1.2zM130.8 368.5h1.2v1.2h-1.2zM138.0 368.3h1.2v1.2h-1.2zM138.8 369.0h1.2v1.2h-1.2zM143.0 368.3h1.2v1.2h-1.2zM159.2 368.6h1.2v1.2h-1.2zM160.8 369.3h1.2v1.2h-1.2zM167.0 368.8h1.2v1.2h-1.2zM127.9 369.7h1.2v1.2h-1.2zM128.9 370.1h1.2v1.2h-1.2zM130.5 369.8h1.2v1.2h-1.2zM127.1 371.4h1.2v1.2h-1.2zM124.3 371.8h1.2v1.2h-1.2zM184.0 380.7h1.2v1.2h-1.2zM183.2 385.6h1.2v1.2h-1.2zM175.0 390.5h1.2v1.2h-1.2zM105.9 395.0h1.2v1.2h-1.2zM111.3 395.7h1.2v1.2h-1.2zM157.8 397.0h1.2v1.2h-1.2zM117.9 399.3h1.2v1.2h-1.2zM150.8 398.5h1.2v1.2h-1.2z" fill="#0000ff"/><path d="M184.0 381.4L184.0 382.4L183.7 383.4L183.3 384.5L182.7 385.5L181.9 386.5L180.8 387.5L179.6 388.5L178.3 389.5L176.7 390.5L175.0 391.4L173.1 392.3L171.1 393.1L168.9 393.9L166.6 394.7L164.2 395.4L161.7 396.1L159.1 396.7L156.4 397.3L153.6 397.8L150.8 398.2L147.9 398.5L145.1 398.8L142.2 399.1L139.3 399.2L136.4 399.3L133.5 399.3L130.7 399.2L128.0 399.1L125.3 398.9L122.7 398.6L120.2 398.3L117.8 397.9L115.6 397.4L113.4 396.9L111.4 396.3L109.6 395.6L107.9 394.9L106.4 394.2L105.1 393.4L103.9 392.5L102.9 391.6L102.2 390.7L101.6 389.8L101.2 388.8L101.0 387.8L101.0 386.8L101.3 385.8L101.7 384.7L102.3 383.7L103.1 382.7L104.2 381.7L105.4 380.7L106.7 379.7L108.3 378.7L110.0 377.8L111.9 376.9L113.9 376.1L116.1 375.3L118.4 374.5L120.8 373.8L123.3 373.1L125.9 372.5L128.6 371.9L131.4 371.4L134.2 371.0L137.1 370.7L139.9 370.4L142.8 370.1L145.7 370.0L148.6 369.9L151.5 369.9L154.3 370.0L157.0 370.1L159.7 370.3L162.3 370.6L164.8 370.9L167.2 371.3L169.4 371.8L171.6 372.3L173.6 372.9L175.4 373.6L177.1 374.3L178.6 375.0L179.9 375.8L181.1 376.7L182.1 377.6L182.8 378.5L183.4 379.4L183.8 380.4Z" fill="#0000ff"/><path d="M144.5 369.6h1.2v1.2h-1.2zM152.7 370.0h1.2v1.2h-1.2zM155.3 370.1h1.2v1.2h-1.2zM159.4 369.3h1.2v1.2h-1.2zM135.7 370.8h1.2v1.2h-1.2zM148.6 370.5h1.2v1.2h-1.2zM155.5 370.9h1.2v1.2h-1.2zM158.3 370.7h1.2v1.2h-1.2zM159.2 371.0h1.2v1.2h-1.2zM126.7 372.4h1.2v1.2h-1.2zM133.3 371.9h1.2v1.2h-1.2zM123.5 372.7h1.2v1.2h-1.2zM164.5 372.3h1.2v1.2h-1.2zM172.5 372.7h1.2v1.2h-1.2zM172.9 373.5h1.2v1.2h-1.2zM118.1 374.3h1.2v1.2h-1.2zM166.0 373.7h1.2v1.2h-1.2zM170.2 373.4h1.2v1.2h-1.2zM170.5 373.7h1.2v1.2h-1.2zM174.0 373.4h1.2v1.2h-1.2zM117.4 374.9h1.2v1.2h-1.2zM115.4 375.7h1.2v1.2h-1.2zM113.3 376.9h1.2v1.2h-1.2zM110.5 377.5h1.2v1.2h-1.2zM179.0 377.4h1.2v1.2h-1.2zM182.2 378.4h1.2v1.2h-1.2zM105.2 380.4h1.2v1.2h-1.2zM105.5 379.4h1.2v1.2h-1.2zM106.4 379.4h1.2v1.2h-1.2zM113.2 379.5h1.2v1.2h-1.2zM103.6 381.4h1.2v1.2h-1.2zM104.3 380.5h1.2v1.2h-1.2zM102.8 381.6h1.2v1.2h-1.2zM181.1 383.1h1.2v1.2h-1.2zM181.4 384.4h1.2v1.2h-1.2zM174.4 386.2h1.2v1.2h-1.2zM165.4 387.2h1.2v1.2h-1.2zM178.1 387.4h1.2v1.2h-1.2zM180.0 387.2h1.2v1.2h-1.2zM179.5 388.2h1.2v1.2h-1.2zM103.5 392.1h1.2v1.2h-1.2zM107.0 391.9h1.2v1.2h-1.2zM154.5 391.6h1.2v1.2h-1.2zM171.3 392.1h1.2v1.2h-1.2zM109.2 392.7h1.2v1.2h-1.2zM111.6 392.9h1.2v1.2h-1.2zM160.9 393.3h1.2v1.2h-1.2zM165.3 392.8h1.2v1.2h-1.2zM166.0 392.7h1.2v1.2h-1.2zM157.1 393.8h1.2v1.2h-1.2zM160.9 393.9h1.2v1.2h-1.2zM165.0 393.4h1.2v1.2h-1.2zM159.3 394.5h1.2v1.2h-1.2zM112.1 395.8h1.2v1.2h-1.2zM123.4 395.8h1.2v1.2h-1.2zM135.2 396.0h1.2v1.2h-1.2zM149.0 395.3h1.2v1.2h-1.2zM151.2 395.4h1.2v1.2h-1.2zM153.1 396.0h1.2v1.2h-1.2zM155.3 395.3h1.2v1.2h-1.2zM123.6 397.1h1.2v1.2h-1.2zM138.6 397.2h1.2v1.2h-1.2zM139.8 396.9h1.2v1.2h-1.2zM150.4 396.6h1.2v1.2h-1.2zM151.6 397.2h1.2v1.2h-1.2zM153.5 396.5h1.2v1.2h-1.2zM122.2 398.1h1.2v1.2h-1.2zM126.2 398.1h1.2v1.2h-1.2zM127.1 398.2h1.2v1.2h-1.2zM129.7 398.4h1.2v1.2h-1.2zM134.2 397.4h1.2v1.2h-1.2zM135.3 398.1h1.2v1.2h-1.2zM145.2 398.1h1.2v1.2h-1.2z" fill="#ffffff"/><path d="M175.5 382.0L175.5 382.8L175.3 383.7L175.0 384.6L174.5 385.5L173.8 386.4L173.0 387.3L172.1 388.2L171.0 389.1L169.8 389.9L168.4 390.7L166.9 391.5L165.3 392.2L163.5 392.9L161.7 393.6L159.8 394.2L157.8 394.8L155.7 395.3L153.6 395.8L151.4 396.2L149.1 396.5L146.8 396.8L144.5 397.1L142.2 397.2L139.9 397.4L137.6 397.4L135.3 397.4L133.1 397.3L130.9 397.2L128.8 397.0L126.7 396.7L124.7 396.4L122.8 396.0L121.0 395.6L119.3 395.1L117.7 394.6L116.2 394.0L114.8 393.4L113.6 392.7L112.6 392.0L111.6 391.2L110.8 390.4L110.2 389.6L109.8 388.8L109.4 387.9L109.3 387.0L109.3 386.2L109.5 385.3L109.8 384.4L110.3 383.5L111.0 382.6L111.8 381.7L112.7 380.8L113.8 379.9L115.0 379.1L116.4 378.3L117.9 377.5L119.5 376.8L121.3 376.1L123.1 375.4L125.0 374.8L127.0 374.2L129.1 373.7L131.2 373.2L133.4 372.8L135.7 372.5L138.0 372.2L140.3 371.9L142.6 371.8L144.9 371.6L147.2 371.6L149.5 371.6L151.7 371.7L153.9 371.8L156.0 372.0L158.1 372.3L160.1 372.6L162.0 373.0L163.8 373.4L165.5 373.9L167.1 374.4L168.6 375.0L170.0 375.6L171.2 376.3L172.2 377.0L173.2 377.8L174.0 378.6L174.6 379.4L175.0 380.2L175.4 381.1ZM163.9 382.8L163.9 383.4L163.8 384.0L163.6 384.6L163.3 385.2L162.9 385.8L162.3 386.4L161.7 387.0L161.0 387.6L160.2 388.1L159.3 388.7L158.3 389.2L157.3 389.7L156.2 390.2L155.0 390.6L153.7 391.0L152.4 391.4L151.1 391.7L149.7 392.0L148.2 392.3L146.8 392.6L145.3 392.8L143.8 392.9L142.3 393.0L140.8 393.1L139.3 393.1L137.8 393.1L136.4 393.1L134.9 393.0L133.5 392.8L132.2 392.7L130.9 392.5L129.7 392.2L128.5 391.9L127.4 391.6L126.3 391.2L125.4 390.8L124.5 390.4L123.7 389.9L123.0 389.5L122.4 389.0L121.9 388.4L121.5 387.9L121.2 387.3L121.0 386.7L120.9 386.2L120.9 385.6L121.0 385.0L121.2 384.4L121.5 383.8L121.9 383.2L122.5 382.6L123.1 382.0L123.8 381.4L124.6 380.9L125.5 380.3L126.5 379.8L127.5 379.3L128.6 378.8L129.8 378.4L131.1 378.0L132.4 377.6L133.7 377.3L135.1 377.0L136.6 376.7L138.0 376.4L139.5 376.2L141.0 376.1L142.5 376.0L144.0 375.9L145.5 375.9L147.0 375.9L148.4 375.9L149.9 376.0L151.3 376.2L152.6 376.3L153.9 376.5L155.1 376.8L156.3 377.1L157.4 377.4L158.5 377.8L159.4 378.2L160.3 378.6L161.1 379.1L161.8 379.5L162.4 380.0L162.9 380.6L163.3 381.1L163.6 381.7L163.8 382.3Z" fill="#808080" fill-rule="evenodd"/><path d="M163.9 382.8L163.9 383.4L163.8 384.0L163.6 384.6L163.3 385.2L162.9 385.8L162.3 386.4L161.7 387.0L161.0 387.6L160.2 388.1L159.3 388.7L158.3 389.2L157.3 389.7L156.2 390.2L155.0 390.6L153.7 391.0L152.4 391.4L151.1 391.7L149.7 392.0L148.2 392.3L146.8 392.6L145.3 392.8L143.8 392.9L142.3 393.0L140.8 393.1L139.3 393.1L137.8 393.1L136.4 393.1L134.9 393.0L133.5 392.8L132.2 392.7L130.9 392.5L129.7 392.2L128.5 391.9L127.4 391.6L126.3 391.2L125.4 390.8L124.5 390.4L123.7 389.9L123.0 389.5L122.4 389.0L121.9 388.4L121.5 387.9L121.2 387.3L121.0 386.7L120.9 386.2L120.9 385.6L121.0 385.0L121.2 384.4L121.5 383.8L121.9 383.2L122.5 382.6L123.1 382.0L123.8 381.4L124.6 380.9L125.5 380.3L126.5 379.8L127.5 379.3L128.6 378.8L129.8 378.4L131.1 378.0L132.4 377.6L133.7 377.3L135.1 377.0L136.6 376.7L138.0 376.4L139.5 376.2L141.0 376.1L142.5 376.0L144.0 375.9L145.5 375.9L147.0 375.9L148.4 375.9L149.9 376.0L151.3 376.2L152.6 376.3L153.9 376.5L155.1 376.8L156.3 377.1L157.4 377.4L158.5 377.8L159.4 378.2L160.3 378.6L161.1 379.1L161.8 379.5L162.4 380.0L162.9 380.6L163.3 381.1L163.6 381.7L163.8 382.3Z" fill="#ffffff"/><path d="M137.3 376.3h1.3v1.3h-1.3zM138.2 375.3h1.3v1.3h-1.3zM148.4 375.4h1.3v1.3h-1.3zM148.8 375.6h1.3v1.3h-1.3zM134.8 377.0h1.3v1.3h-1.3zM137.7 376.6h1.3v1.3h-1.3zM139.3 377.0h1.3v1.3h-1.3zM129.7 377.8h1.3v1.3h-1.3zM130.3 378.1h1.3v1.3h-1.3zM139.7 377.6h1.3v1.3h-1.3zM141.3 377.5h1.3v1.3h-1.3zM142.2 377.3h1.3v1.3h-1.3zM143.4 378.4h1.3v1.3h-1.3zM129.5 378.4h1.3v1.3h-1.3zM145.8 379.4h1.3v1.3h-1.3zM155.1 379.0h1.3v1.3h-1.3zM160.3 379.2h1.3v1.3h-1.3zM127.9 379.7h1.3v1.3h-1.3zM133.4 380.1h1.3v1.3h-1.3zM136.2 379.6h1.3v1.3h-1.3zM141.8 380.4h1.3v1.3h-1.3zM154.2 379.3h1.3v1.3h-1.3zM159.9 379.5h1.3v1.3h-1.3zM162.2 379.3h1.3v1.3h-1.3zM125.6 381.2h1.3v1.3h-1.3zM131.4 381.4h1.3v1.3h-1.3zM133.0 381.4h1.3v1.3h-1.3zM134.5 380.3h1.3v1.3h-1.3zM139.8 381.4h1.3v1.3h-1.3zM147.1 380.8h1.3v1.3h-1.3zM150.7 381.0h1.3v1.3h-1.3zM152.3 381.2h1.3v1.3h-1.3zM157.0 381.1h1.3v1.3h-1.3zM161.4 380.3h1.3v1.3h-1.3zM123.9 382.3h1.3v1.3h-1.3zM124.5 381.3h1.3v1.3h-1.3zM135.3 382.0h1.3v1.3h-1.3zM143.2 381.4h1.3v1.3h-1.3zM152.7 381.7h1.3v1.3h-1.3zM125.1 382.7h1.3v1.3h-1.3zM126.9 382.5h1.3v1.3h-1.3zM129.6 382.3h1.3v1.3h-1.3zM134.5 383.2h1.3v1.3h-1.3zM135.5 382.5h1.3v1.3h-1.3zM140.6 383.3h1.3v1.3h-1.3zM150.2 382.5h1.3v1.3h-1.3zM135.8 384.4h1.3v1.3h-1.3zM137.0 384.1h1.3v1.3h-1.3zM149.4 384.1h1.3v1.3h-1.3zM158.6 383.7h1.3v1.3h-1.3zM162.6 383.5h1.3v1.3h-1.3zM129.4 385.4h1.3v1.3h-1.3zM132.3 384.4h1.3v1.3h-1.3zM159.3 384.9h1.3v1.3h-1.3zM123.0 385.9h1.3v1.3h-1.3zM146.4 385.3h1.3v1.3h-1.3zM149.8 385.6h1.3v1.3h-1.3zM120.8 387.4h1.3v1.3h-1.3zM125.1 386.3h1.3v1.3h-1.3zM127.3 387.0h1.3v1.3h-1.3zM132.2 386.3h1.3v1.3h-1.3zM154.6 386.4h1.3v1.3h-1.3zM159.2 386.9h1.3v1.3h-1.3zM160.2 387.4h1.3v1.3h-1.3zM137.9 387.9h1.3v1.3h-1.3zM139.4 387.5h1.3v1.3h-1.3zM147.0 388.2h1.3v1.3h-1.3zM149.1 388.3h1.3v1.3h-1.3zM150.1 387.9h1.3v1.3h-1.3zM154.3 387.7h1.3v1.3h-1.3zM154.9 388.4h1.3v1.3h-1.3zM157.4 387.7h1.3v1.3h-1.3zM157.3 388.3h1.3v1.3h-1.3zM123.3 389.3h1.3v1.3h-1.3zM131.5 388.7h1.3v1.3h-1.3zM141.3 388.6h1.3v1.3h-1.3zM156.3 389.2h1.3v1.3h-1.3zM128.2 390.3h1.3v1.3h-1.3zM145.3 389.7h1.3v1.3h-1.3zM146.5 390.4h1.3v1.3h-1.3zM127.1 391.1h1.3v1.3h-1.3zM128.3 390.8h1.3v1.3h-1.3zM131.2 391.3h1.3v1.3h-1.3zM134.9 391.6h1.3v1.3h-1.3zM138.2 392.3h1.3v1.3h-1.3zM138.6 391.7h1.3v1.3h-1.3z" fill="#808080"/><path d="M151.6 372.7h1.3v1.3h-1.3zM142.0 373.5h1.3v1.3h-1.3zM117.5 376.8h1.3v1.3h-1.3zM170.7 379.4h1.3v1.3h-1.3zM112.7 391.3h1.3v1.3h-1.3zM124.8 391.4h1.3v1.3h-1.3zM119.2 394.1h1.3v1.3h-1.3zM125.4 394.3h1.3v1.3h-1.3zM152.4 393.8h1.3v1.3h-1.3z" fill="#0000ff"/><path d="M155.2 374.6h1.4v1.4h-1.4zM156.6 374.6h1.4v1.4h-1.4zM155.3 375.3h1.4v1.4h-1.4zM157.3 375.7h1.4v1.4h-1.4zM159.2 376.0h1.4v1.4h-1.4zM155.7 376.6h1.4v1.4h-1.4zM156.6 376.9h1.4v1.4h-1.4zM157.4 376.9h1.4v1.4h-1.4zM155.3 378.2h1.4v1.4h-1.4zM156.6 378.1h1.4v1.4h-1.4zM157.4 378.4h1.4v1.4h-1.4zM159.0 378.2h1.4v1.4h-1.4zM155.8 378.7h1.4v1.4h-1.4zM161.2 378.5h1.4v1.4h-1.4zM161.2 378.3h1.4v1.4h-1.4zM120.7 380.3h1.4v1.4h-1.4zM158.7 379.6h1.4v1.4h-1.4zM162.1 379.3h1.4v1.4h-1.4zM120.0 380.4h1.4v1.4h-1.4zM121.2 380.8h1.4v1.4h-1.4zM122.1 380.8h1.4v1.4h-1.4zM122.2 381.3h1.4v1.4h-1.4zM156.3 380.7h1.4v1.4h-1.4zM158.8 380.7h1.4v1.4h-1.4zM159.9 380.9h1.4v1.4h-1.4zM160.3 380.3h1.4v1.4h-1.4zM161.3 380.9h1.4v1.4h-1.4zM120.3 382.2h1.4v1.4h-1.4zM123.0 382.2h1.4v1.4h-1.4zM123.8 381.4h1.4v1.4h-1.4zM158.0 382.1h1.4v1.4h-1.4zM158.5 382.2h1.4v1.4h-1.4zM159.8 382.4h1.4v1.4h-1.4zM161.3 382.1h1.4v1.4h-1.4zM161.7 381.3h1.4v1.4h-1.4zM120.7 382.8h1.4v1.4h-1.4zM121.9 382.3h1.4v1.4h-1.4zM124.1 383.2h1.4v1.4h-1.4zM159.1 382.8h1.4v1.4h-1.4zM160.3 383.1h1.4v1.4h-1.4zM162.0 383.0h1.4v1.4h-1.4zM162.5 382.3h1.4v1.4h-1.4zM163.4 383.2h1.4v1.4h-1.4zM119.8 383.3h1.4v1.4h-1.4zM120.2 383.6h1.4v1.4h-1.4zM123.0 383.5h1.4v1.4h-1.4zM158.7 383.3h1.4v1.4h-1.4zM161.4 383.3h1.4v1.4h-1.4zM162.0 383.7h1.4v1.4h-1.4zM163.3 383.9h1.4v1.4h-1.4zM163.3 383.4h1.4v1.4h-1.4zM119.5 384.5h1.4v1.4h-1.4zM121.2 385.2h1.4v1.4h-1.4zM160.1 384.9h1.4v1.4h-1.4zM160.9 384.2h1.4v1.4h-1.4zM122.2 385.3h1.4v1.4h-1.4zM123.0 385.2h1.4v1.4h-1.4zM125.4 386.3h1.4v1.4h-1.4zM126.5 386.0h1.4v1.4h-1.4zM159.6 385.7h1.4v1.4h-1.4zM160.8 386.3h1.4v1.4h-1.4zM163.2 385.5h1.4v1.4h-1.4zM121.0 387.2h1.4v1.4h-1.4zM121.5 386.4h1.4v1.4h-1.4zM123.7 387.3h1.4v1.4h-1.4zM126.2 386.4h1.4v1.4h-1.4zM161.2 387.2h1.4v1.4h-1.4zM163.7 387.3h1.4v1.4h-1.4zM120.6 387.7h1.4v1.4h-1.4zM122.4 388.0h1.4v1.4h-1.4zM122.5 387.8h1.4v1.4h-1.4zM124.8 388.2h1.4v1.4h-1.4zM126.3 387.9h1.4v1.4h-1.4zM126.7 388.2h1.4v1.4h-1.4zM128.1 387.5h1.4v1.4h-1.4zM122.8 388.5h1.4v1.4h-1.4zM123.7 388.9h1.4v1.4h-1.4zM126.0 389.3h1.4v1.4h-1.4zM129.0 388.4h1.4v1.4h-1.4zM121.2 390.3h1.4v1.4h-1.4zM126.7 389.6h1.4v1.4h-1.4zM128.6 389.5h1.4v1.4h-1.4zM126.2 391.3h1.4v1.4h-1.4zM127.2 391.1h1.4v1.4h-1.4zM124.5 391.3h1.4v1.4h-1.4zM126.2 392.1h1.4v1.4h-1.4zM126.3 391.9h1.4v1.4h-1.4zM128.7 391.3h1.4v1.4h-1.4zM127.3 393.3h1.4v1.4h-1.4zM127.8 393.1h1.4v1.4h-1.4z" fill="#0000ff"/><path d="M105.1 369.2h1.3v1.3h-1.3zM73.3 370.5h1.3v1.3h-1.3zM93.2 370.7h1.3v1.3h-1.3zM185.3 388.6h1.3v1.3h-1.3zM181.2 392.4h1.3v1.3h-1.3zM88.3 397.0h1.3v1.3h-1.3zM96.1 397.1h1.3v1.3h-1.3zM177.9 397.0h1.3v1.3h-1.3zM170.3 398.0h1.3v1.3h-1.3zM88.6 400.0h1.3v1.3h-1.3zM106.0 399.6h1.3v1.3h-1.3zM163.8 402.9h1.3v1.3h-1.3zM148.6 404.3h1.3v1.3h-1.3zM160.0 412.4h1.3v1.3h-1.3z" fill="#808080"/><path d="M183.3 432.3h1.3v1.3h-1.3zM141.5 435.1h1.3v1.3h-1.3zM159.4 435.4h1.3v1.3h-1.3zM192.2 434.3h1.3v1.3h-1.3zM188.4 436.0h1.3v1.3h-1.3zM191.2 436.6h1.3v1.3h-1.3zM191.2 437.7h1.3v1.3h-1.3zM136.3 438.4h1.3v1.3h-1.3zM134.4 442.4h1.3v1.3h-1.3zM136.0 441.9h1.3v1.3h-1.3zM191.6 444.0h1.3v1.3h-1.3zM133.1 448.3h1.3v1.3h-1.3zM179.1 451.4h1.3v1.3h-1.3zM180.2 452.0h1.3v1.3h-1.3zM175.7 452.7h1.3v1.3h-1.3zM139.6 453.5h1.3v1.3h-1.3zM157.0 454.2h1.3v1.3h-1.3zM161.2 453.8h1.3v1.3h-1.3zM161.3 454.4h1.3v1.3h-1.3zM166.2 454.4h1.3v1.3h-1.3zM140.8 455.0h1.3v1.3h-1.3zM147.6 454.7h1.3v1.3h-1.3zM158.8 455.6h1.3v1.3h-1.3zM150.0 456.4h1.3v1.3h-1.3zM172.8 456.6h1.3v1.3h-1.3zM138.3 458.7h1.3v1.3h-1.3z" fill="#7e1e9c"/><path d="M134.2 446.6L134.6 445.5L135.3 444.2L136.3 443.0L137.5 441.8L138.9 440.7L140.4 439.8L142.1 439.1L143.9 438.4L146.0 437.9L148.2 437.5L150.4 437.1L152.8 436.7L155.3 436.3L158.0 435.9L160.8 435.5L163.6 435.2L166.3 435.0L169.0 434.8L171.6 434.7L174.3 434.7L176.9 434.8L179.5 434.9L181.8 435.1L183.8 435.4L185.5 435.8L187.1 436.2L188.4 436.8L189.5 437.4L190.5 438.0L191.3 438.5L192.0 439.0L192.5 439.4L192.9 439.9L193.2 440.3L193.2 440.9L193.1 441.6L192.8 442.5L192.4 443.5L191.8 444.7L191.0 445.8L190.0 446.9L188.8 447.9L187.4 448.8L185.7 449.6L183.9 450.3L181.9 451.0L179.8 451.6L177.6 452.2L175.3 452.7L173.0 453.1L170.5 453.4L167.9 453.7L165.3 453.9L162.7 454.1L160.0 454.3L157.1 454.5L154.3 454.6L151.5 454.7L148.9 454.8L146.6 454.7L144.7 454.6L143.0 454.4L141.5 454.2L140.2 453.8L139.0 453.4L137.9 452.8L136.9 452.0L135.9 451.1L135.1 450.0L134.5 448.9L134.2 447.7Z" fill="#7e1e9c"/><path d="M138.0 434.1h1.4v1.4h-1.4zM141.2 433.6h1.4v1.4h-1.4zM177.0 434.2h1.4v1.4h-1.4zM140.3 434.8h1.4v1.4h-1.4zM141.8 434.7h1.4v1.4h-1.4zM143.6 434.8h1.4v1.4h-1.4zM145.6 434.5h1.4v1.4h-1.4zM150.2 434.2h1.4v1.4h-1.4zM156.3 435.4h1.4v1.4h-1.4zM164.3 435.1h1.4v1.4h-1.4zM166.8 435.2h1.4v1.4h-1.4zM168.3 435.4h1.4v1.4h-1.4zM169.9 435.1h1.4v1.4h-1.4zM182.6 435.0h1.4v1.4h-1.4zM183.6 435.2h1.4v1.4h-1.4zM186.5 434.3h1.4v1.4h-1.4zM145.4 436.0h1.4v1.4h-1.4zM153.6 436.4h1.4v1.4h-1.4zM156.0 436.4h1.4v1.4h-1.4zM156.9 436.1h1.4v1.4h-1.4zM157.4 435.4h1.4v1.4h-1.4zM159.8 435.8h1.4v1.4h-1.4zM163.7 436.2h1.4v1.4h-1.4zM172.6 436.1h1.4v1.4h-1.4zM178.1 436.1h1.4v1.4h-1.4zM181.6 436.1h1.4v1.4h-1.4zM188.2 436.3h1.4v1.4h-1.4zM190.4 435.3h1.4v1.4h-1.4zM191.8 435.3h1.4v1.4h-1.4zM142.2 437.2h1.4v1.4h-1.4zM147.2 437.2h1.4v1.4h-1.4zM149.2 436.8h1.4v1.4h-1.4zM156.8 436.6h1.4v1.4h-1.4zM159.5 436.9h1.4v1.4h-1.4zM162.3 437.0h1.4v1.4h-1.4zM164.2 437.1h1.4v1.4h-1.4zM168.9 436.8h1.4v1.4h-1.4zM175.2 436.2h1.4v1.4h-1.4zM176.1 436.8h1.4v1.4h-1.4zM179.8 437.2h1.4v1.4h-1.4zM180.9 437.0h1.4v1.4h-1.4zM182.7 437.0h1.4v1.4h-1.4zM185.2 437.0h1.4v1.4h-1.4zM188.2 437.2h1.4v1.4h-1.4zM137.3 438.0h1.4v1.4h-1.4zM139.2 437.7h1.4v1.4h-1.4zM140.2 438.1h1.4v1.4h-1.4zM143.3 437.4h1.4v1.4h-1.4zM144.3 438.3h1.4v1.4h-1.4zM144.6 438.2h1.4v1.4h-1.4zM148.5 437.9h1.4v1.4h-1.4zM150.3 437.5h1.4v1.4h-1.4zM150.2 437.7h1.4v1.4h-1.4zM154.8 437.2h1.4v1.4h-1.4zM158.3 437.3h1.4v1.4h-1.4zM165.0 437.8h1.4v1.4h-1.4zM166.2 437.3h1.4v1.4h-1.4zM173.3 437.4h1.4v1.4h-1.4zM175.5 437.9h1.4v1.4h-1.4zM182.4 437.4h1.4v1.4h-1.4zM184.9 437.3h1.4v1.4h-1.4zM188.1 437.8h1.4v1.4h-1.4zM188.9 437.4h1.4v1.4h-1.4zM190.1 438.2h1.4v1.4h-1.4zM191.3 437.5h1.4v1.4h-1.4zM136.7 438.7h1.4v1.4h-1.4zM141.3 438.4h1.4v1.4h-1.4zM142.4 438.4h1.4v1.4h-1.4zM159.5 438.4h1.4v1.4h-1.4zM164.4 438.7h1.4v1.4h-1.4zM165.9 439.0h1.4v1.4h-1.4zM168.9 438.8h1.4v1.4h-1.4zM170.2 439.3h1.4v1.4h-1.4zM174.1 438.6h1.4v1.4h-1.4zM175.5 438.2h1.4v1.4h-1.4zM183.7 439.2h1.4v1.4h-1.4zM188.9 439.1h1.4v1.4h-1.4zM156.2 440.4h1.4v1.4h-1.4zM159.3 439.2h1.4v1.4h-1.4zM141.3 440.5h1.4v1.4h-1.4zM172.2 441.2h1.4v1.4h-1.4zM180.7 440.2h1.4v1.4h-1.4z" fill="#808080"/><path d="M172.9 434.5h1.4v1.4h-1.4zM174.7 434.9h1.4v1.4h-1.4zM180.6 436.4h1.4v1.4h-1.4zM157.8 439.1h1.4v1.4h-1.4zM149.3 439.9h1.4v1.4h-1.4zM160.4 439.8h1.4v1.4h-1.4zM164.0 440.1h1.4v1.4h-1.4zM162.2 441.3h1.4v1.4h-1.4zM178.4 443.1h1.4v1.4h-1.4zM178.9 442.6h1.4v1.4h-1.4zM183.9 443.1h1.4v1.4h-1.4zM165.6 443.3h1.4v1.4h-1.4zM189.6 443.6h1.4v1.4h-1.4zM142.3 444.8h1.4v1.4h-1.4zM151.9 444.9h1.4v1.4h-1.4zM179.6 444.3h1.4v1.4h-1.4zM179.6 446.2h1.4v1.4h-1.4zM133.2 446.3h1.4v1.4h-1.4zM140.1 448.7h1.4v1.4h-1.4zM151.5 449.3h1.4v1.4h-1.4zM164.1 451.2h1.4v1.4h-1.4zM171.3 452.3h1.4v1.4h-1.4zM168.2 452.7h1.4v1.4h-1.4z" fill="#808080"/><path d="M200.3 436.7h1.4v1.4h-1.4zM199.0 440.4h1.4v1.4h-1.4zM197.6 440.8h1.4v1.4h-1.4zM203.0 441.4h1.4v1.4h-1.4zM197.2 442.2h1.4v1.4h-1.4zM199.6 442.6h1.4v1.4h-1.4z" fill="#808080"/><path d="M255.1 430.3h1.3v1.3h-1.3zM271.4 431.8h1.3v1.3h-1.3zM277.7 431.9h1.3v1.3h-1.3zM282.6 432.0h1.3v1.3h-1.3zM270.9 432.7h1.3v1.3h-1.3zM277.3 432.9h1.3v1.3h-1.3zM277.9 433.1h1.3v1.3h-1.3zM284.5 432.4h1.3v1.3h-1.3zM287.5 433.1h1.3v1.3h-1.3zM289.2 432.6h1.3v1.3h-1.3zM259.3 433.4h1.3v1.3h-1.3zM262.3 434.4h1.3v1.3h-1.3zM291.4 433.3h1.3v1.3h-1.3zM296.4 433.8h1.3v1.3h-1.3zM296.6 433.6h1.3v1.3h-1.3zM249.1 434.5h1.3v1.3h-1.3zM253.0 434.8h1.3v1.3h-1.3zM307.2 435.3h1.3v1.3h-1.3zM314.3 437.0h1.3v1.3h-1.3zM317.3 436.5h1.3v1.3h-1.3zM246.7 441.4h1.3v1.3h-1.3zM321.5 441.3h1.3v1.3h-1.3zM245.8 442.1h1.3v1.3h-1.3zM249.1 441.5h1.3v1.3h-1.3zM246.7 442.5h1.3v1.3h-1.3zM249.1 444.4h1.3v1.3h-1.3zM321.1 444.6h1.3v1.3h-1.3zM253.4 445.8h1.3v1.3h-1.3zM253.3 446.8h1.3v1.3h-1.3zM256.4 446.5h1.3v1.3h-1.3zM318.5 446.9h1.3v1.3h-1.3zM261.9 448.0h1.3v1.3h-1.3zM262.3 448.4h1.3v1.3h-1.3zM260.3 449.0h1.3v1.3h-1.3zM261.4 449.1h1.3v1.3h-1.3zM273.3 449.0h1.3v1.3h-1.3zM261.4 449.3h1.3v1.3h-1.3zM268.4 449.6h1.3v1.3h-1.3zM278.4 449.6h1.3v1.3h-1.3zM280.3 449.6h1.3v1.3h-1.3zM283.0 450.0h1.3v1.3h-1.3zM298.3 449.6h1.3v1.3h-1.3zM303.8 450.2h1.3v1.3h-1.3zM306.4 450.4h1.3v1.3h-1.3zM269.5 450.5h1.3v1.3h-1.3zM298.7 450.7h1.3v1.3h-1.3zM278.4 451.6h1.3v1.3h-1.3z" fill="#ff0000"/><path d="M249.9 439.8L250.7 439.0L251.9 438.1L253.5 437.3L255.3 436.5L257.4 435.8L259.7 435.2L262.4 434.8L265.5 434.4L268.9 434.2L272.5 434.0L276.0 433.9L279.4 433.9L282.7 433.9L286.1 434.1L289.5 434.3L292.8 434.6L296.0 434.9L299.1 435.2L302.1 435.5L304.9 435.9L307.7 436.3L310.4 436.8L312.8 437.3L314.9 437.9L316.8 438.5L318.7 439.3L320.2 440.0L321.5 440.9L322.4 441.7L322.8 442.5L322.7 443.4L322.1 444.3L321.1 445.2L319.7 446.1L318.1 447.0L316.2 447.7L314.0 448.3L311.4 448.9L308.5 449.4L305.4 449.8L302.2 450.1L299.1 450.3L295.9 450.4L292.6 450.4L289.2 450.3L285.9 450.1L282.6 449.9L279.4 449.7L276.3 449.5L273.3 449.2L270.3 448.9L267.4 448.5L264.7 448.1L262.3 447.7L260.1 447.2L258.0 446.7L256.1 446.2L254.4 445.6L253.0 445.0L251.8 444.4L250.9 443.7L250.1 443.0L249.6 442.2L249.3 441.4L249.4 440.6Z" fill="#ff0000"/><path d="M309.0 442.3L308.9 442.8L308.5 443.4L307.9 443.9L307.1 444.4L306.1 444.9L304.8 445.4L303.3 445.8L301.7 446.2L299.9 446.5L298.0 446.8L295.9 447.1L293.8 447.2L291.6 447.4L289.3 447.5L287.0 447.5L284.7 447.5L282.4 447.4L280.2 447.2L278.1 447.1L276.0 446.8L274.1 446.5L272.3 446.2L270.7 445.8L269.2 445.4L267.9 444.9L266.9 444.4L266.1 443.9L265.5 443.4L265.1 442.8L265.0 442.3L265.1 441.8L265.5 441.2L266.1 440.7L266.9 440.2L267.9 439.7L269.2 439.2L270.7 438.8L272.3 438.4L274.1 438.1L276.0 437.8L278.1 437.5L280.2 437.4L282.4 437.2L284.7 437.1L287.0 437.1L289.3 437.1L291.6 437.2L293.8 437.4L295.9 437.5L298.0 437.8L299.9 438.1L301.7 438.4L303.3 438.8L304.8 439.2L306.1 439.7L307.1 440.2L307.9 440.7L308.5 441.2L308.9 441.8Z" fill="#808080"/><path d="M271.6 433.6h1.5v1.5h-1.5zM275.6 433.7h1.5v1.5h-1.5zM279.0 433.2h1.5v1.5h-1.5zM257.6 434.3h1.5v1.5h-1.5zM286.1 434.9h1.5v1.5h-1.5zM291.2 434.8h1.5v1.5h-1.5zM291.2 434.2h1.5v1.5h-1.5zM297.2 435.0h1.5v1.5h-1.5zM256.8 435.8h1.5v1.5h-1.5zM257.4 435.7h1.5v1.5h-1.5zM259.0 436.1h1.5v1.5h-1.5zM271.4 435.2h1.5v1.5h-1.5zM272.7 435.6h1.5v1.5h-1.5zM273.3 435.8h1.5v1.5h-1.5zM276.2 435.3h1.5v1.5h-1.5zM279.2 436.2h1.5v1.5h-1.5zM279.6 435.7h1.5v1.5h-1.5zM281.0 435.6h1.5v1.5h-1.5zM281.3 435.2h1.5v1.5h-1.5zM288.1 436.0h1.5v1.5h-1.5zM293.2 436.2h1.5v1.5h-1.5zM303.9 435.3h1.5v1.5h-1.5zM304.7 435.4h1.5v1.5h-1.5zM305.3 436.2h1.5v1.5h-1.5zM306.4 436.0h1.5v1.5h-1.5zM256.0 436.3h1.5v1.5h-1.5zM270.3 436.3h1.5v1.5h-1.5zM270.5 436.7h1.5v1.5h-1.5zM274.0 436.3h1.5v1.5h-1.5zM279.3 437.3h1.5v1.5h-1.5zM290.3 436.6h1.5v1.5h-1.5zM293.7 436.8h1.5v1.5h-1.5zM295.5 436.2h1.5v1.5h-1.5zM296.7 436.9h1.5v1.5h-1.5zM300.8 436.8h1.5v1.5h-1.5zM304.4 436.7h1.5v1.5h-1.5zM306.1 436.5h1.5v1.5h-1.5zM308.3 436.2h1.5v1.5h-1.5zM309.7 437.3h1.5v1.5h-1.5zM259.3 437.8h1.5v1.5h-1.5zM269.3 437.4h1.5v1.5h-1.5zM276.0 437.5h1.5v1.5h-1.5zM277.0 438.1h1.5v1.5h-1.5zM278.0 437.6h1.5v1.5h-1.5zM279.3 437.8h1.5v1.5h-1.5zM282.3 438.3h1.5v1.5h-1.5zM290.8 438.1h1.5v1.5h-1.5zM297.4 437.8h1.5v1.5h-1.5zM304.3 437.3h1.5v1.5h-1.5zM305.2 437.8h1.5v1.5h-1.5zM307.3 437.8h1.5v1.5h-1.5zM309.7 437.6h1.5v1.5h-1.5zM310.6 438.3h1.5v1.5h-1.5zM311.4 437.2h1.5v1.5h-1.5zM254.2 439.3h1.5v1.5h-1.5zM256.4 438.5h1.5v1.5h-1.5zM259.9 438.7h1.5v1.5h-1.5zM267.8 439.3h1.5v1.5h-1.5zM270.7 438.5h1.5v1.5h-1.5zM271.6 439.1h1.5v1.5h-1.5zM273.0 438.2h1.5v1.5h-1.5zM275.2 439.3h1.5v1.5h-1.5zM276.2 438.2h1.5v1.5h-1.5zM277.4 438.4h1.5v1.5h-1.5zM279.3 439.2h1.5v1.5h-1.5zM282.4 438.6h1.5v1.5h-1.5zM285.6 438.5h1.5v1.5h-1.5zM287.6 438.3h1.5v1.5h-1.5zM291.2 438.5h1.5v1.5h-1.5zM293.8 438.3h1.5v1.5h-1.5zM295.3 439.3h1.5v1.5h-1.5zM296.0 439.2h1.5v1.5h-1.5zM296.3 438.2h1.5v1.5h-1.5zM298.1 439.0h1.5v1.5h-1.5zM298.5 439.0h1.5v1.5h-1.5zM302.1 439.1h1.5v1.5h-1.5zM304.3 439.1h1.5v1.5h-1.5zM313.5 439.0h1.5v1.5h-1.5zM314.2 438.6h1.5v1.5h-1.5zM316.4 438.2h1.5v1.5h-1.5zM249.5 439.5h1.5v1.5h-1.5zM257.8 440.3h1.5v1.5h-1.5zM260.4 439.8h1.5v1.5h-1.5zM264.9 439.7h1.5v1.5h-1.5zM266.0 440.1h1.5v1.5h-1.5zM268.2 440.0h1.5v1.5h-1.5zM268.4 439.6h1.5v1.5h-1.5zM270.2 439.5h1.5v1.5h-1.5zM270.5 439.9h1.5v1.5h-1.5zM272.2 439.3h1.5v1.5h-1.5zM273.4 440.0h1.5v1.5h-1.5zM276.4 439.7h1.5v1.5h-1.5zM278.2 439.5h1.5v1.5h-1.5zM279.2 439.7h1.5v1.5h-1.5zM280.3 440.2h1.5v1.5h-1.5zM282.7 439.7h1.5v1.5h-1.5zM284.4 439.4h1.5v1.5h-1.5zM287.2 440.1h1.5v1.5h-1.5zM287.6 439.5h1.5v1.5h-1.5zM293.9 439.7h1.5v1.5h-1.5zM295.1 439.6h1.5v1.5h-1.5zM296.6 440.2h1.5v1.5h-1.5zM301.9 439.6h1.5v1.5h-1.5zM303.6 439.7h1.5v1.5h-1.5zM312.0 440.0h1.5v1.5h-1.5zM317.2 439.2h1.5v1.5h-1.5zM320.0 439.8h1.5v1.5h-1.5zM255.3 440.2h1.5v1.5h-1.5zM257.0 440.6h1.5v1.5h-1.5zM263.2 440.3h1.5v1.5h-1.5zM264.2 440.8h1.5v1.5h-1.5zM267.2 441.2h1.5v1.5h-1.5zM269.1 440.3h1.5v1.5h-1.5zM273.9 440.2h1.5v1.5h-1.5zM275.9 441.0h1.5v1.5h-1.5zM278.3 440.2h1.5v1.5h-1.5zM280.4 441.0h1.5v1.5h-1.5zM281.5 440.5h1.5v1.5h-1.5zM282.7 441.1h1.5v1.5h-1.5zM285.4 440.7h1.5v1.5h-1.5zM286.3 440.9h1.5v1.5h-1.5zM288.0 441.3h1.5v1.5h-1.5zM288.5 441.2h1.5v1.5h-1.5zM293.6 441.0h1.5v1.5h-1.5zM297.1 440.6h1.5v1.5h-1.5zM299.1 440.7h1.5v1.5h-1.5zM301.8 440.8h1.5v1.5h-1.5zM303.9 441.2h1.5v1.5h-1.5zM304.4 440.9h1.5v1.5h-1.5zM309.9 440.8h1.5v1.5h-1.5zM311.1 440.2h1.5v1.5h-1.5zM313.4 440.9h1.5v1.5h-1.5zM316.0 440.9h1.5v1.5h-1.5zM253.9 441.4h1.5v1.5h-1.5zM255.6 441.9h1.5v1.5h-1.5zM265.5 441.2h1.5v1.5h-1.5zM270.3 442.3h1.5v1.5h-1.5zM271.1 441.3h1.5v1.5h-1.5zM271.9 441.8h1.5v1.5h-1.5zM276.8 442.2h1.5v1.5h-1.5zM277.6 441.7h1.5v1.5h-1.5zM280.1 441.8h1.5v1.5h-1.5zM284.1 442.2h1.5v1.5h-1.5zM286.2 441.3h1.5v1.5h-1.5zM287.6 441.6h1.5v1.5h-1.5zM291.1 442.3h1.5v1.5h-1.5zM293.2 441.3h1.5v1.5h-1.5zM294.0 442.1h1.5v1.5h-1.5zM301.1 441.3h1.5v1.5h-1.5zM306.3 442.0h1.5v1.5h-1.5zM308.5 442.0h1.5v1.5h-1.5zM311.1 442.3h1.5v1.5h-1.5zM321.2 441.9h1.5v1.5h-1.5zM322.2 442.0h1.5v1.5h-1.5zM251.5 443.1h1.5v1.5h-1.5zM259.9 442.5h1.5v1.5h-1.5zM264.1 442.3h1.5v1.5h-1.5zM268.5 443.3h1.5v1.5h-1.5zM269.7 442.4h1.5v1.5h-1.5zM270.7 442.8h1.5v1.5h-1.5zM272.5 443.1h1.5v1.5h-1.5zM273.2 443.2h1.5v1.5h-1.5zM275.1 442.4h1.5v1.5h-1.5zM275.2 442.9h1.5v1.5h-1.5zM277.7 442.6h1.5v1.5h-1.5zM278.6 443.0h1.5v1.5h-1.5zM280.3 443.3h1.5v1.5h-1.5zM283.0 443.2h1.5v1.5h-1.5zM284.3 442.6h1.5v1.5h-1.5zM286.4 442.3h1.5v1.5h-1.5zM288.6 442.2h1.5v1.5h-1.5zM291.2 442.5h1.5v1.5h-1.5zM292.8 442.3h1.5v1.5h-1.5zM295.9 442.6h1.5v1.5h-1.5zM299.0 442.6h1.5v1.5h-1.5zM302.2 443.3h1.5v1.5h-1.5zM305.2 442.6h1.5v1.5h-1.5zM259.8 444.0h1.5v1.5h-1.5zM266.9 444.2h1.5v1.5h-1.5zM271.1 443.3h1.5v1.5h-1.5zM271.9 443.8h1.5v1.5h-1.5zM273.3 443.9h1.5v1.5h-1.5zM273.3 443.2h1.5v1.5h-1.5zM282.9 443.6h1.5v1.5h-1.5zM285.1 443.3h1.5v1.5h-1.5zM287.0 444.3h1.5v1.5h-1.5zM287.8 444.1h1.5v1.5h-1.5zM289.7 444.0h1.5v1.5h-1.5zM291.2 444.2h1.5v1.5h-1.5zM296.3 443.4h1.5v1.5h-1.5zM296.5 443.4h1.5v1.5h-1.5zM298.8 444.1h1.5v1.5h-1.5zM303.5 444.2h1.5v1.5h-1.5zM308.6 444.2h1.5v1.5h-1.5zM266.2 444.9h1.5v1.5h-1.5zM269.2 445.1h1.5v1.5h-1.5zM272.1 444.9h1.5v1.5h-1.5zM276.1 444.7h1.5v1.5h-1.5zM278.4 444.3h1.5v1.5h-1.5zM281.0 445.3h1.5v1.5h-1.5zM283.9 444.8h1.5v1.5h-1.5zM285.9 445.0h1.5v1.5h-1.5zM289.7 444.6h1.5v1.5h-1.5zM292.0 444.6h1.5v1.5h-1.5zM292.9 444.7h1.5v1.5h-1.5zM297.2 444.3h1.5v1.5h-1.5zM298.6 445.3h1.5v1.5h-1.5zM300.4 444.5h1.5v1.5h-1.5zM302.2 444.5h1.5v1.5h-1.5zM309.3 444.5h1.5v1.5h-1.5zM310.1 444.9h1.5v1.5h-1.5zM258.5 445.6h1.5v1.5h-1.5zM263.5 445.3h1.5v1.5h-1.5zM271.4 446.0h1.5v1.5h-1.5zM273.0 445.8h1.5v1.5h-1.5zM276.0 445.6h1.5v1.5h-1.5zM278.1 446.2h1.5v1.5h-1.5zM278.4 446.3h1.5v1.5h-1.5zM282.3 446.0h1.5v1.5h-1.5zM288.6 446.2h1.5v1.5h-1.5zM291.6 445.3h1.5v1.5h-1.5zM298.7 445.3h1.5v1.5h-1.5zM308.2 446.2h1.5v1.5h-1.5zM310.3 446.3h1.5v1.5h-1.5zM312.2 445.8h1.5v1.5h-1.5zM313.3 446.2h1.5v1.5h-1.5zM263.1 446.9h1.5v1.5h-1.5zM267.2 446.8h1.5v1.5h-1.5zM276.3 446.5h1.5v1.5h-1.5zM277.6 447.1h1.5v1.5h-1.5zM283.2 447.0h1.5v1.5h-1.5zM286.5 447.2h1.5v1.5h-1.5zM293.5 446.3h1.5v1.5h-1.5zM297.3 447.2h1.5v1.5h-1.5zM299.0 447.1h1.5v1.5h-1.5zM307.9 446.7h1.5v1.5h-1.5zM310.3 446.9h1.5v1.5h-1.5zM314.7 446.7h1.5v1.5h-1.5zM266.6 448.2h1.5v1.5h-1.5zM267.3 448.2h1.5v1.5h-1.5zM271.3 447.3h1.5v1.5h-1.5zM273.5 447.8h1.5v1.5h-1.5zM274.5 447.9h1.5v1.5h-1.5zM275.9 447.5h1.5v1.5h-1.5zM283.5 447.8h1.5v1.5h-1.5zM288.8 447.5h1.5v1.5h-1.5zM289.9 447.2h1.5v1.5h-1.5zM292.4 447.2h1.5v1.5h-1.5zM293.5 447.8h1.5v1.5h-1.5zM297.3 448.2h1.5v1.5h-1.5zM300.2 447.8h1.5v1.5h-1.5zM302.3 447.4h1.5v1.5h-1.5zM280.3 448.7h1.5v1.5h-1.5zM283.0 448.8h1.5v1.5h-1.5zM295.8 448.9h1.5v1.5h-1.5zM296.9 448.8h1.5v1.5h-1.5zM298.6 448.2h1.5v1.5h-1.5zM306.8 448.4h1.5v1.5h-1.5z" fill="#808080"/><path d="M285.6 437.4h1.4v1.4h-1.4zM288.9 436.6h1.4v1.4h-1.4zM293.0 436.5h1.4v1.4h-1.4zM294.0 436.8h1.4v1.4h-1.4zM278.0 437.5h1.4v1.4h-1.4zM283.3 437.3h1.4v1.4h-1.4zM296.8 438.0h1.4v1.4h-1.4zM269.3 439.1h1.4v1.4h-1.4zM272.0 438.3h1.4v1.4h-1.4zM273.0 438.2h1.4v1.4h-1.4zM281.8 438.5h1.4v1.4h-1.4zM286.0 440.1h1.4v1.4h-1.4zM294.9 440.0h1.4v1.4h-1.4zM297.2 439.8h1.4v1.4h-1.4zM299.0 439.5h1.4v1.4h-1.4zM281.6 440.9h1.4v1.4h-1.4zM284.4 440.6h1.4v1.4h-1.4zM301.5 441.0h1.4v1.4h-1.4zM265.5 441.5h1.4v1.4h-1.4zM271.2 442.3h1.4v1.4h-1.4zM280.3 442.0h1.4v1.4h-1.4zM289.9 442.0h1.4v1.4h-1.4zM291.3 441.3h1.4v1.4h-1.4zM298.0 441.7h1.4v1.4h-1.4zM281.7 443.3h1.4v1.4h-1.4zM291.5 443.1h1.4v1.4h-1.4zM296.3 442.7h1.4v1.4h-1.4zM303.0 442.8h1.4v1.4h-1.4zM285.2 444.0h1.4v1.4h-1.4zM289.3 444.1h1.4v1.4h-1.4zM299.4 444.1h1.4v1.4h-1.4zM302.8 443.7h1.4v1.4h-1.4zM268.5 444.6h1.4v1.4h-1.4zM275.9 445.0h1.4v1.4h-1.4zM281.6 445.2h1.4v1.4h-1.4zM283.5 444.7h1.4v1.4h-1.4zM289.4 444.7h1.4v1.4h-1.4zM292.3 444.7h1.4v1.4h-1.4zM292.7 444.5h1.4v1.4h-1.4zM273.5 446.4h1.4v1.4h-1.4zM289.2 445.5h1.4v1.4h-1.4zM292.0 445.9h1.4v1.4h-1.4zM295.4 445.7h1.4v1.4h-1.4zM285.5 446.5h1.4v1.4h-1.4z" fill="#ff0000"/><path d="M246.2 438.8h1.4v1.4h-1.4zM244.1 439.3h1.4v1.4h-1.4zM245.7 441.1h1.4v1.4h-1.4z" fill="#808080"/><path d="M147.3 318.3h1.4v1.4h-1.4zM97.0 297.7h1.4v1.4h-1.4zM220.0 394.9h1.4v1.4h-1.4zM211.2 404.4h1.4v1.4h-1.4zM204.3 440.3h1.4v1.4h-1.4zM212.3 439.3h1.4v1.4h-1.4zM221.3 437.8h1.4v1.4h-1.4zM225.3 442.3h1.4v1.4h-1.4zM231.3 439.3h1.4v1.4h-1.4zM237.3 436.3h1.4v1.4h-1.4zM228.3 435.8h1.4v1.4h-1.4zM240.3 440.8h1.4v1.4h-1.4zM216.3 444.3h1.4v1.4h-1.4zM207.3 436.3h1.4v1.4h-1.4zM169.3 432.3h1.4v1.4h-1.4zM171.3 457.3h1.4v1.4h-1.4z" fill="#808080"/></g>
<path d="M32.6 468.8V244.4H337.6V468.8" fill="none" stroke="#b0b0b0" stroke-width="1.15"/>
<line x1="32.6" y1="468.8" x2="337.6" y2="468.8" stroke="#c2c2c2" stroke-width="1.2"/>
<line x1="30.6" y1="463.90" x2="32.6" y2="463.90" stroke="#999" stroke-width="0.8"/>
<line x1="30.6" y1="414.70" x2="32.6" y2="414.70" stroke="#999" stroke-width="0.8"/>
<line x1="30.6" y1="365.50" x2="32.6" y2="365.50" stroke="#999" stroke-width="0.8"/>
<line x1="30.6" y1="316.30" x2="32.6" y2="316.30" stroke="#999" stroke-width="0.8"/>
<line x1="30.6" y1="267.10" x2="32.6" y2="267.10" stroke="#999" stroke-width="0.8"/>
<line x1="48.45" y1="468.8" x2="48.45" y2="470.8" stroke="#bbb" stroke-width="0.8"/>
<line x1="105.30" y1="468.8" x2="105.30" y2="470.8" stroke="#bbb" stroke-width="0.8"/>
<line x1="162.15" y1="468.8" x2="162.15" y2="470.8" stroke="#bbb" stroke-width="0.8"/>
<line x1="219.00" y1="468.8" x2="219.00" y2="470.8" stroke="#bbb" stroke-width="0.8"/>
<line x1="275.85" y1="468.8" x2="275.85" y2="470.8" stroke="#bbb" stroke-width="0.8"/>
<line x1="332.70" y1="468.8" x2="332.70" y2="470.8" stroke="#bbb" stroke-width="0.8"/>
<rect x="183.2" y="252.4" width="146.2" height="52.1" rx="3" fill="#fff" fill-opacity="0.85" stroke="#dcdcdc" stroke-width="0.9"/>
<circle cx="191.1" cy="265.3" r="2.5" fill="#7e1e9c"/>
<circle cx="200.8" cy="265.3" r="2.5" fill="#ff0000"/>
<circle cx="210.7" cy="265.3" r="2.5" fill="#0000ff"/>
<circle cx="220.4" cy="265.3" r="2.5" fill="#2e8b20"/>
<circle cx="205.8" cy="289.1" r="2.5" fill="#808080"/>
<rect x="415.2" y="293.48" width="73.30" height="187.42" fill="#b3d3e7"/>
<rect x="415.2" y="292.12" width="73.30" height="188.78" fill="none" stroke="#f5843a" stroke-width="1.3"/>
<rect x="506.7" y="408.17" width="73.50" height="72.73" fill="#b3d3e7"/>
<rect x="506.7" y="394.34" width="73.50" height="86.56" fill="none" stroke="#f5843a" stroke-width="1.3"/>
<rect x="598.5" y="465.70" width="73.20" height="15.20" fill="#b3d3e7"/>
<rect x="432.1" y="291.9" width="39.7" height="2.6" fill="#5a6068"/>
<line x1="451.8" y1="291.9" x2="451.8" y2="294.5" stroke="#222" stroke-width="0.8"/>
<line x1="523.80" y1="406.30" x2="563.20" y2="406.30" stroke="#4a4a4a" stroke-width="1.2"/>
<line x1="523.80" y1="409.40" x2="563.20" y2="409.40" stroke="#4a4a4a" stroke-width="1.2"/>
<line x1="543.50" y1="406.30" x2="543.50" y2="409.40" stroke="#4a4a4a" stroke-width="1.1"/>
<line x1="615.40" y1="463.50" x2="654.80" y2="463.50" stroke="#4a4a4a" stroke-width="1.2"/>
<line x1="615.40" y1="467.60" x2="654.80" y2="467.60" stroke="#4a4a4a" stroke-width="1.2"/>
<line x1="635.10" y1="463.50" x2="635.10" y2="467.60" stroke="#4a4a4a" stroke-width="1.1"/>
<path d="M402.3 480.9V261.2H684.3V480.9" fill="none" stroke="#b0b0b0" stroke-width="1.15"/>
<line x1="402.3" y1="480.9" x2="684.3" y2="480.9" stroke="#b0b0b0" stroke-width="1"/>
<line x1="400.3" y1="480.90" x2="402.3" y2="480.90" stroke="#999" stroke-width="0.8"/>
<line x1="400.3" y1="442.90" x2="402.3" y2="442.90" stroke="#999" stroke-width="0.8"/>
<line x1="400.3" y1="404.90" x2="402.3" y2="404.90" stroke="#999" stroke-width="0.8"/>
<line x1="400.3" y1="366.90" x2="402.3" y2="366.90" stroke="#999" stroke-width="0.8"/>
<line x1="400.3" y1="328.90" x2="402.3" y2="328.90" stroke="#999" stroke-width="0.8"/>
<line x1="400.3" y1="290.90" x2="402.3" y2="290.90" stroke="#999" stroke-width="0.8"/>
<line x1="451.9" y1="480.9" x2="451.9" y2="482.9" stroke="#bbb" stroke-width="0.8"/>
<line x1="543.5" y1="480.9" x2="543.5" y2="482.9" stroke="#bbb" stroke-width="0.8"/>
<line x1="635.1" y1="480.9" x2="635.1" y2="482.9" stroke="#bbb" stroke-width="0.8"/>
<rect x="533.3" y="268.9" width="143" height="51.5" rx="3" fill="#fff" fill-opacity="0.85" stroke="#a0a0a0" stroke-width="0.9"/>
<rect x="539.9" y="276.4" width="32.4" height="11.2" fill="#b3d3e7"/>
<rect x="540.5" y="300.0" width="31.6" height="11" fill="none" stroke="#f5843a" stroke-width="1.2"/>
<defs>
<radialGradient id="gCl" cx="0.38" cy="0.35" r="0.7"><stop offset="0" stop-color="#c8ffb0"/><stop offset="0.35" stop-color="#48e030"/><stop offset="0.8" stop-color="#2ab818"/><stop offset="1" stop-color="#1a7a10"/></radialGradient>
<radialGradient id="gC" cx="0.38" cy="0.35" r="0.7"><stop offset="0" stop-color="#8a8a8a"/><stop offset="0.4" stop-color="#3c3c3c"/><stop offset="1" stop-color="#151515"/></radialGradient>
<radialGradient id="gC2" cx="0.38" cy="0.35" r="0.7"><stop offset="0" stop-color="#d0d0d0"/><stop offset="0.4" stop-color="#8a8a8a"/><stop offset="1" stop-color="#555"/></radialGradient>
<radialGradient id="gH" cx="0.38" cy="0.35" r="0.7"><stop offset="0" stop-color="#ffffff"/><stop offset="0.55" stop-color="#eeeeee"/><stop offset="1" stop-color="#9a9a9a"/></radialGradient>
</defs>
<line x1="132.9" y1="259.1" x2="137.3" y2="268.2" stroke="#9a9a9a" stroke-width="1.1"/>
<line x1="137.3" y1="268.2" x2="129.3" y2="274.8" stroke="#9a9a9a" stroke-width="1.1"/>
<line x1="137.3" y1="268.2" x2="149.4" y2="267.2" stroke="#9a9a9a" stroke-width="1.1"/>
<line x1="149.4" y1="267.2" x2="150.8" y2="259.5" stroke="#9a9a9a" stroke-width="1.1"/>
<line x1="149.4" y1="267.2" x2="164" y2="276.3" stroke="#9a9a9a" stroke-width="1.1"/>
<circle cx="129.3" cy="274.8" r="2.8" fill="url(#gH)"/>
<circle cx="150.8" cy="259.5" r="2.8" fill="url(#gH)"/>
<circle cx="137.3" cy="268.2" r="4.0" fill="url(#gC2)"/>
<circle cx="149.4" cy="267.2" r="4.0" fill="url(#gC2)"/>
<circle cx="132.9" cy="259.1" r="4.5" fill="url(#gCl)"/>
<circle cx="164" cy="276.3" r="4.5" fill="url(#gCl)"/>
<line x1="50.6" y1="386.2" x2="57.55" y2="386.55" stroke="#3ccc22" stroke-width="2.4"/>
<line x1="57.55" y1="386.55" x2="64.5" y2="386.9" stroke="#2e2e2e" stroke-width="2.4"/>
<line x1="70.2" y1="377.9" x2="77.00" y2="378.25" stroke="#2e2e2e" stroke-width="2.4"/>
<line x1="77.00" y1="378.25" x2="83.8" y2="378.6" stroke="#3ccc22" stroke-width="2.4"/>
<line x1="70.2" y1="377.9" x2="68.20" y2="374.25" stroke="#2e2e2e" stroke-width="2.0"/>
<line x1="68.20" y1="374.25" x2="66.2" y2="370.6" stroke="#c8c8c8" stroke-width="2.0"/>
<line x1="64.5" y1="386.9" x2="67.00" y2="390.55" stroke="#2e2e2e" stroke-width="2.0"/>
<line x1="67.00" y1="390.55" x2="69.5" y2="394.2" stroke="#c8c8c8" stroke-width="2.0"/>
<line x1="63.74" y1="386.42" x2="69.44" y2="377.42" stroke="#333" stroke-width="0.9"/>
<line x1="65.26" y1="387.38" x2="70.96" y2="378.38" stroke="#333" stroke-width="0.9"/>
<circle cx="50.6" cy="386.2" r="3.0" fill="url(#gCl)"/>
<circle cx="83.8" cy="378.6" r="3.0" fill="url(#gCl)"/>
<circle cx="66.2" cy="370.6" r="2.6" fill="url(#gH)"/>
<circle cx="69.5" cy="394.2" r="2.6" fill="url(#gH)"/>
<circle cx="64.5" cy="386.9" r="3.1" fill="url(#gC)"/>
<circle cx="70.2" cy="377.9" r="3.1" fill="url(#gC)"/>
<line x1="94" y1="422.4" x2="100.15" y2="425.55" stroke="#3ccc22" stroke-width="2.4"/>
<line x1="100.15" y1="425.55" x2="106.3" y2="428.7" stroke="#2e2e2e" stroke-width="2.4"/>
<line x1="118.9" y1="422.4" x2="112.60" y2="425.55" stroke="#3ccc22" stroke-width="2.4"/>
<line x1="112.60" y1="425.55" x2="106.3" y2="428.7" stroke="#2e2e2e" stroke-width="2.4"/>
<line x1="105.9" y1="439.6" x2="102.20" y2="441.70" stroke="#2e2e2e" stroke-width="2.0"/>
<line x1="102.20" y1="441.70" x2="98.5" y2="443.8" stroke="#c8c8c8" stroke-width="2.0"/>
<line x1="105.9" y1="439.6" x2="109.80" y2="441.70" stroke="#2e2e2e" stroke-width="2.0"/>
<line x1="109.80" y1="441.70" x2="113.7" y2="443.8" stroke="#c8c8c8" stroke-width="2.0"/>
<line x1="107.20" y1="428.73" x2="106.80" y2="439.63" stroke="#333" stroke-width="0.9"/>
<line x1="105.40" y1="428.67" x2="105.00" y2="439.57" stroke="#333" stroke-width="0.9"/>
<circle cx="94" cy="422.4" r="3.3" fill="url(#gCl)"/>
<circle cx="118.9" cy="422.4" r="3.3" fill="url(#gCl)"/>
<circle cx="98.5" cy="443.8" r="2.9" fill="url(#gH)"/>
<circle cx="113.7" cy="443.8" r="2.9" fill="url(#gH)"/>
<circle cx="106.3" cy="428.7" r="3.2" fill="url(#gC)"/>
<circle cx="105.9" cy="439.6" r="3.2" fill="url(#gC)"/>
<line x1="266.1" y1="378.1" x2="270.15" y2="385.30" stroke="#3ccc22" stroke-width="2.8"/>
<line x1="270.15" y1="385.30" x2="274.2" y2="392.5" stroke="#2e2e2e" stroke-width="2.8"/>
<line x1="295.6" y1="378.1" x2="291.55" y2="385.15" stroke="#3ccc22" stroke-width="2.8"/>
<line x1="291.55" y1="385.15" x2="287.5" y2="392.2" stroke="#2e2e2e" stroke-width="2.8"/>
<line x1="274.2" y1="392.5" x2="271.75" y2="396.00" stroke="#2e2e2e" stroke-width="2.2"/>
<line x1="271.75" y1="396.00" x2="269.3" y2="399.5" stroke="#c8c8c8" stroke-width="2.2"/>
<line x1="287.5" y1="392.2" x2="289.80" y2="395.85" stroke="#2e2e2e" stroke-width="2.2"/>
<line x1="289.80" y1="395.85" x2="292.1" y2="399.5" stroke="#c8c8c8" stroke-width="2.2"/>
<line x1="274.18" y1="391.60" x2="287.48" y2="391.30" stroke="#333" stroke-width="0.9"/>
<line x1="274.22" y1="393.40" x2="287.52" y2="393.10" stroke="#333" stroke-width="0.9"/>
<circle cx="266.1" cy="378.1" r="3.9" fill="url(#gCl)"/>
<circle cx="295.6" cy="378.1" r="3.9" fill="url(#gCl)"/>
<circle cx="269.3" cy="399.5" r="3.2" fill="url(#gH)"/>
<circle cx="292.1" cy="399.5" r="3.2" fill="url(#gH)"/>
<circle cx="274.2" cy="392.5" r="3.5" fill="url(#gC)"/>
<circle cx="287.5" cy="392.2" r="3.5" fill="url(#gC)"/>
<text x="63.95" y="9.25" font-size="11.13" font-weight="normal" font-style="normal" fill="#000" textLength="20.94" lengthAdjust="spacingAndGlyphs">300</text>
<text x="63.82" y="40.08" font-size="11.13" font-weight="normal" font-style="normal" fill="#000" textLength="21.07" lengthAdjust="spacingAndGlyphs">200</text>
<text x="63.42" y="70.91" font-size="11.13" font-weight="normal" font-style="normal" fill="#000" textLength="21.48" lengthAdjust="spacingAndGlyphs">100</text>
<text x="77.41" y="101.74" font-size="11.13" font-weight="normal" font-style="normal" fill="#000" textLength="7.47" lengthAdjust="spacingAndGlyphs">0</text>
<text x="55.81" y="132.57" font-size="11.13" font-weight="normal" font-style="normal" fill="#000" textLength="29.01" lengthAdjust="spacingAndGlyphs">−100</text>
<text x="55.81" y="163.4" font-size="11.13" font-weight="normal" font-style="normal" fill="#000" textLength="29.01" lengthAdjust="spacingAndGlyphs">−200</text>
<text x="55.81" y="194.23" font-size="11.13" font-weight="normal" font-style="normal" fill="#000" textLength="29.01" lengthAdjust="spacingAndGlyphs">−300</text>
<text x="109.58" y="205.99" font-size="11.13" font-weight="normal" font-style="normal" fill="#000" textLength="29.01" lengthAdjust="spacingAndGlyphs">−200</text>
<text x="182.34" y="205.99" font-size="11.13" font-weight="normal" font-style="normal" fill="#000" textLength="7.47" lengthAdjust="spacingAndGlyphs">0</text>
<text x="237.39" y="205.99" font-size="11.13" font-weight="normal" font-style="normal" fill="#000" textLength="21.07" lengthAdjust="spacingAndGlyphs">200</text>
<text x="17.62" y="17.78" font-size="21.06" font-weight="bold" font-style="normal" fill="#000" textLength="26.41" lengthAdjust="spacingAndGlyphs">(a)</text>
<text x="137.64" y="182.42" font-size="18.38" font-weight="bold" font-style="normal" fill="#000" textLength="96.02" lengthAdjust="spacingAndGlyphs">Simulation</text>
<text x="153.38" y="223.19" font-size="16.7" font-weight="normal" font-style="normal" fill="#000" textLength="68.04" lengthAdjust="spacingAndGlyphs"><tspan font-style="italic">p</tspan><tspan font-size="70%" font-style="italic" dy="0.17em">x</tspan><tspan dy="-0.12em"> (a.u.)</tspan></text>
<text transform="translate(46.98,129.62) rotate(-90)" font-size="17.1" font-weight="normal" font-style="normal" fill="#000" textLength="68.04" lengthAdjust="spacingAndGlyphs"><tspan font-style="italic">p</tspan><tspan font-size="70%" font-style="italic" dy="0.17em">y</tspan><tspan dy="-0.12em"> (a.u.)</tspan></text>
<text x="308.16" y="194.19" font-size="10.99" font-weight="normal" font-style="normal" fill="#000" textLength="7.47" lengthAdjust="spacingAndGlyphs">0</text>
<text x="308.05" y="169.51" font-size="10.99" font-weight="normal" font-style="normal" fill="#000" textLength="14.4" lengthAdjust="spacingAndGlyphs">20</text>
<text x="308.45" y="144.83" font-size="10.99" font-weight="normal" font-style="normal" fill="#000" textLength="13.98" lengthAdjust="spacingAndGlyphs">40</text>
<text x="308.05" y="120.15" font-size="10.99" font-weight="normal" font-style="normal" fill="#000" textLength="14.4" lengthAdjust="spacingAndGlyphs">60</text>
<text x="308.19" y="95.47" font-size="10.99" font-weight="normal" font-style="normal" fill="#000" textLength="14.26" lengthAdjust="spacingAndGlyphs">80</text>
<text x="307.67" y="70.79" font-size="10.99" font-weight="normal" font-style="normal" fill="#000" textLength="21.48" lengthAdjust="spacingAndGlyphs">100</text>
<text x="307.67" y="46.11" font-size="10.99" font-weight="normal" font-style="normal" fill="#000" textLength="21.48" lengthAdjust="spacingAndGlyphs">120</text>
<text x="307.67" y="21.43" font-size="10.99" font-weight="normal" font-style="normal" fill="#000" textLength="21.48" lengthAdjust="spacingAndGlyphs">140</text>
<text transform="translate(339.24,128.94) rotate(-90)" font-size="16.06" font-weight="normal" font-style="normal" fill="#000" textLength="53.39" lengthAdjust="spacingAndGlyphs">Counts</text>
<text x="394.15" y="183.95" font-size="11.29" font-weight="normal" font-style="normal" fill="#000" textLength="7.8" lengthAdjust="spacingAndGlyphs">2</text>
<text x="394.6" y="158.3" font-size="11.29" font-weight="normal" font-style="normal" fill="#000" textLength="7.03" lengthAdjust="spacingAndGlyphs">4</text>
<text x="394.15" y="132.54" font-size="11.13" font-weight="normal" font-style="normal" fill="#000" textLength="7.8" lengthAdjust="spacingAndGlyphs">6</text>
<text x="394.3" y="106.89" font-size="11.13" font-weight="normal" font-style="normal" fill="#000" textLength="7.63" lengthAdjust="spacingAndGlyphs">8</text>
<text x="387.03" y="81.24" font-size="11.13" font-weight="normal" font-style="normal" fill="#000" textLength="14.83" lengthAdjust="spacingAndGlyphs">10</text>
<text x="387.02" y="55.7" font-size="11.29" font-weight="normal" font-style="normal" fill="#000" textLength="14.98" lengthAdjust="spacingAndGlyphs">12</text>
<text x="387.04" y="30.05" font-size="11.29" font-weight="normal" font-style="normal" fill="#000" textLength="14.68" lengthAdjust="spacingAndGlyphs">14</text>
<text x="413.99" y="213.6" font-size="11.29" font-weight="normal" font-style="normal" fill="#000" textLength="15.54" lengthAdjust="spacingAndGlyphs">−4</text>
<text x="451.18" y="213.6" font-size="11.29" font-weight="normal" font-style="normal" fill="#000" textLength="15.84" lengthAdjust="spacingAndGlyphs">−2</text>
<text x="492.54" y="213.49" font-size="11.13" font-weight="normal" font-style="normal" fill="#000" textLength="7.47" lengthAdjust="spacingAndGlyphs">0</text>
<text x="529.57" y="213.6" font-size="11.29" font-weight="normal" font-style="normal" fill="#000" textLength="7.8" lengthAdjust="spacingAndGlyphs">2</text>
<text x="567.22" y="213.6" font-size="11.29" font-weight="normal" font-style="normal" fill="#000" textLength="7.03" lengthAdjust="spacingAndGlyphs">4</text>
<text x="603.97" y="213.49" font-size="11.13" font-weight="normal" font-style="normal" fill="#000" textLength="7.8" lengthAdjust="spacingAndGlyphs">6</text>
<text x="641.33" y="213.49" font-size="11.13" font-weight="normal" font-style="normal" fill="#000" textLength="7.63" lengthAdjust="spacingAndGlyphs">8</text>
<text x="349.82" y="17.9" font-size="20.96" font-weight="bold" font-style="normal" fill="#000" textLength="27.49" lengthAdjust="spacingAndGlyphs">(b)</text>
<text x="441.81" y="9.63" font-size="13.19" font-weight="normal" font-style="normal" fill="#000" textLength="90.87" lengthAdjust="spacingAndGlyphs">Unsupervised</text>
<text x="537.28" y="9.63" font-size="13.19" font-weight="normal" font-style="normal" fill="#000" textLength="38.59" lengthAdjust="spacingAndGlyphs">UMAP</text>
<text x="580.04" y="9.63" font-size="13.19" font-weight="normal" font-style="normal" fill="#000" textLength="65.75" lengthAdjust="spacingAndGlyphs">Projection</text>
<text x="480.34" y="227.48" font-size="12.16" font-weight="normal" font-style="normal" fill="#000" textLength="38.14" lengthAdjust="spacingAndGlyphs">UMAP</text>
<text x="522.59" y="227.48" font-size="12.16" font-weight="normal" font-style="normal" fill="#000" textLength="69.87" lengthAdjust="spacingAndGlyphs">Dimension</text>
<text x="597.21" y="227.48" font-size="12.16" font-weight="normal" font-style="normal" fill="#000" textLength="7.41" lengthAdjust="spacingAndGlyphs">1</text>
<text transform="translate(383.66,170.76) rotate(-90)" font-size="13.78" font-weight="normal" font-style="normal" fill="#000" textLength="38.45" lengthAdjust="spacingAndGlyphs">UMAP</text>
<text transform="translate(383.66,128.17) rotate(-90)" font-size="13.78" font-weight="normal" font-style="normal" fill="#000" textLength="70.44" lengthAdjust="spacingAndGlyphs">Dimension</text>
<text transform="translate(383.66,53.03) rotate(-90)" font-size="13.78" font-weight="normal" font-style="normal" fill="#000" textLength="7.45" lengthAdjust="spacingAndGlyphs">2</text>
<text x="595.04" y="34.67" font-size="12.84" font-weight="normal" font-style="normal" fill="#000" textLength="69.11" lengthAdjust="spacingAndGlyphs">simulation</text>
<text x="594.89" y="53.15" font-size="12.13" font-weight="normal" font-style="normal" fill="#000" textLength="75.62" lengthAdjust="spacingAndGlyphs">experiment</text>
<text x="411.45" y="32.49" font-size="11.91" font-weight="bold" font-style="normal" fill="#f81010" stroke="#f81010" stroke-width="0.35" textLength="64.99" lengthAdjust="spacingAndGlyphs"><tspan font-style="italic">cis</tspan>-1,2-DCE</text>
<text x="545.28" y="86.58" font-size="11.98" font-weight="bold" font-style="normal" fill="#7e1e9c" stroke="#7e1e9c" stroke-width="0.35" textLength="45.93" lengthAdjust="spacingAndGlyphs">1,1-DCE</text>
<text x="569.51" y="127.8" font-size="11.28" font-weight="bold" font-style="normal" fill="#1010f0" stroke="#1010f0" stroke-width="0.35" textLength="80.31" lengthAdjust="spacingAndGlyphs"><tspan font-style="italic">trans</tspan>-1,2-DCE</text>
<text x="430.71" y="169.75" font-size="11.57" font-weight="bold" font-style="normal" fill="#2e8b20" stroke="#2e8b20" stroke-width="0.35" textLength="94.02" lengthAdjust="spacingAndGlyphs"><tspan font-style="italic">twisted</tspan>-1,2-DCE</text>
<text x="21.11" y="468.44" font-size="11.13" font-weight="normal" font-style="normal" fill="#000" textLength="7.47" lengthAdjust="spacingAndGlyphs">0</text>
<text x="13.83" y="419.24" font-size="11.13" font-weight="normal" font-style="normal" fill="#000" textLength="14.83" lengthAdjust="spacingAndGlyphs">10</text>
<text x="14.25" y="370.04" font-size="11.13" font-weight="normal" font-style="normal" fill="#000" textLength="14.4" lengthAdjust="spacingAndGlyphs">20</text>
<text x="14.39" y="320.84" font-size="11.13" font-weight="normal" font-style="normal" fill="#000" textLength="14.26" lengthAdjust="spacingAndGlyphs">30</text>
<text x="14.65" y="271.64" font-size="11.13" font-weight="normal" font-style="normal" fill="#000" textLength="13.98" lengthAdjust="spacingAndGlyphs">40</text>
<text x="40.54" y="480.79" font-size="11.29" font-weight="normal" font-style="normal" fill="#000" textLength="15.69" lengthAdjust="spacingAndGlyphs">−5</text>
<text x="101.54" y="480.79" font-size="11.13" font-weight="normal" font-style="normal" fill="#000" textLength="7.47" lengthAdjust="spacingAndGlyphs">0</text>
<text x="158.39" y="480.79" font-size="11.29" font-weight="normal" font-style="normal" fill="#000" textLength="7.47" lengthAdjust="spacingAndGlyphs">5</text>
<text x="211.33" y="480.79" font-size="11.13" font-weight="normal" font-style="normal" fill="#000" textLength="14.83" lengthAdjust="spacingAndGlyphs">10</text>
<text x="268.18" y="480.79" font-size="11.29" font-weight="normal" font-style="normal" fill="#000" textLength="14.83" lengthAdjust="spacingAndGlyphs">15</text>
<text x="325.45" y="480.79" font-size="11.13" font-weight="normal" font-style="normal" fill="#000" textLength="14.4" lengthAdjust="spacingAndGlyphs">20</text>
<text x="17.35" y="234.51" font-size="20.43" font-weight="bold" font-style="normal" fill="#000" textLength="25.75" lengthAdjust="spacingAndGlyphs">(c)</text>
<text x="85.38" y="494.71" font-size="12.34" font-weight="normal" font-style="normal" fill="#000" textLength="72.05" lengthAdjust="spacingAndGlyphs">Supervised</text>
<text x="161.92" y="494.71" font-size="12.34" font-weight="normal" font-style="normal" fill="#000" textLength="37.59" lengthAdjust="spacingAndGlyphs">UMAP</text>
<text x="203.56" y="494.71" font-size="12.34" font-weight="normal" font-style="normal" fill="#000" textLength="68.86" lengthAdjust="spacingAndGlyphs">Dimension</text>
<text x="277.1" y="494.71" font-size="12.34" font-weight="normal" font-style="normal" fill="#000" textLength="7.3" lengthAdjust="spacingAndGlyphs">1</text>
<text transform="translate(9.91,456.02) rotate(-90)" font-size="12.82" font-weight="normal" font-style="normal" fill="#000" textLength="71.75" lengthAdjust="spacingAndGlyphs">Supervised</text>
<text transform="translate(9.91,379.78) rotate(-90)" font-size="12.82" font-weight="normal" font-style="normal" fill="#000" textLength="37.44" lengthAdjust="spacingAndGlyphs">UMAP</text>
<text transform="translate(9.91,338.31) rotate(-90)" font-size="12.82" font-weight="normal" font-style="normal" fill="#000" textLength="68.58" lengthAdjust="spacingAndGlyphs">Dimension</text>
<text transform="translate(9.91,265.15) rotate(-90)" font-size="12.82" font-weight="normal" font-style="normal" fill="#000" textLength="7.25" lengthAdjust="spacingAndGlyphs">2</text>
<text x="230.24" y="270.83" font-size="16.76" font-weight="normal" font-style="normal" fill="#000" textLength="84.12" lengthAdjust="spacingAndGlyphs">simulation</text>
<text x="230.05" y="293.61" font-size="15.21" font-weight="normal" font-style="normal" fill="#000" textLength="92.78" lengthAdjust="spacingAndGlyphs">experiment</text>
<text x="40.51" y="305.51" font-size="13.03" font-weight="bold" font-style="normal" fill="#2e8b20" stroke="#2e8b20" stroke-width="0.35" textLength="94.02" lengthAdjust="spacingAndGlyphs"><tspan font-style="italic">twisted</tspan>-1,2-DCE</text>
<text x="98.31" y="362.17" font-size="12.09" font-weight="bold" font-style="normal" fill="#1010f0" stroke="#1010f0" stroke-width="0.35" textLength="80.81" lengthAdjust="spacingAndGlyphs"><tspan font-style="italic">trans</tspan>-1,2-DCE</text>
<text x="82.89" y="462.92" font-size="11.74" font-weight="bold" font-style="normal" fill="#7e1e9c" stroke="#7e1e9c" stroke-width="0.35" textLength="45.21" lengthAdjust="spacingAndGlyphs">1,1-DCE</text>
<text x="251.95" y="423.72" font-size="11.12" font-weight="bold" font-style="normal" fill="#f81010" stroke="#f81010" stroke-width="0.35" textLength="64.38" lengthAdjust="spacingAndGlyphs"><tspan font-style="italic">cis</tspan>-1,2-DCE</text>
<text x="389.48" y="486.25" font-size="15.21" font-weight="normal" font-style="normal" fill="#000" textLength="9.97" lengthAdjust="spacingAndGlyphs">0</text>
<text x="371.74" y="448.25" font-size="15.21" font-weight="normal" font-style="normal" fill="#000" textLength="27.7" lengthAdjust="spacingAndGlyphs">500</text>
<text x="362.16" y="410.25" font-size="15.21" font-weight="normal" font-style="normal" fill="#000" textLength="37.22" lengthAdjust="spacingAndGlyphs">1000</text>
<text x="362.16" y="372.25" font-size="15.21" font-weight="normal" font-style="normal" fill="#000" textLength="37.22" lengthAdjust="spacingAndGlyphs">1500</text>
<text x="362.68" y="334.25" font-size="15.21" font-weight="normal" font-style="normal" fill="#000" textLength="36.7" lengthAdjust="spacingAndGlyphs">2000</text>
<text x="362.68" y="296.25" font-size="15.21" font-weight="normal" font-style="normal" fill="#000" textLength="36.7" lengthAdjust="spacingAndGlyphs">2500</text>
<text x="433.73" y="494.16" font-size="14.39" font-weight="normal" font-style="normal" fill="#000" textLength="37.02" lengthAdjust="spacingAndGlyphs">trans</text>
<text x="533.12" y="494.36" font-size="14.19" font-weight="normal" font-style="normal" fill="#000" textLength="20.72" lengthAdjust="spacingAndGlyphs">cis</text>
<text x="610.69" y="494.46" font-size="13.92" font-weight="normal" font-style="normal" fill="#000" textLength="48.68" lengthAdjust="spacingAndGlyphs">Others</text>
<text x="356.26" y="234.28" font-size="21.06" font-weight="bold" font-style="normal" fill="#000" textLength="26.51" lengthAdjust="spacingAndGlyphs">(d)</text>
<text x="402.29" y="257.84" font-size="14.57" font-weight="normal" font-style="normal" fill="#000" textLength="73.12" lengthAdjust="spacingAndGlyphs">Clustering</text>
<text x="480.45" y="257.84" font-size="14.57" font-weight="normal" font-style="normal" fill="#000" textLength="47.96" lengthAdjust="spacingAndGlyphs">results</text>
<text x="533.25" y="257.84" font-size="14.57" font-weight="normal" font-style="normal" fill="#000" textLength="13.94" lengthAdjust="spacingAndGlyphs">of</text>
<text x="551.72" y="257.84" font-size="14.57" font-weight="normal" font-style="normal" fill="#000" textLength="95.19" lengthAdjust="spacingAndGlyphs">experimental</text>
<text x="651.91" y="257.84" font-size="14.57" font-weight="normal" font-style="normal" fill="#000" textLength="30.93" lengthAdjust="spacingAndGlyphs">data</text>
<text transform="translate(359.45,396.79) rotate(-90)" font-size="15.35" font-weight="normal" font-style="normal" fill="#000" textLength="49.9" lengthAdjust="spacingAndGlyphs">Counts</text>
<text x="414.45" y="287.87" font-size="12.54" font-weight="bold" font-style="normal" fill="#2f76b6" textLength="33.06" lengthAdjust="spacingAndGlyphs">2466</text>
<text x="456.55" y="287.87" font-size="12.82" font-weight="bold" font-style="normal" fill="#f57d1f" textLength="33.01" lengthAdjust="spacingAndGlyphs">2484</text>
<text x="513.44" y="390.18" font-size="12.39" font-weight="bold" font-style="normal" fill="#2f76b6" textLength="25.76" lengthAdjust="spacingAndGlyphs">957</text>
<text x="547.56" y="390.18" font-size="12.39" font-weight="bold" font-style="normal" fill="#f57d1f" textLength="34.06" lengthAdjust="spacingAndGlyphs">1139</text>
<text x="605.55" y="460.07" font-size="12.54" font-weight="bold" font-style="normal" fill="#2f76b6" textLength="25.13" lengthAdjust="spacingAndGlyphs">200</text>
<text x="639.15" y="460.07" font-size="12.54" font-weight="bold" font-style="normal" fill="#f57d1f" textLength="9.04" lengthAdjust="spacingAndGlyphs">0</text>
<text x="585.05" y="287.49" font-size="15.74" font-weight="normal" font-style="normal" fill="#000" textLength="79.85" lengthAdjust="spacingAndGlyphs">clustering</text>
<text x="585.61" y="311.43" font-size="17.16" font-weight="normal" font-style="normal" fill="#000" textLength="32.54" lengthAdjust="spacingAndGlyphs">true</text>
<text x="623.53" y="311.43" font-size="17.16" font-weight="normal" font-style="normal" fill="#000" textLength="46.55" lengthAdjust="spacingAndGlyphs">labels</text>
</svg></body></html>
